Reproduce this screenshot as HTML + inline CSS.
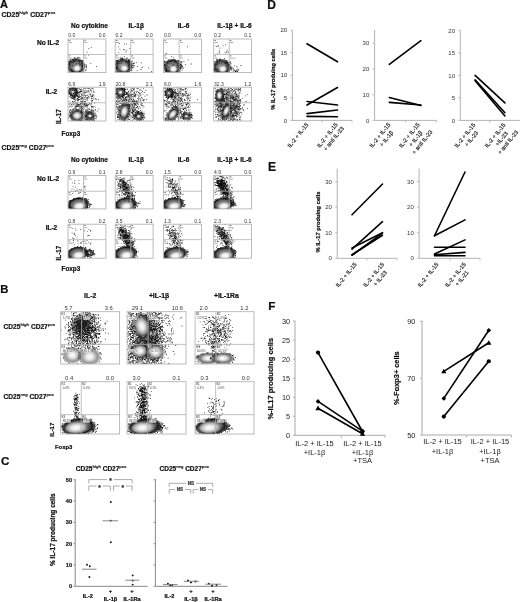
<!DOCTYPE html><html><head><meta charset="utf-8"><style>html,body{margin:0;padding:0;background:#fff;width:520px;height:602px;overflow:hidden}</style></head><body><svg width="520" height="602" viewBox="0 0 520 602" font-family='"Liberation Sans", sans-serif' style="position:absolute;left:0;top:0;filter:blur(0.3px)">
<defs>
<filter id="soft" x="-5%" y="-5%" width="110%" height="110%"><feGaussianBlur stdDeviation="0.4"/></filter>
<radialGradient id="halo" cx="50%" cy="50%" r="50%">
<stop offset="0" stop-color="#111" stop-opacity="0.95"/>
<stop offset="0.65" stop-color="#151515" stop-opacity="0.9"/>
<stop offset="0.85" stop-color="#222" stop-opacity="0.55"/>
<stop offset="1" stop-color="#333" stop-opacity="0"/>
</radialGradient>
<radialGradient id="halo3" cx="50%" cy="50%" r="50%">
<stop offset="0" stop-color="#555" stop-opacity="0.4"/>
<stop offset="0.45" stop-color="#333" stop-opacity="0.65"/>
<stop offset="0.7" stop-color="#1a1a1a" stop-opacity="0.82"/>
<stop offset="0.88" stop-color="#222" stop-opacity="0.6"/>
<stop offset="1" stop-color="#333" stop-opacity="0"/>
</radialGradient>
<radialGradient id="halo4" cx="50%" cy="50%" r="50%">
<stop offset="0" stop-color="#555" stop-opacity="0.5"/>
<stop offset="0.6" stop-color="#2a2a2a" stop-opacity="0.75"/>
<stop offset="0.8" stop-color="#111" stop-opacity="0.95"/>
<stop offset="0.92" stop-color="#222" stop-opacity="0.6"/>
<stop offset="1" stop-color="#333" stop-opacity="0"/>
</radialGradient>
<radialGradient id="halo2" cx="50%" cy="50%" r="50%">
<stop offset="0" stop-color="#333" stop-opacity="0.8"/>
<stop offset="0.6" stop-color="#2a2a2a" stop-opacity="0.8"/>
<stop offset="0.85" stop-color="#333" stop-opacity="0.45"/>
<stop offset="1" stop-color="#444" stop-opacity="0"/>
</radialGradient>
<radialGradient id="light2" cx="50%" cy="50%" r="50%">
<stop offset="0" stop-color="#fff" stop-opacity="1"/>
<stop offset="0.35" stop-color="#f0f0f0" stop-opacity="0.95"/>
<stop offset="0.7" stop-color="#c8c8c8" stop-opacity="0.7"/>
<stop offset="1" stop-color="#999" stop-opacity="0"/>
</radialGradient>
<radialGradient id="light" cx="50%" cy="50%" r="50%">
<stop offset="0" stop-color="#fff" stop-opacity="1"/>
<stop offset="0.45" stop-color="#f2f2f2" stop-opacity="0.95"/>
<stop offset="0.75" stop-color="#bbb" stop-opacity="0.6"/>
<stop offset="1" stop-color="#888" stop-opacity="0"/>
</radialGradient>
</defs>
<rect width="520" height="602" fill="#fff"/>
<text x="0.0" y="8.1" font-size="11" font-weight="bold" stroke="#111" stroke-width="0.22" text-anchor="start" fill="#111">A</text>
<text x="1.6" y="16.6" font-size="6.9" font-weight="bold" stroke="#111" stroke-width="0.2" text-anchor="start" fill="#111">CD25<tspan font-size="4.28" dy="-2.90" stroke-width="0.1">high</tspan><tspan dy="2.90"> CD27</tspan><tspan font-size="4.28" dy="-2.90" stroke-width="0.1">pos</tspan></text>
<text x="89.4" y="28.3" font-size="6.5" font-weight="bold" stroke="#111" stroke-width="0.22" text-anchor="middle" fill="#111">No cytokine</text>
<text x="136.2" y="28.3" font-size="6.5" font-weight="bold" stroke="#111" stroke-width="0.22" text-anchor="middle" fill="#111">IL-1&#946;</text>
<text x="183.6" y="28.3" font-size="6.5" font-weight="bold" stroke="#111" stroke-width="0.22" text-anchor="middle" fill="#111">IL-6</text>
<text x="234.5" y="28.3" font-size="6.5" font-weight="bold" stroke="#111" stroke-width="0.22" text-anchor="middle" fill="#111">IL-1&#946; + IL-6</text>
<text x="59.3" y="44.7" font-size="6.6" font-weight="bold" stroke="#111" stroke-width="0.22" text-anchor="end" fill="#111">No IL-2</text>
<text x="57.2" y="93.5" font-size="6.5" font-weight="bold" stroke="#111" stroke-width="0.22" text-anchor="end" fill="#111">IL-2</text>
<text x="61.0" y="124.0" font-size="6.3" font-weight="bold" stroke="#111" stroke-width="0.22" text-anchor="start" fill="#111" transform="rotate(-90 61.0 124.0)">IL-17</text>
<text x="61.6" y="135.9" font-size="6.3" font-weight="bold" stroke="#111" stroke-width="0.22" text-anchor="start" fill="#111">Foxp3</text>
<text x="1.6" y="150.2" font-size="6.9" font-weight="bold" stroke="#111" stroke-width="0.2" text-anchor="start" fill="#111">CD25<tspan font-size="4.28" dy="-2.90" stroke-width="0.1">neg</tspan><tspan dy="2.90"> CD27</tspan><tspan font-size="4.28" dy="-2.90" stroke-width="0.1">pos</tspan></text>
<text x="89.4" y="161.9" font-size="6.5" font-weight="bold" stroke="#111" stroke-width="0.22" text-anchor="middle" fill="#111">No cytokine</text>
<text x="136.2" y="161.9" font-size="6.5" font-weight="bold" stroke="#111" stroke-width="0.22" text-anchor="middle" fill="#111">IL-1&#946;</text>
<text x="183.6" y="161.9" font-size="6.5" font-weight="bold" stroke="#111" stroke-width="0.22" text-anchor="middle" fill="#111">IL-6</text>
<text x="234.5" y="161.9" font-size="6.5" font-weight="bold" stroke="#111" stroke-width="0.22" text-anchor="middle" fill="#111">IL-1&#946; + IL-6</text>
<text x="59.3" y="181.10000000000002" font-size="6.6" font-weight="bold" stroke="#111" stroke-width="0.22" text-anchor="end" fill="#111">No IL-2</text>
<text x="57.2" y="229.9" font-size="6.5" font-weight="bold" stroke="#111" stroke-width="0.22" text-anchor="end" fill="#111">IL-2</text>
<text x="61.0" y="260.4" font-size="6.3" font-weight="bold" stroke="#111" stroke-width="0.22" text-anchor="start" fill="#111" transform="rotate(-90 61.0 260.4)">IL-17</text>
<text x="61.6" y="270.5" font-size="6.3" font-weight="bold" stroke="#111" stroke-width="0.22" text-anchor="start" fill="#111">Foxp3</text>
<text x="68.3" y="37.4" font-size="5" text-anchor="start" fill="#333">0.0</text>
<text x="105.60000000000001" y="37.4" font-size="5" text-anchor="end" fill="#333">0.0</text>
<svg x="68.0" y="39.0" width="37.9" height="33.6" viewBox="0 0 37.9 33.6" overflow="hidden"><g filter="url(#soft)">
<path d="M20.3 15.6h0.8v0.8h-0.8zM20.5 9.2h0.8v0.8h-0.8zM28.1 26.9h0.8v0.8h-0.8zM22.9 7.9h0.8v0.8h-0.8zM18.7 12.7h0.8v0.8h-0.8zM9.9 30.6h0.8v0.8h-0.8z" fill="#111"/>
<path d="M11.0 25.2h0.8v0.8h-0.8zM13.8 21.7h0.8v0.8h-0.8zM6.5 27.1h0.8v0.8h-0.8zM7.0 21.9h0.8v0.8h-0.8zM6.6 20.6h0.8v0.8h-0.8zM15.1 29.5h0.8v0.8h-0.8zM22.4 24.2h0.8v0.8h-0.8zM8.4 24.5h0.8v0.8h-0.8zM12.1 25.2h0.8v0.8h-0.8zM13.4 24.2h0.8v0.8h-0.8zM2.5 30.6h0.8v0.8h-0.8zM7.0 29.1h0.8v0.8h-0.8zM7.8 25.7h0.8v0.8h-0.8zM1.3 21.9h0.8v0.8h-0.8zM11.4 27.2h0.8v0.8h-0.8zM8.3 25.7h0.8v0.8h-0.8zM0.4 25.3h0.8v0.8h-0.8zM6.1 21.7h0.8v0.8h-0.8zM11.2 23.7h0.8v0.8h-0.8zM5.1 23.9h0.8v0.8h-0.8zM7.5 24.2h0.8v0.8h-0.8zM9.8 23.7h0.8v0.8h-0.8zM14.0 30.5h0.8v0.8h-0.8zM14.4 24.0h0.8v0.8h-0.8zM6.3 26.5h0.8v0.8h-0.8zM8.4 29.8h0.8v0.8h-0.8zM10.6 26.7h0.8v0.8h-0.8zM6.6 25.8h0.8v0.8h-0.8zM4.0 20.2h0.8v0.8h-0.8zM10.4 21.4h0.8v0.8h-0.8zM6.4 28.1h0.8v0.8h-0.8zM17.3 25.4h0.8v0.8h-0.8zM7.4 27.8h0.8v0.8h-0.8zM14.2 27.0h0.8v0.8h-0.8zM5.2 23.5h0.8v0.8h-0.8zM14.5 21.5h0.8v0.8h-0.8zM9.8 29.3h0.8v0.8h-0.8zM14.5 23.0h0.8v0.8h-0.8zM8.1 24.5h0.8v0.8h-0.8zM4.0 25.4h0.8v0.8h-0.8zM5.3 27.2h0.8v0.8h-0.8zM4.2 23.1h0.8v0.8h-0.8zM6.5 25.3h0.8v0.8h-0.8zM8.3 25.7h0.8v0.8h-0.8zM15.6 25.3h0.8v0.8h-0.8zM11.5 25.7h0.8v0.8h-0.8zM13.7 27.5h0.8v0.8h-0.8zM15.1 25.0h0.8v0.8h-0.8zM4.4 26.1h0.8v0.8h-0.8z" fill="#111"/>
<ellipse cx="7.96" cy="27.22" rx="9.85" ry="8.40" fill="url(#halo3)" opacity="1.0" transform="rotate(0 7.96 27.22)"/>
<path d="M-0.2 27.2h0.8v0.8h-0.8zM6.4 18.5h0.8v0.8h-0.8zM5.4 20.8h0.8v0.8h-0.8zM1.8 20.1h0.8v0.8h-0.8zM12.0 32.2h0.8v0.8h-0.8zM1.1 21.8h0.8v0.8h-0.8zM2.5 21.4h0.8v0.8h-0.8zM11.9 21.0h0.8v0.8h-0.8zM11.7 18.7h0.8v0.8h-0.8zM-1.4 30.6h0.8v0.8h-0.8zM5.9 18.6h0.8v0.8h-0.8zM17.9 29.8h0.8v0.8h-0.8zM9.1 18.2h0.8v0.8h-0.8zM15.2 26.5h0.8v0.8h-0.8zM4.8 22.3h0.8v0.8h-0.8zM-0.7 22.2h0.8v0.8h-0.8zM10.7 33.3h0.8v0.8h-0.8zM14.0 30.0h0.8v0.8h-0.8zM9.6 32.5h0.8v0.8h-0.8zM18.2 27.2h0.8v0.8h-0.8zM-1.4 29.1h0.8v0.8h-0.8zM5.1 20.4h0.8v0.8h-0.8zM-0.2 30.8h0.8v0.8h-0.8zM1.2 25.1h0.8v0.8h-0.8zM2.0 33.0h0.8v0.8h-0.8zM3.1 23.0h0.8v0.8h-0.8zM0.1 21.7h0.8v0.8h-0.8zM14.3 21.6h0.8v0.8h-0.8zM15.2 30.1h0.8v0.8h-0.8zM13.2 30.0h0.8v0.8h-0.8zM7.7 34.2h0.8v0.8h-0.8zM8.5 19.5h0.8v0.8h-0.8zM6.1 35.0h0.8v0.8h-0.8zM-0.4 26.9h0.8v0.8h-0.8zM7.3 34.1h0.8v0.8h-0.8zM2.8 34.0h0.8v0.8h-0.8zM-0.1 28.0h0.8v0.8h-0.8zM-0.2 28.2h0.8v0.8h-0.8zM4.5 19.7h0.8v0.8h-0.8zM10.5 20.8h0.8v0.8h-0.8zM10.8 18.5h0.8v0.8h-0.8zM17.4 26.8h0.8v0.8h-0.8zM17.2 30.7h0.8v0.8h-0.8zM11.1 22.8h0.8v0.8h-0.8zM4.4 32.9h0.8v0.8h-0.8zM7.4 19.6h0.8v0.8h-0.8zM6.6 32.9h0.8v0.8h-0.8zM11.1 32.0h0.8v0.8h-0.8zM10.6 18.5h0.8v0.8h-0.8zM9.8 35.2h0.8v0.8h-0.8zM14.5 25.4h0.8v0.8h-0.8zM0.7 24.2h0.8v0.8h-0.8zM18.0 25.8h0.8v0.8h-0.8zM14.8 27.8h0.8v0.8h-0.8zM13.0 21.1h0.8v0.8h-0.8zM-1.8 26.0h0.8v0.8h-0.8zM8.9 18.2h0.8v0.8h-0.8zM5.1 31.9h0.8v0.8h-0.8zM5.8 22.3h0.8v0.8h-0.8zM-1.4 23.8h0.8v0.8h-0.8zM0.9 31.8h0.8v0.8h-0.8zM11.1 32.2h0.8v0.8h-0.8zM-0.0 21.9h0.8v0.8h-0.8zM14.0 27.2h0.8v0.8h-0.8zM15.4 23.8h0.8v0.8h-0.8zM3.4 32.7h0.8v0.8h-0.8zM1.2 24.2h0.8v0.8h-0.8zM14.2 34.1h0.8v0.8h-0.8zM5.6 19.9h0.8v0.8h-0.8zM6.1 18.2h0.8v0.8h-0.8zM12.5 34.8h0.8v0.8h-0.8zM11.3 21.4h0.8v0.8h-0.8zM0.3 24.7h0.8v0.8h-0.8zM10.7 33.7h0.8v0.8h-0.8zM14.0 34.5h0.8v0.8h-0.8zM11.4 34.3h0.8v0.8h-0.8zM-1.7 23.3h0.8v0.8h-0.8zM10.0 20.9h0.8v0.8h-0.8zM3.6 30.9h0.8v0.8h-0.8zM15.0 29.2h0.8v0.8h-0.8zM13.8 25.6h0.8v0.8h-0.8zM12.0 34.1h0.8v0.8h-0.8zM3.6 31.7h0.8v0.8h-0.8zM13.8 25.5h0.8v0.8h-0.8zM1.4 23.3h0.8v0.8h-0.8zM4.1 32.1h0.8v0.8h-0.8zM12.1 33.0h0.8v0.8h-0.8zM8.1 20.2h0.8v0.8h-0.8zM9.7 18.6h0.8v0.8h-0.8zM12.7 35.0h0.8v0.8h-0.8zM1.0 23.9h0.8v0.8h-0.8zM-2.3 26.5h0.8v0.8h-0.8zM3.0 30.6h0.8v0.8h-0.8zM14.2 25.8h0.8v0.8h-0.8zM15.4 32.2h0.8v0.8h-0.8zM5.2 33.0h0.8v0.8h-0.8zM1.9 20.1h0.8v0.8h-0.8zM2.1 34.5h0.8v0.8h-0.8zM1.5 22.0h0.8v0.8h-0.8zM2.1 26.2h0.8v0.8h-0.8zM13.0 33.8h0.8v0.8h-0.8zM5.7 22.1h0.8v0.8h-0.8zM2.6 21.9h0.8v0.8h-0.8zM1.0 24.1h0.8v0.8h-0.8zM9.5 33.6h0.8v0.8h-0.8zM14.7 26.1h0.8v0.8h-0.8zM13.5 21.7h0.8v0.8h-0.8zM16.8 31.0h0.8v0.8h-0.8zM17.9 28.1h0.8v0.8h-0.8zM2.4 34.8h0.8v0.8h-0.8z" fill="#111"/>
<ellipse cx="9.10" cy="29.23" rx="4.73" ry="4.03" fill="url(#light)" transform="rotate(0 9.10 29.23)"/>
</g></svg>
<rect x="68.0" y="39.0" width="37.9" height="33.6" fill="none" stroke="#b0b0b0" stroke-width="0.85"/>
<line x1="83.539" y1="39.0" x2="83.539" y2="72.6" stroke="#b0b0b0" stroke-width="0.8"/>
<line x1="68.0" y1="54.456" x2="105.9" y2="54.456" stroke="#b0b0b0" stroke-width="0.8"/>
<rect x="68.8" y="40.0" width="1.4" height="0.8" fill="#555"/>
<rect x="68.8" y="42.2" width="3" height="0.7" fill="#888"/>
<rect x="84.3" y="40.0" width="1.4" height="0.8" fill="#555"/>
<rect x="84.3" y="42.2" width="3" height="0.7" fill="#888"/>
<rect x="68.8" y="55.5" width="1.4" height="0.8" fill="#555"/>
<rect x="68.8" y="57.7" width="3" height="0.7" fill="#888"/>
<rect x="84.3" y="55.5" width="1.4" height="0.8" fill="#555"/>
<rect x="84.3" y="57.7" width="3" height="0.7" fill="#888"/>
<text x="115.5" y="37.4" font-size="5" text-anchor="start" fill="#333">0.2</text>
<text x="152.79999999999998" y="37.4" font-size="5" text-anchor="end" fill="#333">0.0</text>
<svg x="115.2" y="39.0" width="37.9" height="33.6" viewBox="0 0 37.9 33.6" overflow="hidden"><g filter="url(#soft)">
<path d="M7.9 10.2h0.8v0.8h-0.8zM14.2 9.2h0.8v0.8h-0.8zM8.6 10.5h0.8v0.8h-0.8zM4.3 9.7h0.8v0.8h-0.8zM10.3 12.8h0.8v0.8h-0.8zM3.1 7.4h0.8v0.8h-0.8zM3.1 13.0h0.8v0.8h-0.8zM11.1 4.5h0.8v0.8h-0.8zM14.9 14.7h0.8v0.8h-0.8zM10.6 10.9h0.8v0.8h-0.8zM4.0 4.2h0.8v0.8h-0.8zM8.9 4.7h0.8v0.8h-0.8z" fill="#111"/>
<path d="M20.7 23.0h0.8v0.8h-0.8zM17.6 25.6h0.8v0.8h-0.8zM25.4 30.1h0.8v0.8h-0.8zM26.9 27.7h0.8v0.8h-0.8zM26.5 28.0h0.8v0.8h-0.8zM25.7 23.4h0.8v0.8h-0.8zM36.0 31.9h0.8v0.8h-0.8zM33.0 28.5h0.8v0.8h-0.8z" fill="#111"/>
<path d="M8.1 27.4h0.8v0.8h-0.8zM9.0 26.4h0.8v0.8h-0.8zM10.0 21.8h0.8v0.8h-0.8zM12.3 22.5h0.8v0.8h-0.8zM18.7 23.5h0.8v0.8h-0.8zM12.9 25.2h0.8v0.8h-0.8zM14.2 23.2h0.8v0.8h-0.8zM14.4 24.8h0.8v0.8h-0.8zM15.7 27.3h0.8v0.8h-0.8zM10.2 22.6h0.8v0.8h-0.8zM13.3 26.8h0.8v0.8h-0.8zM17.6 23.9h0.8v0.8h-0.8zM12.2 26.9h0.8v0.8h-0.8zM10.9 25.9h0.8v0.8h-0.8zM10.4 23.2h0.8v0.8h-0.8zM4.5 23.9h0.8v0.8h-0.8zM12.4 30.3h0.8v0.8h-0.8zM14.3 28.7h0.8v0.8h-0.8zM13.3 27.5h0.8v0.8h-0.8zM10.4 27.8h0.8v0.8h-0.8zM18.2 24.1h0.8v0.8h-0.8zM6.1 31.8h0.8v0.8h-0.8zM10.7 28.5h0.8v0.8h-0.8zM13.8 21.4h0.8v0.8h-0.8zM21.5 31.2h0.8v0.8h-0.8zM10.3 27.7h0.8v0.8h-0.8zM10.1 22.2h0.8v0.8h-0.8zM8.9 26.5h0.8v0.8h-0.8zM15.0 27.6h0.8v0.8h-0.8zM9.8 29.8h0.8v0.8h-0.8zM5.7 27.9h0.8v0.8h-0.8zM15.0 24.2h0.8v0.8h-0.8zM0.7 22.2h0.8v0.8h-0.8zM10.6 27.0h0.8v0.8h-0.8zM17.1 21.8h0.8v0.8h-0.8zM9.5 27.4h0.8v0.8h-0.8zM8.7 17.2h0.8v0.8h-0.8zM13.4 33.0h0.8v0.8h-0.8zM14.4 22.1h0.8v0.8h-0.8zM7.4 25.9h0.8v0.8h-0.8zM21.7 27.3h0.8v0.8h-0.8zM10.0 30.4h0.8v0.8h-0.8zM9.1 31.5h0.8v0.8h-0.8zM6.1 23.6h0.8v0.8h-0.8zM13.0 30.0h0.8v0.8h-0.8zM12.7 26.2h0.8v0.8h-0.8zM0.5 22.8h0.8v0.8h-0.8zM6.5 23.4h0.8v0.8h-0.8zM12.4 24.1h0.8v0.8h-0.8zM13.4 25.5h0.8v0.8h-0.8z" fill="#111"/>
<ellipse cx="7.96" cy="27.22" rx="9.85" ry="8.40" fill="url(#halo3)" opacity="1.0" transform="rotate(0 7.96 27.22)"/>
<path d="M2.1 29.0h0.8v0.8h-0.8zM11.4 33.1h0.8v0.8h-0.8zM2.1 24.8h0.8v0.8h-0.8zM1.3 33.9h0.8v0.8h-0.8zM17.0 26.3h0.8v0.8h-0.8zM4.8 20.2h0.8v0.8h-0.8zM11.8 31.2h0.8v0.8h-0.8zM18.3 28.2h0.8v0.8h-0.8zM4.7 18.6h0.8v0.8h-0.8zM16.9 28.2h0.8v0.8h-0.8zM-1.5 28.1h0.8v0.8h-0.8zM3.4 35.6h0.8v0.8h-0.8zM15.6 30.6h0.8v0.8h-0.8zM7.1 18.4h0.8v0.8h-0.8zM7.2 19.2h0.8v0.8h-0.8zM10.8 18.7h0.8v0.8h-0.8zM2.4 33.6h0.8v0.8h-0.8zM16.2 22.1h0.8v0.8h-0.8zM-0.5 31.4h0.8v0.8h-0.8zM13.7 21.6h0.8v0.8h-0.8zM2.4 22.5h0.8v0.8h-0.8zM0.2 23.4h0.8v0.8h-0.8zM15.9 30.9h0.8v0.8h-0.8zM18.2 26.8h0.8v0.8h-0.8zM6.9 20.6h0.8v0.8h-0.8zM7.1 19.8h0.8v0.8h-0.8zM-1.4 30.3h0.8v0.8h-0.8zM16.3 31.3h0.8v0.8h-0.8zM16.7 28.6h0.8v0.8h-0.8zM1.0 27.9h0.8v0.8h-0.8zM5.3 20.5h0.8v0.8h-0.8zM0.1 21.3h0.8v0.8h-0.8zM7.7 32.3h0.8v0.8h-0.8zM5.0 34.7h0.8v0.8h-0.8zM9.9 32.7h0.8v0.8h-0.8zM15.6 22.9h0.8v0.8h-0.8zM-1.7 30.4h0.8v0.8h-0.8zM3.7 34.2h0.8v0.8h-0.8zM10.5 33.7h0.8v0.8h-0.8zM11.5 18.9h0.8v0.8h-0.8zM13.7 22.7h0.8v0.8h-0.8zM1.5 24.0h0.8v0.8h-0.8zM13.4 32.6h0.8v0.8h-0.8zM13.2 19.9h0.8v0.8h-0.8zM5.4 18.5h0.8v0.8h-0.8zM6.8 32.9h0.8v0.8h-0.8zM1.0 29.1h0.8v0.8h-0.8zM9.7 33.8h0.8v0.8h-0.8zM2.1 22.2h0.8v0.8h-0.8zM3.9 35.1h0.8v0.8h-0.8zM16.0 26.4h0.8v0.8h-0.8zM13.4 29.6h0.8v0.8h-0.8zM12.2 23.5h0.8v0.8h-0.8zM5.7 20.0h0.8v0.8h-0.8zM4.4 35.0h0.8v0.8h-0.8zM14.5 27.9h0.8v0.8h-0.8zM2.2 28.7h0.8v0.8h-0.8zM11.4 21.9h0.8v0.8h-0.8zM11.8 31.3h0.8v0.8h-0.8zM2.4 22.2h0.8v0.8h-0.8zM1.7 21.5h0.8v0.8h-0.8zM11.7 18.7h0.8v0.8h-0.8zM5.2 21.8h0.8v0.8h-0.8zM1.2 28.1h0.8v0.8h-0.8zM16.2 27.7h0.8v0.8h-0.8zM6.4 21.6h0.8v0.8h-0.8zM6.9 33.6h0.8v0.8h-0.8zM5.2 20.4h0.8v0.8h-0.8zM0.7 21.8h0.8v0.8h-0.8zM0.3 32.4h0.8v0.8h-0.8zM13.2 24.2h0.8v0.8h-0.8zM16.6 23.9h0.8v0.8h-0.8zM13.5 32.3h0.8v0.8h-0.8zM0.6 20.9h0.8v0.8h-0.8zM1.7 32.4h0.8v0.8h-0.8zM15.1 21.4h0.8v0.8h-0.8zM15.7 24.8h0.8v0.8h-0.8zM3.9 22.4h0.8v0.8h-0.8zM6.2 18.9h0.8v0.8h-0.8zM2.0 21.0h0.8v0.8h-0.8zM10.3 35.8h0.8v0.8h-0.8zM18.6 26.1h0.8v0.8h-0.8zM-1.6 25.3h0.8v0.8h-0.8zM3.5 35.2h0.8v0.8h-0.8zM12.7 22.1h0.8v0.8h-0.8zM15.0 30.6h0.8v0.8h-0.8zM-1.3 24.6h0.8v0.8h-0.8zM1.9 27.6h0.8v0.8h-0.8zM10.2 22.3h0.8v0.8h-0.8zM10.0 21.7h0.8v0.8h-0.8zM3.0 34.4h0.8v0.8h-0.8zM12.2 31.6h0.8v0.8h-0.8zM-1.5 26.4h0.8v0.8h-0.8zM12.9 20.5h0.8v0.8h-0.8zM15.8 24.8h0.8v0.8h-0.8zM14.0 25.5h0.8v0.8h-0.8zM9.5 34.4h0.8v0.8h-0.8zM5.6 35.1h0.8v0.8h-0.8zM2.5 21.7h0.8v0.8h-0.8zM12.8 21.1h0.8v0.8h-0.8zM5.0 33.4h0.8v0.8h-0.8zM13.8 19.9h0.8v0.8h-0.8zM10.6 35.5h0.8v0.8h-0.8zM16.3 25.8h0.8v0.8h-0.8zM1.8 24.6h0.8v0.8h-0.8zM-0.2 25.6h0.8v0.8h-0.8zM3.2 24.0h0.8v0.8h-0.8zM16.3 25.8h0.8v0.8h-0.8zM-0.0 32.1h0.8v0.8h-0.8zM0.3 24.5h0.8v0.8h-0.8z" fill="#111"/>
<ellipse cx="9.10" cy="29.23" rx="4.73" ry="4.03" fill="url(#light)" transform="rotate(0 9.10 29.23)"/>
</g></svg>
<rect x="115.2" y="39.0" width="37.9" height="33.6" fill="none" stroke="#b0b0b0" stroke-width="0.85"/>
<line x1="130.739" y1="39.0" x2="130.739" y2="72.6" stroke="#b0b0b0" stroke-width="0.8"/>
<line x1="115.2" y1="54.456" x2="153.1" y2="54.456" stroke="#b0b0b0" stroke-width="0.8"/>
<rect x="116.0" y="40.0" width="1.4" height="0.8" fill="#555"/>
<rect x="116.0" y="42.2" width="3" height="0.7" fill="#888"/>
<rect x="131.5" y="40.0" width="1.4" height="0.8" fill="#555"/>
<rect x="131.5" y="42.2" width="3" height="0.7" fill="#888"/>
<rect x="116.0" y="55.5" width="1.4" height="0.8" fill="#555"/>
<rect x="116.0" y="57.7" width="3" height="0.7" fill="#888"/>
<rect x="131.5" y="55.5" width="1.4" height="0.8" fill="#555"/>
<rect x="131.5" y="57.7" width="3" height="0.7" fill="#888"/>
<text x="163.9" y="37.4" font-size="5" text-anchor="start" fill="#333">0.0</text>
<text x="201.2" y="37.4" font-size="5" text-anchor="end" fill="#333">0.0</text>
<svg x="163.6" y="39.0" width="37.9" height="33.6" viewBox="0 0 37.9 33.6" overflow="hidden"><g filter="url(#soft)">
<path d="M17.2 22.1h0.8v0.8h-0.8zM23.4 7.4h0.8v0.8h-0.8zM2.2 14.1h0.8v0.8h-0.8zM10.7 26.5h0.8v0.8h-0.8zM24.1 20.5h0.8v0.8h-0.8zM19.9 22.2h0.8v0.8h-0.8z" fill="#111"/>
<path d="M12.7 28.7h0.8v0.8h-0.8zM15.1 32.1h0.8v0.8h-0.8zM18.0 28.1h0.8v0.8h-0.8zM16.2 28.2h0.8v0.8h-0.8zM6.9 28.8h0.8v0.8h-0.8zM10.0 25.3h0.8v0.8h-0.8zM19.6 28.7h0.8v0.8h-0.8zM7.3 25.8h0.8v0.8h-0.8zM21.4 25.2h0.8v0.8h-0.8zM13.4 28.2h0.8v0.8h-0.8zM12.3 28.1h0.8v0.8h-0.8zM7.3 24.5h0.8v0.8h-0.8zM9.0 24.8h0.8v0.8h-0.8zM13.8 31.3h0.8v0.8h-0.8zM5.3 27.9h0.8v0.8h-0.8zM4.9 23.7h0.8v0.8h-0.8zM8.6 26.4h0.8v0.8h-0.8zM7.6 17.2h0.8v0.8h-0.8zM16.7 25.1h0.8v0.8h-0.8zM6.6 28.4h0.8v0.8h-0.8zM6.8 21.2h0.8v0.8h-0.8zM12.2 27.5h0.8v0.8h-0.8zM5.6 28.9h0.8v0.8h-0.8zM11.6 22.2h0.8v0.8h-0.8zM18.5 27.0h0.8v0.8h-0.8zM4.1 27.6h0.8v0.8h-0.8zM10.4 29.4h0.8v0.8h-0.8zM3.0 29.6h0.8v0.8h-0.8zM14.5 28.4h0.8v0.8h-0.8zM12.8 30.5h0.8v0.8h-0.8zM13.3 26.5h0.8v0.8h-0.8zM5.6 29.8h0.8v0.8h-0.8zM14.6 27.1h0.8v0.8h-0.8zM10.5 28.5h0.8v0.8h-0.8zM15.0 32.5h0.8v0.8h-0.8zM7.4 27.5h0.8v0.8h-0.8zM9.4 18.5h0.8v0.8h-0.8zM13.4 26.0h0.8v0.8h-0.8zM10.1 22.8h0.8v0.8h-0.8zM9.5 26.3h0.8v0.8h-0.8zM16.1 27.0h0.8v0.8h-0.8zM27.1 24.6h0.8v0.8h-0.8zM8.4 25.9h0.8v0.8h-0.8zM5.7 31.2h0.8v0.8h-0.8zM12.9 21.7h0.8v0.8h-0.8zM10.2 30.0h0.8v0.8h-0.8zM2.6 26.5h0.8v0.8h-0.8z" fill="#111"/>
<ellipse cx="8.72" cy="27.89" rx="9.85" ry="8.40" fill="url(#halo3)" opacity="1.0" transform="rotate(0 8.72 27.89)"/>
<path d="M14.0 24.4h0.8v0.8h-0.8zM6.1 36.3h0.8v0.8h-0.8zM6.8 36.8h0.8v0.8h-0.8zM-0.6 27.1h0.8v0.8h-0.8zM6.8 22.2h0.8v0.8h-0.8zM7.2 33.9h0.8v0.8h-0.8zM4.9 20.6h0.8v0.8h-0.8zM15.7 34.3h0.8v0.8h-0.8zM2.5 30.8h0.8v0.8h-0.8zM-1.1 31.5h0.8v0.8h-0.8zM0.4 25.1h0.8v0.8h-0.8zM18.0 23.5h0.8v0.8h-0.8zM9.2 21.1h0.8v0.8h-0.8zM-0.1 23.2h0.8v0.8h-0.8zM10.9 20.6h0.8v0.8h-0.8zM4.3 33.3h0.8v0.8h-0.8zM7.9 20.5h0.8v0.8h-0.8zM18.1 28.7h0.8v0.8h-0.8zM16.8 23.1h0.8v0.8h-0.8zM17.0 22.6h0.8v0.8h-0.8zM-0.8 26.1h0.8v0.8h-0.8zM4.1 31.6h0.8v0.8h-0.8zM4.2 33.0h0.8v0.8h-0.8zM17.2 24.7h0.8v0.8h-0.8zM0.0 25.9h0.8v0.8h-0.8zM14.8 33.0h0.8v0.8h-0.8zM6.3 21.5h0.8v0.8h-0.8zM8.9 34.6h0.8v0.8h-0.8zM4.6 35.0h0.8v0.8h-0.8zM12.7 32.1h0.8v0.8h-0.8zM5.1 35.2h0.8v0.8h-0.8zM9.3 20.1h0.8v0.8h-0.8zM15.8 25.3h0.8v0.8h-0.8zM16.9 29.2h0.8v0.8h-0.8zM2.3 29.9h0.8v0.8h-0.8zM5.0 22.3h0.8v0.8h-0.8zM9.3 34.3h0.8v0.8h-0.8zM14.3 26.1h0.8v0.8h-0.8zM4.1 32.7h0.8v0.8h-0.8zM11.1 34.4h0.8v0.8h-0.8zM10.6 36.6h0.8v0.8h-0.8zM-0.6 27.8h0.8v0.8h-0.8zM13.0 33.8h0.8v0.8h-0.8zM0.8 22.6h0.8v0.8h-0.8zM8.7 34.9h0.8v0.8h-0.8zM14.8 21.1h0.8v0.8h-0.8zM9.9 35.1h0.8v0.8h-0.8zM9.3 21.2h0.8v0.8h-0.8zM4.5 21.0h0.8v0.8h-0.8zM17.2 26.6h0.8v0.8h-0.8zM5.5 22.0h0.8v0.8h-0.8zM7.9 21.5h0.8v0.8h-0.8zM1.0 27.9h0.8v0.8h-0.8zM6.4 33.1h0.8v0.8h-0.8zM10.0 35.1h0.8v0.8h-0.8zM8.6 33.1h0.8v0.8h-0.8zM11.1 22.0h0.8v0.8h-0.8zM16.9 24.9h0.8v0.8h-0.8zM0.9 33.5h0.8v0.8h-0.8zM14.7 24.0h0.8v0.8h-0.8zM15.1 33.4h0.8v0.8h-0.8zM13.6 21.5h0.8v0.8h-0.8zM10.4 21.3h0.8v0.8h-0.8zM3.4 23.7h0.8v0.8h-0.8zM2.2 31.6h0.8v0.8h-0.8zM2.8 32.3h0.8v0.8h-0.8zM11.1 22.5h0.8v0.8h-0.8zM10.7 33.8h0.8v0.8h-0.8zM17.1 26.6h0.8v0.8h-0.8zM18.2 30.7h0.8v0.8h-0.8zM15.7 21.8h0.8v0.8h-0.8zM2.7 34.2h0.8v0.8h-0.8zM6.5 33.2h0.8v0.8h-0.8zM15.4 21.5h0.8v0.8h-0.8zM11.2 36.4h0.8v0.8h-0.8zM16.1 28.9h0.8v0.8h-0.8zM15.4 28.4h0.8v0.8h-0.8zM13.6 34.8h0.8v0.8h-0.8zM6.7 33.5h0.8v0.8h-0.8zM11.7 33.7h0.8v0.8h-0.8zM14.5 22.1h0.8v0.8h-0.8zM16.1 32.6h0.8v0.8h-0.8zM0.8 26.3h0.8v0.8h-0.8zM-0.3 26.5h0.8v0.8h-0.8zM11.3 21.1h0.8v0.8h-0.8zM3.3 22.6h0.8v0.8h-0.8zM3.5 22.9h0.8v0.8h-0.8zM1.4 31.6h0.8v0.8h-0.8zM7.1 21.8h0.8v0.8h-0.8zM16.1 24.7h0.8v0.8h-0.8zM14.4 21.6h0.8v0.8h-0.8zM17.6 25.7h0.8v0.8h-0.8zM1.6 30.9h0.8v0.8h-0.8zM1.2 22.7h0.8v0.8h-0.8zM12.2 23.2h0.8v0.8h-0.8zM14.7 30.0h0.8v0.8h-0.8zM14.1 30.6h0.8v0.8h-0.8zM15.8 28.2h0.8v0.8h-0.8zM15.8 33.1h0.8v0.8h-0.8zM0.7 21.8h0.8v0.8h-0.8zM18.0 25.9h0.8v0.8h-0.8zM14.5 26.3h0.8v0.8h-0.8zM10.2 36.7h0.8v0.8h-0.8zM1.9 28.8h0.8v0.8h-0.8zM9.1 21.1h0.8v0.8h-0.8zM1.5 26.2h0.8v0.8h-0.8zM9.0 33.3h0.8v0.8h-0.8zM0.4 22.3h0.8v0.8h-0.8zM18.4 27.2h0.8v0.8h-0.8zM15.8 25.2h0.8v0.8h-0.8z" fill="#111"/>
<ellipse cx="9.85" cy="29.90" rx="4.73" ry="4.03" fill="url(#light)" transform="rotate(0 9.85 29.90)"/>
</g></svg>
<rect x="163.6" y="39.0" width="37.9" height="33.6" fill="none" stroke="#b0b0b0" stroke-width="0.85"/>
<line x1="179.13899999999998" y1="39.0" x2="179.13899999999998" y2="72.6" stroke="#b0b0b0" stroke-width="0.8"/>
<line x1="163.6" y1="54.456" x2="201.5" y2="54.456" stroke="#b0b0b0" stroke-width="0.8"/>
<rect x="164.4" y="40.0" width="1.4" height="0.8" fill="#555"/>
<rect x="164.4" y="42.2" width="3" height="0.7" fill="#888"/>
<rect x="179.9" y="40.0" width="1.4" height="0.8" fill="#555"/>
<rect x="179.9" y="42.2" width="3" height="0.7" fill="#888"/>
<rect x="164.4" y="55.5" width="1.4" height="0.8" fill="#555"/>
<rect x="164.4" y="57.7" width="3" height="0.7" fill="#888"/>
<rect x="179.9" y="55.5" width="1.4" height="0.8" fill="#555"/>
<rect x="179.9" y="57.7" width="3" height="0.7" fill="#888"/>
<text x="214.0" y="37.4" font-size="5" text-anchor="start" fill="#333">0.2</text>
<text x="251.29999999999998" y="37.4" font-size="5" text-anchor="end" fill="#333">0.1</text>
<svg x="213.7" y="39.0" width="37.9" height="33.6" viewBox="0 0 37.9 33.6" overflow="hidden"><g filter="url(#soft)">
<path d="M5.3 11.6h0.8v0.8h-0.8zM11.0 13.4h0.8v0.8h-0.8zM4.4 6.6h0.8v0.8h-0.8zM3.8 6.5h0.8v0.8h-0.8zM11.6 5.5h0.8v0.8h-0.8zM8.9 6.4h0.8v0.8h-0.8zM5.8 8.8h0.8v0.8h-0.8zM13.0 10.8h0.8v0.8h-0.8zM2.1 7.1h0.8v0.8h-0.8zM3.8 13.7h0.8v0.8h-0.8zM12.6 13.0h0.8v0.8h-0.8zM12.9 12.3h0.8v0.8h-0.8zM14.5 12.8h0.8v0.8h-0.8zM5.3 13.5h0.8v0.8h-0.8z" fill="#111"/>
<path d="M17.4 30.5h0.8v0.8h-0.8zM19.0 29.5h0.8v0.8h-0.8zM19.6 31.6h0.8v0.8h-0.8zM20.8 31.0h0.8v0.8h-0.8zM22.9 27.5h0.8v0.8h-0.8zM24.7 30.0h0.8v0.8h-0.8zM17.7 29.3h0.8v0.8h-0.8zM23.5 32.1h0.8v0.8h-0.8zM19.9 30.6h0.8v0.8h-0.8zM22.0 32.2h0.8v0.8h-0.8zM21.2 32.1h0.8v0.8h-0.8zM19.4 29.2h0.8v0.8h-0.8zM23.0 31.7h0.8v0.8h-0.8zM21.4 31.5h0.8v0.8h-0.8zM22.0 31.7h0.8v0.8h-0.8zM24.2 31.3h0.8v0.8h-0.8zM23.4 29.8h0.8v0.8h-0.8zM20.2 26.4h0.8v0.8h-0.8zM22.4 30.5h0.8v0.8h-0.8zM22.7 27.2h0.8v0.8h-0.8z" fill="#111"/>
<path d="M7.6 24.4h0.8v0.8h-0.8zM1.0 29.4h0.8v0.8h-0.8zM16.2 21.9h0.8v0.8h-0.8zM12.3 32.2h0.8v0.8h-0.8zM4.0 29.7h0.8v0.8h-0.8zM18.0 32.7h0.8v0.8h-0.8zM3.2 22.6h0.8v0.8h-0.8zM11.1 30.4h0.8v0.8h-0.8zM3.7 23.7h0.8v0.8h-0.8zM4.4 30.1h0.8v0.8h-0.8zM7.2 28.2h0.8v0.8h-0.8zM13.3 30.3h0.8v0.8h-0.8zM12.2 27.4h0.8v0.8h-0.8zM15.9 27.9h0.8v0.8h-0.8zM3.7 24.4h0.8v0.8h-0.8zM14.6 26.7h0.8v0.8h-0.8zM8.3 27.1h0.8v0.8h-0.8zM26.8 26.1h0.8v0.8h-0.8zM12.5 27.8h0.8v0.8h-0.8zM8.7 30.4h0.8v0.8h-0.8zM14.4 27.6h0.8v0.8h-0.8zM3.2 30.6h0.8v0.8h-0.8zM13.9 26.0h0.8v0.8h-0.8zM3.9 25.5h0.8v0.8h-0.8zM7.5 23.4h0.8v0.8h-0.8zM15.2 26.7h0.8v0.8h-0.8zM16.3 22.9h0.8v0.8h-0.8zM9.1 31.0h0.8v0.8h-0.8zM11.7 23.8h0.8v0.8h-0.8zM5.5 24.2h0.8v0.8h-0.8zM9.6 28.6h0.8v0.8h-0.8zM10.8 28.9h0.8v0.8h-0.8zM14.3 26.7h0.8v0.8h-0.8zM16.6 28.8h0.8v0.8h-0.8zM9.1 25.7h0.8v0.8h-0.8zM10.0 23.7h0.8v0.8h-0.8zM3.3 26.4h0.8v0.8h-0.8zM7.4 28.3h0.8v0.8h-0.8zM7.0 26.6h0.8v0.8h-0.8zM11.0 24.6h0.8v0.8h-0.8zM11.0 23.8h0.8v0.8h-0.8zM7.9 29.0h0.8v0.8h-0.8zM12.0 26.2h0.8v0.8h-0.8zM6.1 28.7h0.8v0.8h-0.8zM20.1 18.7h0.8v0.8h-0.8zM15.3 27.0h0.8v0.8h-0.8zM15.6 30.3h0.8v0.8h-0.8zM4.9 32.2h0.8v0.8h-0.8zM7.0 25.4h0.8v0.8h-0.8z" fill="#111"/>
<ellipse cx="7.96" cy="27.89" rx="9.85" ry="8.40" fill="url(#halo3)" opacity="1.0" transform="rotate(0 7.96 27.89)"/>
<path d="M15.1 28.1h0.8v0.8h-0.8zM12.5 23.7h0.8v0.8h-0.8zM0.3 28.8h0.8v0.8h-0.8zM2.4 34.8h0.8v0.8h-0.8zM10.1 35.7h0.8v0.8h-0.8zM2.7 20.1h0.8v0.8h-0.8zM-2.4 26.8h0.8v0.8h-0.8zM-0.2 30.6h0.8v0.8h-0.8zM0.7 22.0h0.8v0.8h-0.8zM13.1 24.6h0.8v0.8h-0.8zM13.5 33.4h0.8v0.8h-0.8zM11.2 21.2h0.8v0.8h-0.8zM4.7 36.5h0.8v0.8h-0.8zM6.1 33.1h0.8v0.8h-0.8zM13.7 29.5h0.8v0.8h-0.8zM7.0 22.5h0.8v0.8h-0.8zM5.8 19.4h0.8v0.8h-0.8zM17.9 27.9h0.8v0.8h-0.8zM-0.0 31.4h0.8v0.8h-0.8zM12.7 20.9h0.8v0.8h-0.8zM5.5 35.9h0.8v0.8h-0.8zM13.7 31.9h0.8v0.8h-0.8zM16.2 27.7h0.8v0.8h-0.8zM6.9 36.2h0.8v0.8h-0.8zM2.3 29.4h0.8v0.8h-0.8zM15.0 29.0h0.8v0.8h-0.8zM2.8 35.7h0.8v0.8h-0.8zM8.1 36.5h0.8v0.8h-0.8zM12.8 22.5h0.8v0.8h-0.8zM17.6 27.5h0.8v0.8h-0.8zM0.8 28.5h0.8v0.8h-0.8zM-2.1 30.0h0.8v0.8h-0.8zM1.3 26.6h0.8v0.8h-0.8zM2.1 32.8h0.8v0.8h-0.8zM11.1 34.8h0.8v0.8h-0.8zM17.7 29.7h0.8v0.8h-0.8zM10.7 32.8h0.8v0.8h-0.8zM1.7 24.5h0.8v0.8h-0.8zM14.2 23.2h0.8v0.8h-0.8zM-2.0 26.7h0.8v0.8h-0.8zM10.1 35.9h0.8v0.8h-0.8zM3.2 22.4h0.8v0.8h-0.8zM13.8 26.6h0.8v0.8h-0.8zM12.3 23.6h0.8v0.8h-0.8zM11.5 23.1h0.8v0.8h-0.8zM15.9 30.2h0.8v0.8h-0.8zM14.4 25.1h0.8v0.8h-0.8zM-0.9 28.5h0.8v0.8h-0.8zM8.3 35.1h0.8v0.8h-0.8zM16.1 28.3h0.8v0.8h-0.8zM8.4 21.4h0.8v0.8h-0.8zM9.1 33.1h0.8v0.8h-0.8zM5.5 21.4h0.8v0.8h-0.8zM16.2 23.7h0.8v0.8h-0.8zM16.4 33.1h0.8v0.8h-0.8zM17.0 24.4h0.8v0.8h-0.8zM12.5 21.0h0.8v0.8h-0.8zM6.3 20.2h0.8v0.8h-0.8zM1.9 24.6h0.8v0.8h-0.8zM14.3 33.9h0.8v0.8h-0.8zM2.9 24.9h0.8v0.8h-0.8zM2.3 22.0h0.8v0.8h-0.8zM-1.7 27.3h0.8v0.8h-0.8zM13.5 23.2h0.8v0.8h-0.8zM11.3 21.3h0.8v0.8h-0.8zM0.8 24.9h0.8v0.8h-0.8zM15.4 25.1h0.8v0.8h-0.8zM15.2 26.0h0.8v0.8h-0.8zM3.1 20.1h0.8v0.8h-0.8zM4.8 21.8h0.8v0.8h-0.8zM15.3 31.2h0.8v0.8h-0.8zM-0.6 32.2h0.8v0.8h-0.8zM10.3 18.9h0.8v0.8h-0.8zM0.4 30.1h0.8v0.8h-0.8zM-0.9 24.7h0.8v0.8h-0.8zM14.1 30.7h0.8v0.8h-0.8zM12.5 33.0h0.8v0.8h-0.8zM4.7 36.6h0.8v0.8h-0.8zM10.7 36.5h0.8v0.8h-0.8zM6.0 33.6h0.8v0.8h-0.8zM14.2 27.0h0.8v0.8h-0.8zM12.9 31.5h0.8v0.8h-0.8zM15.1 30.6h0.8v0.8h-0.8zM9.5 33.4h0.8v0.8h-0.8zM17.3 28.7h0.8v0.8h-0.8zM14.7 29.7h0.8v0.8h-0.8zM-1.5 24.4h0.8v0.8h-0.8zM2.9 21.1h0.8v0.8h-0.8zM5.0 19.9h0.8v0.8h-0.8zM12.0 23.3h0.8v0.8h-0.8zM16.4 30.4h0.8v0.8h-0.8zM-0.5 27.0h0.8v0.8h-0.8zM9.3 22.2h0.8v0.8h-0.8zM5.8 21.3h0.8v0.8h-0.8zM1.7 30.8h0.8v0.8h-0.8zM6.2 35.2h0.8v0.8h-0.8zM-1.8 24.9h0.8v0.8h-0.8zM6.2 35.8h0.8v0.8h-0.8zM15.4 32.3h0.8v0.8h-0.8zM13.4 35.2h0.8v0.8h-0.8zM15.0 26.6h0.8v0.8h-0.8zM10.5 22.3h0.8v0.8h-0.8zM5.8 33.0h0.8v0.8h-0.8zM2.0 29.9h0.8v0.8h-0.8zM5.5 20.7h0.8v0.8h-0.8zM-0.3 31.7h0.8v0.8h-0.8zM8.7 34.3h0.8v0.8h-0.8zM4.1 31.7h0.8v0.8h-0.8zM12.8 24.4h0.8v0.8h-0.8zM15.9 32.9h0.8v0.8h-0.8z" fill="#111"/>
<ellipse cx="9.10" cy="29.90" rx="4.73" ry="4.03" fill="url(#light)" transform="rotate(0 9.10 29.90)"/>
</g></svg>
<rect x="213.7" y="39.0" width="37.9" height="33.6" fill="none" stroke="#b0b0b0" stroke-width="0.85"/>
<line x1="229.23899999999998" y1="39.0" x2="229.23899999999998" y2="72.6" stroke="#b0b0b0" stroke-width="0.8"/>
<line x1="213.7" y1="54.456" x2="251.6" y2="54.456" stroke="#b0b0b0" stroke-width="0.8"/>
<rect x="214.5" y="40.0" width="1.4" height="0.8" fill="#555"/>
<rect x="214.5" y="42.2" width="3" height="0.7" fill="#888"/>
<rect x="230.0" y="40.0" width="1.4" height="0.8" fill="#555"/>
<rect x="230.0" y="42.2" width="3" height="0.7" fill="#888"/>
<rect x="214.5" y="55.5" width="1.4" height="0.8" fill="#555"/>
<rect x="214.5" y="57.7" width="3" height="0.7" fill="#888"/>
<rect x="230.0" y="55.5" width="1.4" height="0.8" fill="#555"/>
<rect x="230.0" y="57.7" width="3" height="0.7" fill="#888"/>
<text x="68.3" y="85.60000000000001" font-size="5" text-anchor="start" fill="#333">6.9</text>
<text x="105.60000000000001" y="85.60000000000001" font-size="5" text-anchor="end" fill="#333">1.9</text>
<svg x="68.0" y="87.2" width="37.9" height="33.8" viewBox="0 0 37.9 33.8" overflow="hidden"><g filter="url(#soft)">
<path d="M24.8 22.9h0.8v0.8h-0.8zM21.1 30.0h0.8v0.8h-0.8zM7.7 21.3h0.8v0.8h-0.8zM24.8 29.0h0.8v0.8h-0.8zM16.0 6.2h0.8v0.8h-0.8zM11.7 32.9h0.8v0.8h-0.8zM3.5 11.0h0.8v0.8h-0.8zM26.0 15.3h0.8v0.8h-0.8zM6.3 11.0h0.8v0.8h-0.8zM24.9 11.6h0.8v0.8h-0.8zM12.1 21.0h0.8v0.8h-0.8zM22.1 16.6h0.8v0.8h-0.8zM2.9 19.3h0.8v0.8h-0.8zM1.7 3.7h0.8v0.8h-0.8zM5.8 23.2h0.8v0.8h-0.8zM8.3 23.1h0.8v0.8h-0.8zM5.1 4.5h0.8v0.8h-0.8zM1.4 23.6h0.8v0.8h-0.8zM23.6 7.8h0.8v0.8h-0.8zM7.1 1.1h0.8v0.8h-0.8zM17.9 10.4h0.8v0.8h-0.8zM4.4 21.7h0.8v0.8h-0.8zM16.7 15.2h0.8v0.8h-0.8zM4.8 21.4h0.8v0.8h-0.8zM15.5 14.7h0.8v0.8h-0.8zM5.1 30.8h0.8v0.8h-0.8zM23.7 23.1h0.8v0.8h-0.8zM27.2 19.5h0.8v0.8h-0.8zM9.9 4.5h0.8v0.8h-0.8zM16.9 17.5h0.8v0.8h-0.8zM12.3 32.9h0.8v0.8h-0.8zM23.0 4.4h0.8v0.8h-0.8zM24.2 0.7h0.8v0.8h-0.8zM18.0 10.9h0.8v0.8h-0.8zM20.1 31.6h0.8v0.8h-0.8zM14.8 25.4h0.8v0.8h-0.8zM2.2 22.3h0.8v0.8h-0.8zM3.9 15.4h0.8v0.8h-0.8zM9.6 3.0h0.8v0.8h-0.8zM20.6 3.7h0.8v0.8h-0.8zM7.6 3.5h0.8v0.8h-0.8zM18.3 10.4h0.8v0.8h-0.8zM1.9 1.6h0.8v0.8h-0.8zM6.6 17.1h0.8v0.8h-0.8zM1.1 1.4h0.8v0.8h-0.8zM18.4 17.8h0.8v0.8h-0.8zM4.3 10.8h0.8v0.8h-0.8zM4.1 9.6h0.8v0.8h-0.8zM11.1 7.7h0.8v0.8h-0.8zM6.0 8.0h0.8v0.8h-0.8zM8.8 18.7h0.8v0.8h-0.8zM24.3 21.7h0.8v0.8h-0.8zM12.7 0.8h0.8v0.8h-0.8zM5.8 21.3h0.8v0.8h-0.8zM11.5 28.2h0.8v0.8h-0.8zM24.9 10.3h0.8v0.8h-0.8zM10.4 10.4h0.8v0.8h-0.8zM18.7 3.9h0.8v0.8h-0.8zM8.1 29.2h0.8v0.8h-0.8zM10.7 32.1h0.8v0.8h-0.8zM11.3 27.8h0.8v0.8h-0.8zM13.0 3.9h0.8v0.8h-0.8zM16.1 7.5h0.8v0.8h-0.8zM25.1 23.4h0.8v0.8h-0.8zM14.8 30.6h0.8v0.8h-0.8zM15.3 32.0h0.8v0.8h-0.8zM19.7 6.5h0.8v0.8h-0.8zM8.6 28.1h0.8v0.8h-0.8zM3.4 32.5h0.8v0.8h-0.8zM1.9 25.0h0.8v0.8h-0.8zM17.2 13.9h0.8v0.8h-0.8zM16.7 19.6h0.8v0.8h-0.8zM10.3 9.9h0.8v0.8h-0.8zM2.1 21.9h0.8v0.8h-0.8zM24.1 12.9h0.8v0.8h-0.8zM23.5 13.6h0.8v0.8h-0.8zM7.5 26.7h0.8v0.8h-0.8zM25.3 3.7h0.8v0.8h-0.8zM23.9 11.0h0.8v0.8h-0.8zM21.3 10.2h0.8v0.8h-0.8zM27.0 11.6h0.8v0.8h-0.8zM6.2 2.4h0.8v0.8h-0.8zM4.3 3.6h0.8v0.8h-0.8zM22.5 1.3h0.8v0.8h-0.8zM3.9 8.4h0.8v0.8h-0.8zM4.5 25.8h0.8v0.8h-0.8zM0.9 22.8h0.8v0.8h-0.8zM10.0 5.4h0.8v0.8h-0.8zM6.9 17.8h0.8v0.8h-0.8zM7.3 13.4h0.8v0.8h-0.8zM11.1 18.1h0.8v0.8h-0.8zM19.4 10.1h0.8v0.8h-0.8zM16.9 23.9h0.8v0.8h-0.8zM8.6 25.5h0.8v0.8h-0.8zM3.0 16.7h0.8v0.8h-0.8zM10.1 4.8h0.8v0.8h-0.8zM18.2 28.3h0.8v0.8h-0.8zM13.6 12.1h0.8v0.8h-0.8zM24.8 32.8h0.8v0.8h-0.8zM17.4 18.9h0.8v0.8h-0.8zM17.7 23.5h0.8v0.8h-0.8zM18.9 18.2h0.8v0.8h-0.8zM20.7 24.9h0.8v0.8h-0.8zM17.9 17.8h0.8v0.8h-0.8zM10.6 7.6h0.8v0.8h-0.8zM14.2 10.6h0.8v0.8h-0.8zM13.3 6.5h0.8v0.8h-0.8zM24.8 4.9h0.8v0.8h-0.8zM24.1 19.1h0.8v0.8h-0.8zM24.9 29.3h0.8v0.8h-0.8zM5.3 9.6h0.8v0.8h-0.8zM27.2 22.1h0.8v0.8h-0.8zM3.0 9.2h0.8v0.8h-0.8zM3.3 10.5h0.8v0.8h-0.8zM2.8 2.0h0.8v0.8h-0.8zM1.9 16.0h0.8v0.8h-0.8zM19.7 17.2h0.8v0.8h-0.8zM18.5 21.9h0.8v0.8h-0.8zM4.3 23.5h0.8v0.8h-0.8zM14.1 14.3h0.8v0.8h-0.8zM26.3 15.5h0.8v0.8h-0.8zM18.9 25.9h0.8v0.8h-0.8zM13.6 5.6h0.8v0.8h-0.8zM5.8 10.1h0.8v0.8h-0.8zM5.8 13.7h0.8v0.8h-0.8zM2.6 25.6h0.8v0.8h-0.8zM21.2 21.3h0.8v0.8h-0.8zM3.8 7.7h0.8v0.8h-0.8zM24.6 29.0h0.8v0.8h-0.8zM20.1 28.9h0.8v0.8h-0.8zM6.3 10.1h0.8v0.8h-0.8zM12.3 16.0h0.8v0.8h-0.8zM10.4 8.6h0.8v0.8h-0.8zM22.3 6.6h0.8v0.8h-0.8zM15.9 27.1h0.8v0.8h-0.8zM4.8 11.6h0.8v0.8h-0.8zM10.8 9.9h0.8v0.8h-0.8zM25.1 29.2h0.8v0.8h-0.8zM4.2 2.8h0.8v0.8h-0.8zM16.5 17.0h0.8v0.8h-0.8zM1.7 28.7h0.8v0.8h-0.8zM24.0 18.9h0.8v0.8h-0.8zM3.1 6.9h0.8v0.8h-0.8zM23.0 22.9h0.8v0.8h-0.8zM12.5 31.0h0.8v0.8h-0.8zM1.9 22.9h0.8v0.8h-0.8zM22.8 27.5h0.8v0.8h-0.8zM3.3 23.5h0.8v0.8h-0.8zM15.7 21.1h0.8v0.8h-0.8zM5.0 31.9h0.8v0.8h-0.8zM26.4 4.5h0.8v0.8h-0.8zM15.4 18.1h0.8v0.8h-0.8zM12.6 11.6h0.8v0.8h-0.8zM7.1 24.4h0.8v0.8h-0.8zM14.3 15.3h0.8v0.8h-0.8zM14.2 9.9h0.8v0.8h-0.8zM24.6 25.6h0.8v0.8h-0.8zM7.7 10.6h0.8v0.8h-0.8zM14.9 21.2h0.8v0.8h-0.8zM24.7 30.8h0.8v0.8h-0.8zM2.4 28.8h0.8v0.8h-0.8zM1.1 19.4h0.8v0.8h-0.8zM21.2 6.5h0.8v0.8h-0.8zM6.8 3.0h0.8v0.8h-0.8zM12.5 27.7h0.8v0.8h-0.8zM0.8 25.2h0.8v0.8h-0.8zM11.1 31.0h0.8v0.8h-0.8zM15.6 15.7h0.8v0.8h-0.8zM8.4 28.2h0.8v0.8h-0.8zM13.1 23.3h0.8v0.8h-0.8zM18.3 27.2h0.8v0.8h-0.8zM8.6 4.1h0.8v0.8h-0.8zM5.8 20.9h0.8v0.8h-0.8zM3.9 1.8h0.8v0.8h-0.8zM10.1 22.2h0.8v0.8h-0.8zM5.5 10.2h0.8v0.8h-0.8zM4.1 32.5h0.8v0.8h-0.8zM24.9 32.7h0.8v0.8h-0.8zM17.6 13.0h0.8v0.8h-0.8zM8.1 11.7h0.8v0.8h-0.8zM21.5 18.3h0.8v0.8h-0.8zM4.2 29.3h0.8v0.8h-0.8zM23.5 1.0h0.8v0.8h-0.8zM3.2 17.1h0.8v0.8h-0.8zM13.4 27.5h0.8v0.8h-0.8zM6.3 32.6h0.8v0.8h-0.8zM10.0 5.5h0.8v0.8h-0.8zM26.7 25.4h0.8v0.8h-0.8zM21.8 6.2h0.8v0.8h-0.8zM26.3 10.5h0.8v0.8h-0.8zM13.1 29.0h0.8v0.8h-0.8zM3.9 1.6h0.8v0.8h-0.8zM17.1 17.2h0.8v0.8h-0.8zM25.9 32.2h0.8v0.8h-0.8zM10.4 25.0h0.8v0.8h-0.8zM1.4 24.0h0.8v0.8h-0.8zM12.6 11.0h0.8v0.8h-0.8zM8.3 15.9h0.8v0.8h-0.8zM12.8 10.8h0.8v0.8h-0.8zM1.4 1.8h0.8v0.8h-0.8zM1.3 28.2h0.8v0.8h-0.8zM11.9 15.6h0.8v0.8h-0.8zM25.1 3.4h0.8v0.8h-0.8zM22.4 29.5h0.8v0.8h-0.8zM12.2 23.6h0.8v0.8h-0.8zM1.4 13.5h0.8v0.8h-0.8zM1.2 24.6h0.8v0.8h-0.8zM26.5 30.8h0.8v0.8h-0.8zM14.7 27.2h0.8v0.8h-0.8zM18.7 0.9h0.8v0.8h-0.8zM9.1 4.0h0.8v0.8h-0.8zM12.2 11.5h0.8v0.8h-0.8zM1.5 1.1h0.8v0.8h-0.8zM3.9 19.0h0.8v0.8h-0.8zM23.0 21.4h0.8v0.8h-0.8zM24.0 8.1h0.8v0.8h-0.8zM7.4 12.7h0.8v0.8h-0.8zM2.6 17.6h0.8v0.8h-0.8zM3.9 2.8h0.8v0.8h-0.8zM23.0 8.8h0.8v0.8h-0.8zM12.7 15.7h0.8v0.8h-0.8zM1.9 2.0h0.8v0.8h-0.8zM23.7 30.3h0.8v0.8h-0.8zM20.8 15.7h0.8v0.8h-0.8zM5.6 5.8h0.8v0.8h-0.8zM14.6 7.7h0.8v0.8h-0.8zM17.2 32.8h0.8v0.8h-0.8zM25.7 8.6h0.8v0.8h-0.8zM7.1 2.0h0.8v0.8h-0.8zM25.3 32.1h0.8v0.8h-0.8zM22.8 24.2h0.8v0.8h-0.8zM16.6 30.5h0.8v0.8h-0.8zM9.1 16.7h0.8v0.8h-0.8zM25.1 20.4h0.8v0.8h-0.8zM10.3 7.1h0.8v0.8h-0.8zM8.3 28.6h0.8v0.8h-0.8zM16.6 23.8h0.8v0.8h-0.8zM23.1 24.4h0.8v0.8h-0.8zM14.8 2.6h0.8v0.8h-0.8zM21.6 8.3h0.8v0.8h-0.8zM5.5 1.8h0.8v0.8h-0.8zM14.1 21.1h0.8v0.8h-0.8zM3.6 4.1h0.8v0.8h-0.8zM12.9 17.4h0.8v0.8h-0.8zM6.8 30.1h0.8v0.8h-0.8zM12.3 8.8h0.8v0.8h-0.8zM22.0 26.0h0.8v0.8h-0.8zM9.0 12.0h0.8v0.8h-0.8zM12.1 2.8h0.8v0.8h-0.8zM24.7 7.3h0.8v0.8h-0.8zM6.5 24.1h0.8v0.8h-0.8zM13.2 21.9h0.8v0.8h-0.8zM4.7 22.1h0.8v0.8h-0.8zM26.2 32.2h0.8v0.8h-0.8zM1.4 5.4h0.8v0.8h-0.8zM6.5 19.6h0.8v0.8h-0.8zM14.3 16.3h0.8v0.8h-0.8zM7.6 4.2h0.8v0.8h-0.8zM13.0 8.0h0.8v0.8h-0.8zM18.4 32.5h0.8v0.8h-0.8z" fill="#555"/>
<path d="M22.7 30.2h0.8v0.8h-0.8zM19.4 11.3h0.8v0.8h-0.8zM19.5 16.8h0.8v0.8h-0.8zM13.2 30.4h0.8v0.8h-0.8zM29.9 11.7h0.8v0.8h-0.8zM14.6 21.9h0.8v0.8h-0.8zM9.4 18.8h0.8v0.8h-0.8zM8.5 4.5h0.8v0.8h-0.8zM18.4 15.7h0.8v0.8h-0.8zM7.4 18.8h0.8v0.8h-0.8zM13.5 11.3h0.8v0.8h-0.8zM19.2 20.2h0.8v0.8h-0.8zM15.1 19.6h0.8v0.8h-0.8zM23.3 12.6h0.8v0.8h-0.8zM23.9 19.5h0.8v0.8h-0.8zM24.9 30.5h0.8v0.8h-0.8zM15.0 23.4h0.8v0.8h-0.8zM18.1 17.1h0.8v0.8h-0.8zM20.3 26.7h0.8v0.8h-0.8zM16.6 13.8h0.8v0.8h-0.8zM13.5 33.1h0.8v0.8h-0.8zM2.3 8.3h0.8v0.8h-0.8zM12.6 18.5h0.8v0.8h-0.8zM7.4 18.6h0.8v0.8h-0.8zM20.1 24.6h0.8v0.8h-0.8zM12.9 3.0h0.8v0.8h-0.8zM9.8 0.8h0.8v0.8h-0.8zM20.6 4.4h0.8v0.8h-0.8zM8.5 33.1h0.8v0.8h-0.8zM22.9 2.8h0.8v0.8h-0.8zM14.2 14.7h0.8v0.8h-0.8zM21.9 1.7h0.8v0.8h-0.8zM11.6 20.1h0.8v0.8h-0.8zM11.8 16.7h0.8v0.8h-0.8zM16.8 21.7h0.8v0.8h-0.8zM7.7 1.2h0.8v0.8h-0.8zM15.7 17.4h0.8v0.8h-0.8zM8.8 7.6h0.8v0.8h-0.8zM23.0 16.4h0.8v0.8h-0.8zM7.6 23.4h0.8v0.8h-0.8zM16.8 32.1h0.8v0.8h-0.8zM7.6 21.4h0.8v0.8h-0.8zM8.8 8.4h0.8v0.8h-0.8zM18.8 23.8h0.8v0.8h-0.8zM18.5 23.4h0.8v0.8h-0.8zM5.7 14.0h0.8v0.8h-0.8zM5.7 11.9h0.8v0.8h-0.8zM13.7 24.5h0.8v0.8h-0.8zM16.1 16.9h0.8v0.8h-0.8zM14.4 10.4h0.8v0.8h-0.8zM30.5 21.6h0.8v0.8h-0.8zM15.7 18.5h0.8v0.8h-0.8zM18.8 22.9h0.8v0.8h-0.8zM9.0 12.7h0.8v0.8h-0.8zM9.6 16.5h0.8v0.8h-0.8zM22.3 30.0h0.8v0.8h-0.8zM8.8 28.6h0.8v0.8h-0.8zM19.1 17.8h0.8v0.8h-0.8zM24.8 1.3h0.8v0.8h-0.8zM23.1 10.9h0.8v0.8h-0.8zM9.9 17.4h0.8v0.8h-0.8zM6.3 2.9h0.8v0.8h-0.8zM9.7 12.8h0.8v0.8h-0.8zM6.8 6.4h0.8v0.8h-0.8zM9.9 17.8h0.8v0.8h-0.8zM13.5 9.6h0.8v0.8h-0.8zM23.0 19.2h0.8v0.8h-0.8zM11.7 23.5h0.8v0.8h-0.8zM18.6 4.6h0.8v0.8h-0.8zM21.8 2.7h0.8v0.8h-0.8zM10.6 9.7h0.8v0.8h-0.8zM23.1 16.1h0.8v0.8h-0.8zM22.0 6.8h0.8v0.8h-0.8zM4.5 17.2h0.8v0.8h-0.8zM7.5 15.1h0.8v0.8h-0.8zM27.5 11.2h0.8v0.8h-0.8zM13.9 19.0h0.8v0.8h-0.8zM15.6 4.9h0.8v0.8h-0.8zM9.7 12.5h0.8v0.8h-0.8zM27.9 11.7h0.8v0.8h-0.8zM21.1 22.0h0.8v0.8h-0.8zM23.6 26.9h0.8v0.8h-0.8zM3.5 9.9h0.8v0.8h-0.8zM10.4 17.5h0.8v0.8h-0.8zM11.1 26.9h0.8v0.8h-0.8zM17.5 8.1h0.8v0.8h-0.8zM10.1 12.5h0.8v0.8h-0.8zM5.5 28.0h0.8v0.8h-0.8zM13.0 21.7h0.8v0.8h-0.8zM13.3 16.0h0.8v0.8h-0.8zM12.9 20.2h0.8v0.8h-0.8zM9.2 16.4h0.8v0.8h-0.8zM17.6 4.7h0.8v0.8h-0.8zM13.6 7.2h0.8v0.8h-0.8zM19.6 9.8h0.8v0.8h-0.8zM7.9 4.9h0.8v0.8h-0.8zM20.9 31.2h0.8v0.8h-0.8zM11.9 25.9h0.8v0.8h-0.8zM22.6 22.6h0.8v0.8h-0.8zM13.1 20.3h0.8v0.8h-0.8zM15.3 16.6h0.8v0.8h-0.8zM15.6 7.7h0.8v0.8h-0.8zM18.0 24.6h0.8v0.8h-0.8zM6.6 33.5h0.8v0.8h-0.8zM25.5 19.0h0.8v0.8h-0.8zM13.5 29.4h0.8v0.8h-0.8zM23.7 19.4h0.8v0.8h-0.8zM14.8 17.2h0.8v0.8h-0.8zM0.6 8.8h0.8v0.8h-0.8zM11.1 1.4h0.8v0.8h-0.8zM14.2 13.6h0.8v0.8h-0.8zM13.1 19.7h0.8v0.8h-0.8zM27.1 22.6h0.8v0.8h-0.8zM28.9 23.5h0.8v0.8h-0.8zM12.0 26.3h0.8v0.8h-0.8zM10.4 27.3h0.8v0.8h-0.8zM9.8 18.9h0.8v0.8h-0.8zM25.5 22.7h0.8v0.8h-0.8zM23.5 18.5h0.8v0.8h-0.8zM14.4 13.3h0.8v0.8h-0.8zM19.3 18.0h0.8v0.8h-0.8zM13.3 9.4h0.8v0.8h-0.8zM20.3 25.7h0.8v0.8h-0.8zM16.8 9.6h0.8v0.8h-0.8zM14.3 15.0h0.8v0.8h-0.8zM6.6 16.1h0.8v0.8h-0.8zM3.5 9.8h0.8v0.8h-0.8zM11.3 11.9h0.8v0.8h-0.8zM15.3 11.2h0.8v0.8h-0.8zM22.6 8.4h0.8v0.8h-0.8zM8.4 17.3h0.8v0.8h-0.8zM12.7 18.8h0.8v0.8h-0.8zM16.2 16.1h0.8v0.8h-0.8zM5.8 10.4h0.8v0.8h-0.8zM25.3 7.6h0.8v0.8h-0.8zM11.3 17.0h0.8v0.8h-0.8zM7.6 1.3h0.8v0.8h-0.8zM14.1 20.2h0.8v0.8h-0.8zM23.3 14.1h0.8v0.8h-0.8zM7.1 27.7h0.8v0.8h-0.8zM18.2 18.3h0.8v0.8h-0.8zM19.6 9.6h0.8v0.8h-0.8zM10.6 7.2h0.8v0.8h-0.8zM9.1 23.5h0.8v0.8h-0.8zM12.9 4.1h0.8v0.8h-0.8zM20.5 16.8h0.8v0.8h-0.8zM5.2 16.5h0.8v0.8h-0.8zM6.6 19.2h0.8v0.8h-0.8zM17.5 0.5h0.8v0.8h-0.8zM12.9 18.3h0.8v0.8h-0.8zM16.6 3.4h0.8v0.8h-0.8zM21.0 16.1h0.8v0.8h-0.8zM11.6 19.3h0.8v0.8h-0.8zM10.3 17.1h0.8v0.8h-0.8zM15.3 10.8h0.8v0.8h-0.8zM15.0 15.2h0.8v0.8h-0.8zM13.5 23.1h0.8v0.8h-0.8zM19.5 24.8h0.8v0.8h-0.8zM9.7 9.3h0.8v0.8h-0.8zM9.3 5.0h0.8v0.8h-0.8zM4.7 2.6h0.8v0.8h-0.8zM5.1 21.8h0.8v0.8h-0.8zM15.8 5.7h0.8v0.8h-0.8zM12.7 24.3h0.8v0.8h-0.8zM6.2 28.5h0.8v0.8h-0.8zM17.2 18.0h0.8v0.8h-0.8zM8.5 18.0h0.8v0.8h-0.8zM9.4 27.4h0.8v0.8h-0.8zM14.6 2.4h0.8v0.8h-0.8zM13.0 14.6h0.8v0.8h-0.8zM19.8 2.9h0.8v0.8h-0.8zM19.9 21.3h0.8v0.8h-0.8zM14.5 17.0h0.8v0.8h-0.8zM5.2 10.2h0.8v0.8h-0.8zM17.8 7.5h0.8v0.8h-0.8zM18.4 19.2h0.8v0.8h-0.8zM11.6 17.6h0.8v0.8h-0.8zM18.9 12.6h0.8v0.8h-0.8zM17.1 8.4h0.8v0.8h-0.8zM15.0 5.0h0.8v0.8h-0.8zM10.3 28.7h0.8v0.8h-0.8zM10.0 23.0h0.8v0.8h-0.8zM20.3 8.8h0.8v0.8h-0.8zM20.0 0.7h0.8v0.8h-0.8zM15.9 14.0h0.8v0.8h-0.8zM4.8 15.3h0.8v0.8h-0.8zM10.3 11.8h0.8v0.8h-0.8zM9.1 18.6h0.8v0.8h-0.8zM8.6 1.0h0.8v0.8h-0.8zM3.9 2.5h0.8v0.8h-0.8zM19.4 10.5h0.8v0.8h-0.8zM13.2 18.5h0.8v0.8h-0.8zM18.6 28.5h0.8v0.8h-0.8zM9.0 14.6h0.8v0.8h-0.8zM16.8 15.7h0.8v0.8h-0.8zM15.2 10.8h0.8v0.8h-0.8zM15.6 10.5h0.8v0.8h-0.8zM16.6 32.6h0.8v0.8h-0.8zM13.2 25.4h0.8v0.8h-0.8zM13.1 13.9h0.8v0.8h-0.8zM19.7 22.4h0.8v0.8h-0.8zM8.0 19.0h0.8v0.8h-0.8zM15.6 11.8h0.8v0.8h-0.8zM8.7 24.0h0.8v0.8h-0.8zM24.3 12.8h0.8v0.8h-0.8zM24.0 7.2h0.8v0.8h-0.8zM14.7 26.2h0.8v0.8h-0.8zM9.0 19.0h0.8v0.8h-0.8zM14.9 16.2h0.8v0.8h-0.8zM15.0 18.7h0.8v0.8h-0.8zM20.9 1.1h0.8v0.8h-0.8zM8.1 5.0h0.8v0.8h-0.8zM11.4 18.7h0.8v0.8h-0.8zM24.0 8.9h0.8v0.8h-0.8zM18.3 26.7h0.8v0.8h-0.8zM13.5 20.5h0.8v0.8h-0.8zM8.2 27.0h0.8v0.8h-0.8zM8.3 3.5h0.8v0.8h-0.8zM7.6 21.9h0.8v0.8h-0.8zM8.1 8.0h0.8v0.8h-0.8zM7.7 20.1h0.8v0.8h-0.8zM15.1 19.5h0.8v0.8h-0.8zM16.5 9.7h0.8v0.8h-0.8zM11.5 6.3h0.8v0.8h-0.8zM6.8 4.8h0.8v0.8h-0.8zM0.0 3.4h0.8v0.8h-0.8zM12.6 1.7h0.8v0.8h-0.8zM17.2 23.2h0.8v0.8h-0.8zM16.3 3.4h0.8v0.8h-0.8zM14.6 7.6h0.8v0.8h-0.8zM11.7 9.1h0.8v0.8h-0.8zM11.0 25.7h0.8v0.8h-0.8zM11.5 20.3h0.8v0.8h-0.8zM11.9 16.3h0.8v0.8h-0.8zM13.3 6.6h0.8v0.8h-0.8zM7.4 9.1h0.8v0.8h-0.8zM19.3 8.1h0.8v0.8h-0.8zM22.6 22.2h0.8v0.8h-0.8zM5.7 27.9h0.8v0.8h-0.8zM15.1 1.4h0.8v0.8h-0.8zM9.5 11.3h0.8v0.8h-0.8zM11.4 12.1h0.8v0.8h-0.8zM17.5 12.0h0.8v0.8h-0.8zM18.0 17.4h0.8v0.8h-0.8zM23.1 9.3h0.8v0.8h-0.8zM10.7 33.4h0.8v0.8h-0.8zM16.9 5.1h0.8v0.8h-0.8z" fill="#111"/>
<path d="M4.1 13.9h0.8v0.8h-0.8zM9.2 9.0h0.8v0.8h-0.8zM7.0 5.5h0.8v0.8h-0.8zM8.3 2.3h0.8v0.8h-0.8zM7.4 5.9h0.8v0.8h-0.8zM12.6 10.4h0.8v0.8h-0.8zM9.8 8.9h0.8v0.8h-0.8zM10.9 8.7h0.8v0.8h-0.8zM3.4 7.5h0.8v0.8h-0.8zM6.3 8.1h0.8v0.8h-0.8zM6.6 5.2h0.8v0.8h-0.8zM5.7 1.6h0.8v0.8h-0.8zM8.9 3.3h0.8v0.8h-0.8zM6.4 4.3h0.8v0.8h-0.8zM5.3 0.5h0.8v0.8h-0.8zM5.1 9.4h0.8v0.8h-0.8zM3.7 0.8h0.8v0.8h-0.8zM6.4 7.8h0.8v0.8h-0.8zM2.9 5.9h0.8v0.8h-0.8zM6.0 0.7h0.8v0.8h-0.8zM10.2 5.1h0.8v0.8h-0.8zM7.9 6.9h0.8v0.8h-0.8zM5.4 4.9h0.8v0.8h-0.8zM11.9 2.1h0.8v0.8h-0.8zM7.5 6.3h0.8v0.8h-0.8zM7.7 18.0h0.8v0.8h-0.8zM7.7 7.8h0.8v0.8h-0.8zM5.6 10.0h0.8v0.8h-0.8zM1.9 9.4h0.8v0.8h-0.8zM9.0 10.9h0.8v0.8h-0.8zM7.0 11.3h0.8v0.8h-0.8zM3.9 11.1h0.8v0.8h-0.8zM12.2 4.6h0.8v0.8h-0.8zM8.8 9.1h0.8v0.8h-0.8zM6.6 7.4h0.8v0.8h-0.8zM11.1 4.9h0.8v0.8h-0.8zM11.3 3.8h0.8v0.8h-0.8zM11.5 3.9h0.8v0.8h-0.8zM8.0 2.5h0.8v0.8h-0.8zM5.2 10.7h0.8v0.8h-0.8zM5.6 4.5h0.8v0.8h-0.8zM3.9 3.5h0.8v0.8h-0.8zM6.6 3.2h0.8v0.8h-0.8zM10.2 10.1h0.8v0.8h-0.8zM12.2 13.5h0.8v0.8h-0.8zM6.3 12.3h0.8v0.8h-0.8zM5.0 5.8h0.8v0.8h-0.8zM3.1 6.1h0.8v0.8h-0.8zM6.9 6.0h0.8v0.8h-0.8zM5.8 9.3h0.8v0.8h-0.8zM12.1 3.9h0.8v0.8h-0.8zM8.9 16.6h0.8v0.8h-0.8zM5.4 4.2h0.8v0.8h-0.8zM7.6 4.6h0.8v0.8h-0.8zM5.1 5.9h0.8v0.8h-0.8zM1.9 6.3h0.8v0.8h-0.8zM8.3 7.3h0.8v0.8h-0.8zM14.4 4.2h0.8v0.8h-0.8zM7.5 8.5h0.8v0.8h-0.8zM2.5 9.5h0.8v0.8h-0.8z" fill="#111"/>
<ellipse cx="4.93" cy="4.73" rx="4.93" ry="5.07" fill="url(#halo3)" opacity="1.0" transform="rotate(0 4.93 4.73)"/>
<path d="M0.2 6.4h0.8v0.8h-0.8zM3.5 -0.6h0.8v0.8h-0.8zM0.6 5.0h0.8v0.8h-0.8zM4.7 8.5h0.8v0.8h-0.8zM5.3 -0.4h0.8v0.8h-0.8zM8.5 1.6h0.8v0.8h-0.8zM7.2 9.7h0.8v0.8h-0.8zM7.5 2.4h0.8v0.8h-0.8zM0.0 3.2h0.8v0.8h-0.8zM6.4 9.6h0.8v0.8h-0.8zM5.3 -0.6h0.8v0.8h-0.8zM8.4 3.4h0.8v0.8h-0.8zM8.9 5.1h0.8v0.8h-0.8zM1.5 2.0h0.8v0.8h-0.8zM5.9 9.5h0.8v0.8h-0.8zM2.8 -0.2h0.8v0.8h-0.8zM6.3 8.0h0.8v0.8h-0.8zM9.5 5.5h0.8v0.8h-0.8zM8.4 5.4h0.8v0.8h-0.8zM8.4 5.3h0.8v0.8h-0.8zM7.7 7.1h0.8v0.8h-0.8zM1.1 2.5h0.8v0.8h-0.8zM5.7 9.1h0.8v0.8h-0.8zM7.8 1.3h0.8v0.8h-0.8zM1.8 1.3h0.8v0.8h-0.8zM5.7 8.6h0.8v0.8h-0.8zM3.6 -0.4h0.8v0.8h-0.8zM7.3 0.1h0.8v0.8h-0.8zM9.3 5.8h0.8v0.8h-0.8zM8.1 7.2h0.8v0.8h-0.8zM6.5 8.9h0.8v0.8h-0.8zM8.3 7.4h0.8v0.8h-0.8zM6.8 9.4h0.8v0.8h-0.8zM10.2 4.9h0.8v0.8h-0.8zM5.8 -0.0h0.8v0.8h-0.8zM7.2 1.3h0.8v0.8h-0.8zM9.5 2.5h0.8v0.8h-0.8zM4.2 8.7h0.8v0.8h-0.8zM2.0 7.7h0.8v0.8h-0.8zM5.6 9.6h0.8v0.8h-0.8zM4.4 -0.0h0.8v0.8h-0.8zM2.8 7.7h0.8v0.8h-0.8zM8.9 7.6h0.8v0.8h-0.8zM1.0 1.3h0.8v0.8h-0.8zM1.8 2.7h0.8v0.8h-0.8zM-0.1 6.2h0.8v0.8h-0.8zM4.6 -0.7h0.8v0.8h-0.8zM7.8 1.4h0.8v0.8h-0.8zM0.4 2.5h0.8v0.8h-0.8zM4.1 0.6h0.8v0.8h-0.8zM4.0 8.7h0.8v0.8h-0.8zM1.2 5.7h0.8v0.8h-0.8zM8.8 1.1h0.8v0.8h-0.8zM8.6 8.3h0.8v0.8h-0.8zM4.8 -0.2h0.8v0.8h-0.8zM0.5 5.3h0.8v0.8h-0.8zM1.3 5.5h0.8v0.8h-0.8zM9.0 5.3h0.8v0.8h-0.8zM9.9 4.8h0.8v0.8h-0.8zM8.6 6.4h0.8v0.8h-0.8z" fill="#111"/>
<ellipse cx="4.93" cy="4.73" rx="1.23" ry="1.27" fill="url(#light)" transform="rotate(0 4.93 4.73)"/>
<ellipse cx="9.10" cy="28.39" rx="8.72" ry="7.44" fill="url(#halo2)" opacity="1.0" transform="rotate(0 9.10 28.39)"/>
<path d="M3.3 31.1h0.8v0.8h-0.8zM11.7 35.4h0.8v0.8h-0.8zM3.6 25.9h0.8v0.8h-0.8zM15.1 27.8h0.8v0.8h-0.8zM8.6 22.4h0.8v0.8h-0.8zM0.0 30.5h0.8v0.8h-0.8zM14.9 31.0h0.8v0.8h-0.8zM12.4 35.4h0.8v0.8h-0.8zM17.7 29.3h0.8v0.8h-0.8zM9.7 23.3h0.8v0.8h-0.8zM14.8 31.1h0.8v0.8h-0.8zM14.8 31.2h0.8v0.8h-0.8zM17.0 28.4h0.8v0.8h-0.8zM13.7 33.8h0.8v0.8h-0.8zM1.7 25.2h0.8v0.8h-0.8zM1.8 29.3h0.8v0.8h-0.8zM3.4 30.0h0.8v0.8h-0.8zM15.6 33.5h0.8v0.8h-0.8zM17.8 28.6h0.8v0.8h-0.8zM2.9 27.6h0.8v0.8h-0.8zM1.8 27.9h0.8v0.8h-0.8zM3.7 23.7h0.8v0.8h-0.8zM13.1 24.7h0.8v0.8h-0.8zM0.8 28.8h0.8v0.8h-0.8zM4.0 30.1h0.8v0.8h-0.8zM2.9 28.6h0.8v0.8h-0.8zM15.4 32.8h0.8v0.8h-0.8zM12.9 22.6h0.8v0.8h-0.8zM4.9 35.6h0.8v0.8h-0.8zM3.7 22.4h0.8v0.8h-0.8zM9.2 22.3h0.8v0.8h-0.8zM17.3 25.7h0.8v0.8h-0.8zM13.0 32.9h0.8v0.8h-0.8zM15.1 28.9h0.8v0.8h-0.8zM13.5 25.1h0.8v0.8h-0.8zM17.1 29.1h0.8v0.8h-0.8zM3.4 25.8h0.8v0.8h-0.8zM10.1 23.1h0.8v0.8h-0.8zM10.7 21.4h0.8v0.8h-0.8zM13.4 23.7h0.8v0.8h-0.8zM9.8 33.1h0.8v0.8h-0.8zM-0.0 26.7h0.8v0.8h-0.8zM15.6 24.9h0.8v0.8h-0.8zM14.5 26.0h0.8v0.8h-0.8zM2.5 27.0h0.8v0.8h-0.8zM4.9 25.1h0.8v0.8h-0.8zM7.1 20.5h0.8v0.8h-0.8zM12.6 24.4h0.8v0.8h-0.8zM3.5 25.7h0.8v0.8h-0.8zM8.6 33.7h0.8v0.8h-0.8z" fill="#111"/>
<ellipse cx="9.10" cy="28.39" rx="5.23" ry="4.46" fill="url(#light2)" transform="rotate(0 9.10 28.39)"/>
<ellipse cx="21.98" cy="28.73" rx="6.06" ry="5.41" fill="url(#halo2)" opacity="1.0" transform="rotate(0 21.98 28.73)"/>
<path d="M20.7 23.9h0.8v0.8h-0.8zM17.3 24.7h0.8v0.8h-0.8zM24.9 32.3h0.8v0.8h-0.8zM20.4 24.9h0.8v0.8h-0.8zM27.8 28.4h0.8v0.8h-0.8zM17.3 27.5h0.8v0.8h-0.8zM25.5 24.4h0.8v0.8h-0.8zM17.9 24.8h0.8v0.8h-0.8zM24.0 23.5h0.8v0.8h-0.8zM23.7 33.1h0.8v0.8h-0.8zM26.2 33.2h0.8v0.8h-0.8zM27.4 26.4h0.8v0.8h-0.8zM24.4 33.5h0.8v0.8h-0.8zM20.9 33.0h0.8v0.8h-0.8zM19.1 26.0h0.8v0.8h-0.8zM19.0 32.2h0.8v0.8h-0.8zM20.5 25.4h0.8v0.8h-0.8zM20.7 34.0h0.8v0.8h-0.8zM18.2 23.8h0.8v0.8h-0.8zM21.7 24.2h0.8v0.8h-0.8zM19.3 33.4h0.8v0.8h-0.8zM26.8 28.0h0.8v0.8h-0.8zM18.4 31.9h0.8v0.8h-0.8zM27.7 31.2h0.8v0.8h-0.8zM23.6 33.4h0.8v0.8h-0.8zM25.2 26.5h0.8v0.8h-0.8zM18.3 30.6h0.8v0.8h-0.8zM16.1 31.0h0.8v0.8h-0.8zM17.6 31.7h0.8v0.8h-0.8zM18.2 28.4h0.8v0.8h-0.8zM21.4 34.7h0.8v0.8h-0.8zM27.4 31.1h0.8v0.8h-0.8zM20.9 24.3h0.8v0.8h-0.8zM17.9 24.8h0.8v0.8h-0.8zM22.6 25.2h0.8v0.8h-0.8zM23.0 24.5h0.8v0.8h-0.8zM25.1 33.5h0.8v0.8h-0.8zM18.7 30.4h0.8v0.8h-0.8zM20.5 24.7h0.8v0.8h-0.8zM25.8 29.0h0.8v0.8h-0.8zM28.1 29.3h0.8v0.8h-0.8zM23.6 25.5h0.8v0.8h-0.8zM19.7 33.6h0.8v0.8h-0.8zM22.6 31.9h0.8v0.8h-0.8zM18.2 32.3h0.8v0.8h-0.8zM17.1 29.6h0.8v0.8h-0.8zM21.3 34.1h0.8v0.8h-0.8zM18.8 25.4h0.8v0.8h-0.8zM21.2 33.4h0.8v0.8h-0.8zM22.1 24.3h0.8v0.8h-0.8z" fill="#111"/>
<ellipse cx="21.98" cy="28.73" rx="2.12" ry="1.89" fill="url(#light2)" transform="rotate(0 21.98 28.73)"/>
</g></svg>
<rect x="68.0" y="87.2" width="37.9" height="33.8" fill="none" stroke="#b0b0b0" stroke-width="0.85"/>
<line x1="83.539" y1="87.2" x2="83.539" y2="121.0" stroke="#b0b0b0" stroke-width="0.8"/>
<line x1="68.0" y1="102.748" x2="105.9" y2="102.748" stroke="#b0b0b0" stroke-width="0.8"/>
<rect x="68.8" y="88.2" width="1.4" height="0.8" fill="#555"/>
<rect x="68.8" y="90.4" width="3" height="0.7" fill="#888"/>
<rect x="84.3" y="88.2" width="1.4" height="0.8" fill="#555"/>
<rect x="84.3" y="90.4" width="3" height="0.7" fill="#888"/>
<rect x="68.8" y="103.7" width="1.4" height="0.8" fill="#555"/>
<rect x="68.8" y="105.9" width="3" height="0.7" fill="#888"/>
<rect x="84.3" y="103.7" width="1.4" height="0.8" fill="#555"/>
<rect x="84.3" y="105.9" width="3" height="0.7" fill="#888"/>
<text x="115.5" y="85.60000000000001" font-size="5" text-anchor="start" fill="#333">20.8</text>
<text x="152.79999999999998" y="85.60000000000001" font-size="5" text-anchor="end" fill="#333">2.1</text>
<svg x="115.2" y="87.2" width="37.9" height="33.8" viewBox="0 0 37.9 33.8" overflow="hidden"><g filter="url(#soft)">
<path d="M5.3 23.1h0.8v0.8h-0.8zM18.3 16.2h0.8v0.8h-0.8zM6.7 26.4h0.8v0.8h-0.8zM23.1 17.3h0.8v0.8h-0.8zM14.7 8.3h0.8v0.8h-0.8zM0.8 12.7h0.8v0.8h-0.8zM17.0 2.9h0.8v0.8h-0.8zM22.7 8.2h0.8v0.8h-0.8zM7.2 2.0h0.8v0.8h-0.8zM28.4 24.6h0.8v0.8h-0.8zM25.0 20.7h0.8v0.8h-0.8zM1.7 11.3h0.8v0.8h-0.8zM14.5 4.4h0.8v0.8h-0.8zM27.1 12.6h0.8v0.8h-0.8zM5.0 27.2h0.8v0.8h-0.8zM4.2 30.8h0.8v0.8h-0.8zM13.3 18.6h0.8v0.8h-0.8zM10.2 16.4h0.8v0.8h-0.8zM5.9 1.9h0.8v0.8h-0.8zM24.7 8.3h0.8v0.8h-0.8zM22.3 7.4h0.8v0.8h-0.8zM27.6 29.7h0.8v0.8h-0.8zM21.6 25.4h0.8v0.8h-0.8zM16.8 24.4h0.8v0.8h-0.8zM4.1 16.1h0.8v0.8h-0.8zM23.6 7.2h0.8v0.8h-0.8zM26.3 29.5h0.8v0.8h-0.8zM12.1 12.5h0.8v0.8h-0.8zM13.2 13.2h0.8v0.8h-0.8zM28.3 13.2h0.8v0.8h-0.8zM1.5 3.7h0.8v0.8h-0.8zM20.6 32.9h0.8v0.8h-0.8zM14.5 16.6h0.8v0.8h-0.8zM16.0 25.0h0.8v0.8h-0.8zM6.9 20.4h0.8v0.8h-0.8zM16.2 20.9h0.8v0.8h-0.8zM5.8 6.2h0.8v0.8h-0.8zM10.4 30.8h0.8v0.8h-0.8zM10.3 20.1h0.8v0.8h-0.8zM9.2 4.0h0.8v0.8h-0.8zM2.6 27.1h0.8v0.8h-0.8zM22.3 12.8h0.8v0.8h-0.8zM19.7 22.6h0.8v0.8h-0.8zM25.6 31.8h0.8v0.8h-0.8zM12.0 32.8h0.8v0.8h-0.8zM27.4 19.8h0.8v0.8h-0.8zM25.2 16.6h0.8v0.8h-0.8zM11.1 8.7h0.8v0.8h-0.8zM25.0 5.9h0.8v0.8h-0.8zM2.7 26.8h0.8v0.8h-0.8zM22.2 16.4h0.8v0.8h-0.8zM23.9 2.4h0.8v0.8h-0.8zM7.9 10.1h0.8v0.8h-0.8zM12.4 6.2h0.8v0.8h-0.8zM2.7 11.6h0.8v0.8h-0.8zM25.6 32.6h0.8v0.8h-0.8zM21.4 16.2h0.8v0.8h-0.8zM7.7 31.8h0.8v0.8h-0.8zM15.3 24.3h0.8v0.8h-0.8zM1.5 7.6h0.8v0.8h-0.8zM24.0 26.5h0.8v0.8h-0.8zM25.1 20.2h0.8v0.8h-0.8zM12.5 19.5h0.8v0.8h-0.8zM24.3 10.7h0.8v0.8h-0.8zM15.5 9.6h0.8v0.8h-0.8zM22.0 1.0h0.8v0.8h-0.8zM19.7 31.6h0.8v0.8h-0.8zM1.4 19.9h0.8v0.8h-0.8zM18.6 28.3h0.8v0.8h-0.8zM16.9 9.0h0.8v0.8h-0.8zM12.0 31.8h0.8v0.8h-0.8zM25.8 5.0h0.8v0.8h-0.8zM3.4 3.7h0.8v0.8h-0.8zM1.5 15.2h0.8v0.8h-0.8zM4.7 28.8h0.8v0.8h-0.8zM18.9 4.8h0.8v0.8h-0.8zM15.7 11.2h0.8v0.8h-0.8zM14.4 7.8h0.8v0.8h-0.8zM5.4 6.6h0.8v0.8h-0.8zM11.2 23.7h0.8v0.8h-0.8zM16.0 2.2h0.8v0.8h-0.8zM20.4 29.0h0.8v0.8h-0.8zM22.2 26.3h0.8v0.8h-0.8zM1.0 15.7h0.8v0.8h-0.8zM2.5 25.5h0.8v0.8h-0.8zM5.6 23.8h0.8v0.8h-0.8zM7.8 23.3h0.8v0.8h-0.8zM9.4 2.0h0.8v0.8h-0.8zM11.5 10.7h0.8v0.8h-0.8zM25.7 10.2h0.8v0.8h-0.8zM14.7 18.5h0.8v0.8h-0.8zM27.0 3.9h0.8v0.8h-0.8zM17.4 17.2h0.8v0.8h-0.8zM21.1 32.1h0.8v0.8h-0.8zM9.3 23.4h0.8v0.8h-0.8zM15.3 18.9h0.8v0.8h-0.8zM2.5 27.1h0.8v0.8h-0.8zM27.8 12.2h0.8v0.8h-0.8zM9.6 32.9h0.8v0.8h-0.8zM3.7 3.1h0.8v0.8h-0.8zM2.8 27.1h0.8v0.8h-0.8zM21.8 15.2h0.8v0.8h-0.8zM18.0 1.3h0.8v0.8h-0.8zM18.6 15.0h0.8v0.8h-0.8zM15.1 13.3h0.8v0.8h-0.8zM11.9 8.0h0.8v0.8h-0.8zM2.1 14.8h0.8v0.8h-0.8zM7.6 23.5h0.8v0.8h-0.8zM23.4 24.2h0.8v0.8h-0.8zM13.4 8.3h0.8v0.8h-0.8zM11.4 16.5h0.8v0.8h-0.8zM18.2 31.9h0.8v0.8h-0.8zM3.1 16.2h0.8v0.8h-0.8zM14.4 23.9h0.8v0.8h-0.8zM25.4 26.0h0.8v0.8h-0.8zM18.1 25.3h0.8v0.8h-0.8zM19.2 28.5h0.8v0.8h-0.8zM20.1 22.8h0.8v0.8h-0.8zM7.5 30.4h0.8v0.8h-0.8zM11.4 20.6h0.8v0.8h-0.8zM23.6 31.9h0.8v0.8h-0.8zM28.1 0.9h0.8v0.8h-0.8zM9.4 10.8h0.8v0.8h-0.8zM11.6 5.4h0.8v0.8h-0.8zM16.1 3.3h0.8v0.8h-0.8zM9.1 31.3h0.8v0.8h-0.8zM21.3 15.7h0.8v0.8h-0.8zM3.8 31.7h0.8v0.8h-0.8zM20.2 7.4h0.8v0.8h-0.8zM10.0 21.5h0.8v0.8h-0.8zM19.6 9.1h0.8v0.8h-0.8zM27.1 11.1h0.8v0.8h-0.8zM7.8 28.1h0.8v0.8h-0.8zM5.0 22.8h0.8v0.8h-0.8zM6.3 20.1h0.8v0.8h-0.8zM8.4 13.0h0.8v0.8h-0.8zM26.8 15.8h0.8v0.8h-0.8zM12.8 20.7h0.8v0.8h-0.8zM8.5 6.3h0.8v0.8h-0.8zM11.4 9.5h0.8v0.8h-0.8zM6.0 31.9h0.8v0.8h-0.8zM1.7 27.0h0.8v0.8h-0.8zM26.6 23.5h0.8v0.8h-0.8zM1.3 16.9h0.8v0.8h-0.8zM1.8 20.4h0.8v0.8h-0.8zM20.1 8.5h0.8v0.8h-0.8zM1.0 18.3h0.8v0.8h-0.8zM3.4 10.7h0.8v0.8h-0.8zM13.3 29.7h0.8v0.8h-0.8zM11.0 5.1h0.8v0.8h-0.8zM22.7 27.4h0.8v0.8h-0.8zM15.4 2.3h0.8v0.8h-0.8zM5.9 13.8h0.8v0.8h-0.8zM16.0 8.0h0.8v0.8h-0.8zM23.0 28.0h0.8v0.8h-0.8zM26.4 29.3h0.8v0.8h-0.8zM1.2 19.6h0.8v0.8h-0.8zM3.0 29.9h0.8v0.8h-0.8zM21.4 25.3h0.8v0.8h-0.8zM6.0 2.6h0.8v0.8h-0.8zM23.3 20.4h0.8v0.8h-0.8zM17.9 16.0h0.8v0.8h-0.8zM22.9 11.6h0.8v0.8h-0.8zM8.2 12.1h0.8v0.8h-0.8zM9.0 21.0h0.8v0.8h-0.8zM25.4 3.0h0.8v0.8h-0.8zM2.6 17.3h0.8v0.8h-0.8zM19.5 6.8h0.8v0.8h-0.8zM8.2 2.6h0.8v0.8h-0.8zM1.8 16.7h0.8v0.8h-0.8zM19.6 21.9h0.8v0.8h-0.8zM5.1 4.1h0.8v0.8h-0.8zM26.5 18.2h0.8v0.8h-0.8zM12.1 23.1h0.8v0.8h-0.8zM20.9 17.7h0.8v0.8h-0.8zM2.9 27.5h0.8v0.8h-0.8zM6.7 2.0h0.8v0.8h-0.8zM10.5 18.0h0.8v0.8h-0.8zM18.1 6.3h0.8v0.8h-0.8zM20.4 16.7h0.8v0.8h-0.8zM5.2 28.3h0.8v0.8h-0.8zM23.1 30.1h0.8v0.8h-0.8zM19.6 7.7h0.8v0.8h-0.8zM22.3 30.0h0.8v0.8h-0.8zM15.5 30.2h0.8v0.8h-0.8zM27.6 13.3h0.8v0.8h-0.8zM26.8 31.1h0.8v0.8h-0.8zM22.7 1.0h0.8v0.8h-0.8zM10.5 20.6h0.8v0.8h-0.8zM17.6 25.2h0.8v0.8h-0.8zM18.7 5.9h0.8v0.8h-0.8zM26.5 18.1h0.8v0.8h-0.8zM25.2 7.4h0.8v0.8h-0.8zM28.4 18.7h0.8v0.8h-0.8zM22.2 24.7h0.8v0.8h-0.8zM25.2 12.4h0.8v0.8h-0.8zM3.0 13.8h0.8v0.8h-0.8zM5.7 18.2h0.8v0.8h-0.8zM23.3 12.4h0.8v0.8h-0.8zM4.4 1.6h0.8v0.8h-0.8zM12.5 19.5h0.8v0.8h-0.8zM1.5 22.3h0.8v0.8h-0.8zM6.6 4.1h0.8v0.8h-0.8zM26.4 17.6h0.8v0.8h-0.8zM25.5 17.4h0.8v0.8h-0.8zM4.2 8.5h0.8v0.8h-0.8zM12.5 21.5h0.8v0.8h-0.8zM22.1 25.1h0.8v0.8h-0.8zM18.8 8.9h0.8v0.8h-0.8zM12.7 12.9h0.8v0.8h-0.8zM14.3 9.3h0.8v0.8h-0.8zM15.6 15.6h0.8v0.8h-0.8zM1.7 27.4h0.8v0.8h-0.8zM17.0 26.7h0.8v0.8h-0.8zM21.1 24.4h0.8v0.8h-0.8zM28.2 12.9h0.8v0.8h-0.8zM11.6 0.8h0.8v0.8h-0.8zM19.1 19.5h0.8v0.8h-0.8zM16.7 33.0h0.8v0.8h-0.8zM6.2 8.1h0.8v0.8h-0.8zM21.1 27.0h0.8v0.8h-0.8zM14.1 2.5h0.8v0.8h-0.8zM11.0 27.5h0.8v0.8h-0.8zM14.6 15.7h0.8v0.8h-0.8zM11.5 21.1h0.8v0.8h-0.8zM17.3 23.2h0.8v0.8h-0.8zM24.7 25.1h0.8v0.8h-0.8zM11.1 8.8h0.8v0.8h-0.8zM22.4 26.4h0.8v0.8h-0.8zM26.4 7.1h0.8v0.8h-0.8zM24.2 29.6h0.8v0.8h-0.8zM2.9 10.7h0.8v0.8h-0.8zM18.3 5.4h0.8v0.8h-0.8zM23.8 9.3h0.8v0.8h-0.8zM19.6 10.3h0.8v0.8h-0.8zM6.8 7.4h0.8v0.8h-0.8zM14.5 23.8h0.8v0.8h-0.8zM6.8 22.9h0.8v0.8h-0.8zM10.0 21.7h0.8v0.8h-0.8zM10.9 6.9h0.8v0.8h-0.8zM4.7 2.5h0.8v0.8h-0.8zM20.0 14.1h0.8v0.8h-0.8zM4.2 29.2h0.8v0.8h-0.8zM18.9 1.4h0.8v0.8h-0.8zM20.8 20.0h0.8v0.8h-0.8zM13.0 16.9h0.8v0.8h-0.8zM27.4 12.8h0.8v0.8h-0.8zM18.4 21.3h0.8v0.8h-0.8zM10.9 11.9h0.8v0.8h-0.8zM21.6 21.3h0.8v0.8h-0.8zM13.4 17.3h0.8v0.8h-0.8zM6.9 26.3h0.8v0.8h-0.8zM1.3 21.5h0.8v0.8h-0.8zM13.3 7.9h0.8v0.8h-0.8zM17.0 19.6h0.8v0.8h-0.8zM3.2 16.6h0.8v0.8h-0.8zM5.3 26.6h0.8v0.8h-0.8zM9.8 11.3h0.8v0.8h-0.8zM6.7 2.2h0.8v0.8h-0.8zM5.9 5.6h0.8v0.8h-0.8zM18.0 28.2h0.8v0.8h-0.8zM6.9 4.3h0.8v0.8h-0.8zM15.5 4.4h0.8v0.8h-0.8zM12.0 25.4h0.8v0.8h-0.8zM6.4 23.4h0.8v0.8h-0.8zM15.7 3.4h0.8v0.8h-0.8zM7.5 20.1h0.8v0.8h-0.8zM3.4 7.3h0.8v0.8h-0.8zM16.7 27.2h0.8v0.8h-0.8zM15.2 22.2h0.8v0.8h-0.8zM1.0 10.5h0.8v0.8h-0.8zM9.6 30.3h0.8v0.8h-0.8zM10.6 26.1h0.8v0.8h-0.8zM1.7 16.8h0.8v0.8h-0.8zM25.4 25.7h0.8v0.8h-0.8zM16.8 6.6h0.8v0.8h-0.8zM26.4 3.3h0.8v0.8h-0.8zM27.4 25.9h0.8v0.8h-0.8zM20.7 17.9h0.8v0.8h-0.8zM5.3 11.7h0.8v0.8h-0.8zM19.1 22.0h0.8v0.8h-0.8zM11.5 26.7h0.8v0.8h-0.8zM2.2 10.0h0.8v0.8h-0.8zM3.3 11.2h0.8v0.8h-0.8zM22.7 25.1h0.8v0.8h-0.8zM4.9 10.7h0.8v0.8h-0.8zM3.9 22.2h0.8v0.8h-0.8zM13.0 8.2h0.8v0.8h-0.8zM11.1 28.8h0.8v0.8h-0.8zM12.5 23.1h0.8v0.8h-0.8zM18.1 16.0h0.8v0.8h-0.8zM16.2 12.5h0.8v0.8h-0.8zM6.2 16.7h0.8v0.8h-0.8zM9.2 11.4h0.8v0.8h-0.8zM5.9 30.3h0.8v0.8h-0.8zM12.5 7.2h0.8v0.8h-0.8zM1.6 7.6h0.8v0.8h-0.8zM24.8 11.6h0.8v0.8h-0.8zM19.2 8.2h0.8v0.8h-0.8zM18.8 15.3h0.8v0.8h-0.8z" fill="#555"/>
<path d="M12.9 4.5h0.8v0.8h-0.8zM9.7 22.7h0.8v0.8h-0.8zM3.0 6.2h0.8v0.8h-0.8zM10.8 6.1h0.8v0.8h-0.8zM15.8 12.2h0.8v0.8h-0.8zM8.6 1.2h0.8v0.8h-0.8zM17.4 11.6h0.8v0.8h-0.8zM19.7 16.7h0.8v0.8h-0.8zM17.0 25.7h0.8v0.8h-0.8zM9.8 11.1h0.8v0.8h-0.8zM5.1 6.0h0.8v0.8h-0.8zM23.6 5.2h0.8v0.8h-0.8zM21.6 15.3h0.8v0.8h-0.8zM11.2 5.3h0.8v0.8h-0.8zM23.4 14.1h0.8v0.8h-0.8zM4.5 23.2h0.8v0.8h-0.8zM12.6 22.0h0.8v0.8h-0.8zM10.8 20.5h0.8v0.8h-0.8zM16.6 17.0h0.8v0.8h-0.8zM2.5 21.8h0.8v0.8h-0.8zM22.9 21.2h0.8v0.8h-0.8zM19.9 24.7h0.8v0.8h-0.8zM11.5 27.5h0.8v0.8h-0.8zM12.0 6.7h0.8v0.8h-0.8zM5.1 27.2h0.8v0.8h-0.8zM18.4 23.2h0.8v0.8h-0.8zM18.9 15.9h0.8v0.8h-0.8zM9.5 10.7h0.8v0.8h-0.8zM17.8 23.9h0.8v0.8h-0.8zM19.5 13.2h0.8v0.8h-0.8zM5.1 3.1h0.8v0.8h-0.8zM19.9 17.1h0.8v0.8h-0.8zM16.8 25.0h0.8v0.8h-0.8zM14.0 19.1h0.8v0.8h-0.8zM15.0 11.0h0.8v0.8h-0.8zM5.9 11.2h0.8v0.8h-0.8zM21.4 1.0h0.8v0.8h-0.8zM10.6 12.6h0.8v0.8h-0.8zM13.9 12.3h0.8v0.8h-0.8zM18.9 13.1h0.8v0.8h-0.8zM13.6 24.0h0.8v0.8h-0.8zM4.0 27.8h0.8v0.8h-0.8zM20.6 3.6h0.8v0.8h-0.8zM13.0 9.4h0.8v0.8h-0.8zM11.1 24.7h0.8v0.8h-0.8zM0.9 25.3h0.8v0.8h-0.8zM16.5 16.8h0.8v0.8h-0.8zM28.5 11.9h0.8v0.8h-0.8zM3.5 20.7h0.8v0.8h-0.8zM14.6 10.5h0.8v0.8h-0.8zM24.6 1.6h0.8v0.8h-0.8zM23.0 25.1h0.8v0.8h-0.8zM17.9 28.0h0.8v0.8h-0.8zM22.6 29.5h0.8v0.8h-0.8zM13.3 14.4h0.8v0.8h-0.8zM12.3 22.1h0.8v0.8h-0.8zM7.3 6.1h0.8v0.8h-0.8zM29.1 26.4h0.8v0.8h-0.8zM20.8 14.5h0.8v0.8h-0.8zM7.9 12.6h0.8v0.8h-0.8zM8.2 10.6h0.8v0.8h-0.8zM3.1 23.0h0.8v0.8h-0.8zM15.9 24.8h0.8v0.8h-0.8zM14.1 9.7h0.8v0.8h-0.8zM27.3 26.3h0.8v0.8h-0.8zM17.4 25.7h0.8v0.8h-0.8zM11.6 24.2h0.8v0.8h-0.8zM8.6 27.0h0.8v0.8h-0.8zM19.9 25.2h0.8v0.8h-0.8zM16.3 18.2h0.8v0.8h-0.8zM15.1 24.1h0.8v0.8h-0.8zM10.6 24.0h0.8v0.8h-0.8zM18.8 4.2h0.8v0.8h-0.8zM2.1 19.8h0.8v0.8h-0.8zM11.3 8.8h0.8v0.8h-0.8zM5.2 5.7h0.8v0.8h-0.8zM2.5 13.3h0.8v0.8h-0.8zM12.7 32.0h0.8v0.8h-0.8zM21.9 15.1h0.8v0.8h-0.8zM16.2 14.4h0.8v0.8h-0.8zM12.8 9.0h0.8v0.8h-0.8zM13.7 6.3h0.8v0.8h-0.8zM8.6 15.2h0.8v0.8h-0.8zM7.7 5.7h0.8v0.8h-0.8zM17.9 22.5h0.8v0.8h-0.8zM18.2 15.5h0.8v0.8h-0.8zM3.4 13.2h0.8v0.8h-0.8zM5.0 16.1h0.8v0.8h-0.8zM25.3 13.6h0.8v0.8h-0.8zM14.2 27.6h0.8v0.8h-0.8zM4.6 24.3h0.8v0.8h-0.8zM11.2 9.9h0.8v0.8h-0.8zM11.1 6.8h0.8v0.8h-0.8zM19.3 17.7h0.8v0.8h-0.8zM10.4 21.6h0.8v0.8h-0.8zM22.4 10.9h0.8v0.8h-0.8zM18.6 7.7h0.8v0.8h-0.8zM1.3 5.8h0.8v0.8h-0.8zM19.7 20.4h0.8v0.8h-0.8zM9.3 23.5h0.8v0.8h-0.8zM11.5 18.4h0.8v0.8h-0.8zM14.1 23.4h0.8v0.8h-0.8zM7.5 32.5h0.8v0.8h-0.8zM17.9 29.0h0.8v0.8h-0.8zM11.8 2.0h0.8v0.8h-0.8zM28.4 29.8h0.8v0.8h-0.8zM18.2 7.4h0.8v0.8h-0.8zM19.5 6.3h0.8v0.8h-0.8zM17.0 25.8h0.8v0.8h-0.8zM16.9 6.7h0.8v0.8h-0.8zM17.6 18.5h0.8v0.8h-0.8zM17.2 29.3h0.8v0.8h-0.8zM9.0 8.2h0.8v0.8h-0.8zM8.0 29.5h0.8v0.8h-0.8zM16.0 28.6h0.8v0.8h-0.8zM15.1 21.4h0.8v0.8h-0.8zM11.9 21.2h0.8v0.8h-0.8zM6.4 26.9h0.8v0.8h-0.8zM2.1 11.4h0.8v0.8h-0.8zM10.8 17.5h0.8v0.8h-0.8zM12.7 6.7h0.8v0.8h-0.8zM8.5 15.7h0.8v0.8h-0.8zM8.6 26.2h0.8v0.8h-0.8zM12.3 21.2h0.8v0.8h-0.8zM5.6 25.7h0.8v0.8h-0.8zM18.3 1.2h0.8v0.8h-0.8zM22.8 4.8h0.8v0.8h-0.8zM5.3 24.6h0.8v0.8h-0.8zM25.1 22.9h0.8v0.8h-0.8zM12.2 9.2h0.8v0.8h-0.8zM8.3 18.3h0.8v0.8h-0.8zM15.7 6.6h0.8v0.8h-0.8zM14.8 7.1h0.8v0.8h-0.8zM17.3 13.2h0.8v0.8h-0.8zM5.9 30.5h0.8v0.8h-0.8zM13.9 8.6h0.8v0.8h-0.8zM18.3 21.3h0.8v0.8h-0.8zM20.9 13.2h0.8v0.8h-0.8zM11.3 23.3h0.8v0.8h-0.8zM19.1 26.7h0.8v0.8h-0.8zM17.8 14.0h0.8v0.8h-0.8zM7.9 7.9h0.8v0.8h-0.8zM21.7 14.3h0.8v0.8h-0.8zM13.7 11.2h0.8v0.8h-0.8zM15.9 7.2h0.8v0.8h-0.8zM30.8 11.8h0.8v0.8h-0.8zM6.6 17.3h0.8v0.8h-0.8zM14.4 25.0h0.8v0.8h-0.8zM14.8 22.8h0.8v0.8h-0.8zM13.4 13.6h0.8v0.8h-0.8zM6.2 8.9h0.8v0.8h-0.8zM12.8 3.8h0.8v0.8h-0.8zM18.6 13.3h0.8v0.8h-0.8zM21.2 24.3h0.8v0.8h-0.8zM22.8 9.6h0.8v0.8h-0.8zM16.2 10.3h0.8v0.8h-0.8zM7.0 17.8h0.8v0.8h-0.8zM9.9 25.0h0.8v0.8h-0.8zM3.8 19.0h0.8v0.8h-0.8zM22.0 18.9h0.8v0.8h-0.8zM5.0 12.6h0.8v0.8h-0.8zM9.4 31.5h0.8v0.8h-0.8zM8.9 13.0h0.8v0.8h-0.8zM12.1 14.5h0.8v0.8h-0.8zM13.4 8.2h0.8v0.8h-0.8zM13.0 11.6h0.8v0.8h-0.8zM10.2 13.4h0.8v0.8h-0.8zM18.8 18.7h0.8v0.8h-0.8zM17.6 8.7h0.8v0.8h-0.8zM1.7 14.3h0.8v0.8h-0.8zM18.9 15.8h0.8v0.8h-0.8zM9.5 0.3h0.8v0.8h-0.8zM15.4 7.9h0.8v0.8h-0.8zM1.9 19.7h0.8v0.8h-0.8zM13.6 28.6h0.8v0.8h-0.8zM4.7 2.2h0.8v0.8h-0.8zM14.0 31.9h0.8v0.8h-0.8zM14.5 22.7h0.8v0.8h-0.8zM3.9 19.0h0.8v0.8h-0.8zM17.9 27.6h0.8v0.8h-0.8zM8.4 17.9h0.8v0.8h-0.8zM16.9 14.1h0.8v0.8h-0.8zM13.5 19.8h0.8v0.8h-0.8zM7.5 5.2h0.8v0.8h-0.8zM10.6 11.8h0.8v0.8h-0.8zM26.1 9.8h0.8v0.8h-0.8zM18.0 23.7h0.8v0.8h-0.8zM11.6 26.4h0.8v0.8h-0.8zM9.0 27.7h0.8v0.8h-0.8zM17.5 11.3h0.8v0.8h-0.8zM4.1 14.3h0.8v0.8h-0.8zM7.5 12.0h0.8v0.8h-0.8zM10.0 9.9h0.8v0.8h-0.8zM14.2 18.0h0.8v0.8h-0.8zM6.6 8.7h0.8v0.8h-0.8zM14.9 11.3h0.8v0.8h-0.8zM10.2 7.0h0.8v0.8h-0.8zM0.9 13.9h0.8v0.8h-0.8zM6.4 15.6h0.8v0.8h-0.8zM11.3 12.4h0.8v0.8h-0.8zM19.4 8.1h0.8v0.8h-0.8zM21.2 20.0h0.8v0.8h-0.8zM31.5 7.4h0.8v0.8h-0.8zM8.8 20.5h0.8v0.8h-0.8zM18.8 13.7h0.8v0.8h-0.8zM18.8 17.8h0.8v0.8h-0.8zM3.6 19.7h0.8v0.8h-0.8zM19.3 20.6h0.8v0.8h-0.8zM12.8 7.7h0.8v0.8h-0.8zM18.5 31.2h0.8v0.8h-0.8zM4.0 23.0h0.8v0.8h-0.8zM1.2 18.7h0.8v0.8h-0.8zM17.9 1.9h0.8v0.8h-0.8zM4.3 17.7h0.8v0.8h-0.8zM11.7 19.7h0.8v0.8h-0.8zM22.9 4.7h0.8v0.8h-0.8zM19.5 21.7h0.8v0.8h-0.8zM2.3 8.8h0.8v0.8h-0.8zM1.7 14.6h0.8v0.8h-0.8zM6.4 27.8h0.8v0.8h-0.8zM16.3 3.8h0.8v0.8h-0.8zM23.5 18.8h0.8v0.8h-0.8zM19.4 16.9h0.8v0.8h-0.8zM22.3 28.3h0.8v0.8h-0.8zM19.0 31.0h0.8v0.8h-0.8zM17.8 19.9h0.8v0.8h-0.8zM22.1 23.0h0.8v0.8h-0.8zM6.0 25.4h0.8v0.8h-0.8zM14.8 17.8h0.8v0.8h-0.8zM26.3 27.0h0.8v0.8h-0.8zM4.3 17.7h0.8v0.8h-0.8zM20.6 28.4h0.8v0.8h-0.8zM17.3 13.0h0.8v0.8h-0.8zM22.4 16.3h0.8v0.8h-0.8zM9.8 9.5h0.8v0.8h-0.8zM14.8 8.3h0.8v0.8h-0.8zM6.8 6.9h0.8v0.8h-0.8zM25.6 15.7h0.8v0.8h-0.8zM17.2 20.5h0.8v0.8h-0.8zM9.4 24.9h0.8v0.8h-0.8zM12.5 9.2h0.8v0.8h-0.8zM6.7 12.9h0.8v0.8h-0.8zM10.3 30.6h0.8v0.8h-0.8zM23.7 32.7h0.8v0.8h-0.8zM8.7 8.4h0.8v0.8h-0.8zM22.3 23.8h0.8v0.8h-0.8zM15.7 8.0h0.8v0.8h-0.8zM11.7 4.8h0.8v0.8h-0.8zM25.0 27.7h0.8v0.8h-0.8zM10.7 27.6h0.8v0.8h-0.8zM17.6 9.2h0.8v0.8h-0.8zM15.9 12.1h0.8v0.8h-0.8zM6.8 13.5h0.8v0.8h-0.8zM20.9 4.8h0.8v0.8h-0.8zM6.9 1.3h0.8v0.8h-0.8zM9.4 25.9h0.8v0.8h-0.8zM18.7 22.6h0.8v0.8h-0.8zM17.1 32.5h0.8v0.8h-0.8zM24.1 33.3h0.8v0.8h-0.8zM7.6 10.4h0.8v0.8h-0.8zM19.1 24.4h0.8v0.8h-0.8zM10.1 14.7h0.8v0.8h-0.8zM20.0 15.5h0.8v0.8h-0.8zM8.5 20.2h0.8v0.8h-0.8zM9.8 22.7h0.8v0.8h-0.8zM15.2 13.8h0.8v0.8h-0.8zM7.6 27.2h0.8v0.8h-0.8zM7.7 18.1h0.8v0.8h-0.8zM11.2 17.3h0.8v0.8h-0.8zM11.1 27.0h0.8v0.8h-0.8zM14.4 6.2h0.8v0.8h-0.8zM5.1 24.4h0.8v0.8h-0.8zM12.2 29.5h0.8v0.8h-0.8zM16.9 30.1h0.8v0.8h-0.8zM4.0 13.3h0.8v0.8h-0.8zM22.2 4.1h0.8v0.8h-0.8zM18.6 16.4h0.8v0.8h-0.8zM20.7 13.8h0.8v0.8h-0.8zM8.6 25.2h0.8v0.8h-0.8zM28.6 4.9h0.8v0.8h-0.8zM15.6 8.8h0.8v0.8h-0.8zM17.0 21.5h0.8v0.8h-0.8zM8.7 3.0h0.8v0.8h-0.8zM14.2 17.2h0.8v0.8h-0.8zM19.8 16.6h0.8v0.8h-0.8zM21.0 19.8h0.8v0.8h-0.8zM23.9 27.6h0.8v0.8h-0.8zM4.4 14.3h0.8v0.8h-0.8zM16.8 14.6h0.8v0.8h-0.8zM7.9 10.1h0.8v0.8h-0.8zM7.8 28.0h0.8v0.8h-0.8zM29.3 8.5h0.8v0.8h-0.8zM30.1 3.0h0.8v0.8h-0.8zM14.7 18.7h0.8v0.8h-0.8zM16.1 10.2h0.8v0.8h-0.8zM6.0 15.3h0.8v0.8h-0.8zM20.9 15.1h0.8v0.8h-0.8zM16.7 22.0h0.8v0.8h-0.8zM24.0 6.3h0.8v0.8h-0.8zM6.0 28.7h0.8v0.8h-0.8zM1.3 9.0h0.8v0.8h-0.8zM12.0 17.1h0.8v0.8h-0.8zM1.2 9.9h0.8v0.8h-0.8zM2.8 27.0h0.8v0.8h-0.8zM7.6 20.0h0.8v0.8h-0.8zM10.5 22.6h0.8v0.8h-0.8zM3.8 7.5h0.8v0.8h-0.8zM16.5 25.7h0.8v0.8h-0.8zM7.8 12.1h0.8v0.8h-0.8zM27.4 18.0h0.8v0.8h-0.8zM20.5 27.7h0.8v0.8h-0.8zM19.2 15.9h0.8v0.8h-0.8zM12.9 25.9h0.8v0.8h-0.8zM16.8 22.9h0.8v0.8h-0.8zM18.0 11.9h0.8v0.8h-0.8zM8.2 2.8h0.8v0.8h-0.8zM15.3 16.9h0.8v0.8h-0.8zM11.0 6.2h0.8v0.8h-0.8zM20.4 24.3h0.8v0.8h-0.8zM18.3 22.6h0.8v0.8h-0.8zM21.7 19.6h0.8v0.8h-0.8zM8.2 18.6h0.8v0.8h-0.8zM14.1 20.6h0.8v0.8h-0.8zM17.1 17.8h0.8v0.8h-0.8zM15.4 16.6h0.8v0.8h-0.8zM12.1 6.0h0.8v0.8h-0.8zM8.7 12.4h0.8v0.8h-0.8zM25.9 14.7h0.8v0.8h-0.8zM7.7 23.0h0.8v0.8h-0.8zM17.1 14.0h0.8v0.8h-0.8zM20.3 6.9h0.8v0.8h-0.8zM6.0 11.8h0.8v0.8h-0.8zM11.1 14.5h0.8v0.8h-0.8zM13.7 26.4h0.8v0.8h-0.8zM14.2 21.1h0.8v0.8h-0.8zM12.0 6.6h0.8v0.8h-0.8zM13.3 6.8h0.8v0.8h-0.8zM18.4 14.2h0.8v0.8h-0.8zM6.5 16.1h0.8v0.8h-0.8zM14.6 11.7h0.8v0.8h-0.8zM6.5 13.7h0.8v0.8h-0.8zM10.1 11.7h0.8v0.8h-0.8zM28.2 33.2h0.8v0.8h-0.8zM20.9 14.6h0.8v0.8h-0.8zM20.6 22.7h0.8v0.8h-0.8zM13.9 16.8h0.8v0.8h-0.8zM20.6 26.1h0.8v0.8h-0.8zM15.5 20.6h0.8v0.8h-0.8zM8.0 15.8h0.8v0.8h-0.8zM9.1 6.5h0.8v0.8h-0.8zM25.9 17.6h0.8v0.8h-0.8z" fill="#111"/>
<ellipse cx="5.31" cy="5.07" rx="5.31" ry="5.41" fill="url(#halo3)" opacity="1.0" transform="rotate(0 5.31 5.07)"/>
<path d="M4.2 10.7h0.8v0.8h-0.8zM1.6 2.1h0.8v0.8h-0.8zM6.5 10.6h0.8v0.8h-0.8zM8.9 0.5h0.8v0.8h-0.8zM0.5 2.0h0.8v0.8h-0.8zM9.4 1.9h0.8v0.8h-0.8zM2.7 9.4h0.8v0.8h-0.8zM2.3 9.7h0.8v0.8h-0.8zM0.1 3.2h0.8v0.8h-0.8zM9.4 1.7h0.8v0.8h-0.8zM6.6 9.4h0.8v0.8h-0.8zM9.1 7.4h0.8v0.8h-0.8zM7.7 8.8h0.8v0.8h-0.8zM6.4 1.2h0.8v0.8h-0.8zM10.2 2.2h0.8v0.8h-0.8zM5.9 0.8h0.8v0.8h-0.8zM4.1 9.7h0.8v0.8h-0.8zM1.1 1.1h0.8v0.8h-0.8zM9.2 5.6h0.8v0.8h-0.8zM7.0 1.6h0.8v0.8h-0.8zM8.5 2.5h0.8v0.8h-0.8zM10.0 4.4h0.8v0.8h-0.8zM1.0 1.6h0.8v0.8h-0.8zM7.3 0.9h0.8v0.8h-0.8zM0.1 6.4h0.8v0.8h-0.8zM5.1 9.5h0.8v0.8h-0.8zM9.2 0.9h0.8v0.8h-0.8zM7.4 1.1h0.8v0.8h-0.8zM3.1 8.4h0.8v0.8h-0.8zM7.2 1.7h0.8v0.8h-0.8zM6.8 8.6h0.8v0.8h-0.8zM-0.3 6.6h0.8v0.8h-0.8zM9.1 6.9h0.8v0.8h-0.8zM4.7 10.3h0.8v0.8h-0.8zM2.8 8.3h0.8v0.8h-0.8zM3.3 -0.3h0.8v0.8h-0.8zM7.3 8.4h0.8v0.8h-0.8zM0.5 8.3h0.8v0.8h-0.8zM9.0 6.6h0.8v0.8h-0.8zM2.1 0.8h0.8v0.8h-0.8zM1.7 6.2h0.8v0.8h-0.8zM1.6 3.8h0.8v0.8h-0.8zM8.7 6.8h0.8v0.8h-0.8zM8.9 3.5h0.8v0.8h-0.8zM-0.1 5.9h0.8v0.8h-0.8zM6.7 9.5h0.8v0.8h-0.8zM6.6 0.3h0.8v0.8h-0.8zM7.0 9.7h0.8v0.8h-0.8zM10.8 4.9h0.8v0.8h-0.8zM9.0 4.2h0.8v0.8h-0.8zM9.8 6.8h0.8v0.8h-0.8zM11.0 5.5h0.8v0.8h-0.8zM4.0 9.9h0.8v0.8h-0.8zM8.6 1.8h0.8v0.8h-0.8zM5.7 1.0h0.8v0.8h-0.8zM0.4 6.9h0.8v0.8h-0.8zM1.3 5.9h0.8v0.8h-0.8zM8.1 1.5h0.8v0.8h-0.8zM9.0 2.7h0.8v0.8h-0.8zM7.2 1.5h0.8v0.8h-0.8z" fill="#111"/>
<ellipse cx="5.31" cy="5.07" rx="2.12" ry="2.16" fill="url(#light)" transform="rotate(0 5.31 5.07)"/>
<ellipse cx="9.10" cy="24.34" rx="6.82" ry="10.82" fill="url(#halo2)" opacity="1.0" transform="rotate(15 9.10 24.34)"/>
<path d="M8.6 13.5h0.8v0.8h-0.8zM7.0 17.3h0.8v0.8h-0.8zM16.5 24.9h0.8v0.8h-0.8zM12.9 18.2h0.8v0.8h-0.8zM12.8 30.7h0.8v0.8h-0.8zM10.5 30.0h0.8v0.8h-0.8zM3.5 18.7h0.8v0.8h-0.8zM5.4 34.6h0.8v0.8h-0.8zM16.7 23.4h0.8v0.8h-0.8zM12.0 28.8h0.8v0.8h-0.8zM16.8 23.0h0.8v0.8h-0.8zM9.5 31.3h0.8v0.8h-0.8zM9.9 17.5h0.8v0.8h-0.8zM11.5 29.6h0.8v0.8h-0.8zM5.6 19.2h0.8v0.8h-0.8zM13.1 19.1h0.8v0.8h-0.8zM16.0 19.5h0.8v0.8h-0.8zM3.1 29.9h0.8v0.8h-0.8zM8.8 17.6h0.8v0.8h-0.8zM15.0 22.1h0.8v0.8h-0.8zM2.6 21.5h0.8v0.8h-0.8zM13.6 26.6h0.8v0.8h-0.8zM14.8 28.0h0.8v0.8h-0.8zM7.7 34.5h0.8v0.8h-0.8zM10.6 12.7h0.8v0.8h-0.8zM9.3 32.6h0.8v0.8h-0.8zM12.6 16.3h0.8v0.8h-0.8zM9.5 33.8h0.8v0.8h-0.8zM12.8 16.5h0.8v0.8h-0.8zM4.6 28.2h0.8v0.8h-0.8zM1.9 28.8h0.8v0.8h-0.8zM2.4 32.1h0.8v0.8h-0.8zM3.8 30.2h0.8v0.8h-0.8zM13.3 13.8h0.8v0.8h-0.8zM14.0 18.1h0.8v0.8h-0.8zM4.4 25.3h0.8v0.8h-0.8zM3.3 20.1h0.8v0.8h-0.8zM8.9 32.2h0.8v0.8h-0.8zM13.2 29.1h0.8v0.8h-0.8zM1.6 23.8h0.8v0.8h-0.8zM8.3 13.7h0.8v0.8h-0.8zM8.6 32.9h0.8v0.8h-0.8zM9.6 17.6h0.8v0.8h-0.8zM4.8 18.8h0.8v0.8h-0.8zM13.3 26.8h0.8v0.8h-0.8zM11.9 17.6h0.8v0.8h-0.8zM7.4 17.0h0.8v0.8h-0.8zM2.0 29.9h0.8v0.8h-0.8zM1.9 29.4h0.8v0.8h-0.8zM13.8 16.7h0.8v0.8h-0.8z" fill="#111"/>
<ellipse cx="9.10" cy="24.34" rx="4.09" ry="6.49" fill="url(#light2)" transform="rotate(15 9.10 24.34)"/>
<ellipse cx="23.50" cy="29.07" rx="5.68" ry="4.73" fill="url(#halo2)" opacity="1.0" transform="rotate(0 23.50 29.07)"/>
<path d="M27.0 31.2h0.8v0.8h-0.8zM27.5 28.1h0.8v0.8h-0.8zM20.1 27.3h0.8v0.8h-0.8zM22.9 24.6h0.8v0.8h-0.8zM27.4 26.4h0.8v0.8h-0.8zM27.9 32.1h0.8v0.8h-0.8zM18.1 26.7h0.8v0.8h-0.8zM19.2 28.6h0.8v0.8h-0.8zM18.8 30.5h0.8v0.8h-0.8zM21.8 25.0h0.8v0.8h-0.8zM26.7 25.9h0.8v0.8h-0.8zM25.1 33.7h0.8v0.8h-0.8zM22.6 25.9h0.8v0.8h-0.8zM17.8 30.3h0.8v0.8h-0.8zM20.2 27.6h0.8v0.8h-0.8zM27.1 25.7h0.8v0.8h-0.8zM25.3 33.3h0.8v0.8h-0.8zM26.8 25.9h0.8v0.8h-0.8zM28.2 27.8h0.8v0.8h-0.8zM28.8 29.4h0.8v0.8h-0.8zM26.4 24.7h0.8v0.8h-0.8zM23.7 24.0h0.8v0.8h-0.8zM25.1 25.3h0.8v0.8h-0.8zM27.1 30.3h0.8v0.8h-0.8zM29.3 30.6h0.8v0.8h-0.8zM25.6 24.4h0.8v0.8h-0.8zM24.3 25.2h0.8v0.8h-0.8zM20.3 27.9h0.8v0.8h-0.8zM25.9 32.3h0.8v0.8h-0.8zM27.6 30.3h0.8v0.8h-0.8zM19.7 28.7h0.8v0.8h-0.8zM25.1 31.8h0.8v0.8h-0.8zM17.9 30.3h0.8v0.8h-0.8zM18.4 30.5h0.8v0.8h-0.8zM22.3 24.4h0.8v0.8h-0.8zM24.9 25.2h0.8v0.8h-0.8zM27.2 30.0h0.8v0.8h-0.8zM22.7 32.6h0.8v0.8h-0.8zM19.6 26.7h0.8v0.8h-0.8zM22.6 32.2h0.8v0.8h-0.8zM23.0 23.9h0.8v0.8h-0.8zM22.4 26.0h0.8v0.8h-0.8zM21.6 24.6h0.8v0.8h-0.8zM18.4 28.0h0.8v0.8h-0.8zM26.6 26.0h0.8v0.8h-0.8zM22.5 25.9h0.8v0.8h-0.8zM26.1 25.5h0.8v0.8h-0.8zM25.4 33.1h0.8v0.8h-0.8zM25.6 25.6h0.8v0.8h-0.8zM21.4 33.2h0.8v0.8h-0.8z" fill="#111"/>
<ellipse cx="23.50" cy="29.07" rx="2.27" ry="1.89" fill="url(#light2)" transform="rotate(0 23.50 29.07)"/>
</g></svg>
<rect x="115.2" y="87.2" width="37.9" height="33.8" fill="none" stroke="#b0b0b0" stroke-width="0.85"/>
<line x1="130.739" y1="87.2" x2="130.739" y2="121.0" stroke="#b0b0b0" stroke-width="0.8"/>
<line x1="115.2" y1="102.748" x2="153.1" y2="102.748" stroke="#b0b0b0" stroke-width="0.8"/>
<rect x="116.0" y="88.2" width="1.4" height="0.8" fill="#555"/>
<rect x="116.0" y="90.4" width="3" height="0.7" fill="#888"/>
<rect x="131.5" y="88.2" width="1.4" height="0.8" fill="#555"/>
<rect x="131.5" y="90.4" width="3" height="0.7" fill="#888"/>
<rect x="116.0" y="103.7" width="1.4" height="0.8" fill="#555"/>
<rect x="116.0" y="105.9" width="3" height="0.7" fill="#888"/>
<rect x="131.5" y="103.7" width="1.4" height="0.8" fill="#555"/>
<rect x="131.5" y="105.9" width="3" height="0.7" fill="#888"/>
<text x="163.9" y="85.60000000000001" font-size="5" text-anchor="start" fill="#333">6.0</text>
<text x="201.2" y="85.60000000000001" font-size="5" text-anchor="end" fill="#333">1.6</text>
<svg x="163.6" y="87.2" width="37.9" height="33.8" viewBox="0 0 37.9 33.8" overflow="hidden"><g filter="url(#soft)">
<path d="M26.2 5.2h0.8v0.8h-0.8zM1.4 33.1h0.8v0.8h-0.8zM5.6 4.6h0.8v0.8h-0.8zM18.0 11.9h0.8v0.8h-0.8zM24.4 8.2h0.8v0.8h-0.8zM26.2 11.0h0.8v0.8h-0.8zM16.7 30.9h0.8v0.8h-0.8zM18.9 30.7h0.8v0.8h-0.8zM19.5 2.2h0.8v0.8h-0.8zM24.1 19.8h0.8v0.8h-0.8zM9.0 6.8h0.8v0.8h-0.8zM23.3 19.6h0.8v0.8h-0.8zM25.6 25.8h0.8v0.8h-0.8zM26.3 19.1h0.8v0.8h-0.8zM19.3 20.5h0.8v0.8h-0.8zM7.6 31.7h0.8v0.8h-0.8zM9.0 26.0h0.8v0.8h-0.8zM26.1 21.8h0.8v0.8h-0.8zM4.5 27.5h0.8v0.8h-0.8zM18.5 6.7h0.8v0.8h-0.8zM2.1 17.9h0.8v0.8h-0.8zM1.6 30.7h0.8v0.8h-0.8zM14.2 17.5h0.8v0.8h-0.8zM11.6 22.1h0.8v0.8h-0.8zM25.1 10.6h0.8v0.8h-0.8zM10.7 19.6h0.8v0.8h-0.8zM8.6 20.0h0.8v0.8h-0.8zM15.2 14.7h0.8v0.8h-0.8zM18.6 17.8h0.8v0.8h-0.8zM3.1 33.0h0.8v0.8h-0.8zM10.2 14.7h0.8v0.8h-0.8zM11.4 30.8h0.8v0.8h-0.8zM26.0 17.3h0.8v0.8h-0.8zM11.4 3.8h0.8v0.8h-0.8zM24.5 6.2h0.8v0.8h-0.8zM15.3 12.0h0.8v0.8h-0.8zM9.5 12.3h0.8v0.8h-0.8zM5.8 1.9h0.8v0.8h-0.8zM15.0 26.5h0.8v0.8h-0.8zM17.9 7.2h0.8v0.8h-0.8zM19.2 2.4h0.8v0.8h-0.8zM11.7 27.5h0.8v0.8h-0.8zM25.2 15.6h0.8v0.8h-0.8zM23.2 16.9h0.8v0.8h-0.8zM14.7 19.6h0.8v0.8h-0.8zM27.1 24.8h0.8v0.8h-0.8zM13.3 24.3h0.8v0.8h-0.8zM17.8 12.2h0.8v0.8h-0.8zM21.6 27.3h0.8v0.8h-0.8zM16.9 31.3h0.8v0.8h-0.8zM1.2 16.9h0.8v0.8h-0.8zM17.6 11.7h0.8v0.8h-0.8zM5.3 23.1h0.8v0.8h-0.8zM12.3 9.4h0.8v0.8h-0.8zM1.9 32.1h0.8v0.8h-0.8zM10.1 4.5h0.8v0.8h-0.8zM6.5 8.9h0.8v0.8h-0.8zM23.7 6.5h0.8v0.8h-0.8zM8.1 3.8h0.8v0.8h-0.8zM13.2 7.4h0.8v0.8h-0.8zM9.9 24.5h0.8v0.8h-0.8zM25.3 27.7h0.8v0.8h-0.8zM1.8 12.9h0.8v0.8h-0.8zM23.3 1.7h0.8v0.8h-0.8zM6.1 16.6h0.8v0.8h-0.8zM10.9 25.0h0.8v0.8h-0.8zM19.8 15.7h0.8v0.8h-0.8zM7.4 8.2h0.8v0.8h-0.8zM7.8 2.8h0.8v0.8h-0.8zM18.4 5.8h0.8v0.8h-0.8zM24.4 21.6h0.8v0.8h-0.8zM2.3 16.9h0.8v0.8h-0.8zM16.8 2.0h0.8v0.8h-0.8zM13.7 1.6h0.8v0.8h-0.8zM21.1 0.8h0.8v0.8h-0.8zM17.5 32.7h0.8v0.8h-0.8zM23.2 8.2h0.8v0.8h-0.8zM14.9 5.2h0.8v0.8h-0.8zM9.8 28.7h0.8v0.8h-0.8zM22.5 1.0h0.8v0.8h-0.8zM10.8 21.5h0.8v0.8h-0.8zM5.4 26.7h0.8v0.8h-0.8zM24.5 18.6h0.8v0.8h-0.8zM10.4 28.2h0.8v0.8h-0.8zM14.4 6.8h0.8v0.8h-0.8zM8.1 5.8h0.8v0.8h-0.8zM23.0 17.2h0.8v0.8h-0.8zM19.2 27.2h0.8v0.8h-0.8zM26.6 6.9h0.8v0.8h-0.8zM11.5 29.0h0.8v0.8h-0.8zM21.0 13.2h0.8v0.8h-0.8zM18.2 7.0h0.8v0.8h-0.8zM5.0 2.3h0.8v0.8h-0.8zM10.8 8.3h0.8v0.8h-0.8zM14.5 32.1h0.8v0.8h-0.8zM4.8 18.8h0.8v0.8h-0.8zM23.7 20.1h0.8v0.8h-0.8zM14.7 25.6h0.8v0.8h-0.8zM1.3 31.5h0.8v0.8h-0.8zM19.0 26.9h0.8v0.8h-0.8zM22.7 3.9h0.8v0.8h-0.8zM2.5 6.5h0.8v0.8h-0.8zM14.1 31.1h0.8v0.8h-0.8zM24.9 14.0h0.8v0.8h-0.8zM17.3 24.7h0.8v0.8h-0.8zM9.6 32.2h0.8v0.8h-0.8zM25.7 24.3h0.8v0.8h-0.8zM24.7 26.7h0.8v0.8h-0.8zM18.1 11.1h0.8v0.8h-0.8zM8.2 8.4h0.8v0.8h-0.8zM2.3 30.7h0.8v0.8h-0.8zM8.7 1.5h0.8v0.8h-0.8zM9.1 4.0h0.8v0.8h-0.8zM12.6 11.5h0.8v0.8h-0.8zM5.4 16.1h0.8v0.8h-0.8zM11.8 12.2h0.8v0.8h-0.8zM22.3 10.6h0.8v0.8h-0.8zM15.1 29.2h0.8v0.8h-0.8zM26.2 12.8h0.8v0.8h-0.8zM1.8 31.5h0.8v0.8h-0.8zM14.4 7.7h0.8v0.8h-0.8zM4.2 8.4h0.8v0.8h-0.8zM9.0 5.2h0.8v0.8h-0.8zM2.1 32.9h0.8v0.8h-0.8zM22.5 4.4h0.8v0.8h-0.8zM13.5 26.7h0.8v0.8h-0.8zM14.1 2.9h0.8v0.8h-0.8zM9.8 13.0h0.8v0.8h-0.8zM25.0 19.6h0.8v0.8h-0.8zM12.9 21.1h0.8v0.8h-0.8zM2.0 22.9h0.8v0.8h-0.8zM22.2 22.4h0.8v0.8h-0.8zM10.3 10.0h0.8v0.8h-0.8zM1.0 3.3h0.8v0.8h-0.8zM4.9 15.4h0.8v0.8h-0.8zM21.4 7.7h0.8v0.8h-0.8zM13.3 21.3h0.8v0.8h-0.8zM17.5 1.3h0.8v0.8h-0.8zM25.2 19.7h0.8v0.8h-0.8zM8.8 8.4h0.8v0.8h-0.8zM19.0 30.9h0.8v0.8h-0.8zM9.7 13.6h0.8v0.8h-0.8zM15.5 6.4h0.8v0.8h-0.8zM11.5 30.4h0.8v0.8h-0.8zM15.5 27.4h0.8v0.8h-0.8zM7.7 28.9h0.8v0.8h-0.8zM21.5 8.0h0.8v0.8h-0.8zM14.8 22.8h0.8v0.8h-0.8zM16.0 20.2h0.8v0.8h-0.8zM7.1 18.6h0.8v0.8h-0.8zM10.2 26.6h0.8v0.8h-0.8zM10.6 32.5h0.8v0.8h-0.8zM16.2 8.1h0.8v0.8h-0.8zM11.8 4.8h0.8v0.8h-0.8zM20.3 2.2h0.8v0.8h-0.8zM16.8 10.7h0.8v0.8h-0.8zM21.4 4.8h0.8v0.8h-0.8zM18.8 23.8h0.8v0.8h-0.8zM6.9 4.9h0.8v0.8h-0.8zM10.6 21.7h0.8v0.8h-0.8zM7.7 1.0h0.8v0.8h-0.8zM12.5 26.9h0.8v0.8h-0.8zM4.9 31.2h0.8v0.8h-0.8zM14.2 5.9h0.8v0.8h-0.8zM3.4 12.7h0.8v0.8h-0.8zM13.4 6.4h0.8v0.8h-0.8zM3.0 16.9h0.8v0.8h-0.8zM7.5 15.1h0.8v0.8h-0.8zM12.7 23.3h0.8v0.8h-0.8zM16.1 8.1h0.8v0.8h-0.8zM5.5 28.5h0.8v0.8h-0.8zM2.1 4.7h0.8v0.8h-0.8zM2.6 27.5h0.8v0.8h-0.8zM15.1 30.6h0.8v0.8h-0.8zM17.4 11.6h0.8v0.8h-0.8zM12.2 24.4h0.8v0.8h-0.8zM6.9 26.7h0.8v0.8h-0.8zM11.6 2.0h0.8v0.8h-0.8zM9.9 18.9h0.8v0.8h-0.8zM4.6 30.1h0.8v0.8h-0.8zM25.3 17.3h0.8v0.8h-0.8zM24.8 23.1h0.8v0.8h-0.8zM15.0 5.8h0.8v0.8h-0.8zM26.0 30.5h0.8v0.8h-0.8zM12.7 13.2h0.8v0.8h-0.8zM2.7 20.8h0.8v0.8h-0.8zM23.4 13.3h0.8v0.8h-0.8zM8.4 20.6h0.8v0.8h-0.8zM21.8 6.2h0.8v0.8h-0.8zM8.2 21.5h0.8v0.8h-0.8zM1.9 27.2h0.8v0.8h-0.8zM9.1 27.7h0.8v0.8h-0.8zM12.8 6.0h0.8v0.8h-0.8zM1.3 4.4h0.8v0.8h-0.8zM7.7 25.3h0.8v0.8h-0.8zM21.8 21.2h0.8v0.8h-0.8zM8.9 22.2h0.8v0.8h-0.8zM20.2 12.6h0.8v0.8h-0.8zM2.9 15.9h0.8v0.8h-0.8zM6.6 6.8h0.8v0.8h-0.8zM11.1 3.1h0.8v0.8h-0.8zM24.6 9.8h0.8v0.8h-0.8zM24.6 24.6h0.8v0.8h-0.8zM1.0 29.9h0.8v0.8h-0.8zM22.2 17.7h0.8v0.8h-0.8zM24.2 16.2h0.8v0.8h-0.8zM1.4 5.5h0.8v0.8h-0.8zM9.0 28.5h0.8v0.8h-0.8zM22.8 4.5h0.8v0.8h-0.8zM10.0 4.3h0.8v0.8h-0.8zM6.8 12.1h0.8v0.8h-0.8zM11.8 5.5h0.8v0.8h-0.8zM18.2 8.5h0.8v0.8h-0.8zM24.4 16.3h0.8v0.8h-0.8zM12.2 25.5h0.8v0.8h-0.8zM9.9 9.0h0.8v0.8h-0.8zM4.0 10.2h0.8v0.8h-0.8zM7.0 24.5h0.8v0.8h-0.8zM10.2 23.6h0.8v0.8h-0.8zM8.1 2.9h0.8v0.8h-0.8zM8.8 13.4h0.8v0.8h-0.8zM24.9 7.1h0.8v0.8h-0.8zM6.4 5.7h0.8v0.8h-0.8zM7.5 31.8h0.8v0.8h-0.8zM25.5 8.1h0.8v0.8h-0.8zM2.1 16.5h0.8v0.8h-0.8zM16.3 4.3h0.8v0.8h-0.8zM11.9 25.6h0.8v0.8h-0.8zM0.8 24.0h0.8v0.8h-0.8zM18.9 26.2h0.8v0.8h-0.8zM13.7 15.7h0.8v0.8h-0.8zM14.5 5.1h0.8v0.8h-0.8zM14.4 8.4h0.8v0.8h-0.8zM9.3 2.1h0.8v0.8h-0.8zM5.0 2.5h0.8v0.8h-0.8zM15.1 8.3h0.8v0.8h-0.8zM15.5 17.0h0.8v0.8h-0.8zM6.9 4.8h0.8v0.8h-0.8zM16.6 22.6h0.8v0.8h-0.8zM19.1 17.1h0.8v0.8h-0.8zM16.1 1.5h0.8v0.8h-0.8zM8.9 26.7h0.8v0.8h-0.8zM10.8 4.1h0.8v0.8h-0.8zM11.9 27.7h0.8v0.8h-0.8zM3.4 4.3h0.8v0.8h-0.8zM14.0 29.0h0.8v0.8h-0.8zM11.1 8.7h0.8v0.8h-0.8zM21.1 3.7h0.8v0.8h-0.8zM8.6 20.1h0.8v0.8h-0.8zM23.3 28.6h0.8v0.8h-0.8zM9.4 9.3h0.8v0.8h-0.8zM10.4 4.6h0.8v0.8h-0.8zM8.0 25.5h0.8v0.8h-0.8zM26.7 9.4h0.8v0.8h-0.8zM2.7 24.7h0.8v0.8h-0.8zM26.4 26.4h0.8v0.8h-0.8zM11.7 24.8h0.8v0.8h-0.8zM20.9 24.8h0.8v0.8h-0.8zM13.8 33.1h0.8v0.8h-0.8zM21.5 8.3h0.8v0.8h-0.8z" fill="#555"/>
<path d="M11.1 15.8h0.8v0.8h-0.8zM5.3 25.7h0.8v0.8h-0.8zM5.8 15.1h0.8v0.8h-0.8zM14.1 10.5h0.8v0.8h-0.8zM9.2 22.2h0.8v0.8h-0.8zM3.9 14.7h0.8v0.8h-0.8zM24.3 8.1h0.8v0.8h-0.8zM4.3 10.4h0.8v0.8h-0.8zM6.5 7.5h0.8v0.8h-0.8zM8.3 19.8h0.8v0.8h-0.8zM14.2 5.7h0.8v0.8h-0.8zM22.2 6.1h0.8v0.8h-0.8zM23.3 10.4h0.8v0.8h-0.8zM8.1 10.6h0.8v0.8h-0.8zM23.1 15.7h0.8v0.8h-0.8zM13.7 0.1h0.8v0.8h-0.8zM13.7 11.8h0.8v0.8h-0.8zM11.5 7.7h0.8v0.8h-0.8zM3.7 25.6h0.8v0.8h-0.8zM7.7 19.7h0.8v0.8h-0.8zM17.5 15.9h0.8v0.8h-0.8zM14.8 20.1h0.8v0.8h-0.8zM11.7 13.8h0.8v0.8h-0.8zM16.0 16.2h0.8v0.8h-0.8zM13.6 3.6h0.8v0.8h-0.8zM21.3 25.4h0.8v0.8h-0.8zM15.4 16.7h0.8v0.8h-0.8zM0.8 12.9h0.8v0.8h-0.8zM8.9 30.5h0.8v0.8h-0.8zM25.5 12.6h0.8v0.8h-0.8zM16.2 24.2h0.8v0.8h-0.8zM3.7 10.3h0.8v0.8h-0.8zM14.7 25.6h0.8v0.8h-0.8zM12.8 19.7h0.8v0.8h-0.8zM2.6 19.1h0.8v0.8h-0.8zM8.0 11.5h0.8v0.8h-0.8zM14.6 22.4h0.8v0.8h-0.8zM9.5 18.3h0.8v0.8h-0.8zM11.9 20.0h0.8v0.8h-0.8zM11.0 26.8h0.8v0.8h-0.8zM7.3 5.5h0.8v0.8h-0.8zM22.1 8.2h0.8v0.8h-0.8zM18.1 20.7h0.8v0.8h-0.8zM3.1 12.0h0.8v0.8h-0.8zM10.9 13.5h0.8v0.8h-0.8zM4.3 16.1h0.8v0.8h-0.8zM15.2 4.9h0.8v0.8h-0.8zM14.0 16.4h0.8v0.8h-0.8zM2.9 13.9h0.8v0.8h-0.8zM19.7 21.0h0.8v0.8h-0.8zM6.9 7.8h0.8v0.8h-0.8zM14.0 18.0h0.8v0.8h-0.8zM19.1 15.2h0.8v0.8h-0.8zM19.0 8.7h0.8v0.8h-0.8zM25.6 12.8h0.8v0.8h-0.8zM7.6 9.4h0.8v0.8h-0.8zM2.2 7.8h0.8v0.8h-0.8zM11.7 18.6h0.8v0.8h-0.8zM21.0 6.8h0.8v0.8h-0.8zM9.0 20.4h0.8v0.8h-0.8zM20.4 20.9h0.8v0.8h-0.8zM15.3 4.1h0.8v0.8h-0.8zM10.2 0.6h0.8v0.8h-0.8zM9.2 25.1h0.8v0.8h-0.8zM23.7 11.8h0.8v0.8h-0.8zM17.5 26.0h0.8v0.8h-0.8zM6.8 2.2h0.8v0.8h-0.8zM18.0 13.3h0.8v0.8h-0.8zM11.7 14.5h0.8v0.8h-0.8zM16.7 13.8h0.8v0.8h-0.8zM5.7 19.6h0.8v0.8h-0.8zM10.1 16.5h0.8v0.8h-0.8zM9.1 14.1h0.8v0.8h-0.8zM3.5 15.1h0.8v0.8h-0.8zM11.5 23.3h0.8v0.8h-0.8zM8.3 6.2h0.8v0.8h-0.8zM17.4 13.1h0.8v0.8h-0.8zM10.4 14.7h0.8v0.8h-0.8zM11.6 5.8h0.8v0.8h-0.8zM18.0 6.0h0.8v0.8h-0.8zM14.1 12.1h0.8v0.8h-0.8zM8.6 8.3h0.8v0.8h-0.8zM15.1 10.6h0.8v0.8h-0.8zM22.0 21.3h0.8v0.8h-0.8zM10.5 22.5h0.8v0.8h-0.8zM5.0 2.5h0.8v0.8h-0.8zM8.6 16.6h0.8v0.8h-0.8zM0.0 12.4h0.8v0.8h-0.8zM19.1 7.5h0.8v0.8h-0.8zM22.7 6.0h0.8v0.8h-0.8zM22.5 17.3h0.8v0.8h-0.8zM14.2 11.7h0.8v0.8h-0.8zM7.0 23.0h0.8v0.8h-0.8zM5.7 13.7h0.8v0.8h-0.8zM17.9 17.9h0.8v0.8h-0.8zM17.7 8.2h0.8v0.8h-0.8zM5.1 15.7h0.8v0.8h-0.8zM12.3 23.1h0.8v0.8h-0.8zM0.7 13.6h0.8v0.8h-0.8zM15.8 9.6h0.8v0.8h-0.8zM2.9 13.9h0.8v0.8h-0.8zM20.0 7.7h0.8v0.8h-0.8zM7.4 4.9h0.8v0.8h-0.8zM33.4 11.7h0.8v0.8h-0.8zM20.9 24.0h0.8v0.8h-0.8zM9.7 18.8h0.8v0.8h-0.8zM25.1 25.5h0.8v0.8h-0.8zM19.8 7.5h0.8v0.8h-0.8zM9.3 14.3h0.8v0.8h-0.8zM23.4 7.7h0.8v0.8h-0.8zM17.8 24.2h0.8v0.8h-0.8zM18.7 14.0h0.8v0.8h-0.8zM9.4 20.2h0.8v0.8h-0.8zM11.4 17.4h0.8v0.8h-0.8zM10.3 9.4h0.8v0.8h-0.8zM10.6 5.3h0.8v0.8h-0.8zM19.5 2.0h0.8v0.8h-0.8zM16.0 10.2h0.8v0.8h-0.8zM13.6 14.6h0.8v0.8h-0.8zM22.6 23.0h0.8v0.8h-0.8zM16.0 13.5h0.8v0.8h-0.8zM13.9 23.1h0.8v0.8h-0.8zM22.0 19.4h0.8v0.8h-0.8zM21.4 1.0h0.8v0.8h-0.8zM19.8 31.6h0.8v0.8h-0.8zM14.5 9.2h0.8v0.8h-0.8zM21.4 4.1h0.8v0.8h-0.8zM16.9 4.3h0.8v0.8h-0.8zM23.3 14.9h0.8v0.8h-0.8zM10.0 14.2h0.8v0.8h-0.8zM22.6 27.8h0.8v0.8h-0.8zM15.4 12.6h0.8v0.8h-0.8zM23.5 15.8h0.8v0.8h-0.8zM10.3 31.3h0.8v0.8h-0.8zM3.8 17.5h0.8v0.8h-0.8zM24.3 18.6h0.8v0.8h-0.8zM15.8 23.0h0.8v0.8h-0.8zM8.0 14.9h0.8v0.8h-0.8zM13.9 23.8h0.8v0.8h-0.8zM17.2 15.8h0.8v0.8h-0.8zM22.3 26.8h0.8v0.8h-0.8zM16.8 11.1h0.8v0.8h-0.8zM6.7 17.8h0.8v0.8h-0.8zM10.2 5.1h0.8v0.8h-0.8zM12.8 28.4h0.8v0.8h-0.8zM14.8 22.7h0.8v0.8h-0.8zM19.3 15.3h0.8v0.8h-0.8zM14.9 9.7h0.8v0.8h-0.8zM16.0 22.4h0.8v0.8h-0.8zM13.4 15.2h0.8v0.8h-0.8zM17.7 16.2h0.8v0.8h-0.8zM17.1 1.5h0.8v0.8h-0.8zM18.6 14.1h0.8v0.8h-0.8zM11.8 4.9h0.8v0.8h-0.8zM20.4 11.9h0.8v0.8h-0.8zM24.3 10.8h0.8v0.8h-0.8zM9.3 25.4h0.8v0.8h-0.8zM13.8 28.4h0.8v0.8h-0.8zM13.0 9.1h0.8v0.8h-0.8zM19.7 21.9h0.8v0.8h-0.8zM9.0 9.6h0.8v0.8h-0.8zM11.0 10.8h0.8v0.8h-0.8zM6.5 9.4h0.8v0.8h-0.8zM18.7 2.0h0.8v0.8h-0.8zM20.9 19.6h0.8v0.8h-0.8zM19.1 21.9h0.8v0.8h-0.8zM9.3 1.8h0.8v0.8h-0.8zM21.6 14.8h0.8v0.8h-0.8zM17.1 23.5h0.8v0.8h-0.8zM6.2 14.6h0.8v0.8h-0.8zM14.1 6.8h0.8v0.8h-0.8zM8.9 15.2h0.8v0.8h-0.8zM16.6 26.0h0.8v0.8h-0.8zM19.9 27.4h0.8v0.8h-0.8zM11.4 17.3h0.8v0.8h-0.8zM14.0 12.4h0.8v0.8h-0.8zM11.0 26.5h0.8v0.8h-0.8zM23.6 15.6h0.8v0.8h-0.8zM9.0 29.5h0.8v0.8h-0.8zM21.2 12.9h0.8v0.8h-0.8zM18.9 17.9h0.8v0.8h-0.8zM13.7 14.1h0.8v0.8h-0.8zM8.4 6.3h0.8v0.8h-0.8zM13.3 5.8h0.8v0.8h-0.8zM16.6 12.5h0.8v0.8h-0.8zM8.9 18.0h0.8v0.8h-0.8zM9.4 12.0h0.8v0.8h-0.8zM8.3 20.5h0.8v0.8h-0.8zM15.0 13.2h0.8v0.8h-0.8zM12.9 19.1h0.8v0.8h-0.8zM24.8 15.8h0.8v0.8h-0.8zM18.9 7.5h0.8v0.8h-0.8zM4.2 5.4h0.8v0.8h-0.8zM17.8 11.4h0.8v0.8h-0.8zM13.0 10.8h0.8v0.8h-0.8zM4.3 28.7h0.8v0.8h-0.8zM8.1 6.4h0.8v0.8h-0.8zM6.9 17.4h0.8v0.8h-0.8zM21.8 16.4h0.8v0.8h-0.8zM16.7 12.6h0.8v0.8h-0.8zM22.5 16.9h0.8v0.8h-0.8zM16.7 5.8h0.8v0.8h-0.8zM21.7 20.6h0.8v0.8h-0.8zM11.1 8.9h0.8v0.8h-0.8zM16.8 4.1h0.8v0.8h-0.8zM14.7 7.9h0.8v0.8h-0.8zM7.5 24.1h0.8v0.8h-0.8zM23.3 9.3h0.8v0.8h-0.8zM20.8 14.8h0.8v0.8h-0.8zM8.0 1.0h0.8v0.8h-0.8zM12.8 17.0h0.8v0.8h-0.8zM10.0 11.4h0.8v0.8h-0.8zM9.0 13.5h0.8v0.8h-0.8zM14.8 12.7h0.8v0.8h-0.8zM1.3 7.7h0.8v0.8h-0.8zM11.4 10.3h0.8v0.8h-0.8zM2.1 9.3h0.8v0.8h-0.8zM4.1 0.1h0.8v0.8h-0.8zM16.2 6.3h0.8v0.8h-0.8zM20.7 23.6h0.8v0.8h-0.8zM1.8 16.2h0.8v0.8h-0.8zM4.0 19.0h0.8v0.8h-0.8zM20.3 25.8h0.8v0.8h-0.8zM21.4 2.2h0.8v0.8h-0.8zM15.2 1.3h0.8v0.8h-0.8zM16.4 21.1h0.8v0.8h-0.8zM12.6 21.4h0.8v0.8h-0.8zM8.4 10.0h0.8v0.8h-0.8zM14.2 14.2h0.8v0.8h-0.8zM7.1 6.8h0.8v0.8h-0.8zM4.1 20.1h0.8v0.8h-0.8zM17.2 9.7h0.8v0.8h-0.8zM11.2 10.3h0.8v0.8h-0.8zM8.0 17.2h0.8v0.8h-0.8zM19.0 6.4h0.8v0.8h-0.8zM11.3 1.8h0.8v0.8h-0.8zM10.3 13.0h0.8v0.8h-0.8zM11.0 11.7h0.8v0.8h-0.8zM11.5 17.9h0.8v0.8h-0.8zM18.1 20.3h0.8v0.8h-0.8zM13.3 15.8h0.8v0.8h-0.8zM7.3 16.3h0.8v0.8h-0.8zM9.9 18.9h0.8v0.8h-0.8zM11.7 19.3h0.8v0.8h-0.8zM0.7 22.6h0.8v0.8h-0.8zM4.8 27.7h0.8v0.8h-0.8zM4.5 14.3h0.8v0.8h-0.8zM7.3 15.2h0.8v0.8h-0.8zM20.1 6.4h0.8v0.8h-0.8zM15.7 21.2h0.8v0.8h-0.8zM7.1 21.3h0.8v0.8h-0.8zM10.0 19.0h0.8v0.8h-0.8zM16.5 11.2h0.8v0.8h-0.8zM3.6 11.0h0.8v0.8h-0.8zM5.8 15.1h0.8v0.8h-0.8z" fill="#111"/>
<path d="M4.7 3.2h0.8v0.8h-0.8zM8.0 7.8h0.8v0.8h-0.8zM7.5 7.7h0.8v0.8h-0.8zM7.3 7.6h0.8v0.8h-0.8zM11.1 9.8h0.8v0.8h-0.8zM9.2 11.8h0.8v0.8h-0.8zM2.5 9.9h0.8v0.8h-0.8zM1.8 4.3h0.8v0.8h-0.8zM4.8 8.4h0.8v0.8h-0.8zM11.7 4.5h0.8v0.8h-0.8zM2.1 9.7h0.8v0.8h-0.8zM7.0 1.9h0.8v0.8h-0.8zM13.8 8.0h0.8v0.8h-0.8zM8.0 7.1h0.8v0.8h-0.8zM6.5 8.6h0.8v0.8h-0.8zM7.8 10.7h0.8v0.8h-0.8zM3.0 6.6h0.8v0.8h-0.8zM10.7 2.9h0.8v0.8h-0.8zM9.7 4.1h0.8v0.8h-0.8zM10.4 11.0h0.8v0.8h-0.8zM9.4 6.7h0.8v0.8h-0.8zM5.3 4.6h0.8v0.8h-0.8zM8.4 6.7h0.8v0.8h-0.8zM4.7 7.2h0.8v0.8h-0.8zM4.2 10.8h0.8v0.8h-0.8zM10.0 6.8h0.8v0.8h-0.8zM10.9 6.0h0.8v0.8h-0.8zM11.8 7.2h0.8v0.8h-0.8zM3.7 0.3h0.8v0.8h-0.8zM13.1 1.3h0.8v0.8h-0.8zM7.3 9.7h0.8v0.8h-0.8zM6.7 3.8h0.8v0.8h-0.8zM7.0 7.4h0.8v0.8h-0.8zM8.1 8.5h0.8v0.8h-0.8zM4.3 10.5h0.8v0.8h-0.8zM8.4 9.4h0.8v0.8h-0.8zM10.3 8.5h0.8v0.8h-0.8zM4.1 4.4h0.8v0.8h-0.8zM5.3 3.4h0.8v0.8h-0.8zM5.8 1.0h0.8v0.8h-0.8zM7.6 6.7h0.8v0.8h-0.8zM10.7 5.1h0.8v0.8h-0.8zM12.7 6.5h0.8v0.8h-0.8zM6.7 7.0h0.8v0.8h-0.8zM11.9 10.1h0.8v0.8h-0.8zM8.6 6.8h0.8v0.8h-0.8zM6.3 2.4h0.8v0.8h-0.8zM7.1 5.6h0.8v0.8h-0.8zM12.5 5.3h0.8v0.8h-0.8zM11.5 7.1h0.8v0.8h-0.8zM6.6 8.9h0.8v0.8h-0.8zM1.1 0.4h0.8v0.8h-0.8zM13.0 8.0h0.8v0.8h-0.8zM8.8 6.2h0.8v0.8h-0.8zM8.0 6.4h0.8v0.8h-0.8zM7.3 7.4h0.8v0.8h-0.8zM8.4 8.6h0.8v0.8h-0.8zM4.6 5.4h0.8v0.8h-0.8zM12.6 5.6h0.8v0.8h-0.8zM8.6 7.3h0.8v0.8h-0.8z" fill="#111"/>
<ellipse cx="5.31" cy="5.75" rx="4.55" ry="4.73" fill="url(#halo3)" opacity="1.0" transform="rotate(0 5.31 5.75)"/>
<path d="M4.5 10.5h0.8v0.8h-0.8zM6.8 1.1h0.8v0.8h-0.8zM8.3 2.2h0.8v0.8h-0.8zM0.9 4.0h0.8v0.8h-0.8zM7.4 1.4h0.8v0.8h-0.8zM8.3 2.8h0.8v0.8h-0.8zM9.0 8.1h0.8v0.8h-0.8zM3.8 0.9h0.8v0.8h-0.8zM5.2 0.7h0.8v0.8h-0.8zM8.5 3.7h0.8v0.8h-0.8zM9.1 3.8h0.8v0.8h-0.8zM1.7 7.4h0.8v0.8h-0.8zM1.4 5.8h0.8v0.8h-0.8zM4.7 2.0h0.8v0.8h-0.8zM1.3 7.5h0.8v0.8h-0.8zM9.7 4.9h0.8v0.8h-0.8zM1.7 4.4h0.8v0.8h-0.8zM2.7 1.5h0.8v0.8h-0.8zM9.2 6.2h0.8v0.8h-0.8zM4.3 10.4h0.8v0.8h-0.8zM3.7 2.9h0.8v0.8h-0.8zM8.4 3.3h0.8v0.8h-0.8zM7.5 8.4h0.8v0.8h-0.8zM8.6 7.4h0.8v0.8h-0.8zM9.2 8.0h0.8v0.8h-0.8zM7.9 8.9h0.8v0.8h-0.8zM3.1 2.3h0.8v0.8h-0.8zM4.3 9.8h0.8v0.8h-0.8zM1.2 6.8h0.8v0.8h-0.8zM2.1 3.7h0.8v0.8h-0.8zM3.3 1.3h0.8v0.8h-0.8zM9.5 4.8h0.8v0.8h-0.8zM4.4 8.9h0.8v0.8h-0.8zM0.8 8.0h0.8v0.8h-0.8zM9.8 5.4h0.8v0.8h-0.8zM6.5 9.2h0.8v0.8h-0.8zM7.5 9.2h0.8v0.8h-0.8zM8.7 4.6h0.8v0.8h-0.8zM7.0 1.8h0.8v0.8h-0.8zM4.9 9.9h0.8v0.8h-0.8zM9.4 7.2h0.8v0.8h-0.8zM8.4 3.5h0.8v0.8h-0.8zM8.9 5.0h0.8v0.8h-0.8zM2.6 9.4h0.8v0.8h-0.8zM6.0 9.0h0.8v0.8h-0.8zM1.2 5.8h0.8v0.8h-0.8zM7.1 8.8h0.8v0.8h-0.8zM8.0 8.1h0.8v0.8h-0.8zM7.9 9.4h0.8v0.8h-0.8zM8.6 2.9h0.8v0.8h-0.8zM5.9 10.1h0.8v0.8h-0.8zM9.0 4.6h0.8v0.8h-0.8zM4.9 2.5h0.8v0.8h-0.8zM5.8 0.8h0.8v0.8h-0.8zM0.7 4.4h0.8v0.8h-0.8zM1.5 3.0h0.8v0.8h-0.8zM1.4 6.0h0.8v0.8h-0.8zM4.7 10.1h0.8v0.8h-0.8zM5.7 2.4h0.8v0.8h-0.8zM3.8 2.8h0.8v0.8h-0.8z" fill="#111"/>
<ellipse cx="5.31" cy="5.75" rx="1.14" ry="1.18" fill="url(#light)" transform="rotate(0 5.31 5.75)"/>
<ellipse cx="9.10" cy="27.04" rx="5.68" ry="9.46" fill="url(#halo2)" opacity="1.0" transform="rotate(40 9.10 27.04)"/>
<path d="M11.1 19.4h0.8v0.8h-0.8zM15.4 26.6h0.8v0.8h-0.8zM11.4 19.5h0.8v0.8h-0.8zM12.3 19.4h0.8v0.8h-0.8zM12.9 18.7h0.8v0.8h-0.8zM1.1 30.7h0.8v0.8h-0.8zM6.5 32.1h0.8v0.8h-0.8zM11.0 32.1h0.8v0.8h-0.8zM14.0 24.8h0.8v0.8h-0.8zM15.3 25.3h0.8v0.8h-0.8zM11.1 21.5h0.8v0.8h-0.8zM12.9 29.8h0.8v0.8h-0.8zM3.8 33.8h0.8v0.8h-0.8zM11.4 32.2h0.8v0.8h-0.8zM14.0 24.3h0.8v0.8h-0.8zM4.6 32.3h0.8v0.8h-0.8zM5.2 34.4h0.8v0.8h-0.8zM15.2 22.7h0.8v0.8h-0.8zM13.6 18.6h0.8v0.8h-0.8zM14.9 23.0h0.8v0.8h-0.8zM14.1 25.9h0.8v0.8h-0.8zM13.8 23.9h0.8v0.8h-0.8zM4.3 30.3h0.8v0.8h-0.8zM8.0 23.0h0.8v0.8h-0.8zM9.4 22.0h0.8v0.8h-0.8zM11.9 20.2h0.8v0.8h-0.8zM4.2 30.6h0.8v0.8h-0.8zM13.5 22.1h0.8v0.8h-0.8zM1.2 31.8h0.8v0.8h-0.8zM16.1 24.9h0.8v0.8h-0.8zM10.9 19.0h0.8v0.8h-0.8zM16.7 22.6h0.8v0.8h-0.8zM14.1 21.2h0.8v0.8h-0.8zM14.1 21.4h0.8v0.8h-0.8zM8.1 23.3h0.8v0.8h-0.8zM6.6 34.6h0.8v0.8h-0.8zM9.5 31.5h0.8v0.8h-0.8zM16.8 24.3h0.8v0.8h-0.8zM14.4 29.4h0.8v0.8h-0.8zM2.7 32.2h0.8v0.8h-0.8zM6.7 24.2h0.8v0.8h-0.8zM6.6 34.4h0.8v0.8h-0.8zM3.2 27.1h0.8v0.8h-0.8zM13.4 26.9h0.8v0.8h-0.8zM6.1 35.8h0.8v0.8h-0.8zM8.5 33.0h0.8v0.8h-0.8zM7.6 22.8h0.8v0.8h-0.8zM4.1 28.5h0.8v0.8h-0.8zM14.3 23.2h0.8v0.8h-0.8zM13.4 20.6h0.8v0.8h-0.8z" fill="#111"/>
<ellipse cx="9.10" cy="27.04" rx="3.41" ry="5.68" fill="url(#light2)" transform="rotate(40 9.10 27.04)"/>
<ellipse cx="22.74" cy="29.07" rx="5.68" ry="4.39" fill="url(#halo2)" opacity="1.0" transform="rotate(0 22.74 29.07)"/>
<path d="M19.1 29.0h0.8v0.8h-0.8zM25.3 27.3h0.8v0.8h-0.8zM25.1 27.1h0.8v0.8h-0.8zM19.3 31.5h0.8v0.8h-0.8zM19.6 27.0h0.8v0.8h-0.8zM27.1 29.0h0.8v0.8h-0.8zM23.8 33.2h0.8v0.8h-0.8zM19.9 25.7h0.8v0.8h-0.8zM28.4 27.8h0.8v0.8h-0.8zM20.7 33.4h0.8v0.8h-0.8zM25.5 27.3h0.8v0.8h-0.8zM16.9 28.7h0.8v0.8h-0.8zM19.2 31.0h0.8v0.8h-0.8zM17.0 29.5h0.8v0.8h-0.8zM28.0 29.4h0.8v0.8h-0.8zM21.1 24.5h0.8v0.8h-0.8zM20.2 26.5h0.8v0.8h-0.8zM19.5 25.6h0.8v0.8h-0.8zM26.6 32.2h0.8v0.8h-0.8zM18.6 26.8h0.8v0.8h-0.8zM19.7 25.9h0.8v0.8h-0.8zM25.0 31.5h0.8v0.8h-0.8zM27.1 29.1h0.8v0.8h-0.8zM23.8 32.9h0.8v0.8h-0.8zM25.8 30.7h0.8v0.8h-0.8zM17.1 28.6h0.8v0.8h-0.8zM19.2 29.3h0.8v0.8h-0.8zM27.2 27.4h0.8v0.8h-0.8zM27.5 26.9h0.8v0.8h-0.8zM27.5 26.6h0.8v0.8h-0.8zM22.7 24.5h0.8v0.8h-0.8zM19.9 24.8h0.8v0.8h-0.8zM26.1 27.6h0.8v0.8h-0.8zM16.7 29.7h0.8v0.8h-0.8zM20.5 25.5h0.8v0.8h-0.8zM19.6 30.5h0.8v0.8h-0.8zM19.7 30.3h0.8v0.8h-0.8zM25.1 32.2h0.8v0.8h-0.8zM17.8 30.5h0.8v0.8h-0.8zM18.1 26.7h0.8v0.8h-0.8zM17.6 27.2h0.8v0.8h-0.8zM27.3 29.9h0.8v0.8h-0.8zM27.9 27.5h0.8v0.8h-0.8zM25.8 24.9h0.8v0.8h-0.8zM25.3 32.2h0.8v0.8h-0.8zM26.0 26.9h0.8v0.8h-0.8zM18.8 28.7h0.8v0.8h-0.8zM28.1 31.1h0.8v0.8h-0.8zM22.3 24.7h0.8v0.8h-0.8zM26.7 26.7h0.8v0.8h-0.8z" fill="#111"/>
<ellipse cx="22.74" cy="29.07" rx="1.99" ry="1.54" fill="url(#light2)" transform="rotate(0 22.74 29.07)"/>
</g></svg>
<rect x="163.6" y="87.2" width="37.9" height="33.8" fill="none" stroke="#b0b0b0" stroke-width="0.85"/>
<line x1="179.13899999999998" y1="87.2" x2="179.13899999999998" y2="121.0" stroke="#b0b0b0" stroke-width="0.8"/>
<line x1="163.6" y1="102.748" x2="201.5" y2="102.748" stroke="#b0b0b0" stroke-width="0.8"/>
<rect x="164.4" y="88.2" width="1.4" height="0.8" fill="#555"/>
<rect x="164.4" y="90.4" width="3" height="0.7" fill="#888"/>
<rect x="179.9" y="88.2" width="1.4" height="0.8" fill="#555"/>
<rect x="179.9" y="90.4" width="3" height="0.7" fill="#888"/>
<rect x="164.4" y="103.7" width="1.4" height="0.8" fill="#555"/>
<rect x="164.4" y="105.9" width="3" height="0.7" fill="#888"/>
<rect x="179.9" y="103.7" width="1.4" height="0.8" fill="#555"/>
<rect x="179.9" y="105.9" width="3" height="0.7" fill="#888"/>
<text x="214.0" y="85.60000000000001" font-size="5" text-anchor="start" fill="#333">32.3</text>
<text x="251.29999999999998" y="85.60000000000001" font-size="5" text-anchor="end" fill="#333">1.2</text>
<svg x="213.7" y="87.2" width="37.9" height="33.8" viewBox="0 0 37.9 33.8" overflow="hidden"><g filter="url(#soft)">
<path d="M25.3 31.5h0.8v0.8h-0.8zM24.4 3.4h0.8v0.8h-0.8zM16.5 14.4h0.8v0.8h-0.8zM14.8 4.9h0.8v0.8h-0.8zM5.9 15.1h0.8v0.8h-0.8zM6.6 15.4h0.8v0.8h-0.8zM1.4 3.5h0.8v0.8h-0.8zM19.6 14.3h0.8v0.8h-0.8zM14.4 24.5h0.8v0.8h-0.8zM10.3 2.5h0.8v0.8h-0.8zM21.5 19.8h0.8v0.8h-0.8zM18.2 20.8h0.8v0.8h-0.8zM26.5 12.4h0.8v0.8h-0.8zM20.9 12.6h0.8v0.8h-0.8zM15.9 22.1h0.8v0.8h-0.8zM9.1 3.5h0.8v0.8h-0.8zM13.3 24.0h0.8v0.8h-0.8zM16.4 15.2h0.8v0.8h-0.8zM17.8 6.6h0.8v0.8h-0.8zM5.5 11.2h0.8v0.8h-0.8zM22.4 7.0h0.8v0.8h-0.8zM3.8 3.9h0.8v0.8h-0.8zM1.8 9.6h0.8v0.8h-0.8zM16.0 27.3h0.8v0.8h-0.8zM9.5 12.7h0.8v0.8h-0.8zM8.4 10.6h0.8v0.8h-0.8zM21.4 18.5h0.8v0.8h-0.8zM7.6 4.2h0.8v0.8h-0.8zM21.6 23.6h0.8v0.8h-0.8zM22.7 8.4h0.8v0.8h-0.8zM15.2 30.5h0.8v0.8h-0.8zM16.5 31.4h0.8v0.8h-0.8zM5.2 32.3h0.8v0.8h-0.8zM2.2 14.2h0.8v0.8h-0.8zM1.4 26.9h0.8v0.8h-0.8zM19.0 32.3h0.8v0.8h-0.8zM22.1 31.5h0.8v0.8h-0.8zM15.0 32.7h0.8v0.8h-0.8zM20.6 11.9h0.8v0.8h-0.8zM26.6 12.9h0.8v0.8h-0.8zM5.9 3.1h0.8v0.8h-0.8zM13.1 7.1h0.8v0.8h-0.8zM25.5 31.5h0.8v0.8h-0.8zM6.5 4.0h0.8v0.8h-0.8zM14.8 6.2h0.8v0.8h-0.8zM15.2 27.1h0.8v0.8h-0.8zM7.5 14.4h0.8v0.8h-0.8zM24.7 15.1h0.8v0.8h-0.8zM9.9 29.6h0.8v0.8h-0.8zM22.3 29.7h0.8v0.8h-0.8zM19.0 14.1h0.8v0.8h-0.8zM19.1 27.6h0.8v0.8h-0.8zM17.7 8.4h0.8v0.8h-0.8zM8.6 14.0h0.8v0.8h-0.8zM21.2 18.8h0.8v0.8h-0.8zM15.3 27.5h0.8v0.8h-0.8zM3.6 21.2h0.8v0.8h-0.8zM9.6 18.8h0.8v0.8h-0.8zM22.9 8.7h0.8v0.8h-0.8zM26.0 3.2h0.8v0.8h-0.8zM15.7 18.3h0.8v0.8h-0.8zM7.0 18.9h0.8v0.8h-0.8zM13.2 15.3h0.8v0.8h-0.8zM19.8 0.8h0.8v0.8h-0.8zM10.8 26.2h0.8v0.8h-0.8zM4.5 28.8h0.8v0.8h-0.8zM6.2 22.8h0.8v0.8h-0.8zM5.4 15.3h0.8v0.8h-0.8zM12.0 3.3h0.8v0.8h-0.8zM19.3 16.3h0.8v0.8h-0.8zM19.0 18.2h0.8v0.8h-0.8zM15.5 17.7h0.8v0.8h-0.8zM8.7 29.8h0.8v0.8h-0.8zM3.0 29.1h0.8v0.8h-0.8zM23.7 16.8h0.8v0.8h-0.8zM21.4 22.5h0.8v0.8h-0.8zM16.8 10.1h0.8v0.8h-0.8zM9.2 12.0h0.8v0.8h-0.8zM8.8 31.8h0.8v0.8h-0.8zM9.8 13.3h0.8v0.8h-0.8zM11.9 27.2h0.8v0.8h-0.8zM13.4 18.6h0.8v0.8h-0.8zM7.5 9.7h0.8v0.8h-0.8zM3.1 7.7h0.8v0.8h-0.8zM7.8 28.3h0.8v0.8h-0.8zM14.1 4.3h0.8v0.8h-0.8zM13.0 4.6h0.8v0.8h-0.8zM15.8 15.0h0.8v0.8h-0.8zM23.5 9.1h0.8v0.8h-0.8zM23.3 8.7h0.8v0.8h-0.8zM26.8 21.3h0.8v0.8h-0.8zM1.9 26.9h0.8v0.8h-0.8zM8.1 12.4h0.8v0.8h-0.8zM4.6 27.8h0.8v0.8h-0.8zM3.2 24.6h0.8v0.8h-0.8zM11.3 22.7h0.8v0.8h-0.8zM8.5 3.2h0.8v0.8h-0.8zM25.0 21.9h0.8v0.8h-0.8zM5.3 32.4h0.8v0.8h-0.8zM24.9 6.6h0.8v0.8h-0.8zM1.3 20.5h0.8v0.8h-0.8zM4.4 24.4h0.8v0.8h-0.8zM13.2 23.7h0.8v0.8h-0.8zM15.9 25.7h0.8v0.8h-0.8zM22.6 20.2h0.8v0.8h-0.8zM16.4 11.3h0.8v0.8h-0.8zM4.3 3.7h0.8v0.8h-0.8zM23.5 7.4h0.8v0.8h-0.8zM12.1 11.0h0.8v0.8h-0.8zM17.2 18.0h0.8v0.8h-0.8zM23.5 14.8h0.8v0.8h-0.8zM10.4 21.8h0.8v0.8h-0.8zM20.5 30.7h0.8v0.8h-0.8zM9.0 29.4h0.8v0.8h-0.8zM26.8 32.6h0.8v0.8h-0.8zM4.2 13.0h0.8v0.8h-0.8zM21.3 27.6h0.8v0.8h-0.8zM1.8 13.5h0.8v0.8h-0.8zM20.0 25.3h0.8v0.8h-0.8zM15.0 7.5h0.8v0.8h-0.8zM11.6 2.6h0.8v0.8h-0.8zM9.1 14.5h0.8v0.8h-0.8zM22.6 19.8h0.8v0.8h-0.8zM11.8 8.7h0.8v0.8h-0.8zM9.1 22.4h0.8v0.8h-0.8zM12.6 6.3h0.8v0.8h-0.8zM22.6 19.4h0.8v0.8h-0.8zM26.4 18.1h0.8v0.8h-0.8zM17.3 14.6h0.8v0.8h-0.8zM16.9 30.5h0.8v0.8h-0.8zM26.8 22.1h0.8v0.8h-0.8zM12.2 2.7h0.8v0.8h-0.8zM23.0 13.4h0.8v0.8h-0.8zM10.9 2.5h0.8v0.8h-0.8zM1.7 13.3h0.8v0.8h-0.8zM26.6 24.7h0.8v0.8h-0.8zM19.6 22.4h0.8v0.8h-0.8zM8.0 6.1h0.8v0.8h-0.8zM16.7 2.7h0.8v0.8h-0.8zM16.4 17.4h0.8v0.8h-0.8zM15.2 4.6h0.8v0.8h-0.8zM2.6 16.0h0.8v0.8h-0.8zM4.6 21.5h0.8v0.8h-0.8zM9.0 20.8h0.8v0.8h-0.8zM20.7 20.4h0.8v0.8h-0.8zM14.9 7.1h0.8v0.8h-0.8zM10.0 32.4h0.8v0.8h-0.8zM7.9 9.9h0.8v0.8h-0.8zM13.8 18.4h0.8v0.8h-0.8zM21.7 10.3h0.8v0.8h-0.8zM26.3 1.4h0.8v0.8h-0.8zM21.7 19.2h0.8v0.8h-0.8zM24.7 5.6h0.8v0.8h-0.8zM19.0 31.4h0.8v0.8h-0.8zM18.5 4.3h0.8v0.8h-0.8zM25.2 32.1h0.8v0.8h-0.8zM3.7 27.5h0.8v0.8h-0.8zM2.9 3.3h0.8v0.8h-0.8zM21.9 24.0h0.8v0.8h-0.8zM26.2 21.2h0.8v0.8h-0.8zM14.3 9.5h0.8v0.8h-0.8zM16.0 32.9h0.8v0.8h-0.8zM17.9 29.1h0.8v0.8h-0.8zM6.0 24.5h0.8v0.8h-0.8zM20.2 3.0h0.8v0.8h-0.8zM22.5 6.4h0.8v0.8h-0.8zM6.5 2.7h0.8v0.8h-0.8zM18.3 5.3h0.8v0.8h-0.8zM26.6 0.7h0.8v0.8h-0.8zM22.2 25.3h0.8v0.8h-0.8zM15.9 19.2h0.8v0.8h-0.8zM21.9 21.3h0.8v0.8h-0.8zM4.5 26.5h0.8v0.8h-0.8zM10.1 19.6h0.8v0.8h-0.8zM14.4 30.0h0.8v0.8h-0.8zM11.8 28.4h0.8v0.8h-0.8zM2.9 11.3h0.8v0.8h-0.8zM18.5 20.5h0.8v0.8h-0.8zM22.8 7.4h0.8v0.8h-0.8zM22.1 26.5h0.8v0.8h-0.8zM4.5 5.2h0.8v0.8h-0.8zM16.2 32.3h0.8v0.8h-0.8zM17.0 14.6h0.8v0.8h-0.8zM14.2 26.9h0.8v0.8h-0.8zM14.6 18.1h0.8v0.8h-0.8zM16.5 30.9h0.8v0.8h-0.8zM22.0 27.9h0.8v0.8h-0.8zM7.8 20.1h0.8v0.8h-0.8zM22.6 24.0h0.8v0.8h-0.8zM26.0 30.4h0.8v0.8h-0.8zM4.1 17.2h0.8v0.8h-0.8zM10.2 7.3h0.8v0.8h-0.8zM14.0 32.6h0.8v0.8h-0.8zM21.1 3.9h0.8v0.8h-0.8zM7.3 12.7h0.8v0.8h-0.8zM24.2 15.6h0.8v0.8h-0.8zM5.0 18.5h0.8v0.8h-0.8zM7.3 1.9h0.8v0.8h-0.8zM16.5 32.8h0.8v0.8h-0.8zM21.3 24.6h0.8v0.8h-0.8zM4.8 18.9h0.8v0.8h-0.8zM17.7 25.3h0.8v0.8h-0.8zM12.6 2.4h0.8v0.8h-0.8zM25.4 9.3h0.8v0.8h-0.8zM20.3 15.7h0.8v0.8h-0.8zM21.4 11.6h0.8v0.8h-0.8zM3.2 14.6h0.8v0.8h-0.8zM13.5 26.4h0.8v0.8h-0.8zM11.5 22.3h0.8v0.8h-0.8zM10.7 24.4h0.8v0.8h-0.8zM5.4 29.2h0.8v0.8h-0.8zM25.8 1.4h0.8v0.8h-0.8zM23.5 25.9h0.8v0.8h-0.8zM19.1 4.1h0.8v0.8h-0.8zM20.2 25.7h0.8v0.8h-0.8zM17.4 31.9h0.8v0.8h-0.8zM25.9 21.2h0.8v0.8h-0.8zM25.3 5.3h0.8v0.8h-0.8zM8.7 17.9h0.8v0.8h-0.8zM14.6 31.6h0.8v0.8h-0.8zM17.6 20.8h0.8v0.8h-0.8zM17.2 31.4h0.8v0.8h-0.8zM11.4 24.7h0.8v0.8h-0.8zM16.7 13.7h0.8v0.8h-0.8zM9.8 5.7h0.8v0.8h-0.8zM1.0 11.6h0.8v0.8h-0.8zM8.7 3.3h0.8v0.8h-0.8zM13.6 12.1h0.8v0.8h-0.8zM25.3 26.0h0.8v0.8h-0.8zM18.4 28.2h0.8v0.8h-0.8zM8.0 4.4h0.8v0.8h-0.8zM16.9 8.1h0.8v0.8h-0.8zM26.9 14.5h0.8v0.8h-0.8zM24.3 8.7h0.8v0.8h-0.8zM3.2 21.0h0.8v0.8h-0.8zM19.1 9.0h0.8v0.8h-0.8zM25.3 32.3h0.8v0.8h-0.8zM19.0 32.5h0.8v0.8h-0.8zM26.8 5.5h0.8v0.8h-0.8zM20.1 24.9h0.8v0.8h-0.8zM20.2 11.7h0.8v0.8h-0.8zM15.2 19.8h0.8v0.8h-0.8zM23.3 2.3h0.8v0.8h-0.8zM10.7 10.9h0.8v0.8h-0.8zM21.8 4.5h0.8v0.8h-0.8zM2.4 4.4h0.8v0.8h-0.8zM3.8 14.8h0.8v0.8h-0.8zM23.7 12.2h0.8v0.8h-0.8zM3.4 22.4h0.8v0.8h-0.8zM9.6 19.2h0.8v0.8h-0.8zM20.6 15.5h0.8v0.8h-0.8zM20.2 20.8h0.8v0.8h-0.8zM23.4 25.4h0.8v0.8h-0.8zM24.7 24.9h0.8v0.8h-0.8zM8.2 17.0h0.8v0.8h-0.8zM21.2 26.1h0.8v0.8h-0.8zM20.1 28.0h0.8v0.8h-0.8zM22.6 18.2h0.8v0.8h-0.8zM17.8 2.1h0.8v0.8h-0.8zM13.4 24.3h0.8v0.8h-0.8zM25.0 28.2h0.8v0.8h-0.8zM12.4 8.1h0.8v0.8h-0.8zM24.3 22.0h0.8v0.8h-0.8zM5.8 1.9h0.8v0.8h-0.8zM24.1 19.4h0.8v0.8h-0.8zM3.7 32.8h0.8v0.8h-0.8zM16.3 25.3h0.8v0.8h-0.8zM22.2 9.0h0.8v0.8h-0.8zM14.6 6.3h0.8v0.8h-0.8zM17.0 14.8h0.8v0.8h-0.8zM21.7 4.4h0.8v0.8h-0.8zM6.2 13.2h0.8v0.8h-0.8zM0.8 13.9h0.8v0.8h-0.8zM26.3 28.8h0.8v0.8h-0.8zM5.5 27.7h0.8v0.8h-0.8zM6.7 8.5h0.8v0.8h-0.8zM17.7 10.2h0.8v0.8h-0.8zM6.1 3.5h0.8v0.8h-0.8zM5.4 6.9h0.8v0.8h-0.8zM24.9 2.0h0.8v0.8h-0.8zM15.1 7.6h0.8v0.8h-0.8zM19.9 0.8h0.8v0.8h-0.8zM10.6 24.6h0.8v0.8h-0.8zM1.4 14.0h0.8v0.8h-0.8zM9.4 16.4h0.8v0.8h-0.8zM17.4 3.3h0.8v0.8h-0.8zM23.7 9.4h0.8v0.8h-0.8zM21.2 5.0h0.8v0.8h-0.8zM3.2 7.0h0.8v0.8h-0.8zM3.0 8.7h0.8v0.8h-0.8zM4.5 3.5h0.8v0.8h-0.8zM23.4 17.8h0.8v0.8h-0.8zM13.9 17.2h0.8v0.8h-0.8zM22.3 2.2h0.8v0.8h-0.8zM2.0 22.3h0.8v0.8h-0.8zM0.9 17.1h0.8v0.8h-0.8zM17.3 28.2h0.8v0.8h-0.8zM0.8 13.7h0.8v0.8h-0.8zM9.1 19.5h0.8v0.8h-0.8zM1.6 25.1h0.8v0.8h-0.8zM26.1 18.5h0.8v0.8h-0.8zM18.4 27.8h0.8v0.8h-0.8zM23.1 27.3h0.8v0.8h-0.8zM13.7 3.5h0.8v0.8h-0.8zM21.8 28.1h0.8v0.8h-0.8zM19.4 10.9h0.8v0.8h-0.8zM26.6 20.9h0.8v0.8h-0.8zM9.0 26.2h0.8v0.8h-0.8zM6.7 8.5h0.8v0.8h-0.8zM24.8 2.5h0.8v0.8h-0.8zM23.8 13.6h0.8v0.8h-0.8zM15.9 23.1h0.8v0.8h-0.8zM24.7 7.8h0.8v0.8h-0.8zM3.2 17.3h0.8v0.8h-0.8zM6.7 14.4h0.8v0.8h-0.8zM3.7 3.6h0.8v0.8h-0.8zM15.8 2.4h0.8v0.8h-0.8zM7.8 13.3h0.8v0.8h-0.8zM3.3 26.8h0.8v0.8h-0.8zM24.7 1.7h0.8v0.8h-0.8zM22.2 6.4h0.8v0.8h-0.8zM20.1 2.6h0.8v0.8h-0.8zM20.5 30.9h0.8v0.8h-0.8zM7.6 6.0h0.8v0.8h-0.8zM9.8 28.6h0.8v0.8h-0.8zM21.5 5.8h0.8v0.8h-0.8zM24.7 24.7h0.8v0.8h-0.8zM26.2 32.2h0.8v0.8h-0.8zM5.0 24.3h0.8v0.8h-0.8zM1.4 6.9h0.8v0.8h-0.8zM15.0 8.2h0.8v0.8h-0.8zM6.5 12.3h0.8v0.8h-0.8zM12.9 30.5h0.8v0.8h-0.8zM16.2 18.7h0.8v0.8h-0.8zM19.8 6.8h0.8v0.8h-0.8zM22.1 25.4h0.8v0.8h-0.8zM22.4 15.3h0.8v0.8h-0.8zM15.1 3.1h0.8v0.8h-0.8zM12.9 21.6h0.8v0.8h-0.8zM26.0 29.8h0.8v0.8h-0.8zM9.8 25.2h0.8v0.8h-0.8zM23.5 31.9h0.8v0.8h-0.8zM18.8 11.4h0.8v0.8h-0.8zM23.9 1.2h0.8v0.8h-0.8zM15.8 15.5h0.8v0.8h-0.8zM24.2 20.8h0.8v0.8h-0.8zM6.1 6.0h0.8v0.8h-0.8zM1.7 25.1h0.8v0.8h-0.8zM21.5 12.8h0.8v0.8h-0.8zM6.7 18.8h0.8v0.8h-0.8z" fill="#444"/>
<path d="M16.3 28.6h0.8v0.8h-0.8zM10.5 24.3h0.8v0.8h-0.8zM11.9 9.8h0.8v0.8h-0.8zM9.6 28.3h0.8v0.8h-0.8zM17.1 14.8h0.8v0.8h-0.8zM11.9 24.5h0.8v0.8h-0.8zM10.7 27.7h0.8v0.8h-0.8zM15.4 11.1h0.8v0.8h-0.8zM12.3 6.3h0.8v0.8h-0.8zM6.8 11.7h0.8v0.8h-0.8zM10.4 13.1h0.8v0.8h-0.8zM8.8 10.0h0.8v0.8h-0.8zM15.5 3.6h0.8v0.8h-0.8zM14.1 18.4h0.8v0.8h-0.8zM20.7 27.7h0.8v0.8h-0.8zM22.4 25.9h0.8v0.8h-0.8zM18.2 21.4h0.8v0.8h-0.8zM12.7 15.5h0.8v0.8h-0.8zM12.8 6.9h0.8v0.8h-0.8zM20.7 9.7h0.8v0.8h-0.8zM15.9 8.3h0.8v0.8h-0.8zM6.3 27.6h0.8v0.8h-0.8zM14.3 1.4h0.8v0.8h-0.8zM17.6 25.5h0.8v0.8h-0.8zM11.7 23.6h0.8v0.8h-0.8zM21.6 28.1h0.8v0.8h-0.8zM17.4 24.3h0.8v0.8h-0.8zM23.6 18.8h0.8v0.8h-0.8zM11.8 14.0h0.8v0.8h-0.8zM33.6 6.7h0.8v0.8h-0.8zM13.3 14.9h0.8v0.8h-0.8zM13.0 24.3h0.8v0.8h-0.8zM22.7 18.9h0.8v0.8h-0.8zM8.5 11.7h0.8v0.8h-0.8zM13.6 9.5h0.8v0.8h-0.8zM13.0 21.8h0.8v0.8h-0.8zM3.1 17.9h0.8v0.8h-0.8zM20.1 5.8h0.8v0.8h-0.8zM19.5 21.9h0.8v0.8h-0.8zM21.0 6.7h0.8v0.8h-0.8zM6.3 32.0h0.8v0.8h-0.8zM14.2 0.7h0.8v0.8h-0.8zM12.6 32.1h0.8v0.8h-0.8zM6.8 0.8h0.8v0.8h-0.8zM12.8 10.1h0.8v0.8h-0.8zM9.9 13.7h0.8v0.8h-0.8zM9.4 10.8h0.8v0.8h-0.8zM19.5 16.8h0.8v0.8h-0.8zM7.6 26.6h0.8v0.8h-0.8zM14.3 26.7h0.8v0.8h-0.8zM4.2 22.9h0.8v0.8h-0.8zM9.8 16.6h0.8v0.8h-0.8zM9.0 7.1h0.8v0.8h-0.8zM6.7 15.2h0.8v0.8h-0.8zM19.9 5.9h0.8v0.8h-0.8zM9.6 6.7h0.8v0.8h-0.8zM8.1 23.1h0.8v0.8h-0.8zM10.7 7.1h0.8v0.8h-0.8zM17.8 19.9h0.8v0.8h-0.8zM15.6 18.0h0.8v0.8h-0.8zM9.7 24.5h0.8v0.8h-0.8zM9.5 18.7h0.8v0.8h-0.8zM14.4 27.9h0.8v0.8h-0.8zM12.4 24.5h0.8v0.8h-0.8zM2.7 17.8h0.8v0.8h-0.8zM14.6 17.5h0.8v0.8h-0.8zM0.7 23.8h0.8v0.8h-0.8zM9.5 9.8h0.8v0.8h-0.8zM23.2 14.3h0.8v0.8h-0.8zM17.8 18.5h0.8v0.8h-0.8zM15.3 7.1h0.8v0.8h-0.8zM15.7 14.6h0.8v0.8h-0.8zM21.9 11.5h0.8v0.8h-0.8zM3.4 27.0h0.8v0.8h-0.8zM6.7 14.4h0.8v0.8h-0.8zM18.2 33.2h0.8v0.8h-0.8zM16.9 23.7h0.8v0.8h-0.8zM14.6 17.9h0.8v0.8h-0.8zM13.1 19.8h0.8v0.8h-0.8zM7.8 18.7h0.8v0.8h-0.8zM20.8 18.2h0.8v0.8h-0.8zM12.6 24.1h0.8v0.8h-0.8zM8.0 14.6h0.8v0.8h-0.8zM27.7 24.8h0.8v0.8h-0.8zM18.3 15.6h0.8v0.8h-0.8zM9.0 5.6h0.8v0.8h-0.8zM13.7 29.5h0.8v0.8h-0.8zM13.1 25.0h0.8v0.8h-0.8zM11.8 17.8h0.8v0.8h-0.8zM14.4 7.9h0.8v0.8h-0.8zM19.4 16.7h0.8v0.8h-0.8zM17.0 9.7h0.8v0.8h-0.8zM19.2 10.0h0.8v0.8h-0.8zM16.1 12.9h0.8v0.8h-0.8zM9.0 22.6h0.8v0.8h-0.8zM18.0 24.7h0.8v0.8h-0.8zM14.8 20.2h0.8v0.8h-0.8zM15.4 19.8h0.8v0.8h-0.8zM11.5 27.1h0.8v0.8h-0.8zM21.4 8.6h0.8v0.8h-0.8zM14.0 7.8h0.8v0.8h-0.8zM10.8 26.3h0.8v0.8h-0.8zM13.8 18.9h0.8v0.8h-0.8zM20.9 20.7h0.8v0.8h-0.8zM21.1 19.8h0.8v0.8h-0.8zM12.5 5.7h0.8v0.8h-0.8zM22.0 33.6h0.8v0.8h-0.8zM28.3 19.7h0.8v0.8h-0.8zM17.8 9.6h0.8v0.8h-0.8zM8.5 8.8h0.8v0.8h-0.8zM8.2 11.9h0.8v0.8h-0.8zM17.0 10.0h0.8v0.8h-0.8zM11.4 15.5h0.8v0.8h-0.8zM26.1 24.5h0.8v0.8h-0.8zM9.8 24.6h0.8v0.8h-0.8zM23.9 15.4h0.8v0.8h-0.8zM18.2 27.4h0.8v0.8h-0.8zM4.9 18.4h0.8v0.8h-0.8zM12.9 25.0h0.8v0.8h-0.8zM21.8 12.3h0.8v0.8h-0.8zM4.3 12.0h0.8v0.8h-0.8zM13.7 10.5h0.8v0.8h-0.8zM15.2 5.5h0.8v0.8h-0.8zM16.9 24.1h0.8v0.8h-0.8zM26.1 15.8h0.8v0.8h-0.8zM19.9 10.1h0.8v0.8h-0.8zM9.4 9.2h0.8v0.8h-0.8zM12.9 4.4h0.8v0.8h-0.8zM11.8 16.9h0.8v0.8h-0.8zM14.8 12.7h0.8v0.8h-0.8zM12.3 27.8h0.8v0.8h-0.8zM15.3 27.7h0.8v0.8h-0.8zM6.3 21.5h0.8v0.8h-0.8zM8.0 4.3h0.8v0.8h-0.8zM18.1 19.2h0.8v0.8h-0.8zM18.0 23.0h0.8v0.8h-0.8zM1.5 22.2h0.8v0.8h-0.8zM25.3 18.5h0.8v0.8h-0.8zM19.6 30.7h0.8v0.8h-0.8zM11.7 15.3h0.8v0.8h-0.8zM12.0 27.4h0.8v0.8h-0.8zM15.3 14.3h0.8v0.8h-0.8zM20.1 27.5h0.8v0.8h-0.8zM15.9 29.8h0.8v0.8h-0.8zM5.6 16.2h0.8v0.8h-0.8zM12.0 26.1h0.8v0.8h-0.8zM16.5 24.0h0.8v0.8h-0.8zM19.8 27.6h0.8v0.8h-0.8zM18.4 17.9h0.8v0.8h-0.8zM8.0 30.9h0.8v0.8h-0.8zM17.1 3.2h0.8v0.8h-0.8zM5.8 5.2h0.8v0.8h-0.8zM11.2 25.1h0.8v0.8h-0.8zM13.5 24.2h0.8v0.8h-0.8zM5.7 15.8h0.8v0.8h-0.8zM14.6 20.9h0.8v0.8h-0.8zM18.1 18.0h0.8v0.8h-0.8zM18.6 28.6h0.8v0.8h-0.8zM16.7 5.3h0.8v0.8h-0.8zM9.5 8.6h0.8v0.8h-0.8zM23.2 24.5h0.8v0.8h-0.8zM14.0 11.2h0.8v0.8h-0.8zM10.0 31.2h0.8v0.8h-0.8zM12.6 11.1h0.8v0.8h-0.8zM8.8 23.4h0.8v0.8h-0.8zM2.2 11.6h0.8v0.8h-0.8zM17.4 24.7h0.8v0.8h-0.8zM17.2 13.9h0.8v0.8h-0.8zM18.7 32.8h0.8v0.8h-0.8zM8.4 8.8h0.8v0.8h-0.8zM11.4 17.8h0.8v0.8h-0.8zM10.4 10.7h0.8v0.8h-0.8zM7.2 17.2h0.8v0.8h-0.8zM10.5 23.5h0.8v0.8h-0.8zM6.1 6.0h0.8v0.8h-0.8zM14.1 17.5h0.8v0.8h-0.8zM10.6 20.6h0.8v0.8h-0.8zM10.5 13.4h0.8v0.8h-0.8zM6.3 16.6h0.8v0.8h-0.8zM19.2 15.4h0.8v0.8h-0.8zM13.2 26.1h0.8v0.8h-0.8zM11.1 10.6h0.8v0.8h-0.8zM14.2 32.9h0.8v0.8h-0.8zM11.2 16.2h0.8v0.8h-0.8zM15.6 12.6h0.8v0.8h-0.8zM11.3 29.1h0.8v0.8h-0.8zM3.1 21.6h0.8v0.8h-0.8zM19.3 28.8h0.8v0.8h-0.8zM15.0 21.4h0.8v0.8h-0.8zM10.1 0.3h0.8v0.8h-0.8zM14.9 18.6h0.8v0.8h-0.8zM16.2 29.5h0.8v0.8h-0.8zM29.1 21.8h0.8v0.8h-0.8zM24.2 18.8h0.8v0.8h-0.8zM15.8 7.5h0.8v0.8h-0.8zM15.2 11.1h0.8v0.8h-0.8zM15.0 3.8h0.8v0.8h-0.8zM20.5 2.4h0.8v0.8h-0.8zM13.6 19.5h0.8v0.8h-0.8zM18.7 31.7h0.8v0.8h-0.8zM6.2 15.6h0.8v0.8h-0.8zM12.2 17.3h0.8v0.8h-0.8zM21.1 11.0h0.8v0.8h-0.8zM7.2 10.9h0.8v0.8h-0.8zM19.1 9.3h0.8v0.8h-0.8zM2.5 12.5h0.8v0.8h-0.8zM20.8 32.1h0.8v0.8h-0.8zM9.5 10.5h0.8v0.8h-0.8zM18.3 26.7h0.8v0.8h-0.8zM13.5 17.5h0.8v0.8h-0.8zM18.5 1.9h0.8v0.8h-0.8zM22.5 6.8h0.8v0.8h-0.8zM1.8 29.4h0.8v0.8h-0.8zM13.9 24.7h0.8v0.8h-0.8zM4.1 19.9h0.8v0.8h-0.8zM15.4 18.9h0.8v0.8h-0.8zM14.6 16.2h0.8v0.8h-0.8zM13.3 5.5h0.8v0.8h-0.8zM26.0 11.9h0.8v0.8h-0.8zM5.7 19.7h0.8v0.8h-0.8zM12.0 9.4h0.8v0.8h-0.8zM33.3 20.7h0.8v0.8h-0.8zM2.5 12.0h0.8v0.8h-0.8zM11.2 15.9h0.8v0.8h-0.8zM17.4 21.4h0.8v0.8h-0.8zM25.2 12.9h0.8v0.8h-0.8zM11.8 27.5h0.8v0.8h-0.8zM21.1 14.5h0.8v0.8h-0.8zM10.4 28.3h0.8v0.8h-0.8zM17.7 28.4h0.8v0.8h-0.8zM20.7 22.3h0.8v0.8h-0.8zM15.0 18.7h0.8v0.8h-0.8zM13.9 4.9h0.8v0.8h-0.8zM17.1 25.5h0.8v0.8h-0.8zM18.3 10.7h0.8v0.8h-0.8zM12.6 28.4h0.8v0.8h-0.8zM20.7 8.3h0.8v0.8h-0.8zM4.7 19.3h0.8v0.8h-0.8zM13.0 24.0h0.8v0.8h-0.8zM2.1 18.3h0.8v0.8h-0.8zM15.0 2.1h0.8v0.8h-0.8zM25.2 17.1h0.8v0.8h-0.8zM16.5 14.1h0.8v0.8h-0.8zM15.1 23.6h0.8v0.8h-0.8zM16.1 21.1h0.8v0.8h-0.8zM3.7 16.7h0.8v0.8h-0.8zM5.8 19.7h0.8v0.8h-0.8zM23.6 14.2h0.8v0.8h-0.8zM11.5 17.0h0.8v0.8h-0.8zM12.5 23.3h0.8v0.8h-0.8zM23.7 12.8h0.8v0.8h-0.8zM17.7 23.5h0.8v0.8h-0.8zM5.7 23.6h0.8v0.8h-0.8zM19.4 15.4h0.8v0.8h-0.8zM11.5 7.0h0.8v0.8h-0.8zM19.9 10.1h0.8v0.8h-0.8zM14.5 3.6h0.8v0.8h-0.8zM11.6 0.2h0.8v0.8h-0.8zM8.2 23.9h0.8v0.8h-0.8zM6.2 5.9h0.8v0.8h-0.8zM8.6 11.6h0.8v0.8h-0.8zM6.0 17.7h0.8v0.8h-0.8zM9.5 23.0h0.8v0.8h-0.8zM15.8 18.4h0.8v0.8h-0.8zM15.2 20.5h0.8v0.8h-0.8zM2.1 30.0h0.8v0.8h-0.8zM14.5 13.0h0.8v0.8h-0.8zM30.1 17.3h0.8v0.8h-0.8zM8.6 29.3h0.8v0.8h-0.8zM31.8 8.3h0.8v0.8h-0.8zM8.0 15.5h0.8v0.8h-0.8zM5.3 8.5h0.8v0.8h-0.8zM23.3 27.1h0.8v0.8h-0.8zM20.0 17.1h0.8v0.8h-0.8zM22.0 1.4h0.8v0.8h-0.8zM7.1 19.9h0.8v0.8h-0.8zM5.9 18.5h0.8v0.8h-0.8zM14.9 26.5h0.8v0.8h-0.8zM12.4 17.2h0.8v0.8h-0.8zM11.5 15.3h0.8v0.8h-0.8zM11.5 15.6h0.8v0.8h-0.8zM16.5 27.2h0.8v0.8h-0.8zM6.5 21.7h0.8v0.8h-0.8zM14.2 15.6h0.8v0.8h-0.8zM9.9 1.9h0.8v0.8h-0.8zM25.2 2.1h0.8v0.8h-0.8zM8.3 23.3h0.8v0.8h-0.8zM14.0 23.5h0.8v0.8h-0.8zM21.3 5.3h0.8v0.8h-0.8zM16.4 9.1h0.8v0.8h-0.8zM13.7 15.1h0.8v0.8h-0.8zM8.1 17.0h0.8v0.8h-0.8zM29.7 17.4h0.8v0.8h-0.8zM2.2 29.1h0.8v0.8h-0.8zM5.6 12.7h0.8v0.8h-0.8zM10.2 11.2h0.8v0.8h-0.8zM10.5 13.0h0.8v0.8h-0.8zM23.7 20.2h0.8v0.8h-0.8zM28.0 20.7h0.8v0.8h-0.8zM10.0 31.9h0.8v0.8h-0.8zM8.4 30.2h0.8v0.8h-0.8zM15.6 23.5h0.8v0.8h-0.8zM18.8 11.1h0.8v0.8h-0.8zM28.2 10.7h0.8v0.8h-0.8zM19.2 27.9h0.8v0.8h-0.8zM15.0 26.0h0.8v0.8h-0.8zM12.1 23.7h0.8v0.8h-0.8zM9.8 13.2h0.8v0.8h-0.8zM11.9 21.8h0.8v0.8h-0.8zM14.8 18.4h0.8v0.8h-0.8zM13.7 29.1h0.8v0.8h-0.8zM11.2 26.4h0.8v0.8h-0.8zM13.5 2.0h0.8v0.8h-0.8zM8.3 27.0h0.8v0.8h-0.8zM6.7 30.0h0.8v0.8h-0.8zM7.0 11.3h0.8v0.8h-0.8zM14.8 20.5h0.8v0.8h-0.8zM19.5 12.2h0.8v0.8h-0.8zM17.5 19.9h0.8v0.8h-0.8zM16.7 14.8h0.8v0.8h-0.8zM11.5 18.9h0.8v0.8h-0.8zM7.7 17.1h0.8v0.8h-0.8zM32.0 13.9h0.8v0.8h-0.8zM1.4 16.5h0.8v0.8h-0.8zM10.3 6.9h0.8v0.8h-0.8zM13.9 14.2h0.8v0.8h-0.8zM19.6 33.4h0.8v0.8h-0.8zM3.9 15.2h0.8v0.8h-0.8zM3.9 5.0h0.8v0.8h-0.8zM13.6 23.2h0.8v0.8h-0.8zM2.7 16.5h0.8v0.8h-0.8zM14.5 7.7h0.8v0.8h-0.8zM5.8 16.1h0.8v0.8h-0.8zM6.7 18.9h0.8v0.8h-0.8zM15.7 29.7h0.8v0.8h-0.8zM16.7 10.8h0.8v0.8h-0.8zM8.2 21.8h0.8v0.8h-0.8zM13.3 12.6h0.8v0.8h-0.8zM7.7 15.9h0.8v0.8h-0.8zM11.6 20.6h0.8v0.8h-0.8zM8.8 11.2h0.8v0.8h-0.8zM12.2 12.3h0.8v0.8h-0.8zM6.7 15.7h0.8v0.8h-0.8zM12.2 14.1h0.8v0.8h-0.8zM15.5 4.9h0.8v0.8h-0.8zM13.6 23.0h0.8v0.8h-0.8zM14.0 15.4h0.8v0.8h-0.8zM8.9 12.4h0.8v0.8h-0.8zM16.3 21.8h0.8v0.8h-0.8zM19.8 17.6h0.8v0.8h-0.8zM15.4 18.3h0.8v0.8h-0.8zM17.9 28.9h0.8v0.8h-0.8zM17.6 15.5h0.8v0.8h-0.8zM17.9 26.8h0.8v0.8h-0.8zM21.7 21.2h0.8v0.8h-0.8zM19.8 25.4h0.8v0.8h-0.8zM6.6 16.6h0.8v0.8h-0.8zM17.2 29.6h0.8v0.8h-0.8zM19.3 29.5h0.8v0.8h-0.8zM13.9 17.1h0.8v0.8h-0.8zM17.2 9.6h0.8v0.8h-0.8zM7.2 23.5h0.8v0.8h-0.8zM12.4 17.2h0.8v0.8h-0.8zM11.9 24.8h0.8v0.8h-0.8zM12.0 31.6h0.8v0.8h-0.8zM5.5 14.7h0.8v0.8h-0.8zM9.8 11.8h0.8v0.8h-0.8zM5.8 15.3h0.8v0.8h-0.8zM7.2 6.6h0.8v0.8h-0.8zM17.0 16.3h0.8v0.8h-0.8zM5.0 16.0h0.8v0.8h-0.8zM16.9 25.2h0.8v0.8h-0.8zM13.9 29.6h0.8v0.8h-0.8zM12.2 9.3h0.8v0.8h-0.8zM9.4 18.5h0.8v0.8h-0.8zM18.3 10.7h0.8v0.8h-0.8zM11.4 22.3h0.8v0.8h-0.8zM24.5 1.3h0.8v0.8h-0.8zM20.4 20.1h0.8v0.8h-0.8zM9.8 21.3h0.8v0.8h-0.8zM7.5 0.6h0.8v0.8h-0.8zM9.9 12.1h0.8v0.8h-0.8zM12.3 11.9h0.8v0.8h-0.8zM6.4 23.8h0.8v0.8h-0.8zM14.9 21.3h0.8v0.8h-0.8zM4.4 30.7h0.8v0.8h-0.8zM15.7 27.9h0.8v0.8h-0.8zM10.5 12.8h0.8v0.8h-0.8zM4.5 31.4h0.8v0.8h-0.8zM15.7 4.4h0.8v0.8h-0.8zM13.1 16.1h0.8v0.8h-0.8zM14.2 26.4h0.8v0.8h-0.8zM20.2 20.8h0.8v0.8h-0.8zM6.4 7.1h0.8v0.8h-0.8zM7.7 9.3h0.8v0.8h-0.8zM16.2 10.5h0.8v0.8h-0.8zM12.2 24.0h0.8v0.8h-0.8zM7.3 17.8h0.8v0.8h-0.8zM12.4 15.1h0.8v0.8h-0.8zM7.7 18.1h0.8v0.8h-0.8zM7.1 18.0h0.8v0.8h-0.8zM8.8 4.3h0.8v0.8h-0.8z" fill="#111"/>
<path d="M24.5 18.7h0.8v0.8h-0.8zM18.3 22.7h0.8v0.8h-0.8zM23.0 32.7h0.8v0.8h-0.8zM21.9 24.5h0.8v0.8h-0.8zM19.1 19.2h0.8v0.8h-0.8zM21.4 25.6h0.8v0.8h-0.8zM21.0 17.9h0.8v0.8h-0.8zM21.1 32.1h0.8v0.8h-0.8zM24.3 24.3h0.8v0.8h-0.8zM22.6 10.6h0.8v0.8h-0.8zM19.6 8.4h0.8v0.8h-0.8zM26.7 3.5h0.8v0.8h-0.8zM16.8 11.2h0.8v0.8h-0.8zM19.2 3.4h0.8v0.8h-0.8zM17.2 25.3h0.8v0.8h-0.8zM15.7 27.1h0.8v0.8h-0.8zM22.0 11.7h0.8v0.8h-0.8zM12.3 12.0h0.8v0.8h-0.8zM20.6 12.6h0.8v0.8h-0.8zM19.6 19.0h0.8v0.8h-0.8zM20.2 33.7h0.8v0.8h-0.8zM22.7 29.1h0.8v0.8h-0.8zM19.9 19.9h0.8v0.8h-0.8zM17.0 24.4h0.8v0.8h-0.8zM21.3 2.0h0.8v0.8h-0.8zM23.8 22.2h0.8v0.8h-0.8zM20.5 11.9h0.8v0.8h-0.8zM18.9 28.8h0.8v0.8h-0.8zM25.2 22.2h0.8v0.8h-0.8zM25.9 14.3h0.8v0.8h-0.8zM24.7 18.8h0.8v0.8h-0.8zM23.7 21.8h0.8v0.8h-0.8zM20.6 22.9h0.8v0.8h-0.8zM24.8 7.8h0.8v0.8h-0.8zM19.1 17.5h0.8v0.8h-0.8zM18.7 18.2h0.8v0.8h-0.8zM16.5 14.8h0.8v0.8h-0.8zM23.0 16.4h0.8v0.8h-0.8zM20.6 24.0h0.8v0.8h-0.8zM26.0 13.3h0.8v0.8h-0.8zM18.9 25.8h0.8v0.8h-0.8zM22.6 8.5h0.8v0.8h-0.8zM18.2 14.1h0.8v0.8h-0.8zM20.8 18.4h0.8v0.8h-0.8zM23.5 33.0h0.8v0.8h-0.8zM24.3 13.5h0.8v0.8h-0.8zM19.1 11.0h0.8v0.8h-0.8zM18.3 27.2h0.8v0.8h-0.8zM22.2 0.5h0.8v0.8h-0.8zM20.8 27.9h0.8v0.8h-0.8zM16.2 23.7h0.8v0.8h-0.8zM26.5 2.3h0.8v0.8h-0.8zM18.8 8.5h0.8v0.8h-0.8zM21.7 20.5h0.8v0.8h-0.8zM25.0 20.2h0.8v0.8h-0.8zM20.1 17.5h0.8v0.8h-0.8zM24.3 9.9h0.8v0.8h-0.8zM20.0 12.7h0.8v0.8h-0.8zM19.6 28.7h0.8v0.8h-0.8zM18.9 27.7h0.8v0.8h-0.8zM18.5 9.2h0.8v0.8h-0.8zM20.7 29.4h0.8v0.8h-0.8zM20.2 20.1h0.8v0.8h-0.8zM18.2 28.4h0.8v0.8h-0.8zM22.9 12.4h0.8v0.8h-0.8zM23.2 28.7h0.8v0.8h-0.8zM24.3 21.7h0.8v0.8h-0.8zM24.3 27.3h0.8v0.8h-0.8zM21.2 4.0h0.8v0.8h-0.8zM17.9 31.0h0.8v0.8h-0.8zM18.6 18.0h0.8v0.8h-0.8zM20.3 12.9h0.8v0.8h-0.8zM26.2 13.8h0.8v0.8h-0.8zM25.5 19.5h0.8v0.8h-0.8zM19.9 19.4h0.8v0.8h-0.8zM16.8 20.5h0.8v0.8h-0.8zM22.6 19.4h0.8v0.8h-0.8zM21.1 12.1h0.8v0.8h-0.8zM22.9 12.2h0.8v0.8h-0.8zM19.3 11.7h0.8v0.8h-0.8zM25.3 20.0h0.8v0.8h-0.8zM19.9 29.0h0.8v0.8h-0.8zM19.7 8.4h0.8v0.8h-0.8zM21.5 23.3h0.8v0.8h-0.8zM23.9 2.6h0.8v0.8h-0.8zM18.7 28.6h0.8v0.8h-0.8zM22.5 17.5h0.8v0.8h-0.8zM15.5 18.1h0.8v0.8h-0.8zM18.6 9.5h0.8v0.8h-0.8zM21.6 10.7h0.8v0.8h-0.8zM21.3 25.8h0.8v0.8h-0.8zM19.5 27.0h0.8v0.8h-0.8zM25.1 29.7h0.8v0.8h-0.8zM18.0 8.2h0.8v0.8h-0.8zM18.0 6.5h0.8v0.8h-0.8zM18.6 20.7h0.8v0.8h-0.8zM21.1 22.7h0.8v0.8h-0.8zM25.3 15.9h0.8v0.8h-0.8zM18.1 9.9h0.8v0.8h-0.8zM17.5 22.9h0.8v0.8h-0.8zM25.3 21.9h0.8v0.8h-0.8zM19.7 20.2h0.8v0.8h-0.8zM24.3 15.0h0.8v0.8h-0.8zM23.1 19.2h0.8v0.8h-0.8zM19.3 27.5h0.8v0.8h-0.8zM23.9 18.6h0.8v0.8h-0.8zM18.5 8.0h0.8v0.8h-0.8zM18.2 30.0h0.8v0.8h-0.8zM21.4 20.6h0.8v0.8h-0.8zM22.7 19.3h0.8v0.8h-0.8zM22.0 12.0h0.8v0.8h-0.8zM24.9 11.0h0.8v0.8h-0.8zM18.2 8.3h0.8v0.8h-0.8zM22.5 7.0h0.8v0.8h-0.8zM16.7 24.2h0.8v0.8h-0.8zM25.5 26.0h0.8v0.8h-0.8zM27.6 26.5h0.8v0.8h-0.8zM17.5 0.8h0.8v0.8h-0.8zM18.9 12.0h0.8v0.8h-0.8zM17.5 18.5h0.8v0.8h-0.8zM25.6 27.5h0.8v0.8h-0.8zM21.9 23.8h0.8v0.8h-0.8zM18.6 30.0h0.8v0.8h-0.8zM18.6 22.5h0.8v0.8h-0.8zM18.6 14.9h0.8v0.8h-0.8zM23.1 32.3h0.8v0.8h-0.8zM16.4 22.3h0.8v0.8h-0.8zM29.4 22.9h0.8v0.8h-0.8zM22.4 28.3h0.8v0.8h-0.8zM22.1 25.3h0.8v0.8h-0.8zM21.5 8.5h0.8v0.8h-0.8zM22.3 18.1h0.8v0.8h-0.8zM25.5 5.5h0.8v0.8h-0.8zM20.1 31.7h0.8v0.8h-0.8zM19.1 27.6h0.8v0.8h-0.8zM16.8 6.6h0.8v0.8h-0.8zM20.3 21.7h0.8v0.8h-0.8zM19.9 32.2h0.8v0.8h-0.8zM19.1 26.5h0.8v0.8h-0.8zM19.1 11.5h0.8v0.8h-0.8zM23.1 12.8h0.8v0.8h-0.8zM14.7 20.4h0.8v0.8h-0.8zM23.7 21.4h0.8v0.8h-0.8z" fill="#333"/>
<ellipse cx="11.37" cy="16.90" rx="9.47" ry="16.90" fill="url(#halo)" opacity="0.35" transform="rotate(0 11.37 16.90)"/>
<ellipse cx="22.74" cy="18.59" rx="4.55" ry="11.83" fill="url(#halo)" opacity="0.3" transform="rotate(0 22.74 18.59)"/>
<ellipse cx="5.68" cy="8.11" rx="4.93" ry="7.44" fill="url(#halo2)" opacity="1.0" transform="rotate(0 5.68 8.11)"/>
<path d="M3.5 2.0h0.8v0.8h-0.8zM1.9 10.3h0.8v0.8h-0.8zM10.0 3.9h0.8v0.8h-0.8zM5.4 14.2h0.8v0.8h-0.8zM8.9 8.4h0.8v0.8h-0.8zM3.4 12.9h0.8v0.8h-0.8zM4.7 3.4h0.8v0.8h-0.8zM0.9 10.4h0.8v0.8h-0.8zM8.2 11.7h0.8v0.8h-0.8zM3.0 13.4h0.8v0.8h-0.8zM8.9 6.2h0.8v0.8h-0.8zM1.4 10.0h0.8v0.8h-0.8zM8.0 1.0h0.8v0.8h-0.8zM8.4 5.1h0.8v0.8h-0.8zM4.1 12.1h0.8v0.8h-0.8zM9.5 9.4h0.8v0.8h-0.8zM1.6 10.7h0.8v0.8h-0.8zM8.7 6.4h0.8v0.8h-0.8zM10.3 6.6h0.8v0.8h-0.8zM8.8 13.4h0.8v0.8h-0.8zM8.0 11.4h0.8v0.8h-0.8zM3.9 3.9h0.8v0.8h-0.8zM3.6 2.9h0.8v0.8h-0.8zM3.8 3.3h0.8v0.8h-0.8zM3.3 5.0h0.8v0.8h-0.8zM8.9 2.4h0.8v0.8h-0.8zM2.7 13.3h0.8v0.8h-0.8zM9.4 11.9h0.8v0.8h-0.8zM6.1 16.1h0.8v0.8h-0.8zM7.9 11.2h0.8v0.8h-0.8zM9.3 3.7h0.8v0.8h-0.8zM3.4 4.8h0.8v0.8h-0.8zM1.3 10.7h0.8v0.8h-0.8zM10.1 11.3h0.8v0.8h-0.8zM2.9 5.4h0.8v0.8h-0.8zM1.7 7.3h0.8v0.8h-0.8zM7.0 1.8h0.8v0.8h-0.8zM8.2 1.9h0.8v0.8h-0.8zM2.2 8.2h0.8v0.8h-0.8zM9.4 7.8h0.8v0.8h-0.8zM2.2 2.6h0.8v0.8h-0.8zM6.9 12.4h0.8v0.8h-0.8zM6.8 1.1h0.8v0.8h-0.8zM7.6 12.9h0.8v0.8h-0.8zM2.5 3.6h0.8v0.8h-0.8zM8.1 3.1h0.8v0.8h-0.8zM7.5 14.9h0.8v0.8h-0.8zM2.6 10.9h0.8v0.8h-0.8zM7.9 12.3h0.8v0.8h-0.8zM8.1 11.7h0.8v0.8h-0.8z" fill="#111"/>
<ellipse cx="5.68" cy="8.11" rx="2.96" ry="4.46" fill="url(#light2)" transform="rotate(0 5.68 8.11)"/>
<ellipse cx="12.51" cy="23.66" rx="4.93" ry="10.14" fill="url(#halo2)" opacity="1.0" transform="rotate(22 12.51 23.66)"/>
<path d="M9.8 21.8h0.8v0.8h-0.8zM11.1 32.5h0.8v0.8h-0.8zM11.0 32.7h0.8v0.8h-0.8zM15.6 25.9h0.8v0.8h-0.8zM12.2 31.2h0.8v0.8h-0.8zM7.7 22.7h0.8v0.8h-0.8zM6.7 25.7h0.8v0.8h-0.8zM15.1 28.2h0.8v0.8h-0.8zM14.7 27.6h0.8v0.8h-0.8zM16.7 21.1h0.8v0.8h-0.8zM15.6 29.3h0.8v0.8h-0.8zM16.3 26.0h0.8v0.8h-0.8zM12.2 31.5h0.8v0.8h-0.8zM16.1 18.7h0.8v0.8h-0.8zM18.0 20.9h0.8v0.8h-0.8zM13.0 29.1h0.8v0.8h-0.8zM6.6 28.2h0.8v0.8h-0.8zM16.6 19.6h0.8v0.8h-0.8zM17.9 18.6h0.8v0.8h-0.8zM15.7 27.0h0.8v0.8h-0.8zM8.4 31.5h0.8v0.8h-0.8zM15.4 17.7h0.8v0.8h-0.8zM13.9 27.5h0.8v0.8h-0.8zM9.1 19.8h0.8v0.8h-0.8zM8.3 32.4h0.8v0.8h-0.8zM17.5 19.0h0.8v0.8h-0.8zM13.5 27.8h0.8v0.8h-0.8zM13.7 30.8h0.8v0.8h-0.8zM15.7 18.9h0.8v0.8h-0.8zM12.4 14.9h0.8v0.8h-0.8zM7.1 32.8h0.8v0.8h-0.8zM15.8 17.6h0.8v0.8h-0.8zM10.7 33.2h0.8v0.8h-0.8zM9.5 29.0h0.8v0.8h-0.8zM16.4 26.3h0.8v0.8h-0.8zM13.6 17.3h0.8v0.8h-0.8zM17.1 20.9h0.8v0.8h-0.8zM9.8 30.4h0.8v0.8h-0.8zM13.0 15.1h0.8v0.8h-0.8zM16.2 19.7h0.8v0.8h-0.8zM12.3 17.4h0.8v0.8h-0.8zM14.3 29.6h0.8v0.8h-0.8zM11.8 29.5h0.8v0.8h-0.8zM15.7 23.8h0.8v0.8h-0.8zM8.6 22.9h0.8v0.8h-0.8zM11.1 33.7h0.8v0.8h-0.8zM14.2 27.1h0.8v0.8h-0.8zM7.7 30.5h0.8v0.8h-0.8zM9.8 18.7h0.8v0.8h-0.8zM10.6 18.7h0.8v0.8h-0.8z" fill="#111"/>
<ellipse cx="12.51" cy="23.66" rx="2.96" ry="6.08" fill="url(#light2)" transform="rotate(22 12.51 23.66)"/>
</g></svg>
<rect x="213.7" y="87.2" width="37.9" height="33.8" fill="none" stroke="#b0b0b0" stroke-width="0.85"/>
<line x1="229.23899999999998" y1="87.2" x2="229.23899999999998" y2="121.0" stroke="#b0b0b0" stroke-width="0.8"/>
<line x1="213.7" y1="102.748" x2="251.6" y2="102.748" stroke="#b0b0b0" stroke-width="0.8"/>
<rect x="214.5" y="88.2" width="1.4" height="0.8" fill="#555"/>
<rect x="214.5" y="90.4" width="3" height="0.7" fill="#888"/>
<rect x="230.0" y="88.2" width="1.4" height="0.8" fill="#555"/>
<rect x="230.0" y="90.4" width="3" height="0.7" fill="#888"/>
<rect x="214.5" y="103.7" width="1.4" height="0.8" fill="#555"/>
<rect x="214.5" y="105.9" width="3" height="0.7" fill="#888"/>
<rect x="230.0" y="103.7" width="1.4" height="0.8" fill="#555"/>
<rect x="230.0" y="105.9" width="3" height="0.7" fill="#888"/>
<text x="68.3" y="173.9" font-size="5" text-anchor="start" fill="#333">0.9</text>
<text x="105.60000000000001" y="173.9" font-size="5" text-anchor="end" fill="#333">0.1</text>
<svg x="68.0" y="175.5" width="37.9" height="33.4" viewBox="0 0 37.9 33.4" overflow="hidden"><g filter="url(#soft)">
<path d="M10.6 7.7h0.8v0.8h-0.8zM3.5 13.2h0.8v0.8h-0.8zM6.0 7.2h0.8v0.8h-0.8zM8.6 13.0h0.8v0.8h-0.8zM16.9 10.3h0.8v0.8h-0.8zM17.0 18.3h0.8v0.8h-0.8zM6.4 4.4h0.8v0.8h-0.8zM5.3 16.0h0.8v0.8h-0.8zM11.4 17.1h0.8v0.8h-0.8zM16.7 13.2h0.8v0.8h-0.8zM10.5 4.4h0.8v0.8h-0.8zM3.4 15.4h0.8v0.8h-0.8zM12.5 14.8h0.8v0.8h-0.8zM11.0 13.5h0.8v0.8h-0.8zM12.0 16.8h0.8v0.8h-0.8zM4.6 10.8h0.8v0.8h-0.8zM7.4 15.8h0.8v0.8h-0.8zM15.3 7.1h0.8v0.8h-0.8zM4.2 7.0h0.8v0.8h-0.8zM7.4 14.9h0.8v0.8h-0.8zM8.8 14.6h0.8v0.8h-0.8zM7.3 11.2h0.8v0.8h-0.8zM5.6 13.0h0.8v0.8h-0.8zM10.2 16.3h0.8v0.8h-0.8zM16.3 11.2h0.8v0.8h-0.8zM4.0 17.4h0.8v0.8h-0.8zM16.3 10.5h0.8v0.8h-0.8zM9.8 17.4h0.8v0.8h-0.8zM6.6 7.2h0.8v0.8h-0.8zM12.8 13.5h0.8v0.8h-0.8z" fill="#333"/>
<path d="M17.3 25.5h0.8v0.8h-0.8zM16.6 28.3h0.8v0.8h-0.8zM19.2 29.5h0.8v0.8h-0.8zM17.3 29.7h0.8v0.8h-0.8zM18.7 26.1h0.8v0.8h-0.8zM16.7 28.3h0.8v0.8h-0.8zM17.4 27.2h0.8v0.8h-0.8zM19.9 26.1h0.8v0.8h-0.8zM18.2 26.9h0.8v0.8h-0.8zM15.3 28.1h0.8v0.8h-0.8zM21.6 27.8h0.8v0.8h-0.8zM17.5 30.7h0.8v0.8h-0.8zM20.5 29.4h0.8v0.8h-0.8zM21.8 28.8h0.8v0.8h-0.8zM18.9 30.1h0.8v0.8h-0.8zM19.7 26.1h0.8v0.8h-0.8zM21.3 28.8h0.8v0.8h-0.8zM23.2 28.5h0.8v0.8h-0.8zM14.5 28.5h0.8v0.8h-0.8zM18.6 31.5h0.8v0.8h-0.8z" fill="#111"/>
<ellipse cx="10.23" cy="28.72" rx="11.37" ry="7.01" fill="url(#halo4)" opacity="1.0" transform="rotate(-8 10.23 28.72)"/>
<path d="M18.6 33.2h0.8v0.8h-0.8zM3.3 33.6h0.8v0.8h-0.8zM19.8 23.6h0.8v0.8h-0.8zM15.0 34.6h0.8v0.8h-0.8zM0.5 31.0h0.8v0.8h-0.8zM-0.1 33.6h0.8v0.8h-0.8zM2.5 34.8h0.8v0.8h-0.8zM10.0 21.5h0.8v0.8h-0.8zM0.5 25.2h0.8v0.8h-0.8zM5.1 35.1h0.8v0.8h-0.8zM1.2 32.0h0.8v0.8h-0.8zM-1.2 30.8h0.8v0.8h-0.8zM0.9 27.2h0.8v0.8h-0.8zM11.7 35.3h0.8v0.8h-0.8zM18.7 31.4h0.8v0.8h-0.8zM8.7 22.8h0.8v0.8h-0.8zM18.3 31.7h0.8v0.8h-0.8zM0.6 29.4h0.8v0.8h-0.8zM5.1 23.1h0.8v0.8h-0.8zM9.9 21.5h0.8v0.8h-0.8zM7.5 22.3h0.8v0.8h-0.8zM7.4 35.7h0.8v0.8h-0.8zM16.9 32.9h0.8v0.8h-0.8zM5.9 22.7h0.8v0.8h-0.8zM17.9 32.8h0.8v0.8h-0.8zM1.5 26.3h0.8v0.8h-0.8zM3.6 24.6h0.8v0.8h-0.8zM16.5 33.6h0.8v0.8h-0.8zM8.5 36.0h0.8v0.8h-0.8zM1.8 33.2h0.8v0.8h-0.8zM14.2 21.5h0.8v0.8h-0.8zM10.8 22.5h0.8v0.8h-0.8zM9.7 34.9h0.8v0.8h-0.8zM8.9 22.1h0.8v0.8h-0.8zM20.8 31.4h0.8v0.8h-0.8zM19.2 30.3h0.8v0.8h-0.8zM18.4 23.6h0.8v0.8h-0.8zM16.3 22.4h0.8v0.8h-0.8zM18.0 32.8h0.8v0.8h-0.8zM10.1 22.7h0.8v0.8h-0.8zM11.1 22.1h0.8v0.8h-0.8zM-0.2 29.6h0.8v0.8h-0.8zM11.9 21.9h0.8v0.8h-0.8zM1.2 31.8h0.8v0.8h-0.8zM8.0 22.8h0.8v0.8h-0.8zM2.1 26.2h0.8v0.8h-0.8zM19.6 31.8h0.8v0.8h-0.8zM8.9 35.8h0.8v0.8h-0.8zM5.6 23.2h0.8v0.8h-0.8zM-0.3 28.8h0.8v0.8h-0.8zM21.8 29.1h0.8v0.8h-0.8zM-1.6 29.0h0.8v0.8h-0.8zM2.3 24.4h0.8v0.8h-0.8zM19.4 32.0h0.8v0.8h-0.8zM1.3 32.7h0.8v0.8h-0.8zM18.4 31.7h0.8v0.8h-0.8zM20.9 30.3h0.8v0.8h-0.8zM1.8 32.7h0.8v0.8h-0.8zM-1.0 27.3h0.8v0.8h-0.8zM18.6 24.8h0.8v0.8h-0.8zM1.5 25.1h0.8v0.8h-0.8zM-0.1 31.0h0.8v0.8h-0.8zM0.2 31.5h0.8v0.8h-0.8zM3.0 33.7h0.8v0.8h-0.8zM5.2 22.5h0.8v0.8h-0.8zM20.4 26.0h0.8v0.8h-0.8zM12.2 34.9h0.8v0.8h-0.8zM21.6 28.1h0.8v0.8h-0.8zM17.7 33.1h0.8v0.8h-0.8zM17.0 22.4h0.8v0.8h-0.8zM1.6 24.6h0.8v0.8h-0.8zM0.6 25.4h0.8v0.8h-0.8zM1.9 25.8h0.8v0.8h-0.8zM21.5 30.4h0.8v0.8h-0.8zM19.2 32.0h0.8v0.8h-0.8zM17.9 22.5h0.8v0.8h-0.8zM9.8 22.7h0.8v0.8h-0.8zM21.1 28.5h0.8v0.8h-0.8zM19.0 31.2h0.8v0.8h-0.8zM10.9 36.0h0.8v0.8h-0.8z" fill="#111"/>
<ellipse cx="11.37" cy="30.73" rx="7.73" ry="4.77" fill="url(#light)" transform="rotate(-8 11.37 30.73)"/>
</g></svg>
<rect x="68.0" y="175.5" width="37.9" height="33.4" fill="none" stroke="#b0b0b0" stroke-width="0.85"/>
<line x1="83.539" y1="175.5" x2="83.539" y2="208.9" stroke="#b0b0b0" stroke-width="0.8"/>
<line x1="68.0" y1="191.198" x2="105.9" y2="191.198" stroke="#b0b0b0" stroke-width="0.8"/>
<rect x="68.8" y="176.5" width="1.4" height="0.8" fill="#555"/>
<rect x="68.8" y="178.7" width="3" height="0.7" fill="#888"/>
<rect x="84.3" y="176.5" width="1.4" height="0.8" fill="#555"/>
<rect x="84.3" y="178.7" width="3" height="0.7" fill="#888"/>
<rect x="68.8" y="192.2" width="1.4" height="0.8" fill="#555"/>
<rect x="68.8" y="194.4" width="3" height="0.7" fill="#888"/>
<rect x="84.3" y="192.2" width="1.4" height="0.8" fill="#555"/>
<rect x="84.3" y="194.4" width="3" height="0.7" fill="#888"/>
<text x="115.5" y="173.9" font-size="5" text-anchor="start" fill="#333">2.8</text>
<text x="152.79999999999998" y="173.9" font-size="5" text-anchor="end" fill="#333">0.0</text>
<svg x="115.2" y="175.5" width="37.9" height="33.4" viewBox="0 0 37.9 33.4" overflow="hidden"><g filter="url(#soft)">
<path d="M7.8 6.7h0.8v0.8h-0.8zM12.5 16.6h0.8v0.8h-0.8zM7.8 7.3h0.8v0.8h-0.8zM11.4 15.6h0.8v0.8h-0.8zM7.8 14.2h0.8v0.8h-0.8zM14.8 20.9h0.8v0.8h-0.8zM12.4 20.7h0.8v0.8h-0.8zM4.2 14.6h0.8v0.8h-0.8zM8.2 11.3h0.8v0.8h-0.8zM15.3 12.3h0.8v0.8h-0.8zM10.2 14.9h0.8v0.8h-0.8zM18.6 21.3h0.8v0.8h-0.8zM12.2 17.3h0.8v0.8h-0.8zM12.4 16.0h0.8v0.8h-0.8zM11.4 15.7h0.8v0.8h-0.8zM7.3 12.3h0.8v0.8h-0.8zM14.8 10.1h0.8v0.8h-0.8zM18.9 20.2h0.8v0.8h-0.8zM10.0 12.7h0.8v0.8h-0.8zM9.9 12.7h0.8v0.8h-0.8zM10.5 6.5h0.8v0.8h-0.8zM14.0 17.3h0.8v0.8h-0.8zM8.8 13.5h0.8v0.8h-0.8zM2.8 9.3h0.8v0.8h-0.8zM10.4 9.1h0.8v0.8h-0.8zM12.9 10.7h0.8v0.8h-0.8zM7.5 8.9h0.8v0.8h-0.8zM13.7 14.1h0.8v0.8h-0.8zM10.5 11.0h0.8v0.8h-0.8zM6.1 8.7h0.8v0.8h-0.8zM7.1 6.4h0.8v0.8h-0.8zM9.5 10.5h0.8v0.8h-0.8zM12.2 21.0h0.8v0.8h-0.8zM14.0 20.8h0.8v0.8h-0.8zM8.6 12.3h0.8v0.8h-0.8zM9.8 9.0h0.8v0.8h-0.8zM4.8 4.8h0.8v0.8h-0.8zM8.3 6.3h0.8v0.8h-0.8zM3.4 8.9h0.8v0.8h-0.8zM12.0 11.4h0.8v0.8h-0.8zM9.6 10.7h0.8v0.8h-0.8zM10.5 16.5h0.8v0.8h-0.8zM7.7 3.2h0.8v0.8h-0.8zM12.6 16.9h0.8v0.8h-0.8zM7.9 6.7h0.8v0.8h-0.8zM11.0 13.4h0.8v0.8h-0.8zM4.6 11.5h0.8v0.8h-0.8zM10.6 17.6h0.8v0.8h-0.8zM12.4 16.0h0.8v0.8h-0.8zM12.7 13.6h0.8v0.8h-0.8zM8.4 6.1h0.8v0.8h-0.8zM10.3 9.2h0.8v0.8h-0.8zM8.0 10.2h0.8v0.8h-0.8zM8.7 18.9h0.8v0.8h-0.8zM6.3 9.3h0.8v0.8h-0.8zM3.7 12.5h0.8v0.8h-0.8zM8.4 9.9h0.8v0.8h-0.8zM9.0 15.1h0.8v0.8h-0.8zM8.3 5.1h0.8v0.8h-0.8zM10.5 21.8h0.8v0.8h-0.8zM7.0 16.4h0.8v0.8h-0.8zM3.7 5.9h0.8v0.8h-0.8zM9.9 14.5h0.8v0.8h-0.8zM11.7 16.1h0.8v0.8h-0.8zM14.1 12.3h0.8v0.8h-0.8zM11.6 11.6h0.8v0.8h-0.8zM7.6 8.4h0.8v0.8h-0.8zM3.4 10.8h0.8v0.8h-0.8zM7.6 8.1h0.8v0.8h-0.8zM13.1 18.1h0.8v0.8h-0.8zM14.5 19.6h0.8v0.8h-0.8zM9.1 7.8h0.8v0.8h-0.8zM3.3 7.3h0.8v0.8h-0.8zM9.9 12.3h0.8v0.8h-0.8zM9.9 18.6h0.8v0.8h-0.8zM7.6 7.9h0.8v0.8h-0.8zM12.5 15.9h0.8v0.8h-0.8zM11.6 10.1h0.8v0.8h-0.8zM0.9 3.7h0.8v0.8h-0.8zM6.4 11.6h0.8v0.8h-0.8zM11.9 15.7h0.8v0.8h-0.8zM5.7 3.1h0.8v0.8h-0.8zM10.9 7.8h0.8v0.8h-0.8zM13.2 14.2h0.8v0.8h-0.8zM5.1 10.3h0.8v0.8h-0.8zM11.9 14.5h0.8v0.8h-0.8zM14.2 17.8h0.8v0.8h-0.8zM9.3 13.1h0.8v0.8h-0.8zM12.0 21.0h0.8v0.8h-0.8zM4.4 10.6h0.8v0.8h-0.8zM9.4 11.9h0.8v0.8h-0.8zM9.3 8.3h0.8v0.8h-0.8zM15.9 19.4h0.8v0.8h-0.8zM8.5 6.7h0.8v0.8h-0.8zM10.3 8.6h0.8v0.8h-0.8zM7.9 13.7h0.8v0.8h-0.8zM10.8 16.0h0.8v0.8h-0.8zM8.9 18.6h0.8v0.8h-0.8zM10.7 12.5h0.8v0.8h-0.8zM7.9 13.2h0.8v0.8h-0.8zM10.0 17.9h0.8v0.8h-0.8zM12.1 20.0h0.8v0.8h-0.8zM9.8 15.7h0.8v0.8h-0.8zM15.2 18.2h0.8v0.8h-0.8zM5.2 5.3h0.8v0.8h-0.8zM10.9 20.7h0.8v0.8h-0.8zM13.8 16.9h0.8v0.8h-0.8zM10.9 14.5h0.8v0.8h-0.8zM8.6 5.6h0.8v0.8h-0.8zM13.0 8.5h0.8v0.8h-0.8zM4.7 10.3h0.8v0.8h-0.8zM10.8 11.4h0.8v0.8h-0.8zM6.0 3.9h0.8v0.8h-0.8zM7.9 18.1h0.8v0.8h-0.8zM17.6 19.5h0.8v0.8h-0.8zM10.8 16.4h0.8v0.8h-0.8zM8.5 2.3h0.8v0.8h-0.8zM9.2 11.3h0.8v0.8h-0.8zM9.0 12.2h0.8v0.8h-0.8zM8.7 8.9h0.8v0.8h-0.8zM7.6 11.2h0.8v0.8h-0.8zM7.3 6.2h0.8v0.8h-0.8zM16.9 17.5h0.8v0.8h-0.8zM12.6 20.7h0.8v0.8h-0.8zM8.5 15.4h0.8v0.8h-0.8zM5.2 12.6h0.8v0.8h-0.8zM14.4 20.4h0.8v0.8h-0.8zM0.2 3.3h0.8v0.8h-0.8zM13.1 16.8h0.8v0.8h-0.8zM16.0 18.4h0.8v0.8h-0.8zM9.0 15.5h0.8v0.8h-0.8zM4.6 8.0h0.8v0.8h-0.8zM5.3 5.9h0.8v0.8h-0.8zM16.9 19.5h0.8v0.8h-0.8zM9.9 18.0h0.8v0.8h-0.8zM11.4 13.8h0.8v0.8h-0.8zM7.2 15.9h0.8v0.8h-0.8zM12.9 20.1h0.8v0.8h-0.8zM7.4 12.5h0.8v0.8h-0.8zM9.2 17.9h0.8v0.8h-0.8zM14.3 17.4h0.8v0.8h-0.8zM18.0 15.0h0.8v0.8h-0.8zM10.3 9.1h0.8v0.8h-0.8zM11.6 14.8h0.8v0.8h-0.8zM6.5 5.8h0.8v0.8h-0.8zM4.8 4.4h0.8v0.8h-0.8zM14.2 10.5h0.8v0.8h-0.8zM10.9 15.2h0.8v0.8h-0.8zM11.1 20.7h0.8v0.8h-0.8zM4.3 15.7h0.8v0.8h-0.8zM7.8 8.7h0.8v0.8h-0.8zM15.0 21.5h0.8v0.8h-0.8zM12.0 18.5h0.8v0.8h-0.8zM14.9 20.1h0.8v0.8h-0.8zM4.8 3.7h0.8v0.8h-0.8zM6.5 10.5h0.8v0.8h-0.8zM12.0 13.9h0.8v0.8h-0.8zM16.5 19.5h0.8v0.8h-0.8zM9.5 9.4h0.8v0.8h-0.8zM7.7 6.9h0.8v0.8h-0.8zM10.0 9.2h0.8v0.8h-0.8zM7.3 2.6h0.8v0.8h-0.8zM15.9 21.1h0.8v0.8h-0.8zM12.8 11.7h0.8v0.8h-0.8zM13.9 21.5h0.8v0.8h-0.8zM12.1 18.6h0.8v0.8h-0.8zM14.5 14.7h0.8v0.8h-0.8zM16.5 17.9h0.8v0.8h-0.8zM8.0 9.7h0.8v0.8h-0.8zM10.4 18.1h0.8v0.8h-0.8zM12.3 16.5h0.8v0.8h-0.8zM12.6 15.1h0.8v0.8h-0.8zM9.8 7.1h0.8v0.8h-0.8zM9.0 15.8h0.8v0.8h-0.8zM11.4 11.7h0.8v0.8h-0.8zM14.4 17.7h0.8v0.8h-0.8zM10.0 11.3h0.8v0.8h-0.8zM7.3 9.8h0.8v0.8h-0.8zM19.0 19.9h0.8v0.8h-0.8zM9.8 16.7h0.8v0.8h-0.8zM12.8 17.1h0.8v0.8h-0.8zM11.6 11.8h0.8v0.8h-0.8zM7.7 15.0h0.8v0.8h-0.8zM10.9 12.2h0.8v0.8h-0.8zM14.6 16.1h0.8v0.8h-0.8zM12.4 15.8h0.8v0.8h-0.8zM5.6 12.7h0.8v0.8h-0.8zM8.8 8.5h0.8v0.8h-0.8zM10.7 21.1h0.8v0.8h-0.8zM12.6 12.2h0.8v0.8h-0.8zM4.4 9.4h0.8v0.8h-0.8zM7.4 4.4h0.8v0.8h-0.8zM9.2 23.6h0.8v0.8h-0.8zM8.7 18.6h0.8v0.8h-0.8zM8.7 6.6h0.8v0.8h-0.8zM4.9 11.9h0.8v0.8h-0.8zM6.5 9.9h0.8v0.8h-0.8zM16.9 20.8h0.8v0.8h-0.8zM12.3 17.6h0.8v0.8h-0.8zM10.3 9.7h0.8v0.8h-0.8zM12.2 20.8h0.8v0.8h-0.8zM10.5 7.2h0.8v0.8h-0.8zM10.1 7.5h0.8v0.8h-0.8zM12.2 20.3h0.8v0.8h-0.8zM12.2 8.4h0.8v0.8h-0.8zM7.9 5.7h0.8v0.8h-0.8zM5.0 11.1h0.8v0.8h-0.8zM10.1 16.3h0.8v0.8h-0.8zM11.9 9.9h0.8v0.8h-0.8zM11.7 12.6h0.8v0.8h-0.8zM7.2 14.8h0.8v0.8h-0.8zM8.8 10.8h0.8v0.8h-0.8zM11.8 10.2h0.8v0.8h-0.8zM5.9 15.5h0.8v0.8h-0.8zM6.9 5.1h0.8v0.8h-0.8zM7.0 7.1h0.8v0.8h-0.8zM7.8 5.4h0.8v0.8h-0.8zM11.6 19.9h0.8v0.8h-0.8zM9.3 14.2h0.8v0.8h-0.8zM9.5 13.2h0.8v0.8h-0.8zM13.2 25.6h0.8v0.8h-0.8zM12.0 19.1h0.8v0.8h-0.8zM1.5 13.5h0.8v0.8h-0.8zM6.9 5.0h0.8v0.8h-0.8zM9.7 19.4h0.8v0.8h-0.8zM11.4 5.2h0.8v0.8h-0.8zM12.3 14.0h0.8v0.8h-0.8zM7.2 8.1h0.8v0.8h-0.8zM11.0 13.3h0.8v0.8h-0.8zM15.4 19.0h0.8v0.8h-0.8zM2.0 9.4h0.8v0.8h-0.8zM15.8 19.5h0.8v0.8h-0.8zM15.0 21.7h0.8v0.8h-0.8zM7.1 11.7h0.8v0.8h-0.8zM11.0 12.4h0.8v0.8h-0.8zM11.2 16.3h0.8v0.8h-0.8zM4.2 4.9h0.8v0.8h-0.8zM8.3 4.7h0.8v0.8h-0.8zM4.2 5.3h0.8v0.8h-0.8zM7.9 10.5h0.8v0.8h-0.8zM14.8 9.0h0.8v0.8h-0.8zM14.3 4.7h0.8v0.8h-0.8zM9.7 8.3h0.8v0.8h-0.8zM19.8 16.5h0.8v0.8h-0.8zM7.6 8.1h0.8v0.8h-0.8zM14.5 15.3h0.8v0.8h-0.8zM9.1 13.7h0.8v0.8h-0.8zM12.5 18.4h0.8v0.8h-0.8zM10.9 14.5h0.8v0.8h-0.8zM11.4 21.3h0.8v0.8h-0.8zM13.7 18.3h0.8v0.8h-0.8zM7.4 11.1h0.8v0.8h-0.8zM8.6 13.9h0.8v0.8h-0.8zM7.7 9.0h0.8v0.8h-0.8zM10.1 15.9h0.8v0.8h-0.8zM13.3 12.1h0.8v0.8h-0.8zM13.0 11.9h0.8v0.8h-0.8zM10.8 16.8h0.8v0.8h-0.8zM9.2 24.7h0.8v0.8h-0.8zM11.9 13.9h0.8v0.8h-0.8zM8.4 17.4h0.8v0.8h-0.8zM15.3 17.5h0.8v0.8h-0.8zM8.1 5.9h0.8v0.8h-0.8zM9.3 15.9h0.8v0.8h-0.8zM12.1 18.4h0.8v0.8h-0.8zM7.9 7.7h0.8v0.8h-0.8zM11.9 20.1h0.8v0.8h-0.8zM3.4 8.0h0.8v0.8h-0.8zM13.4 16.1h0.8v0.8h-0.8zM12.6 9.6h0.8v0.8h-0.8zM6.5 4.6h0.8v0.8h-0.8zM9.7 12.1h0.8v0.8h-0.8zM11.5 14.4h0.8v0.8h-0.8zM15.9 13.6h0.8v0.8h-0.8zM9.1 3.9h0.8v0.8h-0.8zM7.1 10.8h0.8v0.8h-0.8zM16.0 24.0h0.8v0.8h-0.8zM19.4 19.8h0.8v0.8h-0.8zM14.3 10.1h0.8v0.8h-0.8zM7.7 13.1h0.8v0.8h-0.8zM6.0 9.1h0.8v0.8h-0.8zM17.7 20.1h0.8v0.8h-0.8zM18.2 11.7h0.8v0.8h-0.8zM11.6 14.0h0.8v0.8h-0.8zM12.0 20.3h0.8v0.8h-0.8zM10.9 15.6h0.8v0.8h-0.8zM6.9 14.0h0.8v0.8h-0.8zM12.0 12.7h0.8v0.8h-0.8zM15.7 11.8h0.8v0.8h-0.8zM12.5 14.4h0.8v0.8h-0.8zM8.7 9.7h0.8v0.8h-0.8zM2.8 8.2h0.8v0.8h-0.8zM7.4 12.9h0.8v0.8h-0.8zM6.4 19.6h0.8v0.8h-0.8zM4.8 8.8h0.8v0.8h-0.8zM12.7 15.3h0.8v0.8h-0.8zM11.1 10.7h0.8v0.8h-0.8zM9.3 12.8h0.8v0.8h-0.8zM13.1 17.5h0.8v0.8h-0.8zM13.0 20.6h0.8v0.8h-0.8zM4.5 1.5h0.8v0.8h-0.8zM9.4 11.3h0.8v0.8h-0.8zM14.2 19.9h0.8v0.8h-0.8zM5.9 14.7h0.8v0.8h-0.8zM5.7 14.8h0.8v0.8h-0.8zM8.5 13.8h0.8v0.8h-0.8zM15.9 11.3h0.8v0.8h-0.8zM3.1 8.1h0.8v0.8h-0.8zM9.4 7.3h0.8v0.8h-0.8zM5.4 4.1h0.8v0.8h-0.8zM11.9 16.5h0.8v0.8h-0.8zM11.0 15.6h0.8v0.8h-0.8zM9.4 12.6h0.8v0.8h-0.8zM15.1 16.1h0.8v0.8h-0.8zM9.3 6.4h0.8v0.8h-0.8zM4.8 5.3h0.8v0.8h-0.8zM14.1 19.6h0.8v0.8h-0.8zM9.5 13.6h0.8v0.8h-0.8zM6.4 10.4h0.8v0.8h-0.8zM6.2 7.1h0.8v0.8h-0.8zM11.1 15.6h0.8v0.8h-0.8zM7.2 7.0h0.8v0.8h-0.8zM11.3 8.1h0.8v0.8h-0.8zM10.3 10.7h0.8v0.8h-0.8zM16.6 19.8h0.8v0.8h-0.8zM7.2 6.4h0.8v0.8h-0.8zM9.0 12.5h0.8v0.8h-0.8z" fill="#111"/>
<path d="M2.2 12.0h0.8v0.8h-0.8zM15.7 16.3h0.8v0.8h-0.8zM2.1 16.1h0.8v0.8h-0.8zM6.6 6.5h0.8v0.8h-0.8zM3.9 4.1h0.8v0.8h-0.8zM10.4 18.1h0.8v0.8h-0.8zM15.5 15.5h0.8v0.8h-0.8zM8.5 21.5h0.8v0.8h-0.8zM4.5 21.7h0.8v0.8h-0.8zM16.8 13.4h0.8v0.8h-0.8zM13.2 15.1h0.8v0.8h-0.8zM12.5 16.4h0.8v0.8h-0.8zM12.4 16.4h0.8v0.8h-0.8zM9.2 5.8h0.8v0.8h-0.8zM7.0 8.8h0.8v0.8h-0.8zM12.3 4.6h0.8v0.8h-0.8zM12.4 11.9h0.8v0.8h-0.8zM15.9 10.8h0.8v0.8h-0.8zM13.2 4.8h0.8v0.8h-0.8zM4.1 20.2h0.8v0.8h-0.8zM14.3 7.0h0.8v0.8h-0.8zM8.3 18.2h0.8v0.8h-0.8zM3.2 16.5h0.8v0.8h-0.8zM12.4 22.3h0.8v0.8h-0.8zM17.0 18.5h0.8v0.8h-0.8zM3.7 19.4h0.8v0.8h-0.8zM4.3 7.7h0.8v0.8h-0.8zM14.3 12.4h0.8v0.8h-0.8zM8.3 20.9h0.8v0.8h-0.8zM14.7 8.1h0.8v0.8h-0.8zM14.6 23.2h0.8v0.8h-0.8zM12.3 6.5h0.8v0.8h-0.8zM10.0 13.8h0.8v0.8h-0.8zM6.2 17.8h0.8v0.8h-0.8zM3.7 5.4h0.8v0.8h-0.8zM16.3 9.0h0.8v0.8h-0.8zM4.1 18.6h0.8v0.8h-0.8zM14.0 11.2h0.8v0.8h-0.8zM9.3 1.9h0.8v0.8h-0.8zM2.1 21.3h0.8v0.8h-0.8zM16.3 17.3h0.8v0.8h-0.8zM12.3 10.4h0.8v0.8h-0.8zM6.5 17.5h0.8v0.8h-0.8zM13.9 3.5h0.8v0.8h-0.8zM3.7 3.2h0.8v0.8h-0.8zM12.6 12.1h0.8v0.8h-0.8zM3.0 12.6h0.8v0.8h-0.8zM16.1 18.3h0.8v0.8h-0.8zM13.0 15.6h0.8v0.8h-0.8zM4.9 13.5h0.8v0.8h-0.8zM8.6 22.0h0.8v0.8h-0.8zM2.3 2.2h0.8v0.8h-0.8zM2.4 3.3h0.8v0.8h-0.8zM6.7 15.6h0.8v0.8h-0.8zM13.3 19.2h0.8v0.8h-0.8zM3.1 10.7h0.8v0.8h-0.8zM10.8 9.0h0.8v0.8h-0.8zM6.0 5.4h0.8v0.8h-0.8zM7.1 3.8h0.8v0.8h-0.8zM17.0 17.4h0.8v0.8h-0.8zM16.3 3.0h0.8v0.8h-0.8zM3.6 15.8h0.8v0.8h-0.8zM16.7 10.4h0.8v0.8h-0.8zM6.6 10.3h0.8v0.8h-0.8zM1.9 6.1h0.8v0.8h-0.8zM4.1 4.8h0.8v0.8h-0.8zM16.6 15.8h0.8v0.8h-0.8zM14.5 10.9h0.8v0.8h-0.8zM10.0 9.6h0.8v0.8h-0.8zM8.9 18.8h0.8v0.8h-0.8zM12.2 5.0h0.8v0.8h-0.8zM5.9 15.9h0.8v0.8h-0.8zM9.6 13.3h0.8v0.8h-0.8zM2.6 7.9h0.8v0.8h-0.8zM8.6 21.2h0.8v0.8h-0.8zM16.7 3.6h0.8v0.8h-0.8zM8.4 5.7h0.8v0.8h-0.8zM8.2 14.7h0.8v0.8h-0.8zM13.1 14.4h0.8v0.8h-0.8zM11.3 14.5h0.8v0.8h-0.8z" fill="#555"/>
<path d="M21.3 29.2h0.8v0.8h-0.8zM20.1 28.4h0.8v0.8h-0.8zM18.9 29.7h0.8v0.8h-0.8zM24.5 25.8h0.8v0.8h-0.8zM19.9 28.0h0.8v0.8h-0.8zM18.3 27.5h0.8v0.8h-0.8zM21.6 30.8h0.8v0.8h-0.8zM21.8 30.2h0.8v0.8h-0.8zM24.3 27.6h0.8v0.8h-0.8zM20.9 27.3h0.8v0.8h-0.8zM17.4 29.8h0.8v0.8h-0.8zM19.6 28.4h0.8v0.8h-0.8zM20.5 28.8h0.8v0.8h-0.8zM22.6 28.0h0.8v0.8h-0.8zM20.2 28.4h0.8v0.8h-0.8zM20.1 27.8h0.8v0.8h-0.8zM21.8 30.6h0.8v0.8h-0.8zM18.4 28.6h0.8v0.8h-0.8zM20.7 28.9h0.8v0.8h-0.8zM19.9 29.5h0.8v0.8h-0.8zM23.2 27.1h0.8v0.8h-0.8zM18.5 28.8h0.8v0.8h-0.8zM20.0 26.3h0.8v0.8h-0.8zM20.9 27.3h0.8v0.8h-0.8zM19.6 29.1h0.8v0.8h-0.8z" fill="#111"/>
<ellipse cx="10.23" cy="28.72" rx="11.37" ry="7.01" fill="url(#halo4)" opacity="1.0" transform="rotate(-8 10.23 28.72)"/>
<path d="M2.5 34.9h0.8v0.8h-0.8zM1.3 31.9h0.8v0.8h-0.8zM8.5 22.4h0.8v0.8h-0.8zM6.4 22.0h0.8v0.8h-0.8zM18.7 23.6h0.8v0.8h-0.8zM22.2 27.8h0.8v0.8h-0.8zM20.9 29.3h0.8v0.8h-0.8zM19.9 28.7h0.8v0.8h-0.8zM16.6 22.3h0.8v0.8h-0.8zM2.2 25.7h0.8v0.8h-0.8zM11.3 35.1h0.8v0.8h-0.8zM12.9 22.3h0.8v0.8h-0.8zM-0.5 26.5h0.8v0.8h-0.8zM19.5 31.2h0.8v0.8h-0.8zM11.3 35.6h0.8v0.8h-0.8zM5.4 36.1h0.8v0.8h-0.8zM5.4 35.9h0.8v0.8h-0.8zM1.9 33.8h0.8v0.8h-0.8zM9.1 21.7h0.8v0.8h-0.8zM4.0 24.2h0.8v0.8h-0.8zM1.1 31.8h0.8v0.8h-0.8zM13.1 35.0h0.8v0.8h-0.8zM18.7 22.8h0.8v0.8h-0.8zM10.1 35.9h0.8v0.8h-0.8zM21.4 26.5h0.8v0.8h-0.8zM16.7 22.8h0.8v0.8h-0.8zM13.0 21.7h0.8v0.8h-0.8zM-0.4 28.4h0.8v0.8h-0.8zM0.4 26.5h0.8v0.8h-0.8zM0.9 27.9h0.8v0.8h-0.8zM7.3 22.9h0.8v0.8h-0.8zM20.0 32.1h0.8v0.8h-0.8zM14.9 21.6h0.8v0.8h-0.8zM1.7 32.7h0.8v0.8h-0.8zM3.8 34.0h0.8v0.8h-0.8zM0.9 32.2h0.8v0.8h-0.8zM-0.1 33.3h0.8v0.8h-0.8zM19.3 25.3h0.8v0.8h-0.8zM-0.0 25.9h0.8v0.8h-0.8zM21.0 26.4h0.8v0.8h-0.8zM9.5 22.6h0.8v0.8h-0.8zM7.6 35.9h0.8v0.8h-0.8zM16.8 23.5h0.8v0.8h-0.8zM16.9 22.1h0.8v0.8h-0.8zM20.2 31.1h0.8v0.8h-0.8zM7.8 36.1h0.8v0.8h-0.8zM2.1 34.9h0.8v0.8h-0.8zM7.0 22.9h0.8v0.8h-0.8zM-0.7 30.6h0.8v0.8h-0.8zM0.7 33.9h0.8v0.8h-0.8zM19.0 33.0h0.8v0.8h-0.8zM19.2 24.7h0.8v0.8h-0.8zM4.5 23.2h0.8v0.8h-0.8zM18.2 24.2h0.8v0.8h-0.8zM16.5 22.1h0.8v0.8h-0.8zM9.2 22.1h0.8v0.8h-0.8zM0.7 28.5h0.8v0.8h-0.8zM18.8 32.6h0.8v0.8h-0.8zM18.9 23.2h0.8v0.8h-0.8zM17.7 32.6h0.8v0.8h-0.8zM0.0 27.3h0.8v0.8h-0.8zM15.0 21.9h0.8v0.8h-0.8zM18.9 22.9h0.8v0.8h-0.8zM10.6 21.4h0.8v0.8h-0.8zM19.6 25.4h0.8v0.8h-0.8zM0.1 33.5h0.8v0.8h-0.8zM5.8 35.1h0.8v0.8h-0.8zM20.3 31.2h0.8v0.8h-0.8zM16.4 23.2h0.8v0.8h-0.8zM11.7 34.8h0.8v0.8h-0.8zM14.7 22.6h0.8v0.8h-0.8zM18.6 22.5h0.8v0.8h-0.8zM2.4 23.7h0.8v0.8h-0.8zM17.3 22.9h0.8v0.8h-0.8zM1.3 26.8h0.8v0.8h-0.8zM19.1 22.9h0.8v0.8h-0.8zM18.8 31.4h0.8v0.8h-0.8zM20.2 31.3h0.8v0.8h-0.8zM11.5 34.6h0.8v0.8h-0.8zM20.3 26.8h0.8v0.8h-0.8z" fill="#111"/>
<ellipse cx="11.37" cy="30.73" rx="7.73" ry="4.77" fill="url(#light)" transform="rotate(-8 11.37 30.73)"/>
</g></svg>
<rect x="115.2" y="175.5" width="37.9" height="33.4" fill="none" stroke="#b0b0b0" stroke-width="0.85"/>
<line x1="130.739" y1="175.5" x2="130.739" y2="208.9" stroke="#b0b0b0" stroke-width="0.8"/>
<line x1="115.2" y1="191.198" x2="153.1" y2="191.198" stroke="#b0b0b0" stroke-width="0.8"/>
<rect x="116.0" y="176.5" width="1.4" height="0.8" fill="#555"/>
<rect x="116.0" y="178.7" width="3" height="0.7" fill="#888"/>
<rect x="131.5" y="176.5" width="1.4" height="0.8" fill="#555"/>
<rect x="131.5" y="178.7" width="3" height="0.7" fill="#888"/>
<rect x="116.0" y="192.2" width="1.4" height="0.8" fill="#555"/>
<rect x="116.0" y="194.4" width="3" height="0.7" fill="#888"/>
<rect x="131.5" y="192.2" width="1.4" height="0.8" fill="#555"/>
<rect x="131.5" y="194.4" width="3" height="0.7" fill="#888"/>
<text x="163.9" y="173.9" font-size="5" text-anchor="start" fill="#333">1.5</text>
<text x="201.2" y="173.9" font-size="5" text-anchor="end" fill="#333">0.0</text>
<svg x="163.6" y="175.5" width="37.9" height="33.4" viewBox="0 0 37.9 33.4" overflow="hidden"><g filter="url(#soft)">
<path d="M6.8 7.9h0.8v0.8h-0.8zM9.9 19.2h0.8v0.8h-0.8zM2.2 6.4h0.8v0.8h-0.8zM14.7 11.8h0.8v0.8h-0.8zM12.7 10.8h0.8v0.8h-0.8zM10.5 7.2h0.8v0.8h-0.8zM15.9 14.0h0.8v0.8h-0.8zM8.4 8.7h0.8v0.8h-0.8zM15.2 21.1h0.8v0.8h-0.8zM6.5 5.5h0.8v0.8h-0.8zM9.8 12.0h0.8v0.8h-0.8zM15.8 22.8h0.8v0.8h-0.8zM9.4 15.5h0.8v0.8h-0.8zM11.0 16.3h0.8v0.8h-0.8zM8.6 12.2h0.8v0.8h-0.8zM13.5 20.8h0.8v0.8h-0.8zM10.8 10.5h0.8v0.8h-0.8zM12.5 16.4h0.8v0.8h-0.8zM13.3 15.9h0.8v0.8h-0.8zM9.3 11.6h0.8v0.8h-0.8zM9.1 4.2h0.8v0.8h-0.8zM8.3 20.2h0.8v0.8h-0.8zM11.2 16.9h0.8v0.8h-0.8zM10.5 14.9h0.8v0.8h-0.8zM13.5 20.0h0.8v0.8h-0.8zM6.8 10.7h0.8v0.8h-0.8zM12.4 16.3h0.8v0.8h-0.8zM11.2 5.9h0.8v0.8h-0.8zM14.7 13.6h0.8v0.8h-0.8zM13.5 9.0h0.8v0.8h-0.8zM11.4 13.1h0.8v0.8h-0.8zM6.5 8.2h0.8v0.8h-0.8zM13.5 16.0h0.8v0.8h-0.8zM10.2 16.1h0.8v0.8h-0.8zM10.6 21.8h0.8v0.8h-0.8zM7.4 5.3h0.8v0.8h-0.8zM8.4 2.9h0.8v0.8h-0.8zM11.8 13.7h0.8v0.8h-0.8zM4.3 11.3h0.8v0.8h-0.8zM14.5 22.6h0.8v0.8h-0.8zM9.8 12.0h0.8v0.8h-0.8zM12.9 20.6h0.8v0.8h-0.8zM10.9 9.1h0.8v0.8h-0.8zM14.5 12.2h0.8v0.8h-0.8zM15.0 18.0h0.8v0.8h-0.8zM13.5 20.6h0.8v0.8h-0.8zM13.5 7.5h0.8v0.8h-0.8zM6.3 11.8h0.8v0.8h-0.8zM12.7 18.3h0.8v0.8h-0.8zM10.8 15.1h0.8v0.8h-0.8zM10.2 11.8h0.8v0.8h-0.8zM5.6 1.9h0.8v0.8h-0.8zM5.8 11.4h0.8v0.8h-0.8zM11.5 14.3h0.8v0.8h-0.8zM7.8 9.1h0.8v0.8h-0.8zM9.9 15.0h0.8v0.8h-0.8zM12.5 9.2h0.8v0.8h-0.8zM9.7 11.4h0.8v0.8h-0.8zM8.7 12.2h0.8v0.8h-0.8zM10.5 11.2h0.8v0.8h-0.8zM9.6 8.2h0.8v0.8h-0.8zM14.3 20.5h0.8v0.8h-0.8zM12.0 14.9h0.8v0.8h-0.8zM14.2 14.1h0.8v0.8h-0.8zM10.4 15.9h0.8v0.8h-0.8zM8.2 6.0h0.8v0.8h-0.8zM7.7 13.4h0.8v0.8h-0.8zM7.9 3.8h0.8v0.8h-0.8zM12.0 8.1h0.8v0.8h-0.8zM13.7 15.3h0.8v0.8h-0.8zM4.8 8.9h0.8v0.8h-0.8zM12.2 14.6h0.8v0.8h-0.8zM9.4 12.2h0.8v0.8h-0.8zM4.1 4.8h0.8v0.8h-0.8zM3.0 3.7h0.8v0.8h-0.8zM6.6 7.0h0.8v0.8h-0.8zM14.1 13.5h0.8v0.8h-0.8zM4.8 5.0h0.8v0.8h-0.8zM8.7 10.4h0.8v0.8h-0.8zM12.0 14.6h0.8v0.8h-0.8zM12.5 16.4h0.8v0.8h-0.8zM13.5 17.6h0.8v0.8h-0.8zM13.4 19.8h0.8v0.8h-0.8zM4.1 7.9h0.8v0.8h-0.8zM15.6 23.2h0.8v0.8h-0.8zM4.4 10.2h0.8v0.8h-0.8zM8.6 4.1h0.8v0.8h-0.8zM10.8 11.5h0.8v0.8h-0.8zM12.4 19.3h0.8v0.8h-0.8zM9.5 12.1h0.8v0.8h-0.8zM10.3 12.1h0.8v0.8h-0.8zM7.7 7.5h0.8v0.8h-0.8zM5.9 8.4h0.8v0.8h-0.8zM7.6 7.3h0.8v0.8h-0.8zM12.9 15.1h0.8v0.8h-0.8zM10.4 16.4h0.8v0.8h-0.8zM5.6 7.5h0.8v0.8h-0.8zM4.1 7.7h0.8v0.8h-0.8zM3.3 1.7h0.8v0.8h-0.8zM7.7 17.2h0.8v0.8h-0.8zM19.2 18.3h0.8v0.8h-0.8zM16.0 15.8h0.8v0.8h-0.8zM10.3 11.8h0.8v0.8h-0.8zM11.6 17.9h0.8v0.8h-0.8zM8.1 6.7h0.8v0.8h-0.8zM14.3 18.8h0.8v0.8h-0.8zM10.7 11.0h0.8v0.8h-0.8zM8.1 6.3h0.8v0.8h-0.8zM5.3 4.5h0.8v0.8h-0.8zM8.9 8.7h0.8v0.8h-0.8zM7.2 7.5h0.8v0.8h-0.8zM6.3 7.2h0.8v0.8h-0.8zM12.0 8.6h0.8v0.8h-0.8zM16.5 17.4h0.8v0.8h-0.8zM8.8 13.0h0.8v0.8h-0.8zM4.9 14.2h0.8v0.8h-0.8zM6.3 5.1h0.8v0.8h-0.8zM10.9 15.0h0.8v0.8h-0.8zM3.9 7.0h0.8v0.8h-0.8zM14.4 18.8h0.8v0.8h-0.8zM7.0 7.0h0.8v0.8h-0.8zM16.3 20.7h0.8v0.8h-0.8zM14.0 18.8h0.8v0.8h-0.8zM11.1 14.6h0.8v0.8h-0.8zM10.8 9.0h0.8v0.8h-0.8zM12.3 11.3h0.8v0.8h-0.8zM7.7 14.7h0.8v0.8h-0.8zM7.9 14.5h0.8v0.8h-0.8zM11.1 10.3h0.8v0.8h-0.8zM6.2 3.9h0.8v0.8h-0.8zM9.8 13.3h0.8v0.8h-0.8zM8.1 11.5h0.8v0.8h-0.8zM6.1 10.2h0.8v0.8h-0.8zM12.9 14.4h0.8v0.8h-0.8zM13.4 16.7h0.8v0.8h-0.8zM11.7 18.5h0.8v0.8h-0.8zM11.1 16.2h0.8v0.8h-0.8zM11.0 17.0h0.8v0.8h-0.8zM7.2 5.5h0.8v0.8h-0.8zM13.4 17.5h0.8v0.8h-0.8zM15.3 13.2h0.8v0.8h-0.8zM14.7 20.5h0.8v0.8h-0.8zM8.6 4.9h0.8v0.8h-0.8zM11.3 15.7h0.8v0.8h-0.8zM16.4 16.7h0.8v0.8h-0.8zM16.2 13.1h0.8v0.8h-0.8zM9.5 15.0h0.8v0.8h-0.8zM8.5 11.7h0.8v0.8h-0.8zM4.5 9.3h0.8v0.8h-0.8zM8.5 3.5h0.8v0.8h-0.8z" fill="#111"/>
<path d="M9.5 13.7h0.8v0.8h-0.8zM14.4 11.0h0.8v0.8h-0.8zM6.8 3.6h0.8v0.8h-0.8zM7.0 3.0h0.8v0.8h-0.8zM5.8 15.6h0.8v0.8h-0.8zM7.3 21.4h0.8v0.8h-0.8zM9.0 19.8h0.8v0.8h-0.8zM5.0 22.9h0.8v0.8h-0.8zM14.8 21.3h0.8v0.8h-0.8zM14.1 12.9h0.8v0.8h-0.8zM4.2 20.0h0.8v0.8h-0.8zM16.4 11.6h0.8v0.8h-0.8zM13.5 15.2h0.8v0.8h-0.8zM13.6 21.4h0.8v0.8h-0.8zM11.8 4.8h0.8v0.8h-0.8zM8.5 13.4h0.8v0.8h-0.8zM5.3 17.0h0.8v0.8h-0.8zM6.9 3.6h0.8v0.8h-0.8zM7.3 17.6h0.8v0.8h-0.8zM11.5 8.7h0.8v0.8h-0.8zM8.2 16.6h0.8v0.8h-0.8zM14.8 4.0h0.8v0.8h-0.8zM4.9 10.6h0.8v0.8h-0.8zM5.2 5.6h0.8v0.8h-0.8zM6.5 4.7h0.8v0.8h-0.8zM2.5 10.9h0.8v0.8h-0.8zM8.5 15.1h0.8v0.8h-0.8zM16.0 22.1h0.8v0.8h-0.8zM9.1 7.8h0.8v0.8h-0.8zM11.3 11.3h0.8v0.8h-0.8zM10.9 21.8h0.8v0.8h-0.8zM13.4 23.1h0.8v0.8h-0.8zM14.2 18.3h0.8v0.8h-0.8zM17.0 17.7h0.8v0.8h-0.8zM13.2 16.3h0.8v0.8h-0.8zM16.6 13.2h0.8v0.8h-0.8zM7.8 15.0h0.8v0.8h-0.8zM4.8 18.8h0.8v0.8h-0.8zM9.8 9.4h0.8v0.8h-0.8zM12.2 17.1h0.8v0.8h-0.8z" fill="#555"/>
<ellipse cx="9.47" cy="28.72" rx="11.37" ry="7.01" fill="url(#halo4)" opacity="1.0" transform="rotate(-8 9.47 28.72)"/>
<path d="M1.0 25.7h0.8v0.8h-0.8zM-0.2 29.4h0.8v0.8h-0.8zM1.9 33.1h0.8v0.8h-0.8zM0.9 26.5h0.8v0.8h-0.8zM11.8 35.6h0.8v0.8h-0.8zM5.9 23.1h0.8v0.8h-0.8zM21.5 28.4h0.8v0.8h-0.8zM1.0 32.5h0.8v0.8h-0.8zM-2.2 29.2h0.8v0.8h-0.8zM0.4 26.4h0.8v0.8h-0.8zM-1.1 29.6h0.8v0.8h-0.8zM20.1 24.8h0.8v0.8h-0.8zM13.3 35.0h0.8v0.8h-0.8zM12.2 22.4h0.8v0.8h-0.8zM17.2 33.1h0.8v0.8h-0.8zM1.9 24.7h0.8v0.8h-0.8zM-1.5 28.5h0.8v0.8h-0.8zM5.5 23.4h0.8v0.8h-0.8zM4.9 34.7h0.8v0.8h-0.8zM12.6 35.7h0.8v0.8h-0.8zM0.3 24.9h0.8v0.8h-0.8zM1.6 33.4h0.8v0.8h-0.8zM20.0 30.9h0.8v0.8h-0.8zM16.1 22.3h0.8v0.8h-0.8zM12.5 35.4h0.8v0.8h-0.8zM16.9 23.6h0.8v0.8h-0.8zM-2.6 30.6h0.8v0.8h-0.8zM13.8 34.9h0.8v0.8h-0.8zM10.4 21.8h0.8v0.8h-0.8zM18.4 24.0h0.8v0.8h-0.8zM15.8 33.5h0.8v0.8h-0.8zM6.0 35.5h0.8v0.8h-0.8zM1.9 35.0h0.8v0.8h-0.8zM0.6 24.8h0.8v0.8h-0.8zM1.1 26.3h0.8v0.8h-0.8zM14.5 33.6h0.8v0.8h-0.8zM6.3 22.7h0.8v0.8h-0.8zM13.9 21.4h0.8v0.8h-0.8zM15.5 22.2h0.8v0.8h-0.8zM11.1 34.6h0.8v0.8h-0.8zM-2.1 30.7h0.8v0.8h-0.8zM16.1 23.6h0.8v0.8h-0.8zM19.9 29.4h0.8v0.8h-0.8zM0.7 25.9h0.8v0.8h-0.8zM4.4 22.7h0.8v0.8h-0.8zM14.4 21.5h0.8v0.8h-0.8zM16.0 34.5h0.8v0.8h-0.8zM20.0 30.2h0.8v0.8h-0.8zM10.2 22.5h0.8v0.8h-0.8zM9.3 35.8h0.8v0.8h-0.8zM1.0 32.7h0.8v0.8h-0.8zM20.4 29.4h0.8v0.8h-0.8zM16.6 32.5h0.8v0.8h-0.8zM9.5 35.6h0.8v0.8h-0.8zM19.0 30.6h0.8v0.8h-0.8zM8.2 35.2h0.8v0.8h-0.8zM8.5 22.1h0.8v0.8h-0.8zM11.1 21.1h0.8v0.8h-0.8zM18.8 25.3h0.8v0.8h-0.8zM4.5 23.8h0.8v0.8h-0.8zM20.6 28.7h0.8v0.8h-0.8zM-0.5 29.0h0.8v0.8h-0.8zM7.3 35.9h0.8v0.8h-0.8zM1.4 25.9h0.8v0.8h-0.8zM14.9 23.3h0.8v0.8h-0.8zM0.8 33.9h0.8v0.8h-0.8zM11.0 34.8h0.8v0.8h-0.8zM-2.5 29.4h0.8v0.8h-0.8zM15.5 33.1h0.8v0.8h-0.8zM6.2 36.3h0.8v0.8h-0.8zM20.4 29.1h0.8v0.8h-0.8zM1.4 23.8h0.8v0.8h-0.8zM17.9 32.9h0.8v0.8h-0.8zM-0.8 33.4h0.8v0.8h-0.8zM19.2 24.5h0.8v0.8h-0.8zM2.0 25.3h0.8v0.8h-0.8zM6.0 36.2h0.8v0.8h-0.8zM2.3 24.7h0.8v0.8h-0.8zM14.5 34.9h0.8v0.8h-0.8zM11.4 21.6h0.8v0.8h-0.8z" fill="#111"/>
<ellipse cx="10.61" cy="30.73" rx="7.73" ry="4.77" fill="url(#light)" transform="rotate(-8 10.61 30.73)"/>
</g></svg>
<rect x="163.6" y="175.5" width="37.9" height="33.4" fill="none" stroke="#b0b0b0" stroke-width="0.85"/>
<line x1="179.13899999999998" y1="175.5" x2="179.13899999999998" y2="208.9" stroke="#b0b0b0" stroke-width="0.8"/>
<line x1="163.6" y1="191.198" x2="201.5" y2="191.198" stroke="#b0b0b0" stroke-width="0.8"/>
<rect x="164.4" y="176.5" width="1.4" height="0.8" fill="#555"/>
<rect x="164.4" y="178.7" width="3" height="0.7" fill="#888"/>
<rect x="179.9" y="176.5" width="1.4" height="0.8" fill="#555"/>
<rect x="179.9" y="178.7" width="3" height="0.7" fill="#888"/>
<rect x="164.4" y="192.2" width="1.4" height="0.8" fill="#555"/>
<rect x="164.4" y="194.4" width="3" height="0.7" fill="#888"/>
<rect x="179.9" y="192.2" width="1.4" height="0.8" fill="#555"/>
<rect x="179.9" y="194.4" width="3" height="0.7" fill="#888"/>
<text x="214.0" y="173.9" font-size="5" text-anchor="start" fill="#333">4.9</text>
<text x="251.29999999999998" y="173.9" font-size="5" text-anchor="end" fill="#333">0.0</text>
<svg x="213.7" y="175.5" width="37.9" height="33.4" viewBox="0 0 37.9 33.4" overflow="hidden"><g filter="url(#soft)">
<path d="M7.4 10.8h0.8v0.8h-0.8zM4.9 5.3h0.8v0.8h-0.8zM15.1 22.4h0.8v0.8h-0.8zM4.2 14.6h0.8v0.8h-0.8zM4.3 15.2h0.8v0.8h-0.8zM10.5 16.9h0.8v0.8h-0.8zM13.4 13.8h0.8v0.8h-0.8zM7.5 18.6h0.8v0.8h-0.8zM10.0 18.4h0.8v0.8h-0.8zM13.7 9.1h0.8v0.8h-0.8zM9.5 14.3h0.8v0.8h-0.8zM13.9 18.2h0.8v0.8h-0.8zM7.8 9.1h0.8v0.8h-0.8zM9.4 15.5h0.8v0.8h-0.8zM7.8 8.3h0.8v0.8h-0.8zM13.2 15.7h0.8v0.8h-0.8zM7.6 7.9h0.8v0.8h-0.8zM10.4 10.6h0.8v0.8h-0.8zM8.8 11.4h0.8v0.8h-0.8zM7.2 12.6h0.8v0.8h-0.8zM10.9 11.5h0.8v0.8h-0.8zM3.7 6.4h0.8v0.8h-0.8zM16.6 20.3h0.8v0.8h-0.8zM3.0 4.6h0.8v0.8h-0.8zM11.6 7.6h0.8v0.8h-0.8zM3.5 7.7h0.8v0.8h-0.8zM9.0 7.2h0.8v0.8h-0.8zM9.3 17.0h0.8v0.8h-0.8zM9.7 17.7h0.8v0.8h-0.8zM13.5 20.2h0.8v0.8h-0.8zM9.9 9.3h0.8v0.8h-0.8zM8.3 10.1h0.8v0.8h-0.8zM10.3 18.0h0.8v0.8h-0.8zM17.2 16.0h0.8v0.8h-0.8zM11.7 6.9h0.8v0.8h-0.8zM13.3 15.5h0.8v0.8h-0.8zM12.3 10.4h0.8v0.8h-0.8zM12.1 17.4h0.8v0.8h-0.8zM5.0 7.7h0.8v0.8h-0.8zM9.9 13.4h0.8v0.8h-0.8zM10.4 4.3h0.8v0.8h-0.8zM14.7 13.9h0.8v0.8h-0.8zM8.3 4.2h0.8v0.8h-0.8zM14.2 18.2h0.8v0.8h-0.8zM10.6 6.2h0.8v0.8h-0.8zM12.8 18.6h0.8v0.8h-0.8zM10.2 7.1h0.8v0.8h-0.8zM17.6 17.8h0.8v0.8h-0.8zM13.3 18.2h0.8v0.8h-0.8zM11.5 17.1h0.8v0.8h-0.8zM5.6 8.9h0.8v0.8h-0.8zM8.3 13.3h0.8v0.8h-0.8zM6.8 7.5h0.8v0.8h-0.8zM5.4 7.2h0.8v0.8h-0.8zM9.8 16.8h0.8v0.8h-0.8zM11.3 15.6h0.8v0.8h-0.8zM5.1 8.1h0.8v0.8h-0.8zM6.1 13.1h0.8v0.8h-0.8zM3.3 5.9h0.8v0.8h-0.8zM7.8 7.8h0.8v0.8h-0.8zM10.0 11.1h0.8v0.8h-0.8zM13.9 14.6h0.8v0.8h-0.8zM13.6 14.6h0.8v0.8h-0.8zM14.6 18.2h0.8v0.8h-0.8zM8.0 17.1h0.8v0.8h-0.8zM9.8 10.4h0.8v0.8h-0.8zM11.8 16.2h0.8v0.8h-0.8zM9.0 20.7h0.8v0.8h-0.8zM7.4 4.4h0.8v0.8h-0.8zM11.5 18.3h0.8v0.8h-0.8zM14.9 17.5h0.8v0.8h-0.8zM12.9 13.6h0.8v0.8h-0.8zM7.2 8.1h0.8v0.8h-0.8zM4.9 9.4h0.8v0.8h-0.8zM3.2 9.6h0.8v0.8h-0.8zM8.7 8.7h0.8v0.8h-0.8zM16.6 17.7h0.8v0.8h-0.8zM12.3 1.2h0.8v0.8h-0.8zM11.0 18.7h0.8v0.8h-0.8zM12.9 7.0h0.8v0.8h-0.8zM7.7 12.7h0.8v0.8h-0.8zM8.3 13.0h0.8v0.8h-0.8zM11.4 11.3h0.8v0.8h-0.8zM6.1 13.3h0.8v0.8h-0.8zM11.2 5.0h0.8v0.8h-0.8zM13.9 17.3h0.8v0.8h-0.8zM10.5 10.5h0.8v0.8h-0.8zM15.2 10.5h0.8v0.8h-0.8zM9.2 10.9h0.8v0.8h-0.8zM6.4 9.4h0.8v0.8h-0.8zM10.7 15.3h0.8v0.8h-0.8zM11.1 21.0h0.8v0.8h-0.8zM8.4 11.6h0.8v0.8h-0.8zM13.1 17.0h0.8v0.8h-0.8zM14.5 17.2h0.8v0.8h-0.8zM10.8 8.6h0.8v0.8h-0.8zM8.9 14.4h0.8v0.8h-0.8zM8.2 9.0h0.8v0.8h-0.8zM10.2 10.2h0.8v0.8h-0.8zM9.0 9.0h0.8v0.8h-0.8zM8.6 13.1h0.8v0.8h-0.8zM13.8 18.9h0.8v0.8h-0.8zM8.2 5.7h0.8v0.8h-0.8zM7.6 11.7h0.8v0.8h-0.8zM9.5 17.2h0.8v0.8h-0.8zM2.8 5.3h0.8v0.8h-0.8zM12.6 6.1h0.8v0.8h-0.8zM10.1 16.1h0.8v0.8h-0.8zM10.8 16.2h0.8v0.8h-0.8zM11.5 16.5h0.8v0.8h-0.8zM16.1 17.2h0.8v0.8h-0.8zM5.1 11.2h0.8v0.8h-0.8zM12.4 23.8h0.8v0.8h-0.8zM10.2 9.9h0.8v0.8h-0.8zM14.4 16.9h0.8v0.8h-0.8zM16.0 14.6h0.8v0.8h-0.8zM7.4 15.6h0.8v0.8h-0.8zM8.1 12.8h0.8v0.8h-0.8zM15.6 15.5h0.8v0.8h-0.8zM13.2 16.5h0.8v0.8h-0.8zM9.4 20.9h0.8v0.8h-0.8zM18.0 15.7h0.8v0.8h-0.8zM9.5 15.9h0.8v0.8h-0.8zM13.2 13.7h0.8v0.8h-0.8zM7.8 3.2h0.8v0.8h-0.8zM8.3 9.1h0.8v0.8h-0.8zM11.5 12.1h0.8v0.8h-0.8zM14.3 17.9h0.8v0.8h-0.8zM10.6 10.9h0.8v0.8h-0.8zM10.0 17.6h0.8v0.8h-0.8zM12.0 13.2h0.8v0.8h-0.8zM7.8 9.2h0.8v0.8h-0.8zM11.6 8.6h0.8v0.8h-0.8zM10.1 7.8h0.8v0.8h-0.8zM9.4 16.7h0.8v0.8h-0.8zM4.1 7.5h0.8v0.8h-0.8zM4.3 12.7h0.8v0.8h-0.8zM9.4 9.9h0.8v0.8h-0.8zM13.0 8.4h0.8v0.8h-0.8zM13.7 14.1h0.8v0.8h-0.8zM0.8 8.3h0.8v0.8h-0.8zM10.5 22.8h0.8v0.8h-0.8zM12.3 13.9h0.8v0.8h-0.8zM13.5 14.0h0.8v0.8h-0.8zM11.3 23.0h0.8v0.8h-0.8zM17.6 15.7h0.8v0.8h-0.8zM11.9 20.6h0.8v0.8h-0.8zM12.7 16.1h0.8v0.8h-0.8zM9.4 12.3h0.8v0.8h-0.8zM11.0 16.0h0.8v0.8h-0.8zM14.4 17.0h0.8v0.8h-0.8zM13.3 16.6h0.8v0.8h-0.8zM5.0 5.3h0.8v0.8h-0.8zM10.5 14.6h0.8v0.8h-0.8zM11.7 17.9h0.8v0.8h-0.8zM10.2 4.2h0.8v0.8h-0.8zM15.9 13.9h0.8v0.8h-0.8zM10.3 13.6h0.8v0.8h-0.8zM13.9 19.2h0.8v0.8h-0.8zM0.3 6.8h0.8v0.8h-0.8zM13.9 18.0h0.8v0.8h-0.8zM7.9 5.8h0.8v0.8h-0.8zM9.0 9.9h0.8v0.8h-0.8zM13.0 10.2h0.8v0.8h-0.8zM13.0 21.9h0.8v0.8h-0.8zM16.1 22.2h0.8v0.8h-0.8zM16.8 24.0h0.8v0.8h-0.8zM11.8 23.8h0.8v0.8h-0.8zM17.9 22.5h0.8v0.8h-0.8zM12.7 18.9h0.8v0.8h-0.8zM8.7 15.4h0.8v0.8h-0.8zM1.6 6.8h0.8v0.8h-0.8zM13.1 18.3h0.8v0.8h-0.8zM1.9 13.9h0.8v0.8h-0.8zM17.5 19.7h0.8v0.8h-0.8zM9.0 5.0h0.8v0.8h-0.8zM18.7 16.2h0.8v0.8h-0.8zM11.4 9.2h0.8v0.8h-0.8zM10.2 9.8h0.8v0.8h-0.8zM9.0 9.3h0.8v0.8h-0.8zM6.8 14.9h0.8v0.8h-0.8zM2.9 6.8h0.8v0.8h-0.8zM13.7 14.5h0.8v0.8h-0.8zM13.3 17.9h0.8v0.8h-0.8zM8.1 16.4h0.8v0.8h-0.8zM7.9 4.1h0.8v0.8h-0.8zM7.9 6.3h0.8v0.8h-0.8zM9.3 7.2h0.8v0.8h-0.8zM13.2 21.5h0.8v0.8h-0.8zM17.9 15.7h0.8v0.8h-0.8zM10.4 8.3h0.8v0.8h-0.8zM9.5 10.9h0.8v0.8h-0.8zM7.0 13.3h0.8v0.8h-0.8zM16.6 24.2h0.8v0.8h-0.8zM16.4 8.9h0.8v0.8h-0.8zM16.6 22.2h0.8v0.8h-0.8zM11.9 17.6h0.8v0.8h-0.8zM9.2 14.1h0.8v0.8h-0.8zM12.2 16.2h0.8v0.8h-0.8zM16.3 19.2h0.8v0.8h-0.8zM15.1 16.4h0.8v0.8h-0.8zM4.9 7.8h0.8v0.8h-0.8zM7.2 6.0h0.8v0.8h-0.8zM10.2 10.2h0.8v0.8h-0.8zM12.2 12.3h0.8v0.8h-0.8zM7.7 11.6h0.8v0.8h-0.8zM7.4 12.0h0.8v0.8h-0.8zM11.2 16.1h0.8v0.8h-0.8zM11.5 11.3h0.8v0.8h-0.8zM7.8 4.8h0.8v0.8h-0.8zM8.5 6.6h0.8v0.8h-0.8zM11.6 19.3h0.8v0.8h-0.8zM5.7 7.8h0.8v0.8h-0.8zM11.0 17.9h0.8v0.8h-0.8zM6.6 13.6h0.8v0.8h-0.8zM6.5 6.2h0.8v0.8h-0.8zM14.7 21.1h0.8v0.8h-0.8zM13.3 11.2h0.8v0.8h-0.8zM17.6 21.2h0.8v0.8h-0.8zM14.1 12.2h0.8v0.8h-0.8zM7.4 8.3h0.8v0.8h-0.8zM6.7 12.5h0.8v0.8h-0.8zM11.5 23.0h0.8v0.8h-0.8zM9.2 7.1h0.8v0.8h-0.8zM15.2 14.2h0.8v0.8h-0.8zM19.0 21.6h0.8v0.8h-0.8zM3.8 1.8h0.8v0.8h-0.8zM11.9 13.9h0.8v0.8h-0.8zM15.2 25.6h0.8v0.8h-0.8zM13.8 20.1h0.8v0.8h-0.8zM12.6 15.5h0.8v0.8h-0.8zM13.1 17.8h0.8v0.8h-0.8zM15.8 14.8h0.8v0.8h-0.8zM17.8 18.7h0.8v0.8h-0.8zM10.7 20.5h0.8v0.8h-0.8zM8.2 12.0h0.8v0.8h-0.8zM9.8 10.2h0.8v0.8h-0.8zM8.2 9.8h0.8v0.8h-0.8zM13.2 14.7h0.8v0.8h-0.8zM12.3 15.8h0.8v0.8h-0.8zM9.3 13.2h0.8v0.8h-0.8zM14.7 16.4h0.8v0.8h-0.8zM10.8 12.7h0.8v0.8h-0.8zM11.1 18.5h0.8v0.8h-0.8zM6.8 8.8h0.8v0.8h-0.8zM8.1 20.7h0.8v0.8h-0.8zM14.3 18.9h0.8v0.8h-0.8zM3.5 4.8h0.8v0.8h-0.8zM8.0 18.1h0.8v0.8h-0.8zM7.3 10.9h0.8v0.8h-0.8zM13.0 19.2h0.8v0.8h-0.8zM10.0 15.9h0.8v0.8h-0.8zM9.4 18.5h0.8v0.8h-0.8zM7.3 8.4h0.8v0.8h-0.8zM6.5 7.5h0.8v0.8h-0.8zM8.2 14.0h0.8v0.8h-0.8zM11.3 7.5h0.8v0.8h-0.8zM6.7 4.2h0.8v0.8h-0.8zM5.9 7.5h0.8v0.8h-0.8zM6.3 10.4h0.8v0.8h-0.8zM7.6 16.5h0.8v0.8h-0.8zM16.8 21.5h0.8v0.8h-0.8zM15.1 12.1h0.8v0.8h-0.8zM8.6 13.8h0.8v0.8h-0.8zM13.9 15.2h0.8v0.8h-0.8zM6.2 5.3h0.8v0.8h-0.8zM8.3 5.4h0.8v0.8h-0.8zM6.2 10.2h0.8v0.8h-0.8zM9.0 11.9h0.8v0.8h-0.8zM10.3 13.8h0.8v0.8h-0.8zM5.7 12.8h0.8v0.8h-0.8zM10.9 20.0h0.8v0.8h-0.8zM6.6 12.3h0.8v0.8h-0.8zM12.9 16.2h0.8v0.8h-0.8zM13.3 14.6h0.8v0.8h-0.8zM7.9 14.1h0.8v0.8h-0.8zM12.2 10.9h0.8v0.8h-0.8zM5.2 14.8h0.8v0.8h-0.8zM13.1 14.0h0.8v0.8h-0.8zM6.9 12.1h0.8v0.8h-0.8zM11.8 16.9h0.8v0.8h-0.8zM13.9 19.5h0.8v0.8h-0.8zM9.2 11.9h0.8v0.8h-0.8zM15.1 17.7h0.8v0.8h-0.8zM8.5 11.4h0.8v0.8h-0.8zM8.3 14.0h0.8v0.8h-0.8zM13.2 13.6h0.8v0.8h-0.8zM7.6 10.1h0.8v0.8h-0.8zM8.9 17.7h0.8v0.8h-0.8zM8.0 11.9h0.8v0.8h-0.8zM8.4 5.4h0.8v0.8h-0.8zM8.6 9.1h0.8v0.8h-0.8zM11.9 19.0h0.8v0.8h-0.8zM5.7 11.8h0.8v0.8h-0.8zM2.3 14.0h0.8v0.8h-0.8zM12.9 19.6h0.8v0.8h-0.8zM9.1 7.2h0.8v0.8h-0.8zM14.1 21.2h0.8v0.8h-0.8zM7.6 12.3h0.8v0.8h-0.8zM8.0 11.8h0.8v0.8h-0.8zM10.5 13.3h0.8v0.8h-0.8zM8.5 7.5h0.8v0.8h-0.8zM5.7 9.2h0.8v0.8h-0.8zM13.9 19.4h0.8v0.8h-0.8zM8.0 8.3h0.8v0.8h-0.8zM17.4 11.7h0.8v0.8h-0.8zM5.9 7.6h0.8v0.8h-0.8zM15.5 20.0h0.8v0.8h-0.8zM13.6 17.3h0.8v0.8h-0.8zM9.6 12.0h0.8v0.8h-0.8zM12.1 16.5h0.8v0.8h-0.8zM13.5 12.9h0.8v0.8h-0.8zM3.9 6.1h0.8v0.8h-0.8zM11.6 12.7h0.8v0.8h-0.8zM12.5 19.1h0.8v0.8h-0.8zM8.1 17.7h0.8v0.8h-0.8zM13.4 15.8h0.8v0.8h-0.8zM5.7 4.2h0.8v0.8h-0.8zM9.3 7.9h0.8v0.8h-0.8zM10.7 10.2h0.8v0.8h-0.8zM15.3 19.0h0.8v0.8h-0.8zM12.3 17.2h0.8v0.8h-0.8zM9.3 12.6h0.8v0.8h-0.8zM19.8 20.5h0.8v0.8h-0.8zM10.3 14.0h0.8v0.8h-0.8zM1.3 9.1h0.8v0.8h-0.8zM2.9 7.0h0.8v0.8h-0.8zM12.3 14.8h0.8v0.8h-0.8zM6.1 18.2h0.8v0.8h-0.8zM6.0 5.2h0.8v0.8h-0.8zM9.2 7.2h0.8v0.8h-0.8zM13.7 14.4h0.8v0.8h-0.8zM8.1 13.3h0.8v0.8h-0.8zM4.8 9.9h0.8v0.8h-0.8zM7.8 5.9h0.8v0.8h-0.8zM13.5 18.7h0.8v0.8h-0.8zM12.8 22.1h0.8v0.8h-0.8zM15.6 18.7h0.8v0.8h-0.8zM12.7 18.7h0.8v0.8h-0.8zM8.3 6.3h0.8v0.8h-0.8zM8.9 13.0h0.8v0.8h-0.8zM6.7 14.2h0.8v0.8h-0.8zM12.1 17.2h0.8v0.8h-0.8zM7.3 12.7h0.8v0.8h-0.8zM11.8 9.3h0.8v0.8h-0.8zM10.2 12.9h0.8v0.8h-0.8zM7.0 7.1h0.8v0.8h-0.8zM10.6 21.8h0.8v0.8h-0.8zM11.8 16.6h0.8v0.8h-0.8zM5.7 10.2h0.8v0.8h-0.8zM11.5 10.9h0.8v0.8h-0.8zM13.9 18.3h0.8v0.8h-0.8zM6.8 12.9h0.8v0.8h-0.8zM11.9 17.8h0.8v0.8h-0.8zM10.0 15.2h0.8v0.8h-0.8zM10.8 7.2h0.8v0.8h-0.8zM3.0 2.5h0.8v0.8h-0.8zM13.4 14.4h0.8v0.8h-0.8zM6.7 7.9h0.8v0.8h-0.8zM9.5 19.6h0.8v0.8h-0.8zM7.5 12.5h0.8v0.8h-0.8zM18.2 12.1h0.8v0.8h-0.8zM7.3 14.5h0.8v0.8h-0.8zM13.8 20.4h0.8v0.8h-0.8zM11.0 11.9h0.8v0.8h-0.8zM6.1 8.1h0.8v0.8h-0.8zM8.8 5.9h0.8v0.8h-0.8zM12.8 15.1h0.8v0.8h-0.8zM7.4 12.5h0.8v0.8h-0.8zM13.4 10.1h0.8v0.8h-0.8zM6.0 4.8h0.8v0.8h-0.8zM7.1 10.0h0.8v0.8h-0.8zM9.4 9.9h0.8v0.8h-0.8zM8.6 16.2h0.8v0.8h-0.8zM6.1 9.5h0.8v0.8h-0.8zM11.0 8.1h0.8v0.8h-0.8zM12.7 13.3h0.8v0.8h-0.8zM10.3 17.2h0.8v0.8h-0.8zM10.2 14.4h0.8v0.8h-0.8zM6.0 3.9h0.8v0.8h-0.8zM3.1 7.7h0.8v0.8h-0.8zM11.0 14.9h0.8v0.8h-0.8zM12.5 17.1h0.8v0.8h-0.8zM10.6 17.4h0.8v0.8h-0.8zM4.1 9.6h0.8v0.8h-0.8zM3.1 5.2h0.8v0.8h-0.8zM11.9 19.3h0.8v0.8h-0.8zM11.8 14.9h0.8v0.8h-0.8zM11.2 18.3h0.8v0.8h-0.8zM9.2 10.2h0.8v0.8h-0.8zM12.2 10.7h0.8v0.8h-0.8zM6.8 11.1h0.8v0.8h-0.8zM8.7 13.9h0.8v0.8h-0.8zM9.1 9.9h0.8v0.8h-0.8zM14.1 13.1h0.8v0.8h-0.8zM12.5 9.4h0.8v0.8h-0.8zM14.5 10.3h0.8v0.8h-0.8zM9.5 12.3h0.8v0.8h-0.8zM7.2 5.3h0.8v0.8h-0.8zM7.3 3.4h0.8v0.8h-0.8zM4.7 5.0h0.8v0.8h-0.8zM8.2 13.8h0.8v0.8h-0.8zM7.9 6.1h0.8v0.8h-0.8zM17.0 20.9h0.8v0.8h-0.8zM10.5 9.2h0.8v0.8h-0.8zM13.5 21.5h0.8v0.8h-0.8zM11.8 12.0h0.8v0.8h-0.8zM7.4 8.8h0.8v0.8h-0.8zM11.8 10.0h0.8v0.8h-0.8zM12.5 12.8h0.8v0.8h-0.8zM14.7 15.6h0.8v0.8h-0.8zM12.1 19.0h0.8v0.8h-0.8zM14.2 17.4h0.8v0.8h-0.8zM4.5 8.6h0.8v0.8h-0.8zM10.0 6.7h0.8v0.8h-0.8zM6.6 16.9h0.8v0.8h-0.8zM8.2 15.0h0.8v0.8h-0.8zM10.7 16.4h0.8v0.8h-0.8zM10.0 5.3h0.8v0.8h-0.8zM12.8 21.3h0.8v0.8h-0.8z" fill="#111"/>
<path d="M8.7 8.3h0.8v0.8h-0.8zM4.4 7.3h0.8v0.8h-0.8zM6.2 5.2h0.8v0.8h-0.8zM7.8 6.4h0.8v0.8h-0.8zM7.0 8.9h0.8v0.8h-0.8zM7.8 0.7h0.8v0.8h-0.8zM5.7 5.0h0.8v0.8h-0.8zM8.6 2.9h0.8v0.8h-0.8zM6.3 14.5h0.8v0.8h-0.8zM6.6 4.7h0.8v0.8h-0.8zM6.1 7.3h0.8v0.8h-0.8zM7.3 8.2h0.8v0.8h-0.8zM7.6 4.0h0.8v0.8h-0.8zM1.7 2.9h0.8v0.8h-0.8zM6.1 9.1h0.8v0.8h-0.8zM5.9 15.1h0.8v0.8h-0.8zM6.1 8.2h0.8v0.8h-0.8zM8.8 8.7h0.8v0.8h-0.8zM7.9 5.8h0.8v0.8h-0.8zM6.9 4.2h0.8v0.8h-0.8zM10.0 6.7h0.8v0.8h-0.8zM6.6 10.3h0.8v0.8h-0.8zM3.8 6.7h0.8v0.8h-0.8zM0.1 9.8h0.8v0.8h-0.8zM8.9 8.1h0.8v0.8h-0.8zM6.3 0.2h0.8v0.8h-0.8zM8.3 5.0h0.8v0.8h-0.8zM2.9 12.8h0.8v0.8h-0.8zM0.5 3.6h0.8v0.8h-0.8zM9.7 11.3h0.8v0.8h-0.8zM6.4 11.9h0.8v0.8h-0.8zM8.2 4.4h0.8v0.8h-0.8zM9.3 10.9h0.8v0.8h-0.8zM7.3 9.1h0.8v0.8h-0.8zM9.4 7.2h0.8v0.8h-0.8zM12.6 5.4h0.8v0.8h-0.8zM7.6 9.3h0.8v0.8h-0.8zM6.6 5.3h0.8v0.8h-0.8zM7.4 8.2h0.8v0.8h-0.8zM10.3 2.2h0.8v0.8h-0.8zM8.2 5.0h0.8v0.8h-0.8zM6.7 11.5h0.8v0.8h-0.8zM8.2 7.8h0.8v0.8h-0.8zM13.3 2.1h0.8v0.8h-0.8zM5.1 9.1h0.8v0.8h-0.8zM2.0 2.6h0.8v0.8h-0.8zM3.5 5.7h0.8v0.8h-0.8zM4.3 2.8h0.8v0.8h-0.8zM5.8 10.2h0.8v0.8h-0.8zM3.5 7.9h0.8v0.8h-0.8zM8.2 7.2h0.8v0.8h-0.8zM9.8 8.0h0.8v0.8h-0.8zM12.7 6.1h0.8v0.8h-0.8zM12.2 16.7h0.8v0.8h-0.8zM8.2 5.9h0.8v0.8h-0.8zM6.5 9.6h0.8v0.8h-0.8zM3.1 7.8h0.8v0.8h-0.8zM7.2 11.2h0.8v0.8h-0.8zM4.9 7.0h0.8v0.8h-0.8zM5.7 6.0h0.8v0.8h-0.8zM4.8 7.9h0.8v0.8h-0.8zM8.6 10.8h0.8v0.8h-0.8zM7.6 3.5h0.8v0.8h-0.8zM7.6 8.9h0.8v0.8h-0.8zM8.7 4.2h0.8v0.8h-0.8zM6.0 10.6h0.8v0.8h-0.8zM8.6 10.8h0.8v0.8h-0.8zM11.1 7.6h0.8v0.8h-0.8zM7.2 10.3h0.8v0.8h-0.8zM7.4 7.1h0.8v0.8h-0.8zM4.4 11.3h0.8v0.8h-0.8zM3.1 2.7h0.8v0.8h-0.8zM7.6 4.0h0.8v0.8h-0.8zM6.8 4.9h0.8v0.8h-0.8zM7.6 1.2h0.8v0.8h-0.8zM11.0 7.9h0.8v0.8h-0.8zM5.6 8.7h0.8v0.8h-0.8zM7.7 9.4h0.8v0.8h-0.8zM8.4 1.2h0.8v0.8h-0.8zM4.7 5.1h0.8v0.8h-0.8zM6.2 9.6h0.8v0.8h-0.8zM9.1 9.0h0.8v0.8h-0.8zM3.6 2.5h0.8v0.8h-0.8zM6.6 0.5h0.8v0.8h-0.8zM2.5 5.0h0.8v0.8h-0.8zM3.7 3.9h0.8v0.8h-0.8zM6.6 5.9h0.8v0.8h-0.8zM8.2 7.8h0.8v0.8h-0.8zM4.1 9.5h0.8v0.8h-0.8zM10.0 9.4h0.8v0.8h-0.8zM4.7 5.1h0.8v0.8h-0.8zM8.1 5.7h0.8v0.8h-0.8zM2.6 15.5h0.8v0.8h-0.8zM6.4 9.6h0.8v0.8h-0.8zM8.8 8.5h0.8v0.8h-0.8zM4.3 5.7h0.8v0.8h-0.8zM2.9 5.5h0.8v0.8h-0.8zM6.4 6.0h0.8v0.8h-0.8zM10.0 4.5h0.8v0.8h-0.8zM7.1 0.8h0.8v0.8h-0.8zM7.6 5.4h0.8v0.8h-0.8zM3.3 10.2h0.8v0.8h-0.8zM1.9 6.6h0.8v0.8h-0.8zM2.7 9.4h0.8v0.8h-0.8zM4.8 9.5h0.8v0.8h-0.8zM4.5 4.6h0.8v0.8h-0.8zM4.6 10.0h0.8v0.8h-0.8zM4.7 9.3h0.8v0.8h-0.8zM4.0 10.3h0.8v0.8h-0.8zM8.1 9.8h0.8v0.8h-0.8zM5.0 4.7h0.8v0.8h-0.8zM7.0 4.7h0.8v0.8h-0.8zM3.6 8.3h0.8v0.8h-0.8zM4.9 10.8h0.8v0.8h-0.8zM11.4 2.9h0.8v0.8h-0.8zM10.0 11.3h0.8v0.8h-0.8zM4.3 4.5h0.8v0.8h-0.8zM7.0 9.9h0.8v0.8h-0.8zM5.1 8.0h0.8v0.8h-0.8zM10.4 2.3h0.8v0.8h-0.8zM7.5 7.1h0.8v0.8h-0.8zM10.1 14.7h0.8v0.8h-0.8zM4.6 6.1h0.8v0.8h-0.8zM5.9 2.9h0.8v0.8h-0.8zM5.6 0.5h0.8v0.8h-0.8zM6.6 10.1h0.8v0.8h-0.8zM2.9 0.0h0.8v0.8h-0.8zM2.9 6.4h0.8v0.8h-0.8zM5.9 7.4h0.8v0.8h-0.8zM9.0 4.8h0.8v0.8h-0.8zM6.8 8.7h0.8v0.8h-0.8zM1.9 9.6h0.8v0.8h-0.8zM8.9 2.1h0.8v0.8h-0.8zM10.2 6.1h0.8v0.8h-0.8zM6.2 9.6h0.8v0.8h-0.8zM3.7 5.7h0.8v0.8h-0.8zM7.8 15.4h0.8v0.8h-0.8zM8.0 8.2h0.8v0.8h-0.8zM7.5 11.1h0.8v0.8h-0.8zM6.1 5.0h0.8v0.8h-0.8zM7.5 12.5h0.8v0.8h-0.8zM9.0 5.2h0.8v0.8h-0.8zM9.4 4.8h0.8v0.8h-0.8zM4.4 7.7h0.8v0.8h-0.8zM6.7 10.6h0.8v0.8h-0.8zM9.8 4.9h0.8v0.8h-0.8zM6.5 0.4h0.8v0.8h-0.8zM7.8 4.9h0.8v0.8h-0.8zM6.7 8.0h0.8v0.8h-0.8zM5.7 5.7h0.8v0.8h-0.8zM7.4 1.1h0.8v0.8h-0.8zM9.1 12.7h0.8v0.8h-0.8zM5.1 11.0h0.8v0.8h-0.8zM6.9 6.6h0.8v0.8h-0.8zM6.7 9.9h0.8v0.8h-0.8zM9.3 1.2h0.8v0.8h-0.8zM5.2 7.8h0.8v0.8h-0.8zM7.5 4.8h0.8v0.8h-0.8z" fill="#111"/>
<path d="M15.2 25.4h0.8v0.8h-0.8zM19.2 25.7h0.8v0.8h-0.8zM17.2 26.8h0.8v0.8h-0.8zM17.0 27.6h0.8v0.8h-0.8zM18.0 24.4h0.8v0.8h-0.8zM20.3 28.3h0.8v0.8h-0.8zM17.0 25.3h0.8v0.8h-0.8zM17.2 27.3h0.8v0.8h-0.8zM19.2 30.4h0.8v0.8h-0.8zM20.3 28.5h0.8v0.8h-0.8zM19.9 26.2h0.8v0.8h-0.8zM18.0 27.4h0.8v0.8h-0.8zM22.2 29.4h0.8v0.8h-0.8zM20.6 29.5h0.8v0.8h-0.8zM17.3 27.1h0.8v0.8h-0.8zM17.7 29.9h0.8v0.8h-0.8zM18.2 27.7h0.8v0.8h-0.8zM17.4 30.2h0.8v0.8h-0.8zM17.7 27.3h0.8v0.8h-0.8zM17.0 27.7h0.8v0.8h-0.8zM19.9 28.5h0.8v0.8h-0.8zM19.6 25.7h0.8v0.8h-0.8zM18.4 29.7h0.8v0.8h-0.8zM19.1 28.6h0.8v0.8h-0.8zM18.7 29.6h0.8v0.8h-0.8zM18.3 28.5h0.8v0.8h-0.8zM19.5 26.3h0.8v0.8h-0.8zM21.7 28.3h0.8v0.8h-0.8zM21.2 29.7h0.8v0.8h-0.8zM16.8 28.7h0.8v0.8h-0.8zM16.6 30.6h0.8v0.8h-0.8zM18.7 28.9h0.8v0.8h-0.8zM16.2 27.3h0.8v0.8h-0.8zM19.2 30.1h0.8v0.8h-0.8zM18.8 27.2h0.8v0.8h-0.8zM19.9 26.8h0.8v0.8h-0.8zM17.4 28.0h0.8v0.8h-0.8zM19.5 25.8h0.8v0.8h-0.8zM17.5 28.9h0.8v0.8h-0.8zM19.2 26.6h0.8v0.8h-0.8z" fill="#111"/>
<ellipse cx="9.10" cy="28.72" rx="11.37" ry="7.01" fill="url(#halo4)" opacity="1.0" transform="rotate(-8 9.10 28.72)"/>
<path d="M11.0 34.5h0.8v0.8h-0.8zM16.5 22.3h0.8v0.8h-0.8zM12.1 21.1h0.8v0.8h-0.8zM-1.2 33.4h0.8v0.8h-0.8zM1.2 25.3h0.8v0.8h-0.8zM3.5 34.7h0.8v0.8h-0.8zM5.3 35.0h0.8v0.8h-0.8zM3.3 35.8h0.8v0.8h-0.8zM19.6 29.5h0.8v0.8h-0.8zM9.0 21.4h0.8v0.8h-0.8zM20.7 28.7h0.8v0.8h-0.8zM5.5 35.7h0.8v0.8h-0.8zM-1.3 26.2h0.8v0.8h-0.8zM18.6 23.8h0.8v0.8h-0.8zM15.7 33.2h0.8v0.8h-0.8zM7.6 34.9h0.8v0.8h-0.8zM10.0 35.0h0.8v0.8h-0.8zM20.0 26.2h0.8v0.8h-0.8zM16.9 22.3h0.8v0.8h-0.8zM15.6 22.2h0.8v0.8h-0.8zM3.4 34.7h0.8v0.8h-0.8zM-0.5 33.8h0.8v0.8h-0.8zM6.6 35.6h0.8v0.8h-0.8zM10.5 22.5h0.8v0.8h-0.8zM2.9 24.6h0.8v0.8h-0.8zM9.7 35.7h0.8v0.8h-0.8zM2.9 22.7h0.8v0.8h-0.8zM1.6 23.6h0.8v0.8h-0.8zM11.0 22.3h0.8v0.8h-0.8zM18.5 26.4h0.8v0.8h-0.8zM7.6 22.3h0.8v0.8h-0.8zM10.9 35.0h0.8v0.8h-0.8zM6.8 21.6h0.8v0.8h-0.8zM-2.4 31.6h0.8v0.8h-0.8zM4.3 35.9h0.8v0.8h-0.8zM19.3 24.6h0.8v0.8h-0.8zM2.9 34.4h0.8v0.8h-0.8zM17.5 33.1h0.8v0.8h-0.8zM12.8 22.5h0.8v0.8h-0.8zM17.2 33.5h0.8v0.8h-0.8zM13.3 22.1h0.8v0.8h-0.8zM20.8 27.9h0.8v0.8h-0.8zM10.0 35.4h0.8v0.8h-0.8zM14.7 34.7h0.8v0.8h-0.8zM1.2 25.9h0.8v0.8h-0.8zM3.5 23.9h0.8v0.8h-0.8zM9.5 22.3h0.8v0.8h-0.8zM-2.1 28.6h0.8v0.8h-0.8zM3.6 34.4h0.8v0.8h-0.8zM2.7 33.9h0.8v0.8h-0.8zM12.9 22.3h0.8v0.8h-0.8zM19.9 27.5h0.8v0.8h-0.8zM-0.9 32.9h0.8v0.8h-0.8zM-0.0 31.7h0.8v0.8h-0.8zM21.2 27.2h0.8v0.8h-0.8zM-0.4 26.6h0.8v0.8h-0.8zM11.9 35.4h0.8v0.8h-0.8zM12.6 21.8h0.8v0.8h-0.8zM12.7 34.5h0.8v0.8h-0.8zM14.9 22.6h0.8v0.8h-0.8zM3.3 24.4h0.8v0.8h-0.8zM-1.6 26.5h0.8v0.8h-0.8zM16.0 22.2h0.8v0.8h-0.8zM2.3 34.3h0.8v0.8h-0.8zM-1.5 30.6h0.8v0.8h-0.8zM1.0 25.1h0.8v0.8h-0.8zM19.3 23.8h0.8v0.8h-0.8zM-1.1 32.7h0.8v0.8h-0.8zM18.1 22.9h0.8v0.8h-0.8zM-0.6 32.0h0.8v0.8h-0.8zM18.8 27.7h0.8v0.8h-0.8zM-0.8 30.3h0.8v0.8h-0.8zM-2.1 32.0h0.8v0.8h-0.8zM5.9 35.5h0.8v0.8h-0.8zM18.9 25.1h0.8v0.8h-0.8zM12.4 21.2h0.8v0.8h-0.8zM6.7 35.1h0.8v0.8h-0.8zM8.9 21.9h0.8v0.8h-0.8zM10.6 35.0h0.8v0.8h-0.8zM2.4 24.2h0.8v0.8h-0.8z" fill="#111"/>
<ellipse cx="10.23" cy="30.73" rx="7.73" ry="4.77" fill="url(#light)" transform="rotate(-8 10.23 30.73)"/>
</g></svg>
<rect x="213.7" y="175.5" width="37.9" height="33.4" fill="none" stroke="#b0b0b0" stroke-width="0.85"/>
<line x1="229.23899999999998" y1="175.5" x2="229.23899999999998" y2="208.9" stroke="#b0b0b0" stroke-width="0.8"/>
<line x1="213.7" y1="191.198" x2="251.6" y2="191.198" stroke="#b0b0b0" stroke-width="0.8"/>
<rect x="214.5" y="176.5" width="1.4" height="0.8" fill="#555"/>
<rect x="214.5" y="178.7" width="3" height="0.7" fill="#888"/>
<rect x="230.0" y="176.5" width="1.4" height="0.8" fill="#555"/>
<rect x="230.0" y="178.7" width="3" height="0.7" fill="#888"/>
<rect x="214.5" y="192.2" width="1.4" height="0.8" fill="#555"/>
<rect x="214.5" y="194.4" width="3" height="0.7" fill="#888"/>
<rect x="230.0" y="192.2" width="1.4" height="0.8" fill="#555"/>
<rect x="230.0" y="194.4" width="3" height="0.7" fill="#888"/>
<text x="68.3" y="222.6" font-size="5" text-anchor="start" fill="#333">0.8</text>
<text x="105.60000000000001" y="222.6" font-size="5" text-anchor="end" fill="#333">0.2</text>
<svg x="68.0" y="224.2" width="37.9" height="34.0" viewBox="0 0 37.9 34.0" overflow="hidden"><g filter="url(#soft)">
<path d="M12.1 18.3h0.8v0.8h-0.8zM3.7 8.2h0.8v0.8h-0.8zM22.0 14.7h0.8v0.8h-0.8zM5.6 9.3h0.8v0.8h-0.8zM20.4 10.9h0.8v0.8h-0.8zM3.6 18.6h0.8v0.8h-0.8zM5.6 14.3h0.8v0.8h-0.8zM15.2 11.2h0.8v0.8h-0.8zM22.0 6.4h0.8v0.8h-0.8zM15.0 5.3h0.8v0.8h-0.8zM22.1 5.9h0.8v0.8h-0.8zM13.1 17.6h0.8v0.8h-0.8zM20.4 5.1h0.8v0.8h-0.8zM20.3 17.7h0.8v0.8h-0.8zM9.3 16.3h0.8v0.8h-0.8zM7.5 6.0h0.8v0.8h-0.8zM6.2 8.6h0.8v0.8h-0.8zM19.3 11.3h0.8v0.8h-0.8zM22.5 18.6h0.8v0.8h-0.8zM7.2 10.8h0.8v0.8h-0.8zM4.3 13.3h0.8v0.8h-0.8zM15.0 13.4h0.8v0.8h-0.8zM4.8 13.8h0.8v0.8h-0.8zM5.2 17.7h0.8v0.8h-0.8zM12.1 5.1h0.8v0.8h-0.8zM22.3 19.4h0.8v0.8h-0.8zM9.6 19.2h0.8v0.8h-0.8zM8.6 12.5h0.8v0.8h-0.8zM14.3 16.8h0.8v0.8h-0.8zM4.4 4.0h0.8v0.8h-0.8zM6.0 9.9h0.8v0.8h-0.8zM18.7 15.7h0.8v0.8h-0.8zM5.2 15.9h0.8v0.8h-0.8zM6.8 3.7h0.8v0.8h-0.8zM12.5 18.9h0.8v0.8h-0.8zM20.9 10.9h0.8v0.8h-0.8zM18.8 6.7h0.8v0.8h-0.8zM6.2 19.7h0.8v0.8h-0.8zM16.3 6.3h0.8v0.8h-0.8zM9.7 16.5h0.8v0.8h-0.8z" fill="#333"/>
<ellipse cx="21.22" cy="28.90" rx="4.93" ry="4.08" fill="url(#halo2)" opacity="1.0" transform="rotate(0 21.22 28.90)"/>
<path d="M24.4 29.9h0.8v0.8h-0.8zM22.4 26.1h0.8v0.8h-0.8zM17.7 30.5h0.8v0.8h-0.8zM17.5 29.4h0.8v0.8h-0.8zM21.3 33.0h0.8v0.8h-0.8zM21.5 24.5h0.8v0.8h-0.8zM24.5 29.6h0.8v0.8h-0.8zM23.5 26.4h0.8v0.8h-0.8zM22.2 25.9h0.8v0.8h-0.8zM17.6 31.3h0.8v0.8h-0.8zM17.4 30.5h0.8v0.8h-0.8zM26.2 29.8h0.8v0.8h-0.8zM18.6 26.9h0.8v0.8h-0.8zM16.8 29.5h0.8v0.8h-0.8zM24.0 27.9h0.8v0.8h-0.8zM25.2 27.3h0.8v0.8h-0.8zM25.0 29.7h0.8v0.8h-0.8zM20.7 26.3h0.8v0.8h-0.8zM17.5 27.0h0.8v0.8h-0.8zM18.5 27.8h0.8v0.8h-0.8zM26.5 29.4h0.8v0.8h-0.8zM23.0 31.3h0.8v0.8h-0.8zM18.5 27.9h0.8v0.8h-0.8zM20.7 24.9h0.8v0.8h-0.8zM18.9 32.0h0.8v0.8h-0.8zM16.6 29.3h0.8v0.8h-0.8zM22.6 31.1h0.8v0.8h-0.8zM25.6 31.3h0.8v0.8h-0.8zM24.8 28.6h0.8v0.8h-0.8zM20.8 26.0h0.8v0.8h-0.8zM18.0 27.0h0.8v0.8h-0.8zM16.4 27.3h0.8v0.8h-0.8zM24.9 25.8h0.8v0.8h-0.8zM23.2 25.9h0.8v0.8h-0.8zM22.8 32.8h0.8v0.8h-0.8zM19.2 26.7h0.8v0.8h-0.8zM18.8 30.5h0.8v0.8h-0.8zM22.1 24.6h0.8v0.8h-0.8zM25.7 29.1h0.8v0.8h-0.8zM25.3 26.3h0.8v0.8h-0.8zM20.8 26.2h0.8v0.8h-0.8zM17.7 27.7h0.8v0.8h-0.8zM17.9 27.4h0.8v0.8h-0.8zM22.3 32.5h0.8v0.8h-0.8zM23.7 30.7h0.8v0.8h-0.8zM17.7 26.2h0.8v0.8h-0.8zM23.5 30.7h0.8v0.8h-0.8zM18.4 30.1h0.8v0.8h-0.8zM24.7 27.8h0.8v0.8h-0.8zM25.4 29.2h0.8v0.8h-0.8z" fill="#111"/>
<ellipse cx="21.22" cy="28.90" rx="1.48" ry="1.22" fill="url(#light2)" transform="rotate(0 21.22 28.90)"/>
<ellipse cx="9.47" cy="29.24" rx="11.37" ry="7.14" fill="url(#halo4)" opacity="1.0" transform="rotate(-8 9.47 29.24)"/>
<path d="M-1.1 29.1h0.8v0.8h-0.8zM0.4 27.7h0.8v0.8h-0.8zM16.4 34.2h0.8v0.8h-0.8zM20.1 29.2h0.8v0.8h-0.8zM11.3 36.3h0.8v0.8h-0.8zM-1.7 29.8h0.8v0.8h-0.8zM7.2 36.2h0.8v0.8h-0.8zM-1.0 32.0h0.8v0.8h-0.8zM0.4 26.2h0.8v0.8h-0.8zM9.0 22.5h0.8v0.8h-0.8zM11.7 35.1h0.8v0.8h-0.8zM18.5 30.6h0.8v0.8h-0.8zM19.8 31.5h0.8v0.8h-0.8zM2.6 24.9h0.8v0.8h-0.8zM14.1 23.0h0.8v0.8h-0.8zM0.7 34.6h0.8v0.8h-0.8zM13.7 35.1h0.8v0.8h-0.8zM6.9 36.5h0.8v0.8h-0.8zM15.4 34.4h0.8v0.8h-0.8zM6.3 22.6h0.8v0.8h-0.8zM19.4 25.9h0.8v0.8h-0.8zM0.1 27.7h0.8v0.8h-0.8zM5.1 36.4h0.8v0.8h-0.8zM19.1 25.7h0.8v0.8h-0.8zM19.0 32.4h0.8v0.8h-0.8zM18.8 31.3h0.8v0.8h-0.8zM20.3 30.2h0.8v0.8h-0.8zM9.8 22.9h0.8v0.8h-0.8zM7.1 23.0h0.8v0.8h-0.8zM-0.1 33.6h0.8v0.8h-0.8zM-1.6 30.6h0.8v0.8h-0.8zM5.4 36.0h0.8v0.8h-0.8zM16.6 24.1h0.8v0.8h-0.8zM-0.5 31.7h0.8v0.8h-0.8zM4.9 35.4h0.8v0.8h-0.8zM12.0 22.3h0.8v0.8h-0.8zM21.0 29.5h0.8v0.8h-0.8zM0.5 32.9h0.8v0.8h-0.8zM0.5 27.2h0.8v0.8h-0.8zM-1.8 28.8h0.8v0.8h-0.8zM2.0 34.4h0.8v0.8h-0.8zM2.1 34.2h0.8v0.8h-0.8zM3.8 24.2h0.8v0.8h-0.8zM14.0 35.8h0.8v0.8h-0.8zM15.1 23.4h0.8v0.8h-0.8zM2.6 25.2h0.8v0.8h-0.8zM8.9 36.0h0.8v0.8h-0.8zM18.5 30.7h0.8v0.8h-0.8zM13.0 22.6h0.8v0.8h-0.8zM4.8 35.3h0.8v0.8h-0.8zM17.0 22.9h0.8v0.8h-0.8zM20.0 32.1h0.8v0.8h-0.8zM10.8 35.3h0.8v0.8h-0.8zM1.2 34.8h0.8v0.8h-0.8zM19.6 29.0h0.8v0.8h-0.8zM10.5 36.0h0.8v0.8h-0.8zM12.3 36.1h0.8v0.8h-0.8zM12.2 21.8h0.8v0.8h-0.8zM20.1 30.0h0.8v0.8h-0.8zM15.3 22.9h0.8v0.8h-0.8zM-2.3 29.5h0.8v0.8h-0.8zM7.6 23.1h0.8v0.8h-0.8zM17.2 34.3h0.8v0.8h-0.8zM7.0 36.3h0.8v0.8h-0.8zM2.9 24.5h0.8v0.8h-0.8zM-2.0 28.4h0.8v0.8h-0.8zM-0.8 28.1h0.8v0.8h-0.8zM10.8 36.3h0.8v0.8h-0.8zM14.2 35.7h0.8v0.8h-0.8zM8.9 21.8h0.8v0.8h-0.8zM-1.6 27.3h0.8v0.8h-0.8zM12.3 36.5h0.8v0.8h-0.8zM17.6 23.5h0.8v0.8h-0.8zM19.5 29.9h0.8v0.8h-0.8zM12.6 35.8h0.8v0.8h-0.8zM-2.1 31.0h0.8v0.8h-0.8zM-1.0 28.5h0.8v0.8h-0.8zM12.9 35.8h0.8v0.8h-0.8zM-1.5 30.7h0.8v0.8h-0.8zM-0.3 30.5h0.8v0.8h-0.8z" fill="#111"/>
<ellipse cx="10.61" cy="31.28" rx="7.73" ry="4.86" fill="url(#light)" transform="rotate(-8 10.61 31.28)"/>
</g></svg>
<rect x="68.0" y="224.2" width="37.9" height="34.0" fill="none" stroke="#b0b0b0" stroke-width="0.85"/>
<line x1="83.539" y1="224.2" x2="83.539" y2="258.2" stroke="#b0b0b0" stroke-width="0.8"/>
<line x1="68.0" y1="239.67" x2="105.9" y2="239.67" stroke="#b0b0b0" stroke-width="0.8"/>
<rect x="68.8" y="225.2" width="1.4" height="0.8" fill="#555"/>
<rect x="68.8" y="227.4" width="3" height="0.7" fill="#888"/>
<rect x="84.3" y="225.2" width="1.4" height="0.8" fill="#555"/>
<rect x="84.3" y="227.4" width="3" height="0.7" fill="#888"/>
<rect x="68.8" y="240.7" width="1.4" height="0.8" fill="#555"/>
<rect x="68.8" y="242.9" width="3" height="0.7" fill="#888"/>
<rect x="84.3" y="240.7" width="1.4" height="0.8" fill="#555"/>
<rect x="84.3" y="242.9" width="3" height="0.7" fill="#888"/>
<text x="115.5" y="222.6" font-size="5" text-anchor="start" fill="#333">3.5</text>
<text x="152.79999999999998" y="222.6" font-size="5" text-anchor="end" fill="#333">0.1</text>
<svg x="115.2" y="224.2" width="37.9" height="34.0" viewBox="0 0 37.9 34.0" overflow="hidden"><g filter="url(#soft)">
<path d="M9.2 12.0h0.8v0.8h-0.8zM10.1 17.9h0.8v0.8h-0.8zM7.3 16.1h0.8v0.8h-0.8zM11.5 10.4h0.8v0.8h-0.8zM11.6 18.9h0.8v0.8h-0.8zM6.7 5.2h0.8v0.8h-0.8zM10.7 14.6h0.8v0.8h-0.8zM17.7 18.4h0.8v0.8h-0.8zM13.9 22.1h0.8v0.8h-0.8zM14.9 19.0h0.8v0.8h-0.8zM10.2 4.3h0.8v0.8h-0.8zM16.4 21.4h0.8v0.8h-0.8zM9.8 13.7h0.8v0.8h-0.8zM14.7 17.5h0.8v0.8h-0.8zM5.6 4.4h0.8v0.8h-0.8zM8.8 15.5h0.8v0.8h-0.8zM7.8 6.4h0.8v0.8h-0.8zM8.1 18.2h0.8v0.8h-0.8zM13.2 10.9h0.8v0.8h-0.8zM9.1 10.2h0.8v0.8h-0.8zM9.5 1.1h0.8v0.8h-0.8zM15.2 19.1h0.8v0.8h-0.8zM9.8 4.0h0.8v0.8h-0.8zM10.1 15.3h0.8v0.8h-0.8zM15.0 18.1h0.8v0.8h-0.8zM9.1 7.9h0.8v0.8h-0.8zM2.7 13.0h0.8v0.8h-0.8zM9.1 12.3h0.8v0.8h-0.8zM10.0 7.5h0.8v0.8h-0.8zM9.7 23.2h0.8v0.8h-0.8zM12.0 15.2h0.8v0.8h-0.8zM8.8 7.2h0.8v0.8h-0.8zM13.3 16.1h0.8v0.8h-0.8zM12.0 15.5h0.8v0.8h-0.8zM7.1 6.9h0.8v0.8h-0.8zM11.0 18.9h0.8v0.8h-0.8zM3.5 13.6h0.8v0.8h-0.8zM13.8 18.7h0.8v0.8h-0.8zM14.4 12.9h0.8v0.8h-0.8zM9.2 11.6h0.8v0.8h-0.8zM12.2 15.6h0.8v0.8h-0.8zM8.1 11.5h0.8v0.8h-0.8zM16.7 13.2h0.8v0.8h-0.8zM11.4 13.1h0.8v0.8h-0.8zM13.6 10.3h0.8v0.8h-0.8zM6.2 7.8h0.8v0.8h-0.8zM11.9 16.0h0.8v0.8h-0.8zM8.4 11.6h0.8v0.8h-0.8zM6.3 7.3h0.8v0.8h-0.8zM14.6 10.9h0.8v0.8h-0.8zM8.1 1.6h0.8v0.8h-0.8zM16.3 16.8h0.8v0.8h-0.8zM8.2 5.4h0.8v0.8h-0.8zM11.4 14.5h0.8v0.8h-0.8zM9.8 5.8h0.8v0.8h-0.8zM5.1 4.2h0.8v0.8h-0.8zM6.9 2.8h0.8v0.8h-0.8zM6.3 0.7h0.8v0.8h-0.8zM10.3 13.3h0.8v0.8h-0.8zM9.7 11.5h0.8v0.8h-0.8zM10.3 12.2h0.8v0.8h-0.8zM2.8 7.5h0.8v0.8h-0.8zM14.4 15.7h0.8v0.8h-0.8zM14.0 17.7h0.8v0.8h-0.8zM11.6 13.2h0.8v0.8h-0.8zM14.8 18.8h0.8v0.8h-0.8zM9.8 8.9h0.8v0.8h-0.8zM11.4 9.2h0.8v0.8h-0.8zM10.3 8.3h0.8v0.8h-0.8zM14.9 23.1h0.8v0.8h-0.8zM17.1 18.1h0.8v0.8h-0.8zM19.4 16.2h0.8v0.8h-0.8zM10.8 5.4h0.8v0.8h-0.8zM11.5 14.4h0.8v0.8h-0.8zM4.4 11.2h0.8v0.8h-0.8zM9.8 15.9h0.8v0.8h-0.8zM9.8 16.7h0.8v0.8h-0.8zM13.7 23.8h0.8v0.8h-0.8zM10.5 16.7h0.8v0.8h-0.8zM11.1 17.2h0.8v0.8h-0.8zM13.0 19.6h0.8v0.8h-0.8zM15.3 18.4h0.8v0.8h-0.8zM5.0 9.9h0.8v0.8h-0.8zM4.6 2.9h0.8v0.8h-0.8zM8.3 22.8h0.8v0.8h-0.8zM9.2 11.2h0.8v0.8h-0.8zM6.7 9.7h0.8v0.8h-0.8zM6.2 7.5h0.8v0.8h-0.8zM15.7 12.6h0.8v0.8h-0.8zM15.4 14.2h0.8v0.8h-0.8zM10.2 15.1h0.8v0.8h-0.8zM17.3 16.7h0.8v0.8h-0.8zM14.3 10.2h0.8v0.8h-0.8zM14.2 20.2h0.8v0.8h-0.8zM11.3 19.1h0.8v0.8h-0.8zM9.4 12.0h0.8v0.8h-0.8zM10.2 13.9h0.8v0.8h-0.8zM18.1 17.1h0.8v0.8h-0.8zM8.1 15.0h0.8v0.8h-0.8zM14.6 8.9h0.8v0.8h-0.8zM10.4 19.0h0.8v0.8h-0.8zM11.3 17.2h0.8v0.8h-0.8zM14.0 22.7h0.8v0.8h-0.8zM12.7 14.0h0.8v0.8h-0.8zM7.6 5.9h0.8v0.8h-0.8zM12.1 21.9h0.8v0.8h-0.8zM14.2 17.3h0.8v0.8h-0.8zM15.7 22.6h0.8v0.8h-0.8zM4.7 4.2h0.8v0.8h-0.8zM14.8 11.8h0.8v0.8h-0.8zM17.9 18.9h0.8v0.8h-0.8zM10.3 9.9h0.8v0.8h-0.8zM12.5 7.9h0.8v0.8h-0.8zM4.1 8.0h0.8v0.8h-0.8zM8.1 9.3h0.8v0.8h-0.8zM8.0 13.9h0.8v0.8h-0.8zM8.4 14.2h0.8v0.8h-0.8zM13.1 17.9h0.8v0.8h-0.8zM8.8 14.3h0.8v0.8h-0.8zM17.8 17.2h0.8v0.8h-0.8zM14.0 21.9h0.8v0.8h-0.8zM6.1 7.8h0.8v0.8h-0.8zM4.6 13.1h0.8v0.8h-0.8zM12.8 11.1h0.8v0.8h-0.8zM10.5 14.0h0.8v0.8h-0.8zM11.1 18.2h0.8v0.8h-0.8zM10.0 9.4h0.8v0.8h-0.8zM13.7 15.3h0.8v0.8h-0.8zM4.0 5.0h0.8v0.8h-0.8zM12.8 5.8h0.8v0.8h-0.8zM7.8 6.0h0.8v0.8h-0.8zM6.0 10.5h0.8v0.8h-0.8zM11.1 23.1h0.8v0.8h-0.8zM5.7 4.2h0.8v0.8h-0.8zM3.6 8.7h0.8v0.8h-0.8zM12.0 11.9h0.8v0.8h-0.8zM7.7 13.7h0.8v0.8h-0.8zM12.5 17.8h0.8v0.8h-0.8zM9.8 9.9h0.8v0.8h-0.8zM10.0 11.2h0.8v0.8h-0.8zM10.7 7.7h0.8v0.8h-0.8zM10.7 14.9h0.8v0.8h-0.8zM4.0 6.6h0.8v0.8h-0.8zM8.6 12.1h0.8v0.8h-0.8zM10.8 9.3h0.8v0.8h-0.8zM3.4 5.5h0.8v0.8h-0.8zM12.0 15.3h0.8v0.8h-0.8zM4.7 0.5h0.8v0.8h-0.8zM14.3 14.8h0.8v0.8h-0.8zM7.9 10.6h0.8v0.8h-0.8zM13.8 17.3h0.8v0.8h-0.8zM10.3 13.1h0.8v0.8h-0.8zM19.1 13.8h0.8v0.8h-0.8zM14.9 20.5h0.8v0.8h-0.8zM7.9 7.0h0.8v0.8h-0.8zM5.0 4.9h0.8v0.8h-0.8zM15.9 19.5h0.8v0.8h-0.8zM10.4 22.4h0.8v0.8h-0.8zM9.5 5.3h0.8v0.8h-0.8zM7.6 8.1h0.8v0.8h-0.8zM2.5 5.2h0.8v0.8h-0.8zM12.0 20.7h0.8v0.8h-0.8zM13.8 9.2h0.8v0.8h-0.8zM11.4 20.0h0.8v0.8h-0.8zM9.8 13.8h0.8v0.8h-0.8zM17.3 17.1h0.8v0.8h-0.8zM3.7 8.3h0.8v0.8h-0.8zM10.9 20.2h0.8v0.8h-0.8zM8.2 6.0h0.8v0.8h-0.8zM12.6 19.5h0.8v0.8h-0.8zM10.5 17.8h0.8v0.8h-0.8zM16.6 18.9h0.8v0.8h-0.8zM14.6 16.4h0.8v0.8h-0.8zM12.0 13.0h0.8v0.8h-0.8zM12.4 11.4h0.8v0.8h-0.8zM11.8 12.9h0.8v0.8h-0.8zM15.4 13.5h0.8v0.8h-0.8zM13.6 9.7h0.8v0.8h-0.8zM11.0 14.8h0.8v0.8h-0.8zM13.3 14.2h0.8v0.8h-0.8zM14.1 24.5h0.8v0.8h-0.8zM10.5 19.5h0.8v0.8h-0.8zM13.0 17.0h0.8v0.8h-0.8zM13.4 19.4h0.8v0.8h-0.8zM13.9 13.1h0.8v0.8h-0.8zM13.7 16.0h0.8v0.8h-0.8zM12.7 12.5h0.8v0.8h-0.8zM11.0 7.5h0.8v0.8h-0.8zM9.0 19.1h0.8v0.8h-0.8zM10.2 17.0h0.8v0.8h-0.8zM11.7 23.4h0.8v0.8h-0.8zM12.8 13.7h0.8v0.8h-0.8zM10.0 14.3h0.8v0.8h-0.8zM1.9 2.8h0.8v0.8h-0.8zM7.8 15.3h0.8v0.8h-0.8zM6.0 5.2h0.8v0.8h-0.8zM12.6 9.1h0.8v0.8h-0.8zM9.2 15.5h0.8v0.8h-0.8zM5.9 5.3h0.8v0.8h-0.8zM5.5 5.4h0.8v0.8h-0.8zM9.4 10.2h0.8v0.8h-0.8zM10.2 19.4h0.8v0.8h-0.8zM7.7 7.5h0.8v0.8h-0.8zM8.0 14.1h0.8v0.8h-0.8zM10.8 16.4h0.8v0.8h-0.8zM12.6 8.7h0.8v0.8h-0.8zM9.2 13.1h0.8v0.8h-0.8zM13.4 17.1h0.8v0.8h-0.8zM7.5 3.7h0.8v0.8h-0.8zM8.1 11.1h0.8v0.8h-0.8zM9.3 7.8h0.8v0.8h-0.8zM9.0 18.9h0.8v0.8h-0.8zM7.3 7.4h0.8v0.8h-0.8zM8.5 13.7h0.8v0.8h-0.8zM14.0 16.9h0.8v0.8h-0.8zM7.7 7.4h0.8v0.8h-0.8zM10.2 5.8h0.8v0.8h-0.8zM8.7 23.2h0.8v0.8h-0.8zM9.9 15.1h0.8v0.8h-0.8zM14.9 21.6h0.8v0.8h-0.8zM15.6 20.7h0.8v0.8h-0.8zM15.5 18.2h0.8v0.8h-0.8zM12.3 22.7h0.8v0.8h-0.8zM9.4 12.5h0.8v0.8h-0.8zM12.8 15.1h0.8v0.8h-0.8zM3.9 4.0h0.8v0.8h-0.8zM13.1 19.3h0.8v0.8h-0.8zM6.0 10.7h0.8v0.8h-0.8zM7.8 17.0h0.8v0.8h-0.8zM6.6 8.7h0.8v0.8h-0.8zM8.1 9.8h0.8v0.8h-0.8zM13.3 11.1h0.8v0.8h-0.8zM8.7 6.5h0.8v0.8h-0.8zM13.6 16.9h0.8v0.8h-0.8zM9.7 13.1h0.8v0.8h-0.8zM14.0 13.6h0.8v0.8h-0.8zM4.5 9.8h0.8v0.8h-0.8zM12.2 15.1h0.8v0.8h-0.8zM3.4 7.0h0.8v0.8h-0.8zM9.2 4.0h0.8v0.8h-0.8zM16.0 18.5h0.8v0.8h-0.8zM9.7 6.4h0.8v0.8h-0.8zM9.6 7.8h0.8v0.8h-0.8zM5.1 14.0h0.8v0.8h-0.8zM4.6 6.0h0.8v0.8h-0.8zM12.2 12.2h0.8v0.8h-0.8zM11.6 11.1h0.8v0.8h-0.8zM12.7 13.3h0.8v0.8h-0.8zM9.8 12.0h0.8v0.8h-0.8zM12.8 11.1h0.8v0.8h-0.8zM12.3 12.3h0.8v0.8h-0.8zM12.9 22.0h0.8v0.8h-0.8zM7.2 15.8h0.8v0.8h-0.8zM7.3 12.5h0.8v0.8h-0.8zM13.5 5.7h0.8v0.8h-0.8zM4.5 10.3h0.8v0.8h-0.8zM5.6 11.2h0.8v0.8h-0.8zM4.8 11.1h0.8v0.8h-0.8zM18.9 22.0h0.8v0.8h-0.8zM6.0 4.9h0.8v0.8h-0.8zM11.1 17.6h0.8v0.8h-0.8zM6.7 14.3h0.8v0.8h-0.8zM11.5 15.3h0.8v0.8h-0.8zM8.1 4.8h0.8v0.8h-0.8zM12.8 22.1h0.8v0.8h-0.8zM14.3 11.7h0.8v0.8h-0.8zM6.5 4.9h0.8v0.8h-0.8zM6.1 2.4h0.8v0.8h-0.8zM13.4 16.8h0.8v0.8h-0.8zM4.2 6.8h0.8v0.8h-0.8zM5.4 3.1h0.8v0.8h-0.8zM12.1 13.6h0.8v0.8h-0.8zM9.8 10.2h0.8v0.8h-0.8zM10.4 11.0h0.8v0.8h-0.8zM12.3 19.8h0.8v0.8h-0.8zM5.5 6.8h0.8v0.8h-0.8zM16.3 25.0h0.8v0.8h-0.8zM11.2 9.8h0.8v0.8h-0.8zM17.6 19.6h0.8v0.8h-0.8zM8.2 11.2h0.8v0.8h-0.8zM5.6 6.4h0.8v0.8h-0.8zM14.5 12.1h0.8v0.8h-0.8zM14.0 18.2h0.8v0.8h-0.8zM5.6 3.5h0.8v0.8h-0.8zM14.4 16.8h0.8v0.8h-0.8zM5.6 14.2h0.8v0.8h-0.8zM12.3 18.7h0.8v0.8h-0.8zM7.9 12.3h0.8v0.8h-0.8zM6.9 7.3h0.8v0.8h-0.8zM6.5 11.4h0.8v0.8h-0.8zM12.8 13.1h0.8v0.8h-0.8zM9.8 11.8h0.8v0.8h-0.8zM7.9 12.1h0.8v0.8h-0.8zM8.7 16.9h0.8v0.8h-0.8zM14.4 11.3h0.8v0.8h-0.8zM14.5 18.9h0.8v0.8h-0.8zM10.7 16.7h0.8v0.8h-0.8zM6.7 12.4h0.8v0.8h-0.8zM15.4 15.8h0.8v0.8h-0.8zM13.4 2.4h0.8v0.8h-0.8zM12.5 19.0h0.8v0.8h-0.8zM5.3 13.3h0.8v0.8h-0.8zM18.3 17.3h0.8v0.8h-0.8zM8.3 13.0h0.8v0.8h-0.8zM2.9 9.6h0.8v0.8h-0.8zM16.3 17.9h0.8v0.8h-0.8zM7.9 11.5h0.8v0.8h-0.8zM12.3 9.6h0.8v0.8h-0.8zM7.8 8.1h0.8v0.8h-0.8zM16.7 19.7h0.8v0.8h-0.8zM5.9 10.6h0.8v0.8h-0.8zM16.4 20.8h0.8v0.8h-0.8zM9.8 16.2h0.8v0.8h-0.8zM10.8 15.8h0.8v0.8h-0.8zM6.2 11.1h0.8v0.8h-0.8zM12.5 21.1h0.8v0.8h-0.8zM14.4 18.1h0.8v0.8h-0.8zM18.2 19.5h0.8v0.8h-0.8zM8.6 10.6h0.8v0.8h-0.8zM5.1 12.5h0.8v0.8h-0.8zM11.5 15.0h0.8v0.8h-0.8zM6.8 7.9h0.8v0.8h-0.8zM5.9 8.1h0.8v0.8h-0.8zM11.3 16.0h0.8v0.8h-0.8zM9.1 14.1h0.8v0.8h-0.8zM5.2 4.9h0.8v0.8h-0.8zM10.9 16.4h0.8v0.8h-0.8zM10.3 18.5h0.8v0.8h-0.8zM5.6 8.3h0.8v0.8h-0.8zM5.5 8.6h0.8v0.8h-0.8zM17.4 20.2h0.8v0.8h-0.8zM11.2 12.4h0.8v0.8h-0.8zM11.5 20.2h0.8v0.8h-0.8zM4.9 11.1h0.8v0.8h-0.8zM14.6 19.4h0.8v0.8h-0.8zM8.5 16.7h0.8v0.8h-0.8zM12.9 18.6h0.8v0.8h-0.8zM13.8 7.2h0.8v0.8h-0.8zM12.6 14.9h0.8v0.8h-0.8zM10.7 7.4h0.8v0.8h-0.8zM10.2 9.8h0.8v0.8h-0.8zM7.4 13.6h0.8v0.8h-0.8zM11.4 16.4h0.8v0.8h-0.8zM14.6 16.3h0.8v0.8h-0.8zM8.8 11.9h0.8v0.8h-0.8zM11.6 21.0h0.8v0.8h-0.8zM6.5 6.1h0.8v0.8h-0.8zM12.1 18.7h0.8v0.8h-0.8zM10.0 15.2h0.8v0.8h-0.8zM4.0 6.1h0.8v0.8h-0.8zM13.6 15.4h0.8v0.8h-0.8zM11.1 18.8h0.8v0.8h-0.8zM14.1 11.5h0.8v0.8h-0.8zM18.8 16.3h0.8v0.8h-0.8zM7.8 3.2h0.8v0.8h-0.8zM10.6 22.4h0.8v0.8h-0.8zM4.3 5.3h0.8v0.8h-0.8zM10.5 9.6h0.8v0.8h-0.8zM10.4 7.5h0.8v0.8h-0.8zM12.1 17.9h0.8v0.8h-0.8zM11.7 20.7h0.8v0.8h-0.8zM15.8 22.2h0.8v0.8h-0.8zM6.6 8.7h0.8v0.8h-0.8zM10.4 6.4h0.8v0.8h-0.8zM3.8 8.0h0.8v0.8h-0.8zM13.3 20.7h0.8v0.8h-0.8zM10.1 11.5h0.8v0.8h-0.8zM10.7 19.8h0.8v0.8h-0.8zM10.8 11.2h0.8v0.8h-0.8zM12.0 18.4h0.8v0.8h-0.8zM7.6 11.8h0.8v0.8h-0.8zM3.8 13.3h0.8v0.8h-0.8zM13.1 15.5h0.8v0.8h-0.8zM6.7 9.7h0.8v0.8h-0.8zM11.2 14.9h0.8v0.8h-0.8zM5.2 0.2h0.8v0.8h-0.8zM10.5 8.6h0.8v0.8h-0.8zM9.8 17.7h0.8v0.8h-0.8zM17.4 21.6h0.8v0.8h-0.8zM8.2 8.8h0.8v0.8h-0.8zM13.2 11.8h0.8v0.8h-0.8zM8.9 14.3h0.8v0.8h-0.8zM12.6 14.7h0.8v0.8h-0.8zM7.1 11.3h0.8v0.8h-0.8zM15.5 17.9h0.8v0.8h-0.8zM9.3 2.0h0.8v0.8h-0.8zM12.6 21.1h0.8v0.8h-0.8zM6.8 12.5h0.8v0.8h-0.8zM14.9 20.2h0.8v0.8h-0.8zM11.3 13.6h0.8v0.8h-0.8zM7.0 7.8h0.8v0.8h-0.8zM11.1 11.1h0.8v0.8h-0.8zM12.1 13.0h0.8v0.8h-0.8zM10.9 16.9h0.8v0.8h-0.8zM12.3 10.8h0.8v0.8h-0.8zM7.9 9.6h0.8v0.8h-0.8zM11.1 23.0h0.8v0.8h-0.8zM12.1 15.1h0.8v0.8h-0.8zM10.9 21.0h0.8v0.8h-0.8zM7.3 3.6h0.8v0.8h-0.8zM7.3 5.9h0.8v0.8h-0.8zM5.2 8.8h0.8v0.8h-0.8zM11.0 7.1h0.8v0.8h-0.8zM8.9 13.3h0.8v0.8h-0.8zM11.1 17.2h0.8v0.8h-0.8zM4.4 6.9h0.8v0.8h-0.8zM11.3 13.4h0.8v0.8h-0.8zM10.2 9.9h0.8v0.8h-0.8zM9.5 11.9h0.8v0.8h-0.8zM4.7 10.9h0.8v0.8h-0.8zM13.1 10.8h0.8v0.8h-0.8zM16.2 18.0h0.8v0.8h-0.8zM13.7 16.4h0.8v0.8h-0.8zM6.0 10.8h0.8v0.8h-0.8zM5.8 5.8h0.8v0.8h-0.8zM15.1 18.1h0.8v0.8h-0.8zM8.9 9.5h0.8v0.8h-0.8zM7.0 9.8h0.8v0.8h-0.8zM9.5 17.4h0.8v0.8h-0.8zM11.3 15.7h0.8v0.8h-0.8zM6.4 6.9h0.8v0.8h-0.8zM9.3 13.4h0.8v0.8h-0.8zM7.0 14.7h0.8v0.8h-0.8zM8.7 16.6h0.8v0.8h-0.8zM14.3 8.5h0.8v0.8h-0.8zM12.1 17.4h0.8v0.8h-0.8zM6.7 5.1h0.8v0.8h-0.8zM14.3 20.6h0.8v0.8h-0.8zM13.0 17.7h0.8v0.8h-0.8zM11.3 12.3h0.8v0.8h-0.8zM5.2 5.7h0.8v0.8h-0.8zM8.7 6.1h0.8v0.8h-0.8zM6.5 7.9h0.8v0.8h-0.8zM10.9 10.9h0.8v0.8h-0.8zM14.6 20.6h0.8v0.8h-0.8zM9.6 10.7h0.8v0.8h-0.8zM10.6 25.2h0.8v0.8h-0.8zM7.7 12.5h0.8v0.8h-0.8zM7.5 7.2h0.8v0.8h-0.8zM11.2 11.6h0.8v0.8h-0.8zM6.5 9.6h0.8v0.8h-0.8zM17.2 20.4h0.8v0.8h-0.8zM10.2 18.3h0.8v0.8h-0.8zM9.6 8.3h0.8v0.8h-0.8zM6.8 9.5h0.8v0.8h-0.8zM12.4 15.3h0.8v0.8h-0.8zM9.9 8.4h0.8v0.8h-0.8zM13.1 21.0h0.8v0.8h-0.8z" fill="#111"/>
<path d="M8.1 9.8h0.8v0.8h-0.8zM5.2 14.6h0.8v0.8h-0.8zM10.2 16.3h0.8v0.8h-0.8zM10.3 5.8h0.8v0.8h-0.8zM15.0 12.0h0.8v0.8h-0.8zM2.1 17.5h0.8v0.8h-0.8zM16.6 20.2h0.8v0.8h-0.8zM13.8 16.9h0.8v0.8h-0.8zM4.3 5.7h0.8v0.8h-0.8zM14.5 18.7h0.8v0.8h-0.8zM10.4 8.1h0.8v0.8h-0.8zM11.2 22.1h0.8v0.8h-0.8zM3.6 8.3h0.8v0.8h-0.8zM10.5 7.6h0.8v0.8h-0.8zM13.0 6.1h0.8v0.8h-0.8zM4.0 6.3h0.8v0.8h-0.8zM2.3 10.9h0.8v0.8h-0.8zM9.9 22.8h0.8v0.8h-0.8zM9.2 21.8h0.8v0.8h-0.8zM3.1 9.8h0.8v0.8h-0.8zM15.9 8.8h0.8v0.8h-0.8zM2.1 3.5h0.8v0.8h-0.8zM12.1 16.5h0.8v0.8h-0.8zM11.6 20.1h0.8v0.8h-0.8zM14.8 20.3h0.8v0.8h-0.8zM13.3 8.2h0.8v0.8h-0.8zM8.8 16.4h0.8v0.8h-0.8zM8.8 3.7h0.8v0.8h-0.8zM7.1 10.6h0.8v0.8h-0.8zM6.4 3.3h0.8v0.8h-0.8zM10.7 7.0h0.8v0.8h-0.8zM11.3 9.2h0.8v0.8h-0.8zM12.1 19.8h0.8v0.8h-0.8zM10.1 9.0h0.8v0.8h-0.8zM12.1 8.0h0.8v0.8h-0.8zM13.2 22.7h0.8v0.8h-0.8zM14.5 14.5h0.8v0.8h-0.8zM15.7 13.7h0.8v0.8h-0.8zM11.6 2.0h0.8v0.8h-0.8zM7.6 8.3h0.8v0.8h-0.8zM2.5 2.9h0.8v0.8h-0.8zM10.9 5.7h0.8v0.8h-0.8zM8.3 21.3h0.8v0.8h-0.8zM2.8 8.4h0.8v0.8h-0.8zM10.8 17.6h0.8v0.8h-0.8zM7.8 2.5h0.8v0.8h-0.8zM9.9 3.5h0.8v0.8h-0.8zM5.4 14.5h0.8v0.8h-0.8zM4.2 2.6h0.8v0.8h-0.8zM15.9 3.9h0.8v0.8h-0.8zM13.7 18.9h0.8v0.8h-0.8zM14.6 1.9h0.8v0.8h-0.8zM3.5 21.9h0.8v0.8h-0.8zM9.0 13.5h0.8v0.8h-0.8zM2.9 7.2h0.8v0.8h-0.8zM2.1 12.6h0.8v0.8h-0.8zM6.2 18.7h0.8v0.8h-0.8zM13.9 8.2h0.8v0.8h-0.8zM16.6 9.2h0.8v0.8h-0.8zM3.6 7.9h0.8v0.8h-0.8z" fill="#555"/>
<ellipse cx="10.23" cy="29.24" rx="12.13" ry="7.48" fill="url(#halo4)" opacity="1.0" transform="rotate(-8 10.23 29.24)"/>
<path d="M14.8 22.1h0.8v0.8h-0.8zM20.0 25.4h0.8v0.8h-0.8zM12.4 22.3h0.8v0.8h-0.8zM4.8 22.6h0.8v0.8h-0.8zM-2.5 30.7h0.8v0.8h-0.8zM0.7 25.9h0.8v0.8h-0.8zM12.2 22.2h0.8v0.8h-0.8zM7.6 36.1h0.8v0.8h-0.8zM18.4 32.6h0.8v0.8h-0.8zM-1.6 28.6h0.8v0.8h-0.8zM21.5 32.2h0.8v0.8h-0.8zM-0.3 31.0h0.8v0.8h-0.8zM21.0 27.1h0.8v0.8h-0.8zM20.8 27.6h0.8v0.8h-0.8zM13.3 22.1h0.8v0.8h-0.8zM21.0 28.4h0.8v0.8h-0.8zM-0.7 30.4h0.8v0.8h-0.8zM-1.2 29.4h0.8v0.8h-0.8zM19.4 32.5h0.8v0.8h-0.8zM18.5 24.2h0.8v0.8h-0.8zM-0.5 25.6h0.8v0.8h-0.8zM2.9 25.0h0.8v0.8h-0.8zM-0.1 29.0h0.8v0.8h-0.8zM-0.1 35.0h0.8v0.8h-0.8zM18.8 32.5h0.8v0.8h-0.8zM9.5 22.8h0.8v0.8h-0.8zM17.7 23.3h0.8v0.8h-0.8zM-0.1 25.3h0.8v0.8h-0.8zM6.2 36.6h0.8v0.8h-0.8zM12.0 36.8h0.8v0.8h-0.8zM1.7 24.8h0.8v0.8h-0.8zM11.7 22.2h0.8v0.8h-0.8zM0.4 27.1h0.8v0.8h-0.8zM-0.8 33.1h0.8v0.8h-0.8zM22.6 26.7h0.8v0.8h-0.8zM6.2 22.2h0.8v0.8h-0.8zM-1.3 33.1h0.8v0.8h-0.8zM14.0 36.0h0.8v0.8h-0.8zM15.1 22.8h0.8v0.8h-0.8zM-1.0 30.5h0.8v0.8h-0.8zM16.7 22.7h0.8v0.8h-0.8zM11.8 36.1h0.8v0.8h-0.8zM17.7 35.2h0.8v0.8h-0.8zM15.3 34.9h0.8v0.8h-0.8zM13.8 22.0h0.8v0.8h-0.8zM19.0 32.8h0.8v0.8h-0.8zM21.1 26.4h0.8v0.8h-0.8zM20.4 23.5h0.8v0.8h-0.8zM-1.1 29.1h0.8v0.8h-0.8zM2.9 25.4h0.8v0.8h-0.8zM17.8 34.6h0.8v0.8h-0.8zM14.6 21.8h0.8v0.8h-0.8zM17.2 23.0h0.8v0.8h-0.8zM10.4 37.3h0.8v0.8h-0.8zM0.0 28.6h0.8v0.8h-0.8zM7.6 22.4h0.8v0.8h-0.8zM11.6 22.6h0.8v0.8h-0.8zM8.7 21.3h0.8v0.8h-0.8zM1.2 35.5h0.8v0.8h-0.8zM2.8 23.7h0.8v0.8h-0.8zM2.8 34.8h0.8v0.8h-0.8zM6.9 22.1h0.8v0.8h-0.8zM17.0 33.5h0.8v0.8h-0.8zM2.0 35.6h0.8v0.8h-0.8zM19.7 33.7h0.8v0.8h-0.8zM15.1 23.1h0.8v0.8h-0.8zM5.9 35.7h0.8v0.8h-0.8zM6.1 36.2h0.8v0.8h-0.8zM21.5 32.1h0.8v0.8h-0.8zM13.4 35.5h0.8v0.8h-0.8zM20.8 30.8h0.8v0.8h-0.8zM15.1 35.1h0.8v0.8h-0.8zM16.9 22.6h0.8v0.8h-0.8zM0.3 32.9h0.8v0.8h-0.8zM-2.0 28.8h0.8v0.8h-0.8zM3.2 24.8h0.8v0.8h-0.8zM7.6 23.1h0.8v0.8h-0.8zM-0.7 31.5h0.8v0.8h-0.8zM19.4 33.4h0.8v0.8h-0.8zM12.9 36.2h0.8v0.8h-0.8z" fill="#111"/>
<ellipse cx="11.37" cy="31.28" rx="8.25" ry="5.09" fill="url(#light)" transform="rotate(-8 11.37 31.28)"/>
</g></svg>
<rect x="115.2" y="224.2" width="37.9" height="34.0" fill="none" stroke="#b0b0b0" stroke-width="0.85"/>
<line x1="130.739" y1="224.2" x2="130.739" y2="258.2" stroke="#b0b0b0" stroke-width="0.8"/>
<line x1="115.2" y1="239.67" x2="153.1" y2="239.67" stroke="#b0b0b0" stroke-width="0.8"/>
<rect x="116.0" y="225.2" width="1.4" height="0.8" fill="#555"/>
<rect x="116.0" y="227.4" width="3" height="0.7" fill="#888"/>
<rect x="131.5" y="225.2" width="1.4" height="0.8" fill="#555"/>
<rect x="131.5" y="227.4" width="3" height="0.7" fill="#888"/>
<rect x="116.0" y="240.7" width="1.4" height="0.8" fill="#555"/>
<rect x="116.0" y="242.9" width="3" height="0.7" fill="#888"/>
<rect x="131.5" y="240.7" width="1.4" height="0.8" fill="#555"/>
<rect x="131.5" y="242.9" width="3" height="0.7" fill="#888"/>
<text x="163.9" y="222.6" font-size="5" text-anchor="start" fill="#333">1.3</text>
<text x="201.2" y="222.6" font-size="5" text-anchor="end" fill="#333">0.1</text>
<svg x="163.6" y="224.2" width="37.9" height="34.0" viewBox="0 0 37.9 34.0" overflow="hidden"><g filter="url(#soft)">
<path d="M13.4 15.0h0.8v0.8h-0.8zM6.6 3.8h0.8v0.8h-0.8zM16.4 20.5h0.8v0.8h-0.8zM5.5 6.7h0.8v0.8h-0.8zM6.0 7.1h0.8v0.8h-0.8zM11.0 16.2h0.8v0.8h-0.8zM17.9 17.9h0.8v0.8h-0.8zM11.1 16.9h0.8v0.8h-0.8zM14.1 21.2h0.8v0.8h-0.8zM7.6 2.5h0.8v0.8h-0.8zM12.7 14.7h0.8v0.8h-0.8zM12.4 22.7h0.8v0.8h-0.8zM9.5 14.9h0.8v0.8h-0.8zM10.4 12.9h0.8v0.8h-0.8zM6.7 8.4h0.8v0.8h-0.8zM8.7 8.7h0.8v0.8h-0.8zM9.6 16.4h0.8v0.8h-0.8zM6.1 12.7h0.8v0.8h-0.8zM10.2 13.9h0.8v0.8h-0.8zM13.6 18.3h0.8v0.8h-0.8zM12.9 18.6h0.8v0.8h-0.8zM14.3 12.1h0.8v0.8h-0.8zM9.2 7.9h0.8v0.8h-0.8zM8.9 13.7h0.8v0.8h-0.8zM12.3 22.1h0.8v0.8h-0.8zM11.3 9.0h0.8v0.8h-0.8zM7.4 11.1h0.8v0.8h-0.8zM2.5 5.5h0.8v0.8h-0.8zM10.5 18.6h0.8v0.8h-0.8zM10.6 12.8h0.8v0.8h-0.8zM2.4 2.3h0.8v0.8h-0.8zM11.4 11.8h0.8v0.8h-0.8zM8.2 19.9h0.8v0.8h-0.8zM17.9 18.9h0.8v0.8h-0.8zM9.7 15.0h0.8v0.8h-0.8zM13.5 16.4h0.8v0.8h-0.8zM14.6 10.0h0.8v0.8h-0.8zM5.7 8.1h0.8v0.8h-0.8zM15.8 18.1h0.8v0.8h-0.8zM10.1 13.8h0.8v0.8h-0.8zM8.2 15.9h0.8v0.8h-0.8zM12.5 12.8h0.8v0.8h-0.8zM9.7 1.6h0.8v0.8h-0.8zM13.0 18.9h0.8v0.8h-0.8zM14.9 18.6h0.8v0.8h-0.8zM13.8 13.7h0.8v0.8h-0.8zM14.8 18.9h0.8v0.8h-0.8zM9.9 17.9h0.8v0.8h-0.8zM9.8 13.8h0.8v0.8h-0.8zM13.0 18.3h0.8v0.8h-0.8zM13.4 18.9h0.8v0.8h-0.8zM11.4 13.7h0.8v0.8h-0.8zM6.5 8.5h0.8v0.8h-0.8zM10.3 8.7h0.8v0.8h-0.8zM11.3 4.8h0.8v0.8h-0.8zM5.6 8.2h0.8v0.8h-0.8zM11.0 11.3h0.8v0.8h-0.8zM6.0 14.2h0.8v0.8h-0.8zM13.6 18.7h0.8v0.8h-0.8zM6.5 12.3h0.8v0.8h-0.8zM8.7 10.2h0.8v0.8h-0.8zM3.6 6.4h0.8v0.8h-0.8zM13.7 20.2h0.8v0.8h-0.8zM7.4 12.2h0.8v0.8h-0.8zM9.7 6.6h0.8v0.8h-0.8zM12.9 18.4h0.8v0.8h-0.8zM18.8 15.7h0.8v0.8h-0.8zM15.3 18.6h0.8v0.8h-0.8zM10.3 14.3h0.8v0.8h-0.8zM8.0 5.5h0.8v0.8h-0.8zM17.4 8.8h0.8v0.8h-0.8zM10.1 11.9h0.8v0.8h-0.8zM11.1 8.0h0.8v0.8h-0.8zM10.3 12.2h0.8v0.8h-0.8zM5.6 13.6h0.8v0.8h-0.8zM7.3 5.9h0.8v0.8h-0.8zM3.2 4.7h0.8v0.8h-0.8zM11.1 11.0h0.8v0.8h-0.8zM4.1 5.9h0.8v0.8h-0.8zM6.2 9.4h0.8v0.8h-0.8zM15.7 23.5h0.8v0.8h-0.8zM3.9 9.8h0.8v0.8h-0.8zM5.9 12.3h0.8v0.8h-0.8zM16.8 21.7h0.8v0.8h-0.8zM12.4 6.1h0.8v0.8h-0.8zM12.8 20.0h0.8v0.8h-0.8zM12.3 15.0h0.8v0.8h-0.8zM14.8 20.6h0.8v0.8h-0.8zM12.0 21.2h0.8v0.8h-0.8zM15.4 20.9h0.8v0.8h-0.8zM3.7 4.7h0.8v0.8h-0.8zM10.6 12.5h0.8v0.8h-0.8zM11.0 17.4h0.8v0.8h-0.8zM14.8 18.5h0.8v0.8h-0.8zM9.0 11.1h0.8v0.8h-0.8zM11.4 15.6h0.8v0.8h-0.8zM9.8 15.7h0.8v0.8h-0.8zM9.5 5.8h0.8v0.8h-0.8zM9.3 18.1h0.8v0.8h-0.8zM11.6 14.7h0.8v0.8h-0.8zM11.6 6.3h0.8v0.8h-0.8zM15.1 17.6h0.8v0.8h-0.8zM10.9 10.3h0.8v0.8h-0.8zM10.9 20.9h0.8v0.8h-0.8zM11.0 4.1h0.8v0.8h-0.8zM16.9 16.1h0.8v0.8h-0.8zM4.6 1.7h0.8v0.8h-0.8zM16.1 15.4h0.8v0.8h-0.8zM12.7 21.9h0.8v0.8h-0.8zM9.3 1.9h0.8v0.8h-0.8zM8.1 4.9h0.8v0.8h-0.8zM8.3 7.2h0.8v0.8h-0.8zM5.6 5.8h0.8v0.8h-0.8zM15.8 18.3h0.8v0.8h-0.8zM5.3 18.7h0.8v0.8h-0.8zM11.5 12.4h0.8v0.8h-0.8zM17.8 26.1h0.8v0.8h-0.8zM9.6 9.7h0.8v0.8h-0.8zM10.9 19.3h0.8v0.8h-0.8zM7.4 14.5h0.8v0.8h-0.8zM7.2 7.8h0.8v0.8h-0.8zM10.3 18.9h0.8v0.8h-0.8zM11.2 14.5h0.8v0.8h-0.8zM4.1 2.8h0.8v0.8h-0.8zM10.3 5.9h0.8v0.8h-0.8zM6.7 11.0h0.8v0.8h-0.8zM8.4 11.7h0.8v0.8h-0.8zM12.7 9.5h0.8v0.8h-0.8zM12.4 18.0h0.8v0.8h-0.8zM12.5 13.1h0.8v0.8h-0.8zM5.7 9.3h0.8v0.8h-0.8zM7.8 12.2h0.8v0.8h-0.8zM13.4 9.3h0.8v0.8h-0.8zM9.1 7.9h0.8v0.8h-0.8zM8.8 18.4h0.8v0.8h-0.8zM11.6 15.2h0.8v0.8h-0.8zM8.6 7.2h0.8v0.8h-0.8zM10.2 11.1h0.8v0.8h-0.8zM7.7 9.6h0.8v0.8h-0.8zM10.0 15.8h0.8v0.8h-0.8zM15.9 15.1h0.8v0.8h-0.8zM14.9 18.6h0.8v0.8h-0.8zM9.5 5.8h0.8v0.8h-0.8zM5.1 8.9h0.8v0.8h-0.8zM10.6 8.1h0.8v0.8h-0.8zM9.7 17.6h0.8v0.8h-0.8zM10.8 16.7h0.8v0.8h-0.8zM11.5 9.7h0.8v0.8h-0.8zM13.9 16.6h0.8v0.8h-0.8zM7.4 11.4h0.8v0.8h-0.8zM9.0 16.5h0.8v0.8h-0.8zM9.4 9.2h0.8v0.8h-0.8zM6.0 10.9h0.8v0.8h-0.8zM6.5 9.5h0.8v0.8h-0.8zM14.5 16.8h0.8v0.8h-0.8zM8.7 13.8h0.8v0.8h-0.8zM11.9 9.1h0.8v0.8h-0.8zM14.7 12.5h0.8v0.8h-0.8zM11.1 10.2h0.8v0.8h-0.8zM16.5 12.0h0.8v0.8h-0.8zM8.9 7.8h0.8v0.8h-0.8zM11.3 15.7h0.8v0.8h-0.8zM11.5 11.5h0.8v0.8h-0.8zM10.4 16.2h0.8v0.8h-0.8zM12.1 14.1h0.8v0.8h-0.8zM2.1 5.8h0.8v0.8h-0.8zM3.9 2.9h0.8v0.8h-0.8zM11.9 12.3h0.8v0.8h-0.8zM4.7 10.7h0.8v0.8h-0.8zM8.6 5.6h0.8v0.8h-0.8zM7.7 8.1h0.8v0.8h-0.8zM12.7 12.9h0.8v0.8h-0.8zM12.2 11.5h0.8v0.8h-0.8zM14.2 16.2h0.8v0.8h-0.8zM5.6 4.8h0.8v0.8h-0.8zM9.9 14.6h0.8v0.8h-0.8zM12.1 14.3h0.8v0.8h-0.8zM11.0 13.0h0.8v0.8h-0.8z" fill="#111"/>
<path d="M15.9 23.0h0.8v0.8h-0.8zM3.7 2.3h0.8v0.8h-0.8zM7.2 16.7h0.8v0.8h-0.8zM18.2 10.5h0.8v0.8h-0.8zM14.1 3.4h0.8v0.8h-0.8zM13.7 15.6h0.8v0.8h-0.8zM3.6 18.8h0.8v0.8h-0.8zM16.4 15.0h0.8v0.8h-0.8zM4.0 23.4h0.8v0.8h-0.8zM15.2 9.4h0.8v0.8h-0.8zM9.2 9.9h0.8v0.8h-0.8zM10.5 9.2h0.8v0.8h-0.8zM16.4 19.9h0.8v0.8h-0.8zM3.7 22.9h0.8v0.8h-0.8zM12.7 20.0h0.8v0.8h-0.8zM14.0 11.3h0.8v0.8h-0.8zM14.4 23.0h0.8v0.8h-0.8zM6.5 19.6h0.8v0.8h-0.8zM11.1 12.4h0.8v0.8h-0.8zM9.3 17.9h0.8v0.8h-0.8zM6.5 20.5h0.8v0.8h-0.8zM16.1 3.6h0.8v0.8h-0.8zM16.9 7.1h0.8v0.8h-0.8zM9.8 15.2h0.8v0.8h-0.8zM8.4 2.3h0.8v0.8h-0.8zM16.4 5.7h0.8v0.8h-0.8zM5.5 19.3h0.8v0.8h-0.8zM7.7 21.2h0.8v0.8h-0.8zM13.9 7.8h0.8v0.8h-0.8zM2.1 22.7h0.8v0.8h-0.8zM3.4 17.6h0.8v0.8h-0.8zM10.2 18.5h0.8v0.8h-0.8zM13.7 16.0h0.8v0.8h-0.8zM10.3 19.2h0.8v0.8h-0.8zM3.5 6.6h0.8v0.8h-0.8zM13.7 8.5h0.8v0.8h-0.8zM11.8 12.2h0.8v0.8h-0.8zM10.9 11.1h0.8v0.8h-0.8zM14.6 9.0h0.8v0.8h-0.8zM13.9 7.7h0.8v0.8h-0.8z" fill="#555"/>
<ellipse cx="11.37" cy="29.58" rx="12.51" ry="7.14" fill="url(#halo4)" opacity="1.0" transform="rotate(-8 11.37 29.58)"/>
<path d="M12.1 35.8h0.8v0.8h-0.8zM16.0 34.8h0.8v0.8h-0.8zM-1.2 29.7h0.8v0.8h-0.8zM16.6 34.8h0.8v0.8h-0.8zM-1.1 32.1h0.8v0.8h-0.8zM23.1 26.9h0.8v0.8h-0.8zM10.0 35.9h0.8v0.8h-0.8zM16.1 35.0h0.8v0.8h-0.8zM16.7 34.4h0.8v0.8h-0.8zM0.1 29.8h0.8v0.8h-0.8zM23.2 26.8h0.8v0.8h-0.8zM7.0 24.2h0.8v0.8h-0.8zM18.7 23.4h0.8v0.8h-0.8zM19.1 23.4h0.8v0.8h-0.8zM-0.0 32.5h0.8v0.8h-0.8zM16.4 34.6h0.8v0.8h-0.8zM22.1 25.6h0.8v0.8h-0.8zM15.6 22.9h0.8v0.8h-0.8zM22.8 31.2h0.8v0.8h-0.8zM22.0 30.2h0.8v0.8h-0.8zM0.5 28.6h0.8v0.8h-0.8zM22.2 27.8h0.8v0.8h-0.8zM11.5 22.5h0.8v0.8h-0.8zM13.3 23.0h0.8v0.8h-0.8zM-0.5 30.3h0.8v0.8h-0.8zM-0.4 33.9h0.8v0.8h-0.8zM22.7 27.6h0.8v0.8h-0.8zM1.8 26.0h0.8v0.8h-0.8zM9.5 22.2h0.8v0.8h-0.8zM15.1 35.3h0.8v0.8h-0.8zM4.8 25.1h0.8v0.8h-0.8zM17.1 34.3h0.8v0.8h-0.8zM23.2 28.0h0.8v0.8h-0.8zM1.4 27.3h0.8v0.8h-0.8zM13.8 36.5h0.8v0.8h-0.8zM7.0 23.6h0.8v0.8h-0.8zM5.4 23.4h0.8v0.8h-0.8zM13.3 22.3h0.8v0.8h-0.8zM3.5 24.2h0.8v0.8h-0.8zM1.0 34.2h0.8v0.8h-0.8zM2.7 24.7h0.8v0.8h-0.8zM15.6 23.5h0.8v0.8h-0.8zM17.9 34.4h0.8v0.8h-0.8zM10.3 22.7h0.8v0.8h-0.8zM9.6 36.0h0.8v0.8h-0.8zM5.7 23.6h0.8v0.8h-0.8zM22.2 25.6h0.8v0.8h-0.8zM0.7 31.3h0.8v0.8h-0.8zM23.0 29.6h0.8v0.8h-0.8zM7.2 36.0h0.8v0.8h-0.8zM23.1 32.1h0.8v0.8h-0.8zM16.8 22.7h0.8v0.8h-0.8zM23.8 25.5h0.8v0.8h-0.8zM5.3 24.6h0.8v0.8h-0.8zM23.9 29.7h0.8v0.8h-0.8zM-0.6 32.6h0.8v0.8h-0.8zM20.5 25.1h0.8v0.8h-0.8zM0.3 27.5h0.8v0.8h-0.8zM0.6 31.4h0.8v0.8h-0.8zM5.5 35.9h0.8v0.8h-0.8zM4.2 24.0h0.8v0.8h-0.8zM6.2 36.7h0.8v0.8h-0.8zM9.3 37.4h0.8v0.8h-0.8zM15.2 22.6h0.8v0.8h-0.8zM0.7 32.9h0.8v0.8h-0.8zM6.4 37.2h0.8v0.8h-0.8zM2.0 34.8h0.8v0.8h-0.8zM23.7 27.3h0.8v0.8h-0.8zM-0.2 29.4h0.8v0.8h-0.8zM16.6 35.1h0.8v0.8h-0.8zM10.9 22.5h0.8v0.8h-0.8zM11.2 23.2h0.8v0.8h-0.8zM-1.5 29.1h0.8v0.8h-0.8zM0.2 33.9h0.8v0.8h-0.8zM21.7 33.5h0.8v0.8h-0.8zM2.1 26.8h0.8v0.8h-0.8zM18.8 34.4h0.8v0.8h-0.8zM0.9 29.0h0.8v0.8h-0.8zM24.4 27.4h0.8v0.8h-0.8zM1.0 32.5h0.8v0.8h-0.8z" fill="#111"/>
<ellipse cx="12.51" cy="31.62" rx="8.50" ry="4.86" fill="url(#light)" transform="rotate(-8 12.51 31.62)"/>
</g></svg>
<rect x="163.6" y="224.2" width="37.9" height="34.0" fill="none" stroke="#b0b0b0" stroke-width="0.85"/>
<line x1="179.13899999999998" y1="224.2" x2="179.13899999999998" y2="258.2" stroke="#b0b0b0" stroke-width="0.8"/>
<line x1="163.6" y1="239.67" x2="201.5" y2="239.67" stroke="#b0b0b0" stroke-width="0.8"/>
<rect x="164.4" y="225.2" width="1.4" height="0.8" fill="#555"/>
<rect x="164.4" y="227.4" width="3" height="0.7" fill="#888"/>
<rect x="179.9" y="225.2" width="1.4" height="0.8" fill="#555"/>
<rect x="179.9" y="227.4" width="3" height="0.7" fill="#888"/>
<rect x="164.4" y="240.7" width="1.4" height="0.8" fill="#555"/>
<rect x="164.4" y="242.9" width="3" height="0.7" fill="#888"/>
<rect x="179.9" y="240.7" width="1.4" height="0.8" fill="#555"/>
<rect x="179.9" y="242.9" width="3" height="0.7" fill="#888"/>
<text x="214.0" y="222.6" font-size="5" text-anchor="start" fill="#333">2.3</text>
<text x="251.29999999999998" y="222.6" font-size="5" text-anchor="end" fill="#333">0.1</text>
<svg x="213.7" y="224.2" width="37.9" height="34.0" viewBox="0 0 37.9 34.0" overflow="hidden"><g filter="url(#soft)">
<path d="M4.5 2.8h0.8v0.8h-0.8zM7.2 7.9h0.8v0.8h-0.8zM8.8 11.4h0.8v0.8h-0.8zM5.5 14.4h0.8v0.8h-0.8zM10.4 10.5h0.8v0.8h-0.8zM9.3 3.0h0.8v0.8h-0.8zM11.2 11.7h0.8v0.8h-0.8zM10.3 9.0h0.8v0.8h-0.8zM7.6 11.3h0.8v0.8h-0.8zM10.9 6.4h0.8v0.8h-0.8zM11.9 23.0h0.8v0.8h-0.8zM14.3 15.5h0.8v0.8h-0.8zM14.4 12.3h0.8v0.8h-0.8zM2.2 2.1h0.8v0.8h-0.8zM12.5 21.8h0.8v0.8h-0.8zM14.6 19.8h0.8v0.8h-0.8zM16.2 18.2h0.8v0.8h-0.8zM9.9 12.9h0.8v0.8h-0.8zM13.6 20.2h0.8v0.8h-0.8zM11.0 6.3h0.8v0.8h-0.8zM18.8 17.6h0.8v0.8h-0.8zM12.1 14.7h0.8v0.8h-0.8zM4.7 3.7h0.8v0.8h-0.8zM15.7 19.5h0.8v0.8h-0.8zM9.4 11.3h0.8v0.8h-0.8zM15.5 19.2h0.8v0.8h-0.8zM18.1 16.0h0.8v0.8h-0.8zM11.7 22.3h0.8v0.8h-0.8zM13.7 10.8h0.8v0.8h-0.8zM15.1 16.5h0.8v0.8h-0.8zM13.6 16.9h0.8v0.8h-0.8zM11.2 22.0h0.8v0.8h-0.8zM10.4 16.7h0.8v0.8h-0.8zM13.1 21.5h0.8v0.8h-0.8zM8.7 10.7h0.8v0.8h-0.8zM15.9 15.1h0.8v0.8h-0.8zM15.0 21.9h0.8v0.8h-0.8zM0.9 12.0h0.8v0.8h-0.8zM6.0 7.6h0.8v0.8h-0.8zM1.3 2.9h0.8v0.8h-0.8zM14.5 10.0h0.8v0.8h-0.8zM12.8 19.3h0.8v0.8h-0.8zM6.1 4.3h0.8v0.8h-0.8zM4.2 2.3h0.8v0.8h-0.8zM12.0 16.8h0.8v0.8h-0.8zM3.0 5.2h0.8v0.8h-0.8zM9.6 10.3h0.8v0.8h-0.8zM12.1 16.3h0.8v0.8h-0.8zM6.7 6.3h0.8v0.8h-0.8zM15.1 16.5h0.8v0.8h-0.8zM6.8 9.7h0.8v0.8h-0.8zM8.2 10.3h0.8v0.8h-0.8zM10.7 17.8h0.8v0.8h-0.8zM13.0 9.2h0.8v0.8h-0.8zM12.4 10.4h0.8v0.8h-0.8zM8.8 15.8h0.8v0.8h-0.8zM10.3 5.7h0.8v0.8h-0.8zM12.8 17.6h0.8v0.8h-0.8zM8.7 2.8h0.8v0.8h-0.8zM15.7 18.3h0.8v0.8h-0.8zM11.7 18.3h0.8v0.8h-0.8zM9.9 15.3h0.8v0.8h-0.8zM8.7 13.7h0.8v0.8h-0.8zM9.1 12.5h0.8v0.8h-0.8zM11.5 19.4h0.8v0.8h-0.8zM11.9 14.8h0.8v0.8h-0.8zM8.4 7.2h0.8v0.8h-0.8zM3.4 17.1h0.8v0.8h-0.8zM4.4 6.0h0.8v0.8h-0.8zM7.4 8.8h0.8v0.8h-0.8zM13.3 18.8h0.8v0.8h-0.8zM10.9 18.0h0.8v0.8h-0.8zM14.0 22.2h0.8v0.8h-0.8zM15.0 21.2h0.8v0.8h-0.8zM15.6 16.6h0.8v0.8h-0.8zM7.1 4.0h0.8v0.8h-0.8zM12.5 18.2h0.8v0.8h-0.8zM9.9 17.1h0.8v0.8h-0.8zM6.3 11.8h0.8v0.8h-0.8zM14.5 17.1h0.8v0.8h-0.8zM10.6 10.2h0.8v0.8h-0.8zM12.8 18.7h0.8v0.8h-0.8zM8.9 14.7h0.8v0.8h-0.8zM13.9 21.0h0.8v0.8h-0.8zM13.4 10.6h0.8v0.8h-0.8zM14.9 21.2h0.8v0.8h-0.8zM8.4 5.1h0.8v0.8h-0.8zM4.4 3.7h0.8v0.8h-0.8zM17.3 17.8h0.8v0.8h-0.8zM7.3 7.1h0.8v0.8h-0.8zM5.4 6.2h0.8v0.8h-0.8zM11.5 15.1h0.8v0.8h-0.8zM11.9 16.9h0.8v0.8h-0.8zM12.0 10.9h0.8v0.8h-0.8zM8.8 6.8h0.8v0.8h-0.8zM13.5 11.7h0.8v0.8h-0.8zM7.9 10.7h0.8v0.8h-0.8zM10.7 8.7h0.8v0.8h-0.8zM5.3 2.4h0.8v0.8h-0.8zM0.9 2.0h0.8v0.8h-0.8zM3.0 6.3h0.8v0.8h-0.8zM4.5 4.3h0.8v0.8h-0.8zM8.7 15.6h0.8v0.8h-0.8zM7.0 7.1h0.8v0.8h-0.8zM8.8 9.5h0.8v0.8h-0.8zM3.6 3.5h0.8v0.8h-0.8zM2.1 6.9h0.8v0.8h-0.8zM4.8 4.4h0.8v0.8h-0.8zM17.4 12.9h0.8v0.8h-0.8zM10.1 8.3h0.8v0.8h-0.8zM7.0 8.6h0.8v0.8h-0.8zM15.3 17.9h0.8v0.8h-0.8zM3.4 5.2h0.8v0.8h-0.8zM13.8 22.2h0.8v0.8h-0.8zM10.5 11.2h0.8v0.8h-0.8zM7.5 10.8h0.8v0.8h-0.8zM8.8 8.0h0.8v0.8h-0.8zM4.2 8.3h0.8v0.8h-0.8zM9.5 9.8h0.8v0.8h-0.8zM17.0 18.8h0.8v0.8h-0.8zM11.0 14.2h0.8v0.8h-0.8zM12.0 19.5h0.8v0.8h-0.8zM4.8 7.0h0.8v0.8h-0.8zM10.7 15.6h0.8v0.8h-0.8zM6.3 10.3h0.8v0.8h-0.8zM9.6 4.2h0.8v0.8h-0.8zM3.7 13.4h0.8v0.8h-0.8zM4.9 2.3h0.8v0.8h-0.8zM4.4 9.5h0.8v0.8h-0.8zM4.8 8.7h0.8v0.8h-0.8zM12.5 18.8h0.8v0.8h-0.8zM9.1 13.9h0.8v0.8h-0.8zM20.0 16.6h0.8v0.8h-0.8zM17.7 20.2h0.8v0.8h-0.8zM8.8 5.6h0.8v0.8h-0.8zM12.3 20.1h0.8v0.8h-0.8zM5.5 2.1h0.8v0.8h-0.8zM3.5 7.5h0.8v0.8h-0.8zM6.3 6.2h0.8v0.8h-0.8zM9.9 11.8h0.8v0.8h-0.8zM8.1 23.6h0.8v0.8h-0.8zM6.1 10.7h0.8v0.8h-0.8zM8.6 3.4h0.8v0.8h-0.8zM14.3 19.0h0.8v0.8h-0.8zM7.2 10.8h0.8v0.8h-0.8zM7.2 15.4h0.8v0.8h-0.8zM11.0 18.6h0.8v0.8h-0.8zM17.1 19.8h0.8v0.8h-0.8zM13.3 17.8h0.8v0.8h-0.8zM17.8 14.8h0.8v0.8h-0.8zM7.4 4.9h0.8v0.8h-0.8zM7.6 9.5h0.8v0.8h-0.8zM12.4 19.4h0.8v0.8h-0.8zM6.9 9.8h0.8v0.8h-0.8zM6.4 7.7h0.8v0.8h-0.8zM11.7 13.1h0.8v0.8h-0.8zM3.4 5.7h0.8v0.8h-0.8zM16.4 11.4h0.8v0.8h-0.8zM10.3 7.3h0.8v0.8h-0.8zM0.2 5.2h0.8v0.8h-0.8zM7.7 8.2h0.8v0.8h-0.8zM12.2 13.2h0.8v0.8h-0.8zM10.2 9.4h0.8v0.8h-0.8zM14.1 15.1h0.8v0.8h-0.8zM10.2 21.8h0.8v0.8h-0.8zM8.8 13.4h0.8v0.8h-0.8zM13.4 13.7h0.8v0.8h-0.8zM11.2 9.2h0.8v0.8h-0.8zM8.7 6.8h0.8v0.8h-0.8zM7.9 10.4h0.8v0.8h-0.8zM12.8 17.8h0.8v0.8h-0.8zM4.8 7.5h0.8v0.8h-0.8zM14.4 13.9h0.8v0.8h-0.8zM11.2 16.2h0.8v0.8h-0.8zM8.2 9.1h0.8v0.8h-0.8zM9.5 7.9h0.8v0.8h-0.8zM6.4 9.3h0.8v0.8h-0.8zM13.8 15.9h0.8v0.8h-0.8zM8.7 20.7h0.8v0.8h-0.8zM8.1 13.9h0.8v0.8h-0.8zM12.9 15.2h0.8v0.8h-0.8zM8.8 5.7h0.8v0.8h-0.8zM8.5 11.6h0.8v0.8h-0.8zM16.6 19.0h0.8v0.8h-0.8zM12.9 5.7h0.8v0.8h-0.8zM10.6 11.9h0.8v0.8h-0.8zM6.1 12.7h0.8v0.8h-0.8zM1.0 2.2h0.8v0.8h-0.8zM13.8 13.2h0.8v0.8h-0.8zM13.0 17.0h0.8v0.8h-0.8zM9.2 12.6h0.8v0.8h-0.8zM16.9 23.0h0.8v0.8h-0.8zM11.8 13.6h0.8v0.8h-0.8zM8.3 8.5h0.8v0.8h-0.8zM11.9 21.3h0.8v0.8h-0.8zM6.8 11.8h0.8v0.8h-0.8zM6.1 4.5h0.8v0.8h-0.8zM11.1 12.0h0.8v0.8h-0.8zM12.4 18.7h0.8v0.8h-0.8zM11.1 17.5h0.8v0.8h-0.8zM13.2 18.0h0.8v0.8h-0.8zM12.1 22.0h0.8v0.8h-0.8zM15.6 22.3h0.8v0.8h-0.8zM7.5 12.1h0.8v0.8h-0.8zM4.8 8.6h0.8v0.8h-0.8zM7.5 18.3h0.8v0.8h-0.8zM14.5 21.3h0.8v0.8h-0.8zM13.5 15.1h0.8v0.8h-0.8zM7.9 4.7h0.8v0.8h-0.8zM9.7 16.0h0.8v0.8h-0.8zM12.6 11.4h0.8v0.8h-0.8zM11.8 18.6h0.8v0.8h-0.8zM7.5 6.4h0.8v0.8h-0.8zM13.1 17.0h0.8v0.8h-0.8zM11.7 12.2h0.8v0.8h-0.8zM6.7 6.4h0.8v0.8h-0.8zM7.7 8.1h0.8v0.8h-0.8zM8.1 7.1h0.8v0.8h-0.8zM9.6 13.4h0.8v0.8h-0.8zM12.0 7.5h0.8v0.8h-0.8zM4.9 5.4h0.8v0.8h-0.8zM2.0 6.1h0.8v0.8h-0.8zM12.3 21.5h0.8v0.8h-0.8zM12.0 12.5h0.8v0.8h-0.8zM5.7 12.1h0.8v0.8h-0.8zM13.7 8.1h0.8v0.8h-0.8zM9.0 9.9h0.8v0.8h-0.8zM5.5 9.9h0.8v0.8h-0.8zM10.9 13.8h0.8v0.8h-0.8zM3.0 6.7h0.8v0.8h-0.8zM12.5 14.2h0.8v0.8h-0.8zM10.5 17.5h0.8v0.8h-0.8zM13.4 17.8h0.8v0.8h-0.8zM7.3 13.9h0.8v0.8h-0.8zM7.4 4.4h0.8v0.8h-0.8zM13.0 23.2h0.8v0.8h-0.8zM2.3 7.0h0.8v0.8h-0.8zM11.0 10.6h0.8v0.8h-0.8zM6.8 5.0h0.8v0.8h-0.8zM11.7 14.8h0.8v0.8h-0.8zM12.1 11.9h0.8v0.8h-0.8zM8.4 9.1h0.8v0.8h-0.8zM3.9 8.1h0.8v0.8h-0.8zM17.1 14.7h0.8v0.8h-0.8zM9.5 8.2h0.8v0.8h-0.8zM11.7 17.4h0.8v0.8h-0.8zM15.6 16.0h0.8v0.8h-0.8zM12.7 13.0h0.8v0.8h-0.8zM11.3 9.3h0.8v0.8h-0.8zM10.6 14.1h0.8v0.8h-0.8zM11.5 11.2h0.8v0.8h-0.8zM6.6 6.0h0.8v0.8h-0.8zM10.2 15.7h0.8v0.8h-0.8zM16.6 18.5h0.8v0.8h-0.8zM5.9 7.7h0.8v0.8h-0.8zM9.5 13.5h0.8v0.8h-0.8zM15.0 15.1h0.8v0.8h-0.8zM12.4 18.8h0.8v0.8h-0.8zM10.6 17.0h0.8v0.8h-0.8zM6.7 3.4h0.8v0.8h-0.8zM15.2 22.5h0.8v0.8h-0.8zM9.3 9.3h0.8v0.8h-0.8zM11.5 11.4h0.8v0.8h-0.8zM10.0 10.9h0.8v0.8h-0.8zM16.0 11.0h0.8v0.8h-0.8zM10.8 17.3h0.8v0.8h-0.8zM2.6 3.4h0.8v0.8h-0.8zM14.3 19.3h0.8v0.8h-0.8zM15.8 16.6h0.8v0.8h-0.8zM5.3 3.4h0.8v0.8h-0.8zM5.3 5.1h0.8v0.8h-0.8zM11.9 11.7h0.8v0.8h-0.8zM14.4 18.0h0.8v0.8h-0.8zM8.7 4.4h0.8v0.8h-0.8zM3.8 11.7h0.8v0.8h-0.8zM5.7 11.2h0.8v0.8h-0.8zM7.3 6.9h0.8v0.8h-0.8zM3.7 8.1h0.8v0.8h-0.8zM8.6 9.0h0.8v0.8h-0.8zM12.7 20.3h0.8v0.8h-0.8zM11.5 14.6h0.8v0.8h-0.8zM2.3 9.0h0.8v0.8h-0.8zM10.7 16.3h0.8v0.8h-0.8zM14.2 15.1h0.8v0.8h-0.8zM9.4 14.0h0.8v0.8h-0.8zM10.7 8.0h0.8v0.8h-0.8zM16.3 17.0h0.8v0.8h-0.8zM5.8 4.4h0.8v0.8h-0.8zM3.6 2.1h0.8v0.8h-0.8zM12.7 21.5h0.8v0.8h-0.8zM13.6 11.8h0.8v0.8h-0.8zM9.7 16.9h0.8v0.8h-0.8zM6.7 4.1h0.8v0.8h-0.8zM7.5 4.9h0.8v0.8h-0.8zM8.1 14.0h0.8v0.8h-0.8zM10.0 14.4h0.8v0.8h-0.8zM9.4 12.2h0.8v0.8h-0.8zM6.9 3.1h0.8v0.8h-0.8zM8.1 6.9h0.8v0.8h-0.8zM15.3 16.4h0.8v0.8h-0.8zM10.6 13.0h0.8v0.8h-0.8zM12.0 21.2h0.8v0.8h-0.8zM12.2 11.9h0.8v0.8h-0.8zM3.4 1.2h0.8v0.8h-0.8zM9.3 13.3h0.8v0.8h-0.8zM8.4 10.0h0.8v0.8h-0.8zM13.5 8.1h0.8v0.8h-0.8zM12.9 11.7h0.8v0.8h-0.8zM11.6 14.5h0.8v0.8h-0.8zM11.9 14.6h0.8v0.8h-0.8zM10.7 5.4h0.8v0.8h-0.8zM5.5 8.1h0.8v0.8h-0.8zM5.7 9.4h0.8v0.8h-0.8zM14.5 16.8h0.8v0.8h-0.8zM14.0 21.5h0.8v0.8h-0.8zM11.3 15.0h0.8v0.8h-0.8zM11.7 10.3h0.8v0.8h-0.8zM11.0 0.1h0.8v0.8h-0.8zM13.4 18.6h0.8v0.8h-0.8zM15.5 14.0h0.8v0.8h-0.8zM8.4 15.0h0.8v0.8h-0.8zM10.0 11.8h0.8v0.8h-0.8zM8.8 10.0h0.8v0.8h-0.8zM3.6 9.6h0.8v0.8h-0.8zM13.7 16.9h0.8v0.8h-0.8zM1.8 4.5h0.8v0.8h-0.8zM7.6 12.4h0.8v0.8h-0.8zM6.7 10.4h0.8v0.8h-0.8zM9.8 21.5h0.8v0.8h-0.8zM14.4 19.1h0.8v0.8h-0.8zM13.7 17.3h0.8v0.8h-0.8zM12.5 14.2h0.8v0.8h-0.8zM13.3 8.7h0.8v0.8h-0.8zM8.5 8.3h0.8v0.8h-0.8zM12.0 20.0h0.8v0.8h-0.8zM4.4 10.1h0.8v0.8h-0.8zM5.4 8.5h0.8v0.8h-0.8z" fill="#111"/>
<path d="M8.5 10.3h0.8v0.8h-0.8zM6.1 4.4h0.8v0.8h-0.8zM14.6 12.7h0.8v0.8h-0.8zM15.7 6.3h0.8v0.8h-0.8zM18.8 3.5h0.8v0.8h-0.8zM2.3 23.1h0.8v0.8h-0.8zM7.7 12.9h0.8v0.8h-0.8zM8.7 6.5h0.8v0.8h-0.8zM17.9 22.4h0.8v0.8h-0.8zM10.3 14.0h0.8v0.8h-0.8zM8.5 18.4h0.8v0.8h-0.8zM12.2 11.9h0.8v0.8h-0.8zM3.3 20.8h0.8v0.8h-0.8zM13.2 8.7h0.8v0.8h-0.8zM14.5 14.5h0.8v0.8h-0.8zM3.3 4.8h0.8v0.8h-0.8zM3.0 16.5h0.8v0.8h-0.8zM6.3 19.5h0.8v0.8h-0.8zM17.9 13.3h0.8v0.8h-0.8zM8.2 8.0h0.8v0.8h-0.8zM8.3 14.7h0.8v0.8h-0.8zM7.5 6.4h0.8v0.8h-0.8zM9.3 6.0h0.8v0.8h-0.8zM12.8 14.5h0.8v0.8h-0.8zM3.2 16.4h0.8v0.8h-0.8zM14.3 5.8h0.8v0.8h-0.8zM12.5 16.8h0.8v0.8h-0.8zM6.8 18.4h0.8v0.8h-0.8zM2.7 6.2h0.8v0.8h-0.8zM7.3 8.2h0.8v0.8h-0.8zM16.5 10.0h0.8v0.8h-0.8zM11.8 5.9h0.8v0.8h-0.8zM14.8 14.1h0.8v0.8h-0.8zM10.5 14.5h0.8v0.8h-0.8zM9.7 14.2h0.8v0.8h-0.8zM4.3 16.9h0.8v0.8h-0.8zM2.9 7.2h0.8v0.8h-0.8zM9.0 3.8h0.8v0.8h-0.8zM6.6 10.5h0.8v0.8h-0.8zM13.6 10.1h0.8v0.8h-0.8zM15.7 14.7h0.8v0.8h-0.8zM14.7 13.0h0.8v0.8h-0.8zM7.9 19.2h0.8v0.8h-0.8zM17.1 5.8h0.8v0.8h-0.8zM2.7 22.3h0.8v0.8h-0.8zM10.3 14.4h0.8v0.8h-0.8zM9.6 11.1h0.8v0.8h-0.8zM10.8 16.3h0.8v0.8h-0.8zM13.0 16.5h0.8v0.8h-0.8zM17.1 13.5h0.8v0.8h-0.8z" fill="#555"/>
<ellipse cx="10.61" cy="29.58" rx="12.13" ry="7.14" fill="url(#halo4)" opacity="1.0" transform="rotate(-8 10.61 29.58)"/>
<path d="M17.4 24.1h0.8v0.8h-0.8zM19.1 32.4h0.8v0.8h-0.8zM-0.2 28.5h0.8v0.8h-0.8zM18.1 35.2h0.8v0.8h-0.8zM7.1 23.0h0.8v0.8h-0.8zM16.3 34.2h0.8v0.8h-0.8zM21.3 32.4h0.8v0.8h-0.8zM15.8 34.8h0.8v0.8h-0.8zM8.6 23.0h0.8v0.8h-0.8zM4.5 36.5h0.8v0.8h-0.8zM2.7 36.3h0.8v0.8h-0.8zM19.9 33.2h0.8v0.8h-0.8zM1.3 34.0h0.8v0.8h-0.8zM21.5 28.7h0.8v0.8h-0.8zM-0.6 33.4h0.8v0.8h-0.8zM11.6 36.2h0.8v0.8h-0.8zM-0.6 30.0h0.8v0.8h-0.8zM1.5 34.1h0.8v0.8h-0.8zM1.3 33.1h0.8v0.8h-0.8zM6.9 23.2h0.8v0.8h-0.8zM5.2 23.8h0.8v0.8h-0.8zM3.5 23.9h0.8v0.8h-0.8zM2.3 25.7h0.8v0.8h-0.8zM5.0 24.5h0.8v0.8h-0.8zM4.5 23.8h0.8v0.8h-0.8zM0.7 35.1h0.8v0.8h-0.8zM6.4 23.0h0.8v0.8h-0.8zM21.7 26.7h0.8v0.8h-0.8zM21.3 30.9h0.8v0.8h-0.8zM-1.5 32.5h0.8v0.8h-0.8zM19.8 32.3h0.8v0.8h-0.8zM0.3 27.5h0.8v0.8h-0.8zM0.3 27.1h0.8v0.8h-0.8zM-0.6 29.1h0.8v0.8h-0.8zM11.4 22.0h0.8v0.8h-0.8zM-0.0 32.4h0.8v0.8h-0.8zM21.0 25.9h0.8v0.8h-0.8zM4.6 36.8h0.8v0.8h-0.8zM15.3 35.1h0.8v0.8h-0.8zM0.2 26.3h0.8v0.8h-0.8zM17.9 34.6h0.8v0.8h-0.8zM21.3 29.3h0.8v0.8h-0.8zM0.4 27.6h0.8v0.8h-0.8zM15.0 23.1h0.8v0.8h-0.8zM20.2 25.6h0.8v0.8h-0.8zM0.3 34.6h0.8v0.8h-0.8zM17.0 23.6h0.8v0.8h-0.8zM6.0 23.8h0.8v0.8h-0.8zM7.9 36.7h0.8v0.8h-0.8zM11.6 23.2h0.8v0.8h-0.8zM9.8 36.5h0.8v0.8h-0.8zM11.5 35.8h0.8v0.8h-0.8zM9.9 37.1h0.8v0.8h-0.8zM14.7 35.8h0.8v0.8h-0.8zM-1.2 28.9h0.8v0.8h-0.8zM22.0 27.4h0.8v0.8h-0.8zM17.5 22.5h0.8v0.8h-0.8zM15.0 23.5h0.8v0.8h-0.8zM0.0 27.5h0.8v0.8h-0.8zM3.6 24.5h0.8v0.8h-0.8zM2.1 34.9h0.8v0.8h-0.8zM11.0 22.6h0.8v0.8h-0.8zM1.6 35.1h0.8v0.8h-0.8zM-1.6 29.0h0.8v0.8h-0.8zM17.6 23.9h0.8v0.8h-0.8zM17.1 23.9h0.8v0.8h-0.8zM18.1 33.8h0.8v0.8h-0.8zM-1.6 32.7h0.8v0.8h-0.8zM4.3 35.7h0.8v0.8h-0.8zM13.7 22.9h0.8v0.8h-0.8zM19.5 32.7h0.8v0.8h-0.8zM15.9 36.0h0.8v0.8h-0.8zM-0.4 28.2h0.8v0.8h-0.8zM14.3 36.5h0.8v0.8h-0.8zM20.3 33.4h0.8v0.8h-0.8zM9.5 37.1h0.8v0.8h-0.8zM-0.6 32.4h0.8v0.8h-0.8zM20.1 33.1h0.8v0.8h-0.8zM21.6 26.5h0.8v0.8h-0.8zM-1.7 29.9h0.8v0.8h-0.8z" fill="#111"/>
<ellipse cx="11.75" cy="31.62" rx="8.25" ry="4.86" fill="url(#light)" transform="rotate(-8 11.75 31.62)"/>
</g></svg>
<rect x="213.7" y="224.2" width="37.9" height="34.0" fill="none" stroke="#b0b0b0" stroke-width="0.85"/>
<line x1="229.23899999999998" y1="224.2" x2="229.23899999999998" y2="258.2" stroke="#b0b0b0" stroke-width="0.8"/>
<line x1="213.7" y1="239.67" x2="251.6" y2="239.67" stroke="#b0b0b0" stroke-width="0.8"/>
<rect x="214.5" y="225.2" width="1.4" height="0.8" fill="#555"/>
<rect x="214.5" y="227.4" width="3" height="0.7" fill="#888"/>
<rect x="230.0" y="225.2" width="1.4" height="0.8" fill="#555"/>
<rect x="230.0" y="227.4" width="3" height="0.7" fill="#888"/>
<rect x="214.5" y="240.7" width="1.4" height="0.8" fill="#555"/>
<rect x="214.5" y="242.9" width="3" height="0.7" fill="#888"/>
<rect x="230.0" y="240.7" width="1.4" height="0.8" fill="#555"/>
<rect x="230.0" y="242.9" width="3" height="0.7" fill="#888"/>
<text x="0.2" y="292.9" font-size="11.3" font-weight="bold" stroke="#111" stroke-width="0.22" text-anchor="start" fill="#111">B</text>
<text x="90.15" y="297.9" font-size="6.8" font-weight="bold" stroke="#111" stroke-width="0.22" text-anchor="middle" fill="#111">IL-2</text>
<text x="159.0" y="297.9" font-size="6.8" font-weight="bold" stroke="#111" stroke-width="0.22" text-anchor="middle" fill="#111">+IL-1&#946;</text>
<text x="226.35" y="297.9" font-size="6.8" font-weight="bold" stroke="#111" stroke-width="0.22" text-anchor="middle" fill="#111">+IL-1Ra</text>
<text x="3.6" y="328.6" font-size="6.6" font-weight="bold" stroke="#111" stroke-width="0.2" text-anchor="start" fill="#111">CD25<tspan font-size="4.09" dy="-2.77" stroke-width="0.1">high</tspan><tspan dy="2.77"> CD27</tspan><tspan font-size="4.09" dy="-2.77" stroke-width="0.1">pos</tspan></text>
<text x="3.6" y="398.6" font-size="6.6" font-weight="bold" stroke="#111" stroke-width="0.2" text-anchor="start" fill="#111">CD25<tspan font-size="4.09" dy="-2.77" stroke-width="0.1">neg</tspan><tspan dy="2.77"> CD27</tspan><tspan font-size="4.09" dy="-2.77" stroke-width="0.1">pos</tspan></text>
<text x="53.6" y="436.7" font-size="6.0" font-weight="bold" stroke="#111" stroke-width="0.22" text-anchor="start" fill="#111" transform="rotate(-90 53.6 436.7)">IL-17</text>
<text x="55.0" y="448.6" font-size="5.9" font-weight="bold" stroke="#111" stroke-width="0.22" text-anchor="start" fill="#111">Foxp3</text>
<text x="64.5" y="309.59999999999997" font-size="5.8" text-anchor="start" fill="#333">5.7</text>
<text x="112.8" y="309.59999999999997" font-size="5.8" text-anchor="end" fill="#333">3.6</text>
<svg x="60.7" y="311.7" width="58.9" height="52.3" viewBox="0 0 58.9 52.3" overflow="hidden"><g filter="url(#soft)">
<path d="M18.0 17.4h0.8v0.8h-0.8zM20.1 12.2h0.8v0.8h-0.8zM5.1 21.2h0.8v0.8h-0.8zM28.9 21.2h0.8v0.8h-0.8zM22.2 13.9h0.8v0.8h-0.8zM31.1 30.9h0.8v0.8h-0.8zM29.7 16.3h0.8v0.8h-0.8zM30.6 39.3h0.8v0.8h-0.8zM19.0 27.9h0.8v0.8h-0.8zM15.7 9.4h0.8v0.8h-0.8zM39.2 5.7h0.8v0.8h-0.8zM18.9 1.7h0.8v0.8h-0.8zM26.3 5.0h0.8v0.8h-0.8zM19.0 20.0h0.8v0.8h-0.8zM21.9 37.7h0.8v0.8h-0.8zM22.5 13.3h0.8v0.8h-0.8zM28.3 13.5h0.8v0.8h-0.8zM20.8 8.0h0.8v0.8h-0.8zM23.0 23.3h0.8v0.8h-0.8zM17.2 12.9h0.8v0.8h-0.8zM15.8 7.6h0.8v0.8h-0.8zM29.4 1.5h0.8v0.8h-0.8zM10.6 0.8h0.8v0.8h-0.8zM8.8 17.7h0.8v0.8h-0.8zM28.7 2.2h0.8v0.8h-0.8zM30.1 25.4h0.8v0.8h-0.8zM20.5 16.8h0.8v0.8h-0.8zM17.8 25.2h0.8v0.8h-0.8zM24.5 17.3h0.8v0.8h-0.8zM17.3 12.5h0.8v0.8h-0.8zM37.2 14.9h0.8v0.8h-0.8zM29.6 3.2h0.8v0.8h-0.8zM25.4 31.4h0.8v0.8h-0.8zM26.7 20.0h0.8v0.8h-0.8zM19.8 21.9h0.8v0.8h-0.8zM31.9 19.5h0.8v0.8h-0.8zM26.4 16.5h0.8v0.8h-0.8zM24.9 37.5h0.8v0.8h-0.8zM15.8 15.5h0.8v0.8h-0.8zM12.1 25.4h0.8v0.8h-0.8zM16.5 18.9h0.8v0.8h-0.8zM15.6 28.9h0.8v0.8h-0.8zM31.2 18.4h0.8v0.8h-0.8zM23.0 16.3h0.8v0.8h-0.8zM20.9 24.8h0.8v0.8h-0.8zM18.3 8.8h0.8v0.8h-0.8zM17.6 17.4h0.8v0.8h-0.8zM9.0 25.9h0.8v0.8h-0.8zM25.9 19.7h0.8v0.8h-0.8zM24.8 19.7h0.8v0.8h-0.8zM27.4 23.3h0.8v0.8h-0.8zM31.8 18.3h0.8v0.8h-0.8zM24.4 36.3h0.8v0.8h-0.8zM34.5 16.9h0.8v0.8h-0.8zM31.7 19.0h0.8v0.8h-0.8zM15.5 21.8h0.8v0.8h-0.8zM23.8 19.3h0.8v0.8h-0.8zM13.1 7.1h0.8v0.8h-0.8zM20.0 24.7h0.8v0.8h-0.8zM31.9 20.3h0.8v0.8h-0.8zM26.8 7.9h0.8v0.8h-0.8zM26.0 20.4h0.8v0.8h-0.8zM30.1 5.9h0.8v0.8h-0.8zM23.3 27.9h0.8v0.8h-0.8zM30.1 25.2h0.8v0.8h-0.8zM29.4 18.6h0.8v0.8h-0.8zM15.7 18.2h0.8v0.8h-0.8zM20.7 29.9h0.8v0.8h-0.8zM23.7 32.8h0.8v0.8h-0.8zM28.1 7.1h0.8v0.8h-0.8zM28.7 15.6h0.8v0.8h-0.8zM25.8 16.8h0.8v0.8h-0.8zM19.4 15.1h0.8v0.8h-0.8zM27.8 22.0h0.8v0.8h-0.8zM23.3 17.6h0.8v0.8h-0.8zM20.4 37.0h0.8v0.8h-0.8zM27.0 4.8h0.8v0.8h-0.8zM31.5 15.0h0.8v0.8h-0.8zM15.4 15.6h0.8v0.8h-0.8zM32.7 34.7h0.8v0.8h-0.8zM21.2 22.3h0.8v0.8h-0.8zM25.0 32.7h0.8v0.8h-0.8zM21.0 30.2h0.8v0.8h-0.8zM12.4 1.4h0.8v0.8h-0.8zM24.0 19.7h0.8v0.8h-0.8zM28.1 18.4h0.8v0.8h-0.8zM26.9 19.9h0.8v0.8h-0.8zM21.4 8.1h0.8v0.8h-0.8zM23.2 27.7h0.8v0.8h-0.8zM25.2 25.4h0.8v0.8h-0.8zM21.7 19.2h0.8v0.8h-0.8zM37.5 10.6h0.8v0.8h-0.8zM17.2 26.8h0.8v0.8h-0.8zM30.4 18.6h0.8v0.8h-0.8zM17.4 12.0h0.8v0.8h-0.8zM29.5 24.1h0.8v0.8h-0.8zM23.8 29.7h0.8v0.8h-0.8zM20.4 6.8h0.8v0.8h-0.8zM31.7 5.3h0.8v0.8h-0.8zM37.8 34.4h0.8v0.8h-0.8zM19.1 7.8h0.8v0.8h-0.8zM10.9 19.9h0.8v0.8h-0.8zM20.4 29.8h0.8v0.8h-0.8zM16.7 24.7h0.8v0.8h-0.8zM16.7 10.6h0.8v0.8h-0.8zM21.9 15.9h0.8v0.8h-0.8zM25.0 25.8h0.8v0.8h-0.8zM20.0 24.6h0.8v0.8h-0.8zM21.3 24.3h0.8v0.8h-0.8zM19.5 18.1h0.8v0.8h-0.8zM35.4 29.1h0.8v0.8h-0.8zM16.7 3.8h0.8v0.8h-0.8zM16.0 33.3h0.8v0.8h-0.8zM16.3 21.5h0.8v0.8h-0.8zM28.4 18.1h0.8v0.8h-0.8zM15.4 6.2h0.8v0.8h-0.8zM19.1 32.6h0.8v0.8h-0.8zM22.6 15.4h0.8v0.8h-0.8zM24.2 45.7h0.8v0.8h-0.8zM23.1 17.2h0.8v0.8h-0.8zM20.3 9.7h0.8v0.8h-0.8zM37.1 29.2h0.8v0.8h-0.8zM14.9 25.0h0.8v0.8h-0.8zM15.9 33.4h0.8v0.8h-0.8zM18.3 12.4h0.8v0.8h-0.8zM20.3 37.1h0.8v0.8h-0.8zM26.8 25.8h0.8v0.8h-0.8zM24.4 7.4h0.8v0.8h-0.8zM33.6 9.2h0.8v0.8h-0.8zM20.3 24.8h0.8v0.8h-0.8zM0.4 1.3h0.8v0.8h-0.8zM19.3 9.9h0.8v0.8h-0.8zM22.1 13.7h0.8v0.8h-0.8zM14.1 14.3h0.8v0.8h-0.8zM33.0 21.9h0.8v0.8h-0.8zM18.0 18.1h0.8v0.8h-0.8zM18.0 17.5h0.8v0.8h-0.8zM28.3 35.3h0.8v0.8h-0.8zM21.3 14.8h0.8v0.8h-0.8zM22.1 20.1h0.8v0.8h-0.8zM19.0 23.5h0.8v0.8h-0.8zM26.1 18.5h0.8v0.8h-0.8zM4.6 27.0h0.8v0.8h-0.8zM19.4 36.6h0.8v0.8h-0.8zM33.2 28.2h0.8v0.8h-0.8zM31.0 27.0h0.8v0.8h-0.8zM31.5 34.0h0.8v0.8h-0.8zM28.0 14.1h0.8v0.8h-0.8zM34.6 16.4h0.8v0.8h-0.8zM37.2 22.6h0.8v0.8h-0.8zM16.9 21.4h0.8v0.8h-0.8zM18.7 19.2h0.8v0.8h-0.8zM33.4 10.7h0.8v0.8h-0.8zM24.3 0.9h0.8v0.8h-0.8zM22.8 31.2h0.8v0.8h-0.8zM23.6 8.8h0.8v0.8h-0.8zM18.2 7.5h0.8v0.8h-0.8zM29.6 10.1h0.8v0.8h-0.8zM16.0 25.3h0.8v0.8h-0.8zM24.9 4.0h0.8v0.8h-0.8zM16.3 24.6h0.8v0.8h-0.8zM33.2 12.4h0.8v0.8h-0.8zM23.2 11.7h0.8v0.8h-0.8zM15.1 18.9h0.8v0.8h-0.8zM21.9 28.4h0.8v0.8h-0.8zM26.8 20.0h0.8v0.8h-0.8zM14.7 29.1h0.8v0.8h-0.8zM27.9 12.6h0.8v0.8h-0.8zM36.9 5.3h0.8v0.8h-0.8zM17.9 22.6h0.8v0.8h-0.8zM23.6 21.8h0.8v0.8h-0.8zM25.1 9.3h0.8v0.8h-0.8zM29.9 30.3h0.8v0.8h-0.8zM22.8 10.6h0.8v0.8h-0.8zM11.2 13.4h0.8v0.8h-0.8zM17.6 31.3h0.8v0.8h-0.8zM26.9 1.3h0.8v0.8h-0.8zM17.5 15.1h0.8v0.8h-0.8zM33.6 6.2h0.8v0.8h-0.8zM15.8 28.2h0.8v0.8h-0.8zM12.6 13.3h0.8v0.8h-0.8zM21.2 3.7h0.8v0.8h-0.8zM6.1 27.1h0.8v0.8h-0.8zM18.7 8.5h0.8v0.8h-0.8zM21.4 26.2h0.8v0.8h-0.8zM30.5 16.5h0.8v0.8h-0.8zM20.8 20.0h0.8v0.8h-0.8zM22.2 20.1h0.8v0.8h-0.8zM22.0 26.5h0.8v0.8h-0.8zM20.4 16.1h0.8v0.8h-0.8zM0.1 18.1h0.8v0.8h-0.8zM21.8 12.3h0.8v0.8h-0.8zM19.0 18.9h0.8v0.8h-0.8zM21.8 15.5h0.8v0.8h-0.8zM13.7 8.1h0.8v0.8h-0.8zM15.9 27.8h0.8v0.8h-0.8zM29.1 26.0h0.8v0.8h-0.8zM26.6 7.7h0.8v0.8h-0.8zM16.2 20.6h0.8v0.8h-0.8zM18.5 22.2h0.8v0.8h-0.8zM19.6 18.2h0.8v0.8h-0.8zM28.4 19.6h0.8v0.8h-0.8zM26.0 19.3h0.8v0.8h-0.8zM22.0 11.6h0.8v0.8h-0.8zM15.5 14.7h0.8v0.8h-0.8zM28.9 26.1h0.8v0.8h-0.8zM18.1 23.2h0.8v0.8h-0.8zM22.7 8.4h0.8v0.8h-0.8zM25.5 22.2h0.8v0.8h-0.8zM15.6 25.6h0.8v0.8h-0.8zM22.8 9.8h0.8v0.8h-0.8zM24.7 9.8h0.8v0.8h-0.8zM28.9 15.0h0.8v0.8h-0.8zM19.0 25.2h0.8v0.8h-0.8zM18.2 18.0h0.8v0.8h-0.8zM15.9 17.3h0.8v0.8h-0.8zM35.6 24.5h0.8v0.8h-0.8zM22.6 29.0h0.8v0.8h-0.8zM20.8 22.7h0.8v0.8h-0.8zM17.8 19.8h0.8v0.8h-0.8zM13.8 7.9h0.8v0.8h-0.8zM16.3 12.4h0.8v0.8h-0.8zM16.5 26.2h0.8v0.8h-0.8zM24.5 17.3h0.8v0.8h-0.8zM26.8 20.9h0.8v0.8h-0.8zM25.2 0.7h0.8v0.8h-0.8zM20.9 15.5h0.8v0.8h-0.8zM14.2 20.4h0.8v0.8h-0.8zM36.6 14.3h0.8v0.8h-0.8zM19.9 19.9h0.8v0.8h-0.8zM17.9 10.3h0.8v0.8h-0.8zM44.1 12.1h0.8v0.8h-0.8zM32.1 2.1h0.8v0.8h-0.8zM30.2 23.9h0.8v0.8h-0.8zM29.0 20.0h0.8v0.8h-0.8zM37.6 10.6h0.8v0.8h-0.8zM13.0 0.8h0.8v0.8h-0.8zM25.4 3.6h0.8v0.8h-0.8zM27.9 14.8h0.8v0.8h-0.8zM26.2 7.8h0.8v0.8h-0.8zM29.1 25.4h0.8v0.8h-0.8zM21.9 2.5h0.8v0.8h-0.8zM21.2 6.1h0.8v0.8h-0.8zM23.7 25.1h0.8v0.8h-0.8zM19.9 12.7h0.8v0.8h-0.8zM25.5 12.8h0.8v0.8h-0.8zM33.0 25.5h0.8v0.8h-0.8zM18.4 16.9h0.8v0.8h-0.8zM3.6 27.7h0.8v0.8h-0.8zM28.1 27.1h0.8v0.8h-0.8zM21.0 0.2h0.8v0.8h-0.8zM18.8 15.8h0.8v0.8h-0.8zM28.6 20.8h0.8v0.8h-0.8zM13.0 10.2h0.8v0.8h-0.8zM14.3 27.1h0.8v0.8h-0.8zM23.3 14.9h0.8v0.8h-0.8zM26.2 17.3h0.8v0.8h-0.8zM24.5 11.8h0.8v0.8h-0.8zM30.5 15.9h0.8v0.8h-0.8zM30.6 19.4h0.8v0.8h-0.8zM21.6 6.2h0.8v0.8h-0.8zM23.0 10.9h0.8v0.8h-0.8zM19.8 14.4h0.8v0.8h-0.8zM35.9 10.6h0.8v0.8h-0.8zM7.1 13.6h0.8v0.8h-0.8zM33.0 21.9h0.8v0.8h-0.8zM15.5 16.4h0.8v0.8h-0.8zM23.5 28.4h0.8v0.8h-0.8zM21.8 2.5h0.8v0.8h-0.8zM22.9 18.1h0.8v0.8h-0.8zM23.2 10.8h0.8v0.8h-0.8zM32.2 16.3h0.8v0.8h-0.8zM23.8 14.8h0.8v0.8h-0.8zM26.4 29.6h0.8v0.8h-0.8zM30.1 21.4h0.8v0.8h-0.8zM33.4 3.1h0.8v0.8h-0.8zM26.9 10.8h0.8v0.8h-0.8zM26.7 10.1h0.8v0.8h-0.8zM16.8 10.4h0.8v0.8h-0.8zM18.6 20.2h0.8v0.8h-0.8zM32.2 15.4h0.8v0.8h-0.8zM17.0 19.8h0.8v0.8h-0.8zM20.3 21.0h0.8v0.8h-0.8zM30.2 21.6h0.8v0.8h-0.8zM25.5 10.6h0.8v0.8h-0.8zM16.9 24.0h0.8v0.8h-0.8zM23.8 14.0h0.8v0.8h-0.8zM28.2 15.8h0.8v0.8h-0.8zM21.1 19.2h0.8v0.8h-0.8zM28.7 21.9h0.8v0.8h-0.8zM27.0 9.8h0.8v0.8h-0.8zM31.3 13.8h0.8v0.8h-0.8zM19.8 14.7h0.8v0.8h-0.8zM16.8 12.3h0.8v0.8h-0.8zM32.1 20.6h0.8v0.8h-0.8zM36.6 37.5h0.8v0.8h-0.8zM26.5 16.4h0.8v0.8h-0.8zM28.4 11.9h0.8v0.8h-0.8zM25.8 13.2h0.8v0.8h-0.8zM21.0 18.9h0.8v0.8h-0.8zM20.1 14.4h0.8v0.8h-0.8zM43.7 11.5h0.8v0.8h-0.8zM18.4 2.9h0.8v0.8h-0.8zM19.1 24.9h0.8v0.8h-0.8zM24.5 24.3h0.8v0.8h-0.8zM26.5 30.6h0.8v0.8h-0.8zM22.7 13.6h0.8v0.8h-0.8zM17.4 19.3h0.8v0.8h-0.8zM15.0 30.0h0.8v0.8h-0.8zM16.7 26.6h0.8v0.8h-0.8zM15.3 14.9h0.8v0.8h-0.8zM24.6 29.4h0.8v0.8h-0.8zM22.8 22.2h0.8v0.8h-0.8zM33.6 22.0h0.8v0.8h-0.8zM26.5 26.5h0.8v0.8h-0.8zM17.5 17.5h0.8v0.8h-0.8zM20.1 36.7h0.8v0.8h-0.8zM21.0 6.5h0.8v0.8h-0.8zM44.5 20.7h0.8v0.8h-0.8zM19.7 25.3h0.8v0.8h-0.8zM26.9 17.2h0.8v0.8h-0.8zM29.2 23.3h0.8v0.8h-0.8zM35.4 11.9h0.8v0.8h-0.8zM29.9 2.7h0.8v0.8h-0.8zM26.5 14.7h0.8v0.8h-0.8zM22.0 4.6h0.8v0.8h-0.8zM25.4 13.8h0.8v0.8h-0.8zM21.4 16.6h0.8v0.8h-0.8zM18.3 26.0h0.8v0.8h-0.8zM24.1 10.9h0.8v0.8h-0.8zM24.3 22.6h0.8v0.8h-0.8zM25.4 28.5h0.8v0.8h-0.8zM18.4 11.1h0.8v0.8h-0.8zM22.4 12.8h0.8v0.8h-0.8zM20.0 16.7h0.8v0.8h-0.8zM32.8 18.4h0.8v0.8h-0.8zM38.2 21.3h0.8v0.8h-0.8zM7.6 13.8h0.8v0.8h-0.8zM12.2 17.4h0.8v0.8h-0.8zM20.2 15.7h0.8v0.8h-0.8zM25.8 24.6h0.8v0.8h-0.8zM30.1 26.8h0.8v0.8h-0.8zM24.4 20.7h0.8v0.8h-0.8zM34.5 2.5h0.8v0.8h-0.8zM29.7 11.2h0.8v0.8h-0.8zM23.5 25.9h0.8v0.8h-0.8zM21.5 38.5h0.8v0.8h-0.8zM23.0 4.9h0.8v0.8h-0.8zM23.5 17.6h0.8v0.8h-0.8zM13.1 16.2h0.8v0.8h-0.8zM29.4 13.8h0.8v0.8h-0.8zM26.3 18.1h0.8v0.8h-0.8zM24.0 11.9h0.8v0.8h-0.8zM15.7 15.5h0.8v0.8h-0.8zM28.1 28.7h0.8v0.8h-0.8zM26.2 30.0h0.8v0.8h-0.8zM20.5 20.5h0.8v0.8h-0.8zM15.9 13.3h0.8v0.8h-0.8zM23.0 15.6h0.8v0.8h-0.8zM18.7 44.5h0.8v0.8h-0.8zM27.4 7.6h0.8v0.8h-0.8zM22.0 22.1h0.8v0.8h-0.8zM22.5 12.3h0.8v0.8h-0.8zM27.5 20.3h0.8v0.8h-0.8zM20.8 15.9h0.8v0.8h-0.8zM29.9 9.0h0.8v0.8h-0.8zM30.3 15.9h0.8v0.8h-0.8zM27.0 28.2h0.8v0.8h-0.8zM15.1 17.1h0.8v0.8h-0.8zM29.5 31.5h0.8v0.8h-0.8zM10.1 12.0h0.8v0.8h-0.8zM33.9 13.6h0.8v0.8h-0.8zM17.2 6.1h0.8v0.8h-0.8zM22.6 11.1h0.8v0.8h-0.8zM13.6 15.2h0.8v0.8h-0.8zM27.2 15.4h0.8v0.8h-0.8zM18.9 13.1h0.8v0.8h-0.8zM34.9 21.7h0.8v0.8h-0.8zM14.6 17.9h0.8v0.8h-0.8zM20.9 28.4h0.8v0.8h-0.8zM18.7 1.9h0.8v0.8h-0.8zM31.0 15.6h0.8v0.8h-0.8zM20.3 23.4h0.8v0.8h-0.8zM30.0 12.8h0.8v0.8h-0.8zM33.2 5.6h0.8v0.8h-0.8zM7.1 18.2h0.8v0.8h-0.8zM25.2 14.3h0.8v0.8h-0.8zM13.1 9.9h0.8v0.8h-0.8zM22.3 15.4h0.8v0.8h-0.8zM7.4 12.0h0.8v0.8h-0.8zM20.0 2.7h0.8v0.8h-0.8zM26.1 25.3h0.8v0.8h-0.8zM31.5 34.5h0.8v0.8h-0.8zM12.2 20.6h0.8v0.8h-0.8zM32.1 7.4h0.8v0.8h-0.8zM25.9 29.0h0.8v0.8h-0.8zM20.6 12.6h0.8v0.8h-0.8zM17.4 32.4h0.8v0.8h-0.8zM17.7 24.5h0.8v0.8h-0.8zM23.4 9.1h0.8v0.8h-0.8zM24.4 17.7h0.8v0.8h-0.8zM27.7 10.1h0.8v0.8h-0.8zM20.9 16.9h0.8v0.8h-0.8zM19.8 13.5h0.8v0.8h-0.8zM28.3 4.3h0.8v0.8h-0.8zM9.6 15.6h0.8v0.8h-0.8zM29.2 22.9h0.8v0.8h-0.8zM24.9 2.6h0.8v0.8h-0.8zM29.1 4.1h0.8v0.8h-0.8zM24.9 9.3h0.8v0.8h-0.8zM33.6 9.7h0.8v0.8h-0.8zM16.2 22.6h0.8v0.8h-0.8zM28.7 0.3h0.8v0.8h-0.8zM34.6 16.2h0.8v0.8h-0.8zM25.7 27.7h0.8v0.8h-0.8zM27.2 17.9h0.8v0.8h-0.8zM34.4 18.5h0.8v0.8h-0.8zM22.7 24.5h0.8v0.8h-0.8zM28.9 15.7h0.8v0.8h-0.8zM29.7 11.9h0.8v0.8h-0.8zM14.7 34.0h0.8v0.8h-0.8zM5.8 12.2h0.8v0.8h-0.8zM28.8 10.3h0.8v0.8h-0.8zM27.9 3.7h0.8v0.8h-0.8zM18.4 20.7h0.8v0.8h-0.8zM21.0 23.0h0.8v0.8h-0.8zM18.8 16.7h0.8v0.8h-0.8zM24.3 11.3h0.8v0.8h-0.8zM19.8 11.5h0.8v0.8h-0.8zM11.9 25.0h0.8v0.8h-0.8zM28.4 6.8h0.8v0.8h-0.8zM28.0 11.5h0.8v0.8h-0.8zM20.8 7.7h0.8v0.8h-0.8zM24.5 5.7h0.8v0.8h-0.8zM47.2 21.5h0.8v0.8h-0.8zM19.1 7.9h0.8v0.8h-0.8zM25.4 14.0h0.8v0.8h-0.8zM14.8 19.8h0.8v0.8h-0.8zM7.2 18.5h0.8v0.8h-0.8zM14.1 0.5h0.8v0.8h-0.8zM23.6 19.7h0.8v0.8h-0.8zM21.0 25.8h0.8v0.8h-0.8zM27.0 20.3h0.8v0.8h-0.8zM28.5 29.4h0.8v0.8h-0.8zM21.8 26.1h0.8v0.8h-0.8zM11.4 6.3h0.8v0.8h-0.8zM31.9 4.0h0.8v0.8h-0.8zM39.1 15.9h0.8v0.8h-0.8zM32.7 14.2h0.8v0.8h-0.8zM16.7 16.1h0.8v0.8h-0.8zM30.6 23.9h0.8v0.8h-0.8zM15.3 29.5h0.8v0.8h-0.8zM18.6 22.0h0.8v0.8h-0.8zM28.8 7.5h0.8v0.8h-0.8zM26.1 20.2h0.8v0.8h-0.8zM26.4 18.6h0.8v0.8h-0.8zM20.0 26.1h0.8v0.8h-0.8zM31.1 25.7h0.8v0.8h-0.8zM34.1 12.7h0.8v0.8h-0.8zM19.7 11.7h0.8v0.8h-0.8zM24.9 16.3h0.8v0.8h-0.8zM18.0 19.9h0.8v0.8h-0.8zM24.4 22.4h0.8v0.8h-0.8zM39.7 30.7h0.8v0.8h-0.8zM24.1 27.7h0.8v0.8h-0.8zM18.7 22.3h0.8v0.8h-0.8zM29.5 15.1h0.8v0.8h-0.8zM18.7 10.0h0.8v0.8h-0.8zM23.2 5.6h0.8v0.8h-0.8zM35.0 7.9h0.8v0.8h-0.8zM39.3 12.9h0.8v0.8h-0.8zM33.8 25.8h0.8v0.8h-0.8zM27.4 21.7h0.8v0.8h-0.8zM21.9 21.0h0.8v0.8h-0.8zM26.4 0.2h0.8v0.8h-0.8zM30.6 25.4h0.8v0.8h-0.8zM13.8 13.0h0.8v0.8h-0.8zM31.2 27.1h0.8v0.8h-0.8zM29.6 13.5h0.8v0.8h-0.8zM25.5 13.5h0.8v0.8h-0.8zM19.9 15.3h0.8v0.8h-0.8zM32.2 4.8h0.8v0.8h-0.8zM27.1 27.1h0.8v0.8h-0.8zM25.2 14.8h0.8v0.8h-0.8zM20.1 10.5h0.8v0.8h-0.8zM19.2 8.8h0.8v0.8h-0.8zM18.5 20.6h0.8v0.8h-0.8zM25.0 12.1h0.8v0.8h-0.8zM16.0 11.8h0.8v0.8h-0.8zM31.0 17.4h0.8v0.8h-0.8zM27.1 12.8h0.8v0.8h-0.8zM13.1 29.9h0.8v0.8h-0.8zM19.5 25.0h0.8v0.8h-0.8zM19.1 5.6h0.8v0.8h-0.8zM20.2 17.7h0.8v0.8h-0.8zM17.1 27.6h0.8v0.8h-0.8zM24.9 12.8h0.8v0.8h-0.8zM25.7 12.5h0.8v0.8h-0.8zM31.5 11.8h0.8v0.8h-0.8zM27.3 20.4h0.8v0.8h-0.8zM24.8 20.4h0.8v0.8h-0.8zM23.3 35.4h0.8v0.8h-0.8zM22.3 20.3h0.8v0.8h-0.8zM12.4 22.4h0.8v0.8h-0.8zM24.0 15.4h0.8v0.8h-0.8zM31.3 11.1h0.8v0.8h-0.8zM28.3 20.1h0.8v0.8h-0.8zM28.2 21.0h0.8v0.8h-0.8zM18.2 14.5h0.8v0.8h-0.8zM29.0 16.6h0.8v0.8h-0.8zM15.7 16.1h0.8v0.8h-0.8zM28.1 17.1h0.8v0.8h-0.8zM10.9 21.5h0.8v0.8h-0.8zM33.7 17.8h0.8v0.8h-0.8zM16.4 13.0h0.8v0.8h-0.8zM26.4 23.9h0.8v0.8h-0.8zM21.1 27.1h0.8v0.8h-0.8zM26.6 30.5h0.8v0.8h-0.8zM18.8 22.9h0.8v0.8h-0.8zM27.6 23.5h0.8v0.8h-0.8zM20.1 23.0h0.8v0.8h-0.8zM34.6 17.6h0.8v0.8h-0.8zM10.6 25.8h0.8v0.8h-0.8zM31.4 15.9h0.8v0.8h-0.8zM17.1 2.2h0.8v0.8h-0.8zM19.3 3.3h0.8v0.8h-0.8zM30.9 8.6h0.8v0.8h-0.8zM25.9 20.5h0.8v0.8h-0.8zM27.6 0.9h0.8v0.8h-0.8zM24.3 37.5h0.8v0.8h-0.8zM17.4 17.8h0.8v0.8h-0.8zM23.4 10.5h0.8v0.8h-0.8zM23.2 22.7h0.8v0.8h-0.8zM32.8 18.6h0.8v0.8h-0.8zM16.2 21.0h0.8v0.8h-0.8zM34.0 30.9h0.8v0.8h-0.8zM33.7 9.7h0.8v0.8h-0.8zM20.7 21.9h0.8v0.8h-0.8zM29.9 5.1h0.8v0.8h-0.8zM24.0 36.8h0.8v0.8h-0.8zM9.6 15.8h0.8v0.8h-0.8zM30.5 11.1h0.8v0.8h-0.8zM22.2 18.0h0.8v0.8h-0.8zM24.3 12.7h0.8v0.8h-0.8zM23.2 9.6h0.8v0.8h-0.8zM21.7 19.4h0.8v0.8h-0.8zM19.8 28.0h0.8v0.8h-0.8zM23.8 3.4h0.8v0.8h-0.8zM22.6 24.6h0.8v0.8h-0.8zM31.1 29.1h0.8v0.8h-0.8zM27.3 15.8h0.8v0.8h-0.8zM28.5 9.9h0.8v0.8h-0.8zM22.5 28.1h0.8v0.8h-0.8zM28.6 11.2h0.8v0.8h-0.8zM21.0 11.5h0.8v0.8h-0.8zM30.8 17.4h0.8v0.8h-0.8zM24.4 18.6h0.8v0.8h-0.8zM35.9 36.2h0.8v0.8h-0.8zM12.3 2.9h0.8v0.8h-0.8zM29.5 15.4h0.8v0.8h-0.8zM29.6 17.7h0.8v0.8h-0.8zM16.4 8.1h0.8v0.8h-0.8zM16.2 14.5h0.8v0.8h-0.8zM17.5 12.6h0.8v0.8h-0.8zM33.1 7.9h0.8v0.8h-0.8zM28.7 6.7h0.8v0.8h-0.8zM27.5 19.8h0.8v0.8h-0.8zM26.9 26.8h0.8v0.8h-0.8zM13.0 18.8h0.8v0.8h-0.8zM20.4 13.8h0.8v0.8h-0.8zM39.9 29.4h0.8v0.8h-0.8zM16.8 12.6h0.8v0.8h-0.8zM20.7 17.2h0.8v0.8h-0.8zM21.2 7.1h0.8v0.8h-0.8zM13.4 10.9h0.8v0.8h-0.8zM27.0 2.4h0.8v0.8h-0.8zM37.5 6.3h0.8v0.8h-0.8zM19.4 9.0h0.8v0.8h-0.8zM34.5 14.2h0.8v0.8h-0.8zM16.4 18.6h0.8v0.8h-0.8zM12.0 16.0h0.8v0.8h-0.8zM30.2 6.7h0.8v0.8h-0.8zM34.8 23.9h0.8v0.8h-0.8zM16.1 18.7h0.8v0.8h-0.8zM26.0 9.5h0.8v0.8h-0.8zM14.7 17.0h0.8v0.8h-0.8zM21.4 8.2h0.8v0.8h-0.8zM30.6 16.9h0.8v0.8h-0.8zM18.1 26.0h0.8v0.8h-0.8zM28.7 35.8h0.8v0.8h-0.8zM27.7 17.1h0.8v0.8h-0.8zM16.6 21.6h0.8v0.8h-0.8zM18.0 19.6h0.8v0.8h-0.8zM21.6 25.4h0.8v0.8h-0.8zM28.2 1.4h0.8v0.8h-0.8zM33.4 18.3h0.8v0.8h-0.8zM28.3 10.2h0.8v0.8h-0.8zM15.3 13.4h0.8v0.8h-0.8zM19.6 14.1h0.8v0.8h-0.8zM15.7 19.2h0.8v0.8h-0.8zM22.2 21.8h0.8v0.8h-0.8zM14.3 33.9h0.8v0.8h-0.8zM27.4 3.7h0.8v0.8h-0.8zM18.5 16.6h0.8v0.8h-0.8zM28.1 13.6h0.8v0.8h-0.8zM34.6 22.3h0.8v0.8h-0.8zM19.4 15.1h0.8v0.8h-0.8zM13.0 15.3h0.8v0.8h-0.8zM36.3 29.9h0.8v0.8h-0.8zM23.5 21.8h0.8v0.8h-0.8zM33.0 23.9h0.8v0.8h-0.8zM22.6 4.8h0.8v0.8h-0.8zM21.0 15.6h0.8v0.8h-0.8zM22.5 15.3h0.8v0.8h-0.8zM22.6 24.7h0.8v0.8h-0.8zM18.1 15.4h0.8v0.8h-0.8zM25.1 2.4h0.8v0.8h-0.8zM35.3 25.0h0.8v0.8h-0.8zM10.9 26.7h0.8v0.8h-0.8zM18.9 16.1h0.8v0.8h-0.8zM13.7 6.8h0.8v0.8h-0.8zM21.5 31.7h0.8v0.8h-0.8zM31.6 18.7h0.8v0.8h-0.8zM12.3 15.5h0.8v0.8h-0.8zM14.1 18.1h0.8v0.8h-0.8zM17.9 16.0h0.8v0.8h-0.8zM17.9 18.2h0.8v0.8h-0.8zM26.6 8.7h0.8v0.8h-0.8zM23.2 22.1h0.8v0.8h-0.8zM25.1 27.7h0.8v0.8h-0.8zM20.8 14.8h0.8v0.8h-0.8zM17.6 11.2h0.8v0.8h-0.8zM20.0 14.5h0.8v0.8h-0.8zM13.1 23.0h0.8v0.8h-0.8zM25.0 10.9h0.8v0.8h-0.8zM17.3 23.9h0.8v0.8h-0.8zM18.2 19.7h0.8v0.8h-0.8zM23.5 26.0h0.8v0.8h-0.8zM36.0 27.1h0.8v0.8h-0.8zM17.3 26.6h0.8v0.8h-0.8zM25.4 8.8h0.8v0.8h-0.8zM30.4 5.9h0.8v0.8h-0.8zM15.3 0.7h0.8v0.8h-0.8zM34.8 10.6h0.8v0.8h-0.8zM21.3 5.5h0.8v0.8h-0.8zM15.2 32.0h0.8v0.8h-0.8zM11.1 17.3h0.8v0.8h-0.8zM20.2 15.5h0.8v0.8h-0.8zM29.3 20.7h0.8v0.8h-0.8zM13.1 20.4h0.8v0.8h-0.8zM38.7 18.9h0.8v0.8h-0.8zM22.8 11.5h0.8v0.8h-0.8zM21.1 28.8h0.8v0.8h-0.8zM33.8 16.8h0.8v0.8h-0.8zM12.8 22.4h0.8v0.8h-0.8zM25.0 16.8h0.8v0.8h-0.8zM22.7 21.0h0.8v0.8h-0.8zM16.2 11.1h0.8v0.8h-0.8zM17.2 23.6h0.8v0.8h-0.8zM17.6 5.9h0.8v0.8h-0.8zM15.3 34.3h0.8v0.8h-0.8zM20.5 7.8h0.8v0.8h-0.8zM35.8 2.8h0.8v0.8h-0.8zM19.9 45.0h0.8v0.8h-0.8zM34.5 21.1h0.8v0.8h-0.8zM18.1 26.4h0.8v0.8h-0.8zM7.5 18.0h0.8v0.8h-0.8zM18.9 3.6h0.8v0.8h-0.8zM15.4 9.3h0.8v0.8h-0.8zM26.9 13.8h0.8v0.8h-0.8zM12.4 31.7h0.8v0.8h-0.8zM35.0 25.3h0.8v0.8h-0.8zM26.2 3.2h0.8v0.8h-0.8zM25.0 21.9h0.8v0.8h-0.8zM23.3 18.1h0.8v0.8h-0.8zM33.9 4.2h0.8v0.8h-0.8zM27.0 18.5h0.8v0.8h-0.8zM20.0 29.3h0.8v0.8h-0.8zM22.7 33.4h0.8v0.8h-0.8zM18.2 25.0h0.8v0.8h-0.8zM31.5 6.1h0.8v0.8h-0.8zM15.8 24.2h0.8v0.8h-0.8zM26.3 17.9h0.8v0.8h-0.8zM23.8 12.1h0.8v0.8h-0.8zM17.3 9.1h0.8v0.8h-0.8zM32.4 2.4h0.8v0.8h-0.8zM21.3 20.8h0.8v0.8h-0.8zM17.1 21.4h0.8v0.8h-0.8zM24.2 26.1h0.8v0.8h-0.8zM22.6 6.8h0.8v0.8h-0.8zM29.4 7.9h0.8v0.8h-0.8zM21.8 8.1h0.8v0.8h-0.8zM42.5 18.2h0.8v0.8h-0.8zM16.8 19.6h0.8v0.8h-0.8zM14.7 10.6h0.8v0.8h-0.8zM17.6 11.4h0.8v0.8h-0.8zM20.1 26.3h0.8v0.8h-0.8zM29.9 24.8h0.8v0.8h-0.8zM13.4 33.9h0.8v0.8h-0.8zM23.7 11.6h0.8v0.8h-0.8zM22.1 19.1h0.8v0.8h-0.8zM27.6 31.7h0.8v0.8h-0.8zM27.4 32.1h0.8v0.8h-0.8zM20.2 17.7h0.8v0.8h-0.8zM22.4 9.5h0.8v0.8h-0.8zM17.1 28.7h0.8v0.8h-0.8zM31.0 14.5h0.8v0.8h-0.8zM27.8 22.5h0.8v0.8h-0.8zM40.0 18.6h0.8v0.8h-0.8zM30.7 18.4h0.8v0.8h-0.8zM42.6 16.9h0.8v0.8h-0.8zM25.7 3.7h0.8v0.8h-0.8zM33.2 29.4h0.8v0.8h-0.8zM15.2 19.0h0.8v0.8h-0.8zM25.6 5.0h0.8v0.8h-0.8zM12.1 18.6h0.8v0.8h-0.8zM21.3 24.8h0.8v0.8h-0.8zM32.6 14.7h0.8v0.8h-0.8zM33.1 17.5h0.8v0.8h-0.8zM25.4 12.2h0.8v0.8h-0.8zM18.3 34.1h0.8v0.8h-0.8zM18.4 4.1h0.8v0.8h-0.8zM26.5 24.7h0.8v0.8h-0.8zM25.9 11.4h0.8v0.8h-0.8zM18.2 11.1h0.8v0.8h-0.8zM16.4 11.8h0.8v0.8h-0.8zM28.6 5.7h0.8v0.8h-0.8zM26.1 21.7h0.8v0.8h-0.8zM34.9 30.8h0.8v0.8h-0.8zM18.2 18.3h0.8v0.8h-0.8zM24.1 12.8h0.8v0.8h-0.8zM31.9 4.8h0.8v0.8h-0.8zM22.1 27.4h0.8v0.8h-0.8zM33.8 19.1h0.8v0.8h-0.8zM24.0 27.9h0.8v0.8h-0.8zM20.1 20.7h0.8v0.8h-0.8zM31.8 13.2h0.8v0.8h-0.8zM33.8 15.9h0.8v0.8h-0.8zM29.3 11.4h0.8v0.8h-0.8zM27.0 12.0h0.8v0.8h-0.8zM29.3 16.2h0.8v0.8h-0.8zM21.2 25.2h0.8v0.8h-0.8zM22.2 32.3h0.8v0.8h-0.8zM26.1 2.8h0.8v0.8h-0.8zM25.9 22.8h0.8v0.8h-0.8zM35.0 23.2h0.8v0.8h-0.8zM17.3 23.0h0.8v0.8h-0.8zM31.4 24.6h0.8v0.8h-0.8zM7.4 10.9h0.8v0.8h-0.8zM19.4 33.0h0.8v0.8h-0.8zM10.0 10.1h0.8v0.8h-0.8zM21.0 19.5h0.8v0.8h-0.8zM25.0 5.7h0.8v0.8h-0.8zM20.3 8.9h0.8v0.8h-0.8zM27.0 5.2h0.8v0.8h-0.8zM25.2 22.5h0.8v0.8h-0.8zM26.1 17.9h0.8v0.8h-0.8zM19.0 20.2h0.8v0.8h-0.8zM25.9 15.0h0.8v0.8h-0.8zM19.5 14.5h0.8v0.8h-0.8zM38.4 22.4h0.8v0.8h-0.8zM35.0 15.3h0.8v0.8h-0.8zM36.2 21.9h0.8v0.8h-0.8zM26.0 22.1h0.8v0.8h-0.8zM26.0 16.2h0.8v0.8h-0.8zM24.0 15.2h0.8v0.8h-0.8zM20.4 8.0h0.8v0.8h-0.8zM21.0 27.3h0.8v0.8h-0.8zM31.6 2.2h0.8v0.8h-0.8zM28.7 14.8h0.8v0.8h-0.8zM32.5 9.5h0.8v0.8h-0.8zM22.6 22.6h0.8v0.8h-0.8zM19.6 9.4h0.8v0.8h-0.8zM14.2 5.8h0.8v0.8h-0.8zM28.2 7.7h0.8v0.8h-0.8zM16.4 9.3h0.8v0.8h-0.8zM29.3 11.4h0.8v0.8h-0.8zM33.4 30.4h0.8v0.8h-0.8zM14.9 21.9h0.8v0.8h-0.8zM27.7 27.1h0.8v0.8h-0.8zM21.6 18.0h0.8v0.8h-0.8zM13.6 7.5h0.8v0.8h-0.8zM17.4 19.5h0.8v0.8h-0.8zM28.1 16.7h0.8v0.8h-0.8zM25.7 29.2h0.8v0.8h-0.8zM16.1 16.0h0.8v0.8h-0.8zM23.3 23.4h0.8v0.8h-0.8zM24.1 12.6h0.8v0.8h-0.8zM13.0 40.0h0.8v0.8h-0.8zM25.1 16.3h0.8v0.8h-0.8zM9.8 12.3h0.8v0.8h-0.8zM18.0 18.1h0.8v0.8h-0.8zM12.9 1.5h0.8v0.8h-0.8zM24.0 12.4h0.8v0.8h-0.8zM14.4 13.8h0.8v0.8h-0.8zM13.0 14.9h0.8v0.8h-0.8zM16.0 18.9h0.8v0.8h-0.8zM21.2 3.2h0.8v0.8h-0.8zM27.6 19.8h0.8v0.8h-0.8zM25.9 9.9h0.8v0.8h-0.8zM27.9 19.6h0.8v0.8h-0.8zM10.8 12.4h0.8v0.8h-0.8zM20.2 34.7h0.8v0.8h-0.8zM28.4 9.3h0.8v0.8h-0.8zM24.1 13.1h0.8v0.8h-0.8zM21.0 22.8h0.8v0.8h-0.8zM21.4 5.0h0.8v0.8h-0.8zM25.1 28.1h0.8v0.8h-0.8zM39.2 24.2h0.8v0.8h-0.8zM21.5 14.3h0.8v0.8h-0.8zM15.0 31.6h0.8v0.8h-0.8zM35.3 17.7h0.8v0.8h-0.8zM32.4 21.8h0.8v0.8h-0.8zM23.8 16.5h0.8v0.8h-0.8zM19.1 28.3h0.8v0.8h-0.8zM14.1 7.3h0.8v0.8h-0.8zM21.1 30.0h0.8v0.8h-0.8zM12.9 22.9h0.8v0.8h-0.8zM34.3 24.0h0.8v0.8h-0.8zM30.6 17.5h0.8v0.8h-0.8zM41.0 16.8h0.8v0.8h-0.8zM29.0 21.5h0.8v0.8h-0.8zM31.6 15.3h0.8v0.8h-0.8zM15.3 10.9h0.8v0.8h-0.8zM13.9 9.8h0.8v0.8h-0.8zM22.0 20.5h0.8v0.8h-0.8zM22.0 25.1h0.8v0.8h-0.8zM26.0 24.0h0.8v0.8h-0.8zM24.0 8.3h0.8v0.8h-0.8zM15.7 18.3h0.8v0.8h-0.8zM20.7 23.6h0.8v0.8h-0.8zM27.2 20.9h0.8v0.8h-0.8zM37.1 21.6h0.8v0.8h-0.8zM9.1 10.0h0.8v0.8h-0.8zM34.0 17.0h0.8v0.8h-0.8zM36.4 15.5h0.8v0.8h-0.8zM25.8 8.3h0.8v0.8h-0.8zM24.2 9.6h0.8v0.8h-0.8zM15.5 14.2h0.8v0.8h-0.8zM31.2 5.4h0.8v0.8h-0.8zM23.9 30.6h0.8v0.8h-0.8zM26.5 31.4h0.8v0.8h-0.8zM26.0 15.0h0.8v0.8h-0.8zM18.6 20.4h0.8v0.8h-0.8zM20.1 27.6h0.8v0.8h-0.8zM34.2 23.8h0.8v0.8h-0.8zM28.6 28.5h0.8v0.8h-0.8zM26.7 13.5h0.8v0.8h-0.8zM14.1 10.6h0.8v0.8h-0.8zM45.9 9.1h0.8v0.8h-0.8zM44.4 16.7h0.8v0.8h-0.8zM30.5 18.0h0.8v0.8h-0.8zM19.3 13.6h0.8v0.8h-0.8zM20.2 18.0h0.8v0.8h-0.8zM21.3 21.3h0.8v0.8h-0.8zM20.4 14.2h0.8v0.8h-0.8zM23.3 19.5h0.8v0.8h-0.8zM44.6 10.9h0.8v0.8h-0.8zM26.7 18.4h0.8v0.8h-0.8zM20.4 11.6h0.8v0.8h-0.8zM24.2 0.2h0.8v0.8h-0.8zM22.3 24.2h0.8v0.8h-0.8zM32.1 7.2h0.8v0.8h-0.8zM22.6 15.1h0.8v0.8h-0.8zM23.7 8.3h0.8v0.8h-0.8zM23.9 10.8h0.8v0.8h-0.8zM37.7 25.5h0.8v0.8h-0.8zM24.9 19.2h0.8v0.8h-0.8zM27.8 14.4h0.8v0.8h-0.8zM30.2 28.9h0.8v0.8h-0.8zM26.4 28.8h0.8v0.8h-0.8zM27.4 31.7h0.8v0.8h-0.8zM28.7 30.9h0.8v0.8h-0.8zM17.2 16.4h0.8v0.8h-0.8zM28.0 11.6h0.8v0.8h-0.8zM34.1 32.1h0.8v0.8h-0.8zM29.3 34.3h0.8v0.8h-0.8zM11.8 10.8h0.8v0.8h-0.8zM18.1 13.6h0.8v0.8h-0.8zM16.5 13.2h0.8v0.8h-0.8zM27.7 36.8h0.8v0.8h-0.8zM29.0 13.9h0.8v0.8h-0.8zM11.9 21.0h0.8v0.8h-0.8zM32.7 18.5h0.8v0.8h-0.8zM21.8 19.5h0.8v0.8h-0.8zM26.0 2.1h0.8v0.8h-0.8zM29.4 43.1h0.8v0.8h-0.8zM33.5 32.2h0.8v0.8h-0.8zM19.7 19.1h0.8v0.8h-0.8zM26.7 12.6h0.8v0.8h-0.8zM37.7 21.8h0.8v0.8h-0.8zM11.6 30.1h0.8v0.8h-0.8zM32.5 19.3h0.8v0.8h-0.8zM24.0 21.4h0.8v0.8h-0.8zM26.8 24.9h0.8v0.8h-0.8zM22.3 27.3h0.8v0.8h-0.8zM33.5 6.3h0.8v0.8h-0.8zM30.4 12.8h0.8v0.8h-0.8zM16.9 18.7h0.8v0.8h-0.8zM16.7 32.5h0.8v0.8h-0.8zM10.2 28.0h0.8v0.8h-0.8zM35.3 23.9h0.8v0.8h-0.8zM28.9 33.8h0.8v0.8h-0.8zM32.3 26.4h0.8v0.8h-0.8zM27.2 16.3h0.8v0.8h-0.8zM25.6 5.1h0.8v0.8h-0.8zM20.4 20.0h0.8v0.8h-0.8zM22.8 22.3h0.8v0.8h-0.8zM29.0 24.8h0.8v0.8h-0.8zM20.0 12.3h0.8v0.8h-0.8zM28.4 8.7h0.8v0.8h-0.8zM23.9 28.2h0.8v0.8h-0.8zM21.4 5.8h0.8v0.8h-0.8zM31.7 14.1h0.8v0.8h-0.8zM37.3 29.0h0.8v0.8h-0.8zM28.4 7.7h0.8v0.8h-0.8zM10.4 39.5h0.8v0.8h-0.8zM26.4 22.4h0.8v0.8h-0.8zM19.8 16.6h0.8v0.8h-0.8zM14.3 23.9h0.8v0.8h-0.8zM22.9 13.3h0.8v0.8h-0.8zM14.7 13.6h0.8v0.8h-0.8zM29.6 7.0h0.8v0.8h-0.8zM22.9 4.3h0.8v0.8h-0.8zM26.8 16.7h0.8v0.8h-0.8zM18.8 10.8h0.8v0.8h-0.8zM32.1 7.0h0.8v0.8h-0.8zM31.0 37.8h0.8v0.8h-0.8zM19.1 12.1h0.8v0.8h-0.8zM19.3 24.9h0.8v0.8h-0.8zM11.8 25.7h0.8v0.8h-0.8zM9.1 22.4h0.8v0.8h-0.8zM31.2 34.8h0.8v0.8h-0.8zM20.0 30.5h0.8v0.8h-0.8zM4.3 15.9h0.8v0.8h-0.8zM20.7 7.3h0.8v0.8h-0.8zM23.6 14.9h0.8v0.8h-0.8zM29.0 21.3h0.8v0.8h-0.8zM30.5 14.9h0.8v0.8h-0.8zM25.9 18.3h0.8v0.8h-0.8zM23.2 5.2h0.8v0.8h-0.8zM20.7 30.3h0.8v0.8h-0.8zM20.0 23.1h0.8v0.8h-0.8zM25.7 8.2h0.8v0.8h-0.8zM10.5 26.3h0.8v0.8h-0.8zM18.4 21.1h0.8v0.8h-0.8zM14.0 26.8h0.8v0.8h-0.8zM13.2 16.0h0.8v0.8h-0.8zM19.9 18.2h0.8v0.8h-0.8zM12.7 11.5h0.8v0.8h-0.8zM14.9 28.6h0.8v0.8h-0.8zM20.6 15.7h0.8v0.8h-0.8zM24.5 19.5h0.8v0.8h-0.8zM19.4 7.5h0.8v0.8h-0.8zM21.8 17.3h0.8v0.8h-0.8zM16.7 14.2h0.8v0.8h-0.8zM30.8 20.6h0.8v0.8h-0.8zM18.9 22.6h0.8v0.8h-0.8zM13.3 17.9h0.8v0.8h-0.8zM6.6 25.9h0.8v0.8h-0.8zM26.1 27.6h0.8v0.8h-0.8zM30.0 10.6h0.8v0.8h-0.8zM32.9 17.7h0.8v0.8h-0.8zM21.2 13.2h0.8v0.8h-0.8zM10.2 30.3h0.8v0.8h-0.8zM23.7 14.0h0.8v0.8h-0.8zM27.4 15.7h0.8v0.8h-0.8zM21.6 4.0h0.8v0.8h-0.8zM25.2 24.8h0.8v0.8h-0.8zM19.4 15.9h0.8v0.8h-0.8zM14.8 20.8h0.8v0.8h-0.8zM26.8 28.3h0.8v0.8h-0.8zM23.4 18.9h0.8v0.8h-0.8zM21.4 12.4h0.8v0.8h-0.8zM24.4 26.2h0.8v0.8h-0.8zM27.9 16.9h0.8v0.8h-0.8zM26.3 7.4h0.8v0.8h-0.8zM21.7 17.1h0.8v0.8h-0.8zM15.4 24.3h0.8v0.8h-0.8zM20.7 9.4h0.8v0.8h-0.8zM29.7 10.4h0.8v0.8h-0.8zM14.7 18.9h0.8v0.8h-0.8zM27.2 13.6h0.8v0.8h-0.8zM17.3 8.2h0.8v0.8h-0.8zM31.7 6.9h0.8v0.8h-0.8zM23.9 14.6h0.8v0.8h-0.8zM30.1 19.7h0.8v0.8h-0.8zM25.5 16.7h0.8v0.8h-0.8zM24.1 9.8h0.8v0.8h-0.8zM27.9 32.5h0.8v0.8h-0.8zM27.4 8.8h0.8v0.8h-0.8zM16.2 17.1h0.8v0.8h-0.8zM44.3 27.1h0.8v0.8h-0.8zM31.6 27.8h0.8v0.8h-0.8zM27.7 18.3h0.8v0.8h-0.8zM22.5 29.7h0.8v0.8h-0.8zM39.5 8.5h0.8v0.8h-0.8zM31.6 26.3h0.8v0.8h-0.8zM35.6 25.4h0.8v0.8h-0.8zM16.1 25.7h0.8v0.8h-0.8zM27.3 9.2h0.8v0.8h-0.8zM23.6 8.9h0.8v0.8h-0.8zM21.0 19.7h0.8v0.8h-0.8zM17.7 9.7h0.8v0.8h-0.8zM23.2 4.0h0.8v0.8h-0.8zM38.8 21.4h0.8v0.8h-0.8zM10.4 6.4h0.8v0.8h-0.8zM33.1 30.0h0.8v0.8h-0.8zM9.2 20.7h0.8v0.8h-0.8zM16.7 26.5h0.8v0.8h-0.8zM15.5 29.7h0.8v0.8h-0.8zM23.9 19.1h0.8v0.8h-0.8zM11.0 14.3h0.8v0.8h-0.8zM24.8 16.0h0.8v0.8h-0.8zM23.5 8.4h0.8v0.8h-0.8zM30.4 4.5h0.8v0.8h-0.8zM23.4 15.7h0.8v0.8h-0.8zM12.0 16.7h0.8v0.8h-0.8zM3.7 14.7h0.8v0.8h-0.8zM28.2 18.2h0.8v0.8h-0.8zM27.2 18.2h0.8v0.8h-0.8zM18.5 16.9h0.8v0.8h-0.8zM25.1 10.2h0.8v0.8h-0.8zM21.6 3.6h0.8v0.8h-0.8zM21.2 13.6h0.8v0.8h-0.8zM26.3 0.0h0.8v0.8h-0.8zM24.5 12.0h0.8v0.8h-0.8zM12.4 25.5h0.8v0.8h-0.8zM29.5 6.5h0.8v0.8h-0.8zM35.0 45.4h0.8v0.8h-0.8zM14.9 9.8h0.8v0.8h-0.8zM15.4 20.4h0.8v0.8h-0.8zM7.0 27.7h0.8v0.8h-0.8zM22.5 29.5h0.8v0.8h-0.8zM23.1 11.3h0.8v0.8h-0.8zM14.5 19.1h0.8v0.8h-0.8zM18.1 19.0h0.8v0.8h-0.8zM24.9 24.1h0.8v0.8h-0.8zM27.6 4.2h0.8v0.8h-0.8zM22.1 7.5h0.8v0.8h-0.8zM19.2 23.0h0.8v0.8h-0.8zM20.0 4.4h0.8v0.8h-0.8zM24.6 13.4h0.8v0.8h-0.8zM31.5 17.4h0.8v0.8h-0.8zM26.2 11.2h0.8v0.8h-0.8zM16.1 3.9h0.8v0.8h-0.8zM25.3 21.2h0.8v0.8h-0.8zM22.1 21.6h0.8v0.8h-0.8zM22.7 16.9h0.8v0.8h-0.8zM19.6 12.0h0.8v0.8h-0.8zM31.6 28.9h0.8v0.8h-0.8zM33.0 23.8h0.8v0.8h-0.8zM34.9 18.2h0.8v0.8h-0.8zM26.6 26.0h0.8v0.8h-0.8zM35.1 23.9h0.8v0.8h-0.8zM31.3 24.8h0.8v0.8h-0.8zM7.8 22.6h0.8v0.8h-0.8zM8.9 18.8h0.8v0.8h-0.8zM6.9 19.3h0.8v0.8h-0.8zM15.1 21.9h0.8v0.8h-0.8zM22.4 0.1h0.8v0.8h-0.8zM4.6 7.9h0.8v0.8h-0.8zM18.1 22.5h0.8v0.8h-0.8zM21.4 10.8h0.8v0.8h-0.8zM32.7 19.8h0.8v0.8h-0.8zM21.5 26.6h0.8v0.8h-0.8zM24.3 13.8h0.8v0.8h-0.8zM11.3 29.6h0.8v0.8h-0.8zM34.9 16.3h0.8v0.8h-0.8zM32.1 31.8h0.8v0.8h-0.8z" fill="#111"/>
<path d="M8.8 17.1h0.8v0.8h-0.8zM16.2 17.7h0.8v0.8h-0.8zM37.2 34.4h0.8v0.8h-0.8zM31.7 9.8h0.8v0.8h-0.8zM11.7 5.5h0.8v0.8h-0.8zM35.6 28.0h0.8v0.8h-0.8zM22.6 24.0h0.8v0.8h-0.8zM19.3 36.8h0.8v0.8h-0.8zM14.8 13.2h0.8v0.8h-0.8zM25.4 22.6h0.8v0.8h-0.8zM8.3 21.1h0.8v0.8h-0.8zM14.1 26.8h0.8v0.8h-0.8zM21.2 14.8h0.8v0.8h-0.8zM12.5 24.1h0.8v0.8h-0.8zM25.6 18.4h0.8v0.8h-0.8zM22.5 31.2h0.8v0.8h-0.8zM13.6 18.2h0.8v0.8h-0.8zM36.7 11.7h0.8v0.8h-0.8zM37.5 18.7h0.8v0.8h-0.8zM24.1 20.8h0.8v0.8h-0.8zM16.9 3.7h0.8v0.8h-0.8zM21.2 7.0h0.8v0.8h-0.8zM34.4 22.4h0.8v0.8h-0.8zM13.3 28.2h0.8v0.8h-0.8zM15.9 16.4h0.8v0.8h-0.8zM33.7 6.5h0.8v0.8h-0.8zM11.6 15.1h0.8v0.8h-0.8zM26.3 35.6h0.8v0.8h-0.8zM26.7 34.4h0.8v0.8h-0.8zM8.0 30.2h0.8v0.8h-0.8zM10.3 12.8h0.8v0.8h-0.8zM23.4 21.8h0.8v0.8h-0.8zM24.8 33.2h0.8v0.8h-0.8zM19.7 20.8h0.8v0.8h-0.8zM13.4 32.2h0.8v0.8h-0.8zM19.3 8.6h0.8v0.8h-0.8zM10.2 13.4h0.8v0.8h-0.8zM24.3 18.7h0.8v0.8h-0.8zM29.8 11.0h0.8v0.8h-0.8zM27.2 36.7h0.8v0.8h-0.8zM33.1 22.9h0.8v0.8h-0.8zM10.4 33.7h0.8v0.8h-0.8zM15.9 26.5h0.8v0.8h-0.8zM34.1 20.3h0.8v0.8h-0.8zM21.8 15.0h0.8v0.8h-0.8zM23.4 27.4h0.8v0.8h-0.8zM17.8 26.0h0.8v0.8h-0.8zM25.8 14.3h0.8v0.8h-0.8zM16.5 12.3h0.8v0.8h-0.8zM21.5 35.8h0.8v0.8h-0.8zM31.4 13.5h0.8v0.8h-0.8zM12.7 14.9h0.8v0.8h-0.8zM18.2 30.1h0.8v0.8h-0.8zM20.5 7.6h0.8v0.8h-0.8zM12.4 23.7h0.8v0.8h-0.8zM34.2 23.9h0.8v0.8h-0.8zM10.1 12.9h0.8v0.8h-0.8zM17.2 35.6h0.8v0.8h-0.8zM33.4 15.6h0.8v0.8h-0.8zM35.3 21.3h0.8v0.8h-0.8zM11.5 7.8h0.8v0.8h-0.8zM11.1 15.3h0.8v0.8h-0.8zM11.7 16.9h0.8v0.8h-0.8zM37.9 37.1h0.8v0.8h-0.8zM22.5 10.2h0.8v0.8h-0.8zM19.8 24.2h0.8v0.8h-0.8zM35.5 35.2h0.8v0.8h-0.8zM18.9 29.6h0.8v0.8h-0.8zM10.5 26.8h0.8v0.8h-0.8zM7.7 33.0h0.8v0.8h-0.8zM28.1 23.3h0.8v0.8h-0.8zM21.3 19.5h0.8v0.8h-0.8zM35.7 28.6h0.8v0.8h-0.8zM25.1 6.4h0.8v0.8h-0.8zM8.9 23.8h0.8v0.8h-0.8zM24.7 13.1h0.8v0.8h-0.8zM32.5 36.0h0.8v0.8h-0.8zM38.3 13.5h0.8v0.8h-0.8zM29.0 16.5h0.8v0.8h-0.8zM27.9 37.5h0.8v0.8h-0.8zM12.7 20.7h0.8v0.8h-0.8zM12.1 35.5h0.8v0.8h-0.8zM18.8 21.2h0.8v0.8h-0.8zM14.9 21.4h0.8v0.8h-0.8zM24.9 37.3h0.8v0.8h-0.8zM26.2 32.4h0.8v0.8h-0.8zM11.9 22.2h0.8v0.8h-0.8zM22.3 9.9h0.8v0.8h-0.8zM26.7 24.3h0.8v0.8h-0.8zM18.4 8.1h0.8v0.8h-0.8zM15.0 22.2h0.8v0.8h-0.8zM13.5 33.1h0.8v0.8h-0.8zM18.4 22.8h0.8v0.8h-0.8zM32.4 2.7h0.8v0.8h-0.8zM18.4 14.6h0.8v0.8h-0.8zM37.8 26.6h0.8v0.8h-0.8zM10.5 16.3h0.8v0.8h-0.8zM12.9 33.0h0.8v0.8h-0.8zM32.5 3.0h0.8v0.8h-0.8zM19.3 31.4h0.8v0.8h-0.8zM12.1 3.7h0.8v0.8h-0.8zM19.9 18.7h0.8v0.8h-0.8zM36.5 17.5h0.8v0.8h-0.8zM27.7 33.3h0.8v0.8h-0.8zM29.1 22.4h0.8v0.8h-0.8zM19.7 26.4h0.8v0.8h-0.8zM28.0 7.4h0.8v0.8h-0.8zM21.0 10.2h0.8v0.8h-0.8zM33.5 15.4h0.8v0.8h-0.8zM26.1 24.1h0.8v0.8h-0.8zM37.7 2.9h0.8v0.8h-0.8zM13.7 36.8h0.8v0.8h-0.8zM19.0 3.0h0.8v0.8h-0.8zM34.9 23.5h0.8v0.8h-0.8zM13.2 21.9h0.8v0.8h-0.8zM7.7 19.7h0.8v0.8h-0.8zM18.0 10.9h0.8v0.8h-0.8zM14.3 10.6h0.8v0.8h-0.8zM31.5 5.5h0.8v0.8h-0.8zM19.1 18.9h0.8v0.8h-0.8zM12.8 3.3h0.8v0.8h-0.8zM21.7 8.4h0.8v0.8h-0.8zM10.9 3.0h0.8v0.8h-0.8zM7.4 17.9h0.8v0.8h-0.8zM14.8 3.2h0.8v0.8h-0.8zM21.9 10.6h0.8v0.8h-0.8zM26.3 22.7h0.8v0.8h-0.8zM11.5 8.4h0.8v0.8h-0.8zM37.7 6.8h0.8v0.8h-0.8zM23.4 4.7h0.8v0.8h-0.8zM13.4 3.8h0.8v0.8h-0.8zM32.8 5.2h0.8v0.8h-0.8zM10.2 32.3h0.8v0.8h-0.8zM7.8 25.3h0.8v0.8h-0.8zM33.6 20.5h0.8v0.8h-0.8zM34.6 30.1h0.8v0.8h-0.8zM13.9 23.7h0.8v0.8h-0.8zM20.3 22.9h0.8v0.8h-0.8zM37.3 32.2h0.8v0.8h-0.8zM20.9 8.3h0.8v0.8h-0.8zM38.1 32.0h0.8v0.8h-0.8zM31.2 10.7h0.8v0.8h-0.8zM23.5 16.7h0.8v0.8h-0.8zM10.7 31.5h0.8v0.8h-0.8zM33.5 9.2h0.8v0.8h-0.8zM17.0 10.1h0.8v0.8h-0.8zM9.3 17.2h0.8v0.8h-0.8zM17.1 13.7h0.8v0.8h-0.8zM32.1 32.6h0.8v0.8h-0.8zM30.3 26.8h0.8v0.8h-0.8zM26.1 4.7h0.8v0.8h-0.8zM21.1 8.0h0.8v0.8h-0.8zM35.4 19.2h0.8v0.8h-0.8zM10.1 13.4h0.8v0.8h-0.8zM26.2 15.3h0.8v0.8h-0.8zM11.3 30.0h0.8v0.8h-0.8zM22.9 27.7h0.8v0.8h-0.8zM17.6 33.5h0.8v0.8h-0.8zM26.0 31.9h0.8v0.8h-0.8zM34.2 17.2h0.8v0.8h-0.8zM21.0 16.5h0.8v0.8h-0.8zM27.2 25.7h0.8v0.8h-0.8zM8.4 18.8h0.8v0.8h-0.8zM23.5 6.5h0.8v0.8h-0.8zM30.6 4.8h0.8v0.8h-0.8zM8.0 30.1h0.8v0.8h-0.8zM20.4 17.8h0.8v0.8h-0.8zM12.7 14.5h0.8v0.8h-0.8zM38.2 14.9h0.8v0.8h-0.8zM15.7 36.7h0.8v0.8h-0.8zM8.4 4.7h0.8v0.8h-0.8zM23.8 13.7h0.8v0.8h-0.8zM22.4 24.3h0.8v0.8h-0.8zM34.4 35.7h0.8v0.8h-0.8zM17.4 31.0h0.8v0.8h-0.8zM37.2 34.2h0.8v0.8h-0.8zM29.1 3.8h0.8v0.8h-0.8zM10.6 34.8h0.8v0.8h-0.8zM7.3 10.8h0.8v0.8h-0.8zM33.4 4.1h0.8v0.8h-0.8zM21.4 25.3h0.8v0.8h-0.8zM35.3 6.0h0.8v0.8h-0.8zM21.7 14.3h0.8v0.8h-0.8zM15.4 4.6h0.8v0.8h-0.8zM22.1 33.2h0.8v0.8h-0.8zM19.9 14.9h0.8v0.8h-0.8zM26.4 28.0h0.8v0.8h-0.8zM17.2 12.9h0.8v0.8h-0.8zM32.7 23.7h0.8v0.8h-0.8zM15.3 30.7h0.8v0.8h-0.8zM30.9 8.4h0.8v0.8h-0.8zM16.0 28.0h0.8v0.8h-0.8zM7.5 18.4h0.8v0.8h-0.8zM20.5 22.9h0.8v0.8h-0.8zM17.9 18.3h0.8v0.8h-0.8zM7.4 15.4h0.8v0.8h-0.8zM10.6 7.4h0.8v0.8h-0.8zM26.7 27.6h0.8v0.8h-0.8zM21.1 26.6h0.8v0.8h-0.8zM21.3 23.2h0.8v0.8h-0.8zM36.8 11.9h0.8v0.8h-0.8zM27.1 7.9h0.8v0.8h-0.8zM34.3 5.7h0.8v0.8h-0.8zM17.5 14.9h0.8v0.8h-0.8zM9.4 17.9h0.8v0.8h-0.8zM18.3 31.2h0.8v0.8h-0.8zM12.7 24.5h0.8v0.8h-0.8zM10.2 11.7h0.8v0.8h-0.8zM11.3 16.4h0.8v0.8h-0.8zM11.2 15.7h0.8v0.8h-0.8zM37.0 14.5h0.8v0.8h-0.8zM26.5 8.4h0.8v0.8h-0.8zM20.3 22.5h0.8v0.8h-0.8zM24.1 4.0h0.8v0.8h-0.8zM26.8 17.8h0.8v0.8h-0.8zM26.3 33.9h0.8v0.8h-0.8zM37.3 16.7h0.8v0.8h-0.8zM28.7 25.5h0.8v0.8h-0.8zM11.4 16.2h0.8v0.8h-0.8zM27.3 18.9h0.8v0.8h-0.8zM25.6 9.5h0.8v0.8h-0.8zM25.4 20.8h0.8v0.8h-0.8zM27.0 9.7h0.8v0.8h-0.8zM9.3 9.3h0.8v0.8h-0.8zM16.8 9.2h0.8v0.8h-0.8zM17.5 35.7h0.8v0.8h-0.8zM9.0 22.9h0.8v0.8h-0.8zM7.9 7.0h0.8v0.8h-0.8zM35.8 26.1h0.8v0.8h-0.8zM16.7 8.3h0.8v0.8h-0.8zM24.7 19.0h0.8v0.8h-0.8zM23.0 6.6h0.8v0.8h-0.8zM27.3 17.4h0.8v0.8h-0.8zM22.3 12.6h0.8v0.8h-0.8zM20.8 22.3h0.8v0.8h-0.8zM15.0 13.5h0.8v0.8h-0.8zM18.8 20.9h0.8v0.8h-0.8zM24.5 7.1h0.8v0.8h-0.8zM24.5 18.6h0.8v0.8h-0.8zM17.8 15.8h0.8v0.8h-0.8zM14.2 14.4h0.8v0.8h-0.8zM22.3 13.0h0.8v0.8h-0.8zM24.0 4.2h0.8v0.8h-0.8zM7.9 28.3h0.8v0.8h-0.8zM27.6 11.0h0.8v0.8h-0.8zM31.0 18.4h0.8v0.8h-0.8zM26.8 15.5h0.8v0.8h-0.8zM20.1 5.0h0.8v0.8h-0.8zM20.1 26.9h0.8v0.8h-0.8zM11.9 13.0h0.8v0.8h-0.8zM23.5 25.4h0.8v0.8h-0.8zM8.7 36.3h0.8v0.8h-0.8zM13.8 17.1h0.8v0.8h-0.8zM16.4 6.2h0.8v0.8h-0.8zM15.2 31.6h0.8v0.8h-0.8zM18.5 13.7h0.8v0.8h-0.8zM22.8 11.9h0.8v0.8h-0.8zM27.0 31.7h0.8v0.8h-0.8zM19.3 21.6h0.8v0.8h-0.8zM31.0 32.3h0.8v0.8h-0.8zM27.5 14.3h0.8v0.8h-0.8zM13.6 36.9h0.8v0.8h-0.8zM20.6 35.5h0.8v0.8h-0.8zM22.9 15.0h0.8v0.8h-0.8zM21.0 32.1h0.8v0.8h-0.8zM28.9 23.6h0.8v0.8h-0.8zM35.5 21.8h0.8v0.8h-0.8zM36.6 12.3h0.8v0.8h-0.8zM13.6 20.1h0.8v0.8h-0.8zM16.6 16.2h0.8v0.8h-0.8zM31.7 9.0h0.8v0.8h-0.8zM38.1 18.0h0.8v0.8h-0.8zM10.0 16.1h0.8v0.8h-0.8zM33.7 7.2h0.8v0.8h-0.8zM14.0 20.0h0.8v0.8h-0.8zM12.4 27.1h0.8v0.8h-0.8zM35.6 24.3h0.8v0.8h-0.8zM33.2 8.5h0.8v0.8h-0.8zM28.3 18.7h0.8v0.8h-0.8zM15.5 4.3h0.8v0.8h-0.8zM11.0 10.3h0.8v0.8h-0.8zM27.0 35.0h0.8v0.8h-0.8zM17.9 21.9h0.8v0.8h-0.8zM20.6 3.5h0.8v0.8h-0.8zM11.3 9.2h0.8v0.8h-0.8zM15.6 16.8h0.8v0.8h-0.8zM34.5 13.8h0.8v0.8h-0.8zM22.0 7.6h0.8v0.8h-0.8zM20.9 22.1h0.8v0.8h-0.8zM19.4 23.9h0.8v0.8h-0.8zM19.3 17.2h0.8v0.8h-0.8zM21.2 33.2h0.8v0.8h-0.8zM11.9 19.8h0.8v0.8h-0.8zM29.1 37.4h0.8v0.8h-0.8zM13.2 11.5h0.8v0.8h-0.8zM33.6 35.7h0.8v0.8h-0.8zM16.3 33.3h0.8v0.8h-0.8zM36.1 20.8h0.8v0.8h-0.8zM16.9 11.6h0.8v0.8h-0.8zM31.3 11.5h0.8v0.8h-0.8zM26.0 8.1h0.8v0.8h-0.8zM17.9 29.5h0.8v0.8h-0.8zM32.9 32.3h0.8v0.8h-0.8zM22.1 20.4h0.8v0.8h-0.8zM8.5 14.4h0.8v0.8h-0.8zM32.5 19.1h0.8v0.8h-0.8zM34.1 31.5h0.8v0.8h-0.8zM29.1 29.4h0.8v0.8h-0.8zM37.2 9.3h0.8v0.8h-0.8zM33.2 36.1h0.8v0.8h-0.8zM13.5 26.3h0.8v0.8h-0.8zM16.0 10.4h0.8v0.8h-0.8zM37.4 17.7h0.8v0.8h-0.8zM7.9 17.9h0.8v0.8h-0.8zM37.5 25.4h0.8v0.8h-0.8zM29.2 23.7h0.8v0.8h-0.8zM37.1 3.0h0.8v0.8h-0.8zM19.4 26.5h0.8v0.8h-0.8zM14.0 16.1h0.8v0.8h-0.8zM35.0 17.3h0.8v0.8h-0.8zM11.9 31.3h0.8v0.8h-0.8zM11.2 18.3h0.8v0.8h-0.8zM8.3 25.4h0.8v0.8h-0.8zM24.4 17.9h0.8v0.8h-0.8zM19.5 23.7h0.8v0.8h-0.8zM35.4 12.1h0.8v0.8h-0.8zM7.6 31.4h0.8v0.8h-0.8zM21.7 6.7h0.8v0.8h-0.8zM27.7 9.6h0.8v0.8h-0.8zM18.6 33.5h0.8v0.8h-0.8z" fill="#111"/>
<ellipse cx="20.03" cy="11.51" rx="9.42" ry="8.37" fill="url(#halo)" opacity="0.6" transform="rotate(0 20.03 11.51)"/>
<ellipse cx="11.78" cy="43.41" rx="10.60" ry="8.89" fill="url(#halo2)" opacity="0.8" transform="rotate(0 11.78 43.41)"/>
<path d="M11.3 35.3h0.8v0.8h-0.8zM7.2 36.2h0.8v0.8h-0.8zM4.0 37.8h0.8v0.8h-0.8zM3.4 48.1h0.8v0.8h-0.8zM7.4 50.8h0.8v0.8h-0.8zM2.3 45.9h0.8v0.8h-0.8zM5.9 35.7h0.8v0.8h-0.8zM8.2 51.7h0.8v0.8h-0.8zM20.6 47.1h0.8v0.8h-0.8zM17.2 36.6h0.8v0.8h-0.8zM5.7 35.8h0.8v0.8h-0.8zM5.0 49.3h0.8v0.8h-0.8zM4.3 38.2h0.8v0.8h-0.8zM0.9 42.6h0.8v0.8h-0.8zM4.2 37.8h0.8v0.8h-0.8zM22.7 42.3h0.8v0.8h-0.8zM3.4 38.4h0.8v0.8h-0.8zM19.9 49.4h0.8v0.8h-0.8zM5.8 35.6h0.8v0.8h-0.8zM22.4 42.9h0.8v0.8h-0.8zM1.1 41.5h0.8v0.8h-0.8zM16.6 51.2h0.8v0.8h-0.8zM17.8 36.3h0.8v0.8h-0.8zM5.7 35.9h0.8v0.8h-0.8zM7.8 35.9h0.8v0.8h-0.8z" fill="#111"/>
<ellipse cx="11.78" cy="43.41" rx="8.69" ry="7.29" fill="url(#light2)" transform="rotate(0 11.78 43.41)"/>
<ellipse cx="28.86" cy="44.98" rx="11.78" ry="9.41" fill="url(#halo2)" opacity="0.8" transform="rotate(0 28.86 44.98)"/>
<path d="M32.2 54.1h0.8v0.8h-0.8zM39.0 41.0h0.8v0.8h-0.8zM39.5 45.9h0.8v0.8h-0.8zM32.1 36.8h0.8v0.8h-0.8zM16.9 44.7h0.8v0.8h-0.8zM26.0 54.1h0.8v0.8h-0.8zM19.9 38.6h0.8v0.8h-0.8zM40.4 42.1h0.8v0.8h-0.8zM32.8 35.7h0.8v0.8h-0.8zM20.5 39.4h0.8v0.8h-0.8zM38.6 49.6h0.8v0.8h-0.8zM27.3 36.0h0.8v0.8h-0.8zM38.6 49.8h0.8v0.8h-0.8zM33.3 37.0h0.8v0.8h-0.8zM21.8 51.9h0.8v0.8h-0.8zM39.5 41.5h0.8v0.8h-0.8zM27.2 36.3h0.8v0.8h-0.8zM17.4 46.4h0.8v0.8h-0.8zM38.9 40.2h0.8v0.8h-0.8zM17.5 42.8h0.8v0.8h-0.8zM31.5 35.8h0.8v0.8h-0.8zM31.6 54.6h0.8v0.8h-0.8zM18.1 40.5h0.8v0.8h-0.8zM34.5 37.5h0.8v0.8h-0.8zM40.1 47.0h0.8v0.8h-0.8z" fill="#111"/>
<ellipse cx="28.86" cy="44.98" rx="9.66" ry="7.72" fill="url(#light2)" transform="rotate(0 28.86 44.98)"/>
</g></svg>
<rect x="60.7" y="311.7" width="58.9" height="52.3" fill="none" stroke="#b0b0b0" stroke-width="0.85"/>
<line x1="81.6095" y1="311.7" x2="81.6095" y2="364.0" stroke="#b0b0b0" stroke-width="0.8"/>
<line x1="60.7" y1="344.3875" x2="119.6" y2="344.3875" stroke="#b0b0b0" stroke-width="0.8"/>
<rect x="61.1" y="312.3" width="3.2" height="3.2" fill="#fff" opacity="0.85"/>
<rect x="62.3" y="316.3" width="7.0" height="3.4" fill="#fff" opacity="0.85"/>
<text x="61.5" y="315.3" font-size="3" fill="#333">B1</text>
<text x="62.7" y="319.1" font-size="3" fill="#444">5.7%</text>
<rect x="82.0" y="312.3" width="3.2" height="3.2" fill="#fff" opacity="0.85"/>
<rect x="83.2" y="316.3" width="7.0" height="3.4" fill="#fff" opacity="0.85"/>
<text x="82.4" y="315.3" font-size="3" fill="#333">B2</text>
<text x="83.6" y="319.1" font-size="3" fill="#444">3.6%</text>
<rect x="61.1" y="345.0" width="3.2" height="3.2" fill="#fff" opacity="0.85"/>
<rect x="62.3" y="349.0" width="8.6" height="3.4" fill="#fff" opacity="0.85"/>
<text x="61.5" y="348.0" font-size="3" fill="#333">B3</text>
<text x="62.7" y="351.8" font-size="3" fill="#444">60.6%</text>
<rect x="82.0" y="345.0" width="3.2" height="3.2" fill="#fff" opacity="0.85"/>
<rect x="83.2" y="349.0" width="8.6" height="3.4" fill="#fff" opacity="0.85"/>
<text x="82.4" y="348.0" font-size="3" fill="#333">B4</text>
<text x="83.6" y="351.8" font-size="3" fill="#444">30.1%</text>
<text x="131.7" y="309.59999999999997" font-size="5.8" text-anchor="start" fill="#333">29.1</text>
<text x="183.0" y="309.59999999999997" font-size="5.8" text-anchor="end" fill="#333">10.6</text>
<svg x="127.1" y="311.7" width="58.9" height="52.3" viewBox="0 0 58.9 52.3" overflow="hidden"><g filter="url(#soft)">
<path d="M18.2 44.7h0.8v0.8h-0.8zM27.4 50.9h0.8v0.8h-0.8zM19.2 45.9h0.8v0.8h-0.8zM26.7 19.1h0.8v0.8h-0.8zM33.6 21.0h0.8v0.8h-0.8zM4.2 19.6h0.8v0.8h-0.8zM9.6 18.5h0.8v0.8h-0.8zM27.9 25.8h0.8v0.8h-0.8zM37.2 23.0h0.8v0.8h-0.8zM25.3 28.3h0.8v0.8h-0.8zM23.8 45.6h0.8v0.8h-0.8zM5.9 46.6h0.8v0.8h-0.8zM32.9 14.3h0.8v0.8h-0.8zM23.6 51.0h0.8v0.8h-0.8zM0.0 37.5h0.8v0.8h-0.8zM36.3 23.6h0.8v0.8h-0.8zM26.2 0.4h0.8v0.8h-0.8zM12.5 20.8h0.8v0.8h-0.8zM28.8 24.6h0.8v0.8h-0.8zM28.3 27.9h0.8v0.8h-0.8zM11.9 31.5h0.8v0.8h-0.8zM22.4 24.3h0.8v0.8h-0.8zM28.1 14.9h0.8v0.8h-0.8zM21.8 39.5h0.8v0.8h-0.8zM12.9 28.6h0.8v0.8h-0.8zM18.9 3.4h0.8v0.8h-0.8zM36.4 22.9h0.8v0.8h-0.8zM30.8 16.8h0.8v0.8h-0.8zM5.8 21.5h0.8v0.8h-0.8zM28.0 29.0h0.8v0.8h-0.8zM29.0 37.0h0.8v0.8h-0.8zM6.4 16.4h0.8v0.8h-0.8zM22.2 17.4h0.8v0.8h-0.8zM15.9 5.5h0.8v0.8h-0.8zM28.2 31.9h0.8v0.8h-0.8zM4.5 21.5h0.8v0.8h-0.8zM30.3 23.9h0.8v0.8h-0.8zM24.0 17.6h0.8v0.8h-0.8zM12.1 27.2h0.8v0.8h-0.8zM11.0 13.5h0.8v0.8h-0.8zM18.7 18.7h0.8v0.8h-0.8zM32.3 27.8h0.8v0.8h-0.8zM10.6 3.5h0.8v0.8h-0.8zM6.6 19.6h0.8v0.8h-0.8zM25.6 22.9h0.8v0.8h-0.8zM13.4 3.8h0.8v0.8h-0.8zM16.1 8.4h0.8v0.8h-0.8zM34.9 29.0h0.8v0.8h-0.8zM34.9 24.0h0.8v0.8h-0.8zM1.5 43.9h0.8v0.8h-0.8zM11.0 35.2h0.8v0.8h-0.8zM4.5 16.3h0.8v0.8h-0.8zM12.7 7.8h0.8v0.8h-0.8zM3.8 40.2h0.8v0.8h-0.8zM11.5 45.3h0.8v0.8h-0.8zM23.0 26.4h0.8v0.8h-0.8zM22.4 18.1h0.8v0.8h-0.8zM14.8 28.9h0.8v0.8h-0.8zM18.5 12.2h0.8v0.8h-0.8zM25.3 29.9h0.8v0.8h-0.8zM32.9 15.0h0.8v0.8h-0.8zM42.5 26.9h0.8v0.8h-0.8zM28.0 34.1h0.8v0.8h-0.8zM0.6 20.3h0.8v0.8h-0.8zM29.5 48.9h0.8v0.8h-0.8zM15.2 51.5h0.8v0.8h-0.8zM29.7 16.9h0.8v0.8h-0.8zM32.5 26.4h0.8v0.8h-0.8zM2.8 36.2h0.8v0.8h-0.8zM18.7 18.8h0.8v0.8h-0.8zM4.6 16.8h0.8v0.8h-0.8zM30.0 16.5h0.8v0.8h-0.8zM4.8 8.4h0.8v0.8h-0.8zM5.2 15.3h0.8v0.8h-0.8zM24.5 41.9h0.8v0.8h-0.8zM11.9 31.9h0.8v0.8h-0.8zM35.7 15.2h0.8v0.8h-0.8zM13.8 27.7h0.8v0.8h-0.8zM22.7 25.4h0.8v0.8h-0.8zM4.8 25.3h0.8v0.8h-0.8zM26.7 8.1h0.8v0.8h-0.8zM8.1 14.7h0.8v0.8h-0.8zM36.0 22.2h0.8v0.8h-0.8zM6.6 48.1h0.8v0.8h-0.8zM28.6 20.3h0.8v0.8h-0.8zM20.9 29.1h0.8v0.8h-0.8zM24.4 24.0h0.8v0.8h-0.8zM19.9 16.5h0.8v0.8h-0.8zM18.6 35.3h0.8v0.8h-0.8zM19.4 19.8h0.8v0.8h-0.8zM16.3 25.8h0.8v0.8h-0.8zM36.5 29.2h0.8v0.8h-0.8zM16.4 32.4h0.8v0.8h-0.8zM0.4 21.8h0.8v0.8h-0.8zM15.9 34.1h0.8v0.8h-0.8zM22.1 42.5h0.8v0.8h-0.8zM18.4 19.7h0.8v0.8h-0.8zM18.7 2.5h0.8v0.8h-0.8zM8.5 20.7h0.8v0.8h-0.8zM29.3 29.8h0.8v0.8h-0.8zM4.8 38.6h0.8v0.8h-0.8zM23.2 29.8h0.8v0.8h-0.8zM29.2 28.3h0.8v0.8h-0.8zM29.2 33.2h0.8v0.8h-0.8zM9.4 31.6h0.8v0.8h-0.8zM13.1 27.0h0.8v0.8h-0.8zM2.7 13.6h0.8v0.8h-0.8zM25.7 6.0h0.8v0.8h-0.8zM27.7 28.8h0.8v0.8h-0.8zM11.6 25.5h0.8v0.8h-0.8zM2.8 26.2h0.8v0.8h-0.8zM17.5 12.9h0.8v0.8h-0.8zM8.7 14.2h0.8v0.8h-0.8zM17.9 18.2h0.8v0.8h-0.8zM24.8 48.4h0.8v0.8h-0.8zM16.5 15.0h0.8v0.8h-0.8zM10.9 12.2h0.8v0.8h-0.8zM24.5 30.1h0.8v0.8h-0.8zM19.1 29.8h0.8v0.8h-0.8zM32.7 24.8h0.8v0.8h-0.8zM21.1 42.0h0.8v0.8h-0.8zM5.9 40.1h0.8v0.8h-0.8zM7.9 46.4h0.8v0.8h-0.8zM24.6 28.2h0.8v0.8h-0.8zM18.7 35.6h0.8v0.8h-0.8zM27.1 36.2h0.8v0.8h-0.8zM25.2 26.8h0.8v0.8h-0.8zM27.1 45.1h0.8v0.8h-0.8zM27.6 0.3h0.8v0.8h-0.8zM16.1 42.1h0.8v0.8h-0.8zM19.4 49.1h0.8v0.8h-0.8zM5.2 29.8h0.8v0.8h-0.8zM33.4 0.5h0.8v0.8h-0.8zM15.9 51.3h0.8v0.8h-0.8zM17.5 28.4h0.8v0.8h-0.8zM21.5 17.9h0.8v0.8h-0.8zM14.6 50.6h0.8v0.8h-0.8zM23.5 13.6h0.8v0.8h-0.8zM15.5 10.7h0.8v0.8h-0.8zM30.3 28.4h0.8v0.8h-0.8zM20.9 35.7h0.8v0.8h-0.8zM5.6 38.5h0.8v0.8h-0.8zM19.0 37.0h0.8v0.8h-0.8zM10.4 20.8h0.8v0.8h-0.8zM3.8 17.4h0.8v0.8h-0.8zM20.4 25.2h0.8v0.8h-0.8zM22.1 29.2h0.8v0.8h-0.8zM9.2 26.9h0.8v0.8h-0.8zM10.0 29.8h0.8v0.8h-0.8zM28.7 26.1h0.8v0.8h-0.8zM17.5 11.9h0.8v0.8h-0.8zM27.4 44.8h0.8v0.8h-0.8zM9.1 40.3h0.8v0.8h-0.8zM10.9 21.3h0.8v0.8h-0.8zM34.0 29.7h0.8v0.8h-0.8zM13.5 38.7h0.8v0.8h-0.8zM10.9 15.3h0.8v0.8h-0.8zM17.3 7.2h0.8v0.8h-0.8zM22.8 33.4h0.8v0.8h-0.8zM35.5 10.3h0.8v0.8h-0.8zM20.5 39.1h0.8v0.8h-0.8zM17.8 37.4h0.8v0.8h-0.8zM20.2 34.3h0.8v0.8h-0.8zM22.6 8.7h0.8v0.8h-0.8zM31.5 22.3h0.8v0.8h-0.8zM10.7 22.8h0.8v0.8h-0.8zM8.6 35.5h0.8v0.8h-0.8zM24.4 43.0h0.8v0.8h-0.8zM19.0 12.3h0.8v0.8h-0.8zM22.2 27.3h0.8v0.8h-0.8zM13.3 34.0h0.8v0.8h-0.8zM18.7 40.7h0.8v0.8h-0.8zM12.9 20.6h0.8v0.8h-0.8zM27.6 27.4h0.8v0.8h-0.8zM18.4 23.3h0.8v0.8h-0.8zM0.6 16.3h0.8v0.8h-0.8zM23.9 23.2h0.8v0.8h-0.8zM29.8 16.8h0.8v0.8h-0.8zM17.1 14.9h0.8v0.8h-0.8zM28.6 31.6h0.8v0.8h-0.8zM25.3 24.8h0.8v0.8h-0.8zM46.0 21.2h0.8v0.8h-0.8zM6.8 29.3h0.8v0.8h-0.8zM19.8 24.9h0.8v0.8h-0.8zM12.3 21.6h0.8v0.8h-0.8zM17.2 7.9h0.8v0.8h-0.8zM10.2 15.8h0.8v0.8h-0.8zM30.7 5.1h0.8v0.8h-0.8zM30.4 29.4h0.8v0.8h-0.8zM32.8 11.6h0.8v0.8h-0.8zM17.8 39.2h0.8v0.8h-0.8zM30.0 14.1h0.8v0.8h-0.8zM16.9 24.1h0.8v0.8h-0.8zM32.8 16.3h0.8v0.8h-0.8zM17.2 19.6h0.8v0.8h-0.8zM21.7 26.8h0.8v0.8h-0.8zM17.8 21.8h0.8v0.8h-0.8zM15.6 39.7h0.8v0.8h-0.8zM10.8 33.0h0.8v0.8h-0.8zM27.6 37.1h0.8v0.8h-0.8zM26.9 32.6h0.8v0.8h-0.8zM16.7 32.7h0.8v0.8h-0.8zM31.3 40.0h0.8v0.8h-0.8zM28.2 34.5h0.8v0.8h-0.8zM1.7 2.6h0.8v0.8h-0.8zM4.2 8.6h0.8v0.8h-0.8zM21.1 20.5h0.8v0.8h-0.8zM35.0 35.3h0.8v0.8h-0.8zM16.2 43.8h0.8v0.8h-0.8zM15.2 34.5h0.8v0.8h-0.8zM8.9 37.2h0.8v0.8h-0.8zM20.9 16.2h0.8v0.8h-0.8zM28.6 38.9h0.8v0.8h-0.8zM24.5 13.8h0.8v0.8h-0.8zM19.0 22.7h0.8v0.8h-0.8zM27.9 39.7h0.8v0.8h-0.8zM8.3 36.8h0.8v0.8h-0.8zM13.4 30.3h0.8v0.8h-0.8zM11.1 17.7h0.8v0.8h-0.8zM15.0 13.9h0.8v0.8h-0.8zM28.1 39.7h0.8v0.8h-0.8zM13.2 30.3h0.8v0.8h-0.8zM14.6 23.9h0.8v0.8h-0.8zM11.0 36.7h0.8v0.8h-0.8zM21.9 24.5h0.8v0.8h-0.8zM19.5 0.9h0.8v0.8h-0.8zM22.2 22.0h0.8v0.8h-0.8zM8.4 30.8h0.8v0.8h-0.8zM23.7 26.9h0.8v0.8h-0.8zM20.1 30.8h0.8v0.8h-0.8zM13.0 2.6h0.8v0.8h-0.8zM3.5 44.8h0.8v0.8h-0.8zM27.1 0.1h0.8v0.8h-0.8zM20.3 40.3h0.8v0.8h-0.8zM19.4 30.0h0.8v0.8h-0.8zM30.5 24.6h0.8v0.8h-0.8zM11.3 9.2h0.8v0.8h-0.8zM17.4 28.9h0.8v0.8h-0.8zM14.8 41.8h0.8v0.8h-0.8zM24.9 30.5h0.8v0.8h-0.8zM20.6 22.5h0.8v0.8h-0.8zM9.2 16.7h0.8v0.8h-0.8zM14.2 5.7h0.8v0.8h-0.8zM19.6 9.7h0.8v0.8h-0.8zM27.8 4.1h0.8v0.8h-0.8zM28.3 24.4h0.8v0.8h-0.8zM21.1 43.8h0.8v0.8h-0.8zM11.5 12.1h0.8v0.8h-0.8zM27.2 36.9h0.8v0.8h-0.8zM20.8 27.7h0.8v0.8h-0.8zM14.6 15.2h0.8v0.8h-0.8zM35.6 8.0h0.8v0.8h-0.8zM17.8 18.3h0.8v0.8h-0.8zM19.3 44.4h0.8v0.8h-0.8zM7.5 19.2h0.8v0.8h-0.8zM23.8 26.2h0.8v0.8h-0.8zM26.9 18.9h0.8v0.8h-0.8zM18.8 42.1h0.8v0.8h-0.8zM13.3 16.3h0.8v0.8h-0.8zM2.7 38.8h0.8v0.8h-0.8zM22.6 1.7h0.8v0.8h-0.8zM18.1 23.7h0.8v0.8h-0.8zM29.6 35.7h0.8v0.8h-0.8zM17.4 21.0h0.8v0.8h-0.8zM6.8 36.9h0.8v0.8h-0.8zM16.5 28.8h0.8v0.8h-0.8zM5.1 20.3h0.8v0.8h-0.8zM11.9 22.3h0.8v0.8h-0.8zM16.7 29.9h0.8v0.8h-0.8zM10.9 23.8h0.8v0.8h-0.8zM9.9 28.5h0.8v0.8h-0.8zM11.3 1.8h0.8v0.8h-0.8zM16.5 45.6h0.8v0.8h-0.8zM18.0 16.9h0.8v0.8h-0.8zM15.6 13.4h0.8v0.8h-0.8zM6.7 37.1h0.8v0.8h-0.8zM25.0 24.8h0.8v0.8h-0.8zM24.0 32.1h0.8v0.8h-0.8zM13.0 9.8h0.8v0.8h-0.8zM19.3 16.4h0.8v0.8h-0.8zM20.6 13.9h0.8v0.8h-0.8zM24.9 42.8h0.8v0.8h-0.8zM17.4 41.5h0.8v0.8h-0.8zM31.3 5.3h0.8v0.8h-0.8zM12.3 7.8h0.8v0.8h-0.8zM26.8 27.6h0.8v0.8h-0.8zM28.5 26.8h0.8v0.8h-0.8zM12.8 6.7h0.8v0.8h-0.8zM9.8 30.7h0.8v0.8h-0.8zM15.1 26.5h0.8v0.8h-0.8zM20.4 23.4h0.8v0.8h-0.8zM12.9 22.5h0.8v0.8h-0.8zM18.3 43.2h0.8v0.8h-0.8zM18.6 27.3h0.8v0.8h-0.8zM21.1 27.8h0.8v0.8h-0.8zM17.0 47.5h0.8v0.8h-0.8zM22.3 42.9h0.8v0.8h-0.8zM11.2 40.6h0.8v0.8h-0.8zM9.6 27.1h0.8v0.8h-0.8zM5.3 25.7h0.8v0.8h-0.8zM9.9 37.7h0.8v0.8h-0.8zM3.0 28.1h0.8v0.8h-0.8zM18.1 19.3h0.8v0.8h-0.8zM27.8 29.2h0.8v0.8h-0.8zM20.8 42.3h0.8v0.8h-0.8zM20.2 45.7h0.8v0.8h-0.8zM11.3 30.8h0.8v0.8h-0.8zM15.3 45.0h0.8v0.8h-0.8zM17.9 29.1h0.8v0.8h-0.8zM31.1 11.5h0.8v0.8h-0.8zM14.7 27.0h0.8v0.8h-0.8zM12.4 42.0h0.8v0.8h-0.8zM11.5 21.8h0.8v0.8h-0.8zM14.9 33.4h0.8v0.8h-0.8zM20.1 35.4h0.8v0.8h-0.8zM6.8 37.0h0.8v0.8h-0.8zM19.8 17.8h0.8v0.8h-0.8zM23.1 18.2h0.8v0.8h-0.8zM31.4 30.8h0.8v0.8h-0.8zM37.0 4.0h0.8v0.8h-0.8zM27.2 16.4h0.8v0.8h-0.8zM8.9 4.4h0.8v0.8h-0.8zM19.0 20.9h0.8v0.8h-0.8zM16.1 27.9h0.8v0.8h-0.8zM28.2 30.8h0.8v0.8h-0.8zM19.5 29.1h0.8v0.8h-0.8zM22.4 25.6h0.8v0.8h-0.8zM21.9 9.9h0.8v0.8h-0.8zM6.4 34.0h0.8v0.8h-0.8zM14.1 19.7h0.8v0.8h-0.8zM38.7 11.4h0.8v0.8h-0.8zM19.4 9.5h0.8v0.8h-0.8zM15.4 23.3h0.8v0.8h-0.8zM6.6 41.0h0.8v0.8h-0.8zM4.1 4.1h0.8v0.8h-0.8zM22.7 28.5h0.8v0.8h-0.8zM18.3 23.6h0.8v0.8h-0.8zM32.8 24.9h0.8v0.8h-0.8zM16.4 42.8h0.8v0.8h-0.8zM27.0 36.4h0.8v0.8h-0.8zM28.0 46.9h0.8v0.8h-0.8zM29.5 19.8h0.8v0.8h-0.8zM1.6 39.9h0.8v0.8h-0.8zM25.1 19.7h0.8v0.8h-0.8zM14.9 19.7h0.8v0.8h-0.8zM21.7 19.9h0.8v0.8h-0.8zM12.5 35.3h0.8v0.8h-0.8zM5.1 46.0h0.8v0.8h-0.8zM23.1 40.7h0.8v0.8h-0.8zM1.0 40.0h0.8v0.8h-0.8zM8.4 32.6h0.8v0.8h-0.8zM20.0 46.1h0.8v0.8h-0.8zM19.1 14.1h0.8v0.8h-0.8zM16.6 15.0h0.8v0.8h-0.8zM19.4 32.0h0.8v0.8h-0.8zM19.2 41.2h0.8v0.8h-0.8zM15.2 43.2h0.8v0.8h-0.8zM8.9 6.3h0.8v0.8h-0.8zM24.5 26.7h0.8v0.8h-0.8zM26.7 40.7h0.8v0.8h-0.8zM34.3 23.9h0.8v0.8h-0.8zM0.9 16.3h0.8v0.8h-0.8zM22.5 15.0h0.8v0.8h-0.8zM27.7 15.5h0.8v0.8h-0.8zM19.9 31.9h0.8v0.8h-0.8zM16.8 26.4h0.8v0.8h-0.8zM18.4 12.7h0.8v0.8h-0.8zM28.3 2.5h0.8v0.8h-0.8zM11.6 33.5h0.8v0.8h-0.8zM22.0 12.9h0.8v0.8h-0.8zM22.0 43.5h0.8v0.8h-0.8zM26.9 23.8h0.8v0.8h-0.8zM22.5 10.3h0.8v0.8h-0.8zM14.0 21.9h0.8v0.8h-0.8zM7.5 15.4h0.8v0.8h-0.8zM19.1 37.6h0.8v0.8h-0.8zM19.7 32.2h0.8v0.8h-0.8zM8.7 23.2h0.8v0.8h-0.8zM0.3 15.8h0.8v0.8h-0.8zM31.9 41.4h0.8v0.8h-0.8zM35.7 52.1h0.8v0.8h-0.8zM2.8 21.4h0.8v0.8h-0.8zM6.7 30.1h0.8v0.8h-0.8zM23.4 26.5h0.8v0.8h-0.8zM26.8 14.4h0.8v0.8h-0.8zM30.1 5.7h0.8v0.8h-0.8zM11.4 36.3h0.8v0.8h-0.8zM15.2 11.3h0.8v0.8h-0.8zM15.6 18.3h0.8v0.8h-0.8zM21.9 39.4h0.8v0.8h-0.8zM24.1 18.7h0.8v0.8h-0.8zM13.8 25.2h0.8v0.8h-0.8zM13.0 21.2h0.8v0.8h-0.8zM5.9 32.3h0.8v0.8h-0.8zM20.9 0.1h0.8v0.8h-0.8zM9.2 35.5h0.8v0.8h-0.8zM28.8 4.8h0.8v0.8h-0.8zM23.6 37.7h0.8v0.8h-0.8zM15.6 28.8h0.8v0.8h-0.8zM22.7 14.8h0.8v0.8h-0.8zM0.2 29.2h0.8v0.8h-0.8zM13.1 40.3h0.8v0.8h-0.8zM22.4 46.2h0.8v0.8h-0.8zM17.1 21.7h0.8v0.8h-0.8zM24.2 27.5h0.8v0.8h-0.8zM16.9 5.1h0.8v0.8h-0.8zM15.7 6.2h0.8v0.8h-0.8zM6.0 32.9h0.8v0.8h-0.8zM16.4 11.9h0.8v0.8h-0.8zM16.3 12.3h0.8v0.8h-0.8zM6.5 22.7h0.8v0.8h-0.8zM14.5 26.5h0.8v0.8h-0.8zM29.6 38.4h0.8v0.8h-0.8zM10.8 38.0h0.8v0.8h-0.8zM19.8 13.5h0.8v0.8h-0.8zM13.9 28.9h0.8v0.8h-0.8zM37.3 49.8h0.8v0.8h-0.8zM26.5 11.8h0.8v0.8h-0.8zM18.6 7.4h0.8v0.8h-0.8zM29.8 39.1h0.8v0.8h-0.8zM2.3 31.5h0.8v0.8h-0.8zM18.9 38.2h0.8v0.8h-0.8zM29.6 48.5h0.8v0.8h-0.8zM24.0 30.2h0.8v0.8h-0.8zM2.4 47.5h0.8v0.8h-0.8zM11.6 1.5h0.8v0.8h-0.8zM15.7 42.6h0.8v0.8h-0.8zM22.5 15.8h0.8v0.8h-0.8zM12.7 36.3h0.8v0.8h-0.8zM16.8 26.9h0.8v0.8h-0.8zM21.0 29.1h0.8v0.8h-0.8zM4.1 36.0h0.8v0.8h-0.8zM20.9 43.3h0.8v0.8h-0.8zM2.0 21.6h0.8v0.8h-0.8zM15.9 10.2h0.8v0.8h-0.8zM22.5 5.2h0.8v0.8h-0.8zM20.3 19.1h0.8v0.8h-0.8zM17.5 23.6h0.8v0.8h-0.8zM8.6 29.9h0.8v0.8h-0.8zM9.2 6.6h0.8v0.8h-0.8zM15.1 35.6h0.8v0.8h-0.8zM37.5 29.8h0.8v0.8h-0.8zM21.3 13.6h0.8v0.8h-0.8zM17.4 34.4h0.8v0.8h-0.8zM23.5 12.0h0.8v0.8h-0.8zM22.9 36.2h0.8v0.8h-0.8zM13.4 22.1h0.8v0.8h-0.8zM13.2 25.7h0.8v0.8h-0.8zM27.2 38.9h0.8v0.8h-0.8zM9.9 6.6h0.8v0.8h-0.8zM22.6 20.1h0.8v0.8h-0.8zM17.4 34.5h0.8v0.8h-0.8zM17.1 17.4h0.8v0.8h-0.8zM24.9 48.5h0.8v0.8h-0.8zM16.0 14.8h0.8v0.8h-0.8zM0.9 43.7h0.8v0.8h-0.8zM3.4 27.4h0.8v0.8h-0.8zM1.1 47.4h0.8v0.8h-0.8zM0.4 15.3h0.8v0.8h-0.8zM13.3 21.7h0.8v0.8h-0.8zM32.1 26.7h0.8v0.8h-0.8zM18.2 14.8h0.8v0.8h-0.8zM22.6 4.9h0.8v0.8h-0.8zM15.3 8.2h0.8v0.8h-0.8zM12.9 23.0h0.8v0.8h-0.8zM18.8 5.0h0.8v0.8h-0.8zM11.9 22.9h0.8v0.8h-0.8zM28.5 21.5h0.8v0.8h-0.8zM17.8 21.0h0.8v0.8h-0.8zM19.8 37.4h0.8v0.8h-0.8zM11.0 18.9h0.8v0.8h-0.8zM32.2 26.1h0.8v0.8h-0.8zM17.8 22.3h0.8v0.8h-0.8zM3.6 36.5h0.8v0.8h-0.8zM10.7 43.9h0.8v0.8h-0.8zM6.1 43.2h0.8v0.8h-0.8zM6.1 3.7h0.8v0.8h-0.8zM22.9 41.7h0.8v0.8h-0.8zM1.8 42.4h0.8v0.8h-0.8zM15.8 11.8h0.8v0.8h-0.8zM12.0 4.2h0.8v0.8h-0.8zM6.2 16.8h0.8v0.8h-0.8zM25.8 30.3h0.8v0.8h-0.8zM15.0 17.4h0.8v0.8h-0.8zM32.4 15.5h0.8v0.8h-0.8zM8.2 16.2h0.8v0.8h-0.8zM23.2 17.6h0.8v0.8h-0.8zM1.9 10.3h0.8v0.8h-0.8zM35.0 30.6h0.8v0.8h-0.8zM10.4 27.1h0.8v0.8h-0.8zM20.7 43.3h0.8v0.8h-0.8zM24.1 11.6h0.8v0.8h-0.8zM20.7 7.3h0.8v0.8h-0.8zM8.6 21.5h0.8v0.8h-0.8zM36.6 26.9h0.8v0.8h-0.8zM14.0 33.4h0.8v0.8h-0.8zM17.0 43.3h0.8v0.8h-0.8zM15.1 32.9h0.8v0.8h-0.8zM30.7 27.5h0.8v0.8h-0.8zM12.5 50.7h0.8v0.8h-0.8zM17.5 46.8h0.8v0.8h-0.8zM21.2 35.9h0.8v0.8h-0.8zM13.1 18.9h0.8v0.8h-0.8zM9.3 33.5h0.8v0.8h-0.8zM6.2 49.1h0.8v0.8h-0.8zM29.3 14.0h0.8v0.8h-0.8zM13.6 20.1h0.8v0.8h-0.8zM22.5 38.3h0.8v0.8h-0.8zM27.1 18.4h0.8v0.8h-0.8zM14.7 12.1h0.8v0.8h-0.8zM28.5 1.0h0.8v0.8h-0.8zM19.2 22.5h0.8v0.8h-0.8zM14.7 22.7h0.8v0.8h-0.8zM3.0 22.4h0.8v0.8h-0.8zM21.6 20.3h0.8v0.8h-0.8zM13.8 36.9h0.8v0.8h-0.8zM19.7 29.9h0.8v0.8h-0.8zM18.6 51.4h0.8v0.8h-0.8zM19.1 50.9h0.8v0.8h-0.8zM21.0 41.6h0.8v0.8h-0.8zM14.9 39.0h0.8v0.8h-0.8zM7.5 12.3h0.8v0.8h-0.8zM12.5 21.2h0.8v0.8h-0.8zM27.0 28.8h0.8v0.8h-0.8zM22.9 36.0h0.8v0.8h-0.8zM14.8 3.7h0.8v0.8h-0.8zM22.5 30.5h0.8v0.8h-0.8zM17.4 20.2h0.8v0.8h-0.8zM3.8 3.6h0.8v0.8h-0.8zM11.1 36.7h0.8v0.8h-0.8zM31.9 13.1h0.8v0.8h-0.8zM3.8 25.4h0.8v0.8h-0.8zM5.8 26.8h0.8v0.8h-0.8zM29.6 22.8h0.8v0.8h-0.8zM23.3 39.7h0.8v0.8h-0.8zM15.9 37.1h0.8v0.8h-0.8zM13.9 51.8h0.8v0.8h-0.8zM16.6 16.0h0.8v0.8h-0.8zM19.7 29.0h0.8v0.8h-0.8zM29.6 46.4h0.8v0.8h-0.8zM38.0 35.7h0.8v0.8h-0.8zM5.1 49.6h0.8v0.8h-0.8zM18.5 26.3h0.8v0.8h-0.8zM44.6 29.9h0.8v0.8h-0.8zM33.0 19.0h0.8v0.8h-0.8zM0.7 8.0h0.8v0.8h-0.8zM19.6 10.4h0.8v0.8h-0.8zM22.7 1.4h0.8v0.8h-0.8zM20.1 28.8h0.8v0.8h-0.8zM15.0 20.9h0.8v0.8h-0.8zM14.2 46.6h0.8v0.8h-0.8zM13.7 15.7h0.8v0.8h-0.8zM16.1 25.4h0.8v0.8h-0.8zM20.8 17.8h0.8v0.8h-0.8zM40.6 46.0h0.8v0.8h-0.8zM13.4 28.9h0.8v0.8h-0.8zM28.6 31.0h0.8v0.8h-0.8zM15.2 16.1h0.8v0.8h-0.8zM19.1 22.6h0.8v0.8h-0.8zM21.5 15.6h0.8v0.8h-0.8zM23.0 30.6h0.8v0.8h-0.8zM25.1 49.3h0.8v0.8h-0.8zM8.8 10.3h0.8v0.8h-0.8zM5.7 48.8h0.8v0.8h-0.8zM4.4 44.5h0.8v0.8h-0.8zM27.1 25.0h0.8v0.8h-0.8zM41.8 11.2h0.8v0.8h-0.8zM14.6 13.7h0.8v0.8h-0.8zM24.4 6.2h0.8v0.8h-0.8zM18.5 18.8h0.8v0.8h-0.8zM24.3 47.8h0.8v0.8h-0.8zM16.9 31.6h0.8v0.8h-0.8zM14.3 2.9h0.8v0.8h-0.8zM37.0 20.0h0.8v0.8h-0.8zM3.8 14.2h0.8v0.8h-0.8zM19.6 34.9h0.8v0.8h-0.8zM18.8 36.8h0.8v0.8h-0.8zM24.4 17.5h0.8v0.8h-0.8zM8.8 6.7h0.8v0.8h-0.8zM18.1 22.7h0.8v0.8h-0.8zM23.1 16.5h0.8v0.8h-0.8zM26.8 23.6h0.8v0.8h-0.8zM38.3 30.5h0.8v0.8h-0.8zM29.1 50.9h0.8v0.8h-0.8zM20.3 37.1h0.8v0.8h-0.8zM17.5 35.3h0.8v0.8h-0.8zM42.6 9.4h0.8v0.8h-0.8zM25.1 24.2h0.8v0.8h-0.8zM10.0 14.7h0.8v0.8h-0.8zM25.3 49.8h0.8v0.8h-0.8zM4.3 36.6h0.8v0.8h-0.8zM0.2 14.6h0.8v0.8h-0.8zM13.3 29.2h0.8v0.8h-0.8zM26.9 40.6h0.8v0.8h-0.8zM6.5 14.3h0.8v0.8h-0.8zM19.6 0.7h0.8v0.8h-0.8zM19.6 35.7h0.8v0.8h-0.8zM28.9 33.6h0.8v0.8h-0.8zM20.6 11.5h0.8v0.8h-0.8zM15.2 18.7h0.8v0.8h-0.8zM16.5 30.7h0.8v0.8h-0.8zM34.3 28.9h0.8v0.8h-0.8zM12.7 5.1h0.8v0.8h-0.8zM25.8 20.2h0.8v0.8h-0.8zM5.8 37.6h0.8v0.8h-0.8zM17.0 14.8h0.8v0.8h-0.8zM11.5 16.7h0.8v0.8h-0.8zM24.6 47.3h0.8v0.8h-0.8zM13.0 16.3h0.8v0.8h-0.8zM27.5 25.1h0.8v0.8h-0.8zM11.3 37.5h0.8v0.8h-0.8zM23.3 4.1h0.8v0.8h-0.8zM12.8 20.5h0.8v0.8h-0.8zM18.4 21.3h0.8v0.8h-0.8zM16.1 22.7h0.8v0.8h-0.8zM19.9 31.1h0.8v0.8h-0.8zM32.2 21.4h0.8v0.8h-0.8zM14.5 11.9h0.8v0.8h-0.8zM29.3 15.0h0.8v0.8h-0.8zM1.2 42.8h0.8v0.8h-0.8zM19.1 52.2h0.8v0.8h-0.8zM21.3 48.5h0.8v0.8h-0.8zM19.7 3.0h0.8v0.8h-0.8zM22.1 11.1h0.8v0.8h-0.8zM27.1 46.3h0.8v0.8h-0.8zM5.5 45.4h0.8v0.8h-0.8zM12.4 14.7h0.8v0.8h-0.8zM15.7 22.6h0.8v0.8h-0.8zM1.6 22.5h0.8v0.8h-0.8zM31.7 36.8h0.8v0.8h-0.8zM34.1 23.8h0.8v0.8h-0.8zM8.7 7.1h0.8v0.8h-0.8zM14.4 4.3h0.8v0.8h-0.8zM15.0 15.8h0.8v0.8h-0.8zM20.4 42.5h0.8v0.8h-0.8zM3.0 30.2h0.8v0.8h-0.8zM29.5 34.6h0.8v0.8h-0.8zM12.1 17.1h0.8v0.8h-0.8zM25.6 16.9h0.8v0.8h-0.8zM22.7 34.1h0.8v0.8h-0.8zM19.9 27.9h0.8v0.8h-0.8zM19.3 33.0h0.8v0.8h-0.8zM26.6 33.0h0.8v0.8h-0.8zM8.9 46.7h0.8v0.8h-0.8zM28.6 22.8h0.8v0.8h-0.8zM14.1 1.2h0.8v0.8h-0.8zM27.6 30.0h0.8v0.8h-0.8zM20.7 17.0h0.8v0.8h-0.8zM5.9 22.9h0.8v0.8h-0.8zM19.2 44.8h0.8v0.8h-0.8zM15.7 7.7h0.8v0.8h-0.8zM9.8 8.3h0.8v0.8h-0.8zM27.0 42.7h0.8v0.8h-0.8zM5.2 29.1h0.8v0.8h-0.8zM25.8 8.3h0.8v0.8h-0.8zM21.9 43.6h0.8v0.8h-0.8zM7.6 31.3h0.8v0.8h-0.8zM14.6 18.3h0.8v0.8h-0.8zM21.0 12.3h0.8v0.8h-0.8zM30.6 16.4h0.8v0.8h-0.8zM11.1 49.8h0.8v0.8h-0.8zM26.6 39.6h0.8v0.8h-0.8zM16.1 35.1h0.8v0.8h-0.8zM16.3 23.2h0.8v0.8h-0.8zM20.9 38.1h0.8v0.8h-0.8zM13.7 28.9h0.8v0.8h-0.8zM33.9 8.4h0.8v0.8h-0.8zM21.9 35.8h0.8v0.8h-0.8zM12.0 48.9h0.8v0.8h-0.8zM39.5 36.5h0.8v0.8h-0.8zM16.6 22.8h0.8v0.8h-0.8zM19.0 43.5h0.8v0.8h-0.8zM12.4 17.8h0.8v0.8h-0.8zM31.5 13.7h0.8v0.8h-0.8zM28.3 4.1h0.8v0.8h-0.8zM23.6 38.0h0.8v0.8h-0.8zM19.7 13.4h0.8v0.8h-0.8zM17.9 2.2h0.8v0.8h-0.8zM20.2 37.7h0.8v0.8h-0.8zM30.0 23.2h0.8v0.8h-0.8zM11.7 36.0h0.8v0.8h-0.8zM15.4 28.3h0.8v0.8h-0.8zM15.9 19.5h0.8v0.8h-0.8zM14.2 38.0h0.8v0.8h-0.8zM24.9 20.9h0.8v0.8h-0.8zM17.4 12.6h0.8v0.8h-0.8zM16.4 21.0h0.8v0.8h-0.8zM19.6 42.1h0.8v0.8h-0.8zM4.0 27.3h0.8v0.8h-0.8zM10.3 46.3h0.8v0.8h-0.8zM26.4 36.7h0.8v0.8h-0.8zM6.8 19.4h0.8v0.8h-0.8zM23.9 23.6h0.8v0.8h-0.8zM3.5 13.3h0.8v0.8h-0.8zM23.0 30.0h0.8v0.8h-0.8zM18.8 36.1h0.8v0.8h-0.8zM24.2 8.5h0.8v0.8h-0.8zM27.8 39.4h0.8v0.8h-0.8zM0.3 21.2h0.8v0.8h-0.8zM25.5 24.3h0.8v0.8h-0.8zM21.0 16.8h0.8v0.8h-0.8zM31.3 15.4h0.8v0.8h-0.8zM19.7 5.2h0.8v0.8h-0.8zM9.0 50.5h0.8v0.8h-0.8zM38.1 2.9h0.8v0.8h-0.8zM33.0 35.5h0.8v0.8h-0.8zM22.2 32.6h0.8v0.8h-0.8zM25.4 25.0h0.8v0.8h-0.8zM16.2 14.6h0.8v0.8h-0.8zM28.8 11.1h0.8v0.8h-0.8zM18.6 15.0h0.8v0.8h-0.8zM32.2 13.3h0.8v0.8h-0.8zM29.4 11.6h0.8v0.8h-0.8zM17.0 39.5h0.8v0.8h-0.8zM24.1 36.7h0.8v0.8h-0.8zM26.8 50.1h0.8v0.8h-0.8zM6.7 22.2h0.8v0.8h-0.8zM24.4 32.7h0.8v0.8h-0.8zM22.8 18.6h0.8v0.8h-0.8zM4.9 13.0h0.8v0.8h-0.8zM26.1 30.1h0.8v0.8h-0.8zM2.3 51.0h0.8v0.8h-0.8zM15.4 4.0h0.8v0.8h-0.8zM16.2 10.8h0.8v0.8h-0.8zM13.4 38.5h0.8v0.8h-0.8zM34.3 42.6h0.8v0.8h-0.8zM12.5 22.7h0.8v0.8h-0.8zM12.1 26.1h0.8v0.8h-0.8zM18.0 41.8h0.8v0.8h-0.8zM47.0 42.1h0.8v0.8h-0.8zM29.3 29.6h0.8v0.8h-0.8zM10.1 25.9h0.8v0.8h-0.8zM32.2 15.9h0.8v0.8h-0.8zM23.8 15.6h0.8v0.8h-0.8zM18.5 29.3h0.8v0.8h-0.8zM30.0 30.7h0.8v0.8h-0.8zM27.8 36.2h0.8v0.8h-0.8zM41.8 8.5h0.8v0.8h-0.8zM10.9 4.8h0.8v0.8h-0.8zM34.6 35.8h0.8v0.8h-0.8zM17.3 33.4h0.8v0.8h-0.8zM17.5 51.0h0.8v0.8h-0.8zM24.4 17.6h0.8v0.8h-0.8zM16.2 29.1h0.8v0.8h-0.8zM23.2 12.1h0.8v0.8h-0.8zM21.1 30.5h0.8v0.8h-0.8zM8.6 27.7h0.8v0.8h-0.8zM12.5 34.7h0.8v0.8h-0.8zM3.2 1.7h0.8v0.8h-0.8zM25.7 26.6h0.8v0.8h-0.8zM19.8 22.4h0.8v0.8h-0.8zM23.4 26.9h0.8v0.8h-0.8zM4.8 28.6h0.8v0.8h-0.8zM22.0 24.7h0.8v0.8h-0.8zM21.4 49.6h0.8v0.8h-0.8zM12.6 33.4h0.8v0.8h-0.8zM13.4 29.2h0.8v0.8h-0.8zM18.9 15.8h0.8v0.8h-0.8zM18.2 5.5h0.8v0.8h-0.8zM8.9 27.0h0.8v0.8h-0.8zM10.0 33.7h0.8v0.8h-0.8zM2.5 6.6h0.8v0.8h-0.8zM34.2 30.3h0.8v0.8h-0.8zM22.0 17.8h0.8v0.8h-0.8zM26.7 26.3h0.8v0.8h-0.8zM3.5 1.3h0.8v0.8h-0.8zM16.6 7.4h0.8v0.8h-0.8zM14.5 25.3h0.8v0.8h-0.8zM7.6 8.5h0.8v0.8h-0.8zM3.6 27.1h0.8v0.8h-0.8zM54.5 13.9h0.8v0.8h-0.8zM28.6 31.5h0.8v0.8h-0.8zM20.1 34.7h0.8v0.8h-0.8zM22.5 23.3h0.8v0.8h-0.8zM19.0 31.1h0.8v0.8h-0.8zM17.3 27.2h0.8v0.8h-0.8zM5.7 42.5h0.8v0.8h-0.8zM12.2 23.8h0.8v0.8h-0.8zM6.5 29.5h0.8v0.8h-0.8zM25.7 12.0h0.8v0.8h-0.8zM30.4 22.1h0.8v0.8h-0.8zM15.7 36.8h0.8v0.8h-0.8zM25.7 4.1h0.8v0.8h-0.8zM22.0 41.6h0.8v0.8h-0.8zM12.2 36.8h0.8v0.8h-0.8zM9.8 36.1h0.8v0.8h-0.8zM24.9 8.6h0.8v0.8h-0.8zM32.9 37.9h0.8v0.8h-0.8zM18.2 30.8h0.8v0.8h-0.8zM20.8 24.6h0.8v0.8h-0.8zM4.2 17.7h0.8v0.8h-0.8zM2.1 28.7h0.8v0.8h-0.8zM3.4 24.7h0.8v0.8h-0.8zM21.2 35.6h0.8v0.8h-0.8zM15.6 22.7h0.8v0.8h-0.8zM31.8 31.7h0.8v0.8h-0.8zM30.3 9.1h0.8v0.8h-0.8zM18.2 17.1h0.8v0.8h-0.8zM10.4 30.4h0.8v0.8h-0.8zM4.6 32.2h0.8v0.8h-0.8zM4.6 7.0h0.8v0.8h-0.8zM14.5 5.7h0.8v0.8h-0.8zM12.6 13.0h0.8v0.8h-0.8zM6.9 14.2h0.8v0.8h-0.8zM37.6 33.0h0.8v0.8h-0.8zM31.1 27.2h0.8v0.8h-0.8zM40.9 32.8h0.8v0.8h-0.8zM32.2 5.7h0.8v0.8h-0.8zM5.6 25.0h0.8v0.8h-0.8zM27.8 5.0h0.8v0.8h-0.8zM31.1 28.9h0.8v0.8h-0.8zM41.2 22.1h0.8v0.8h-0.8zM3.0 41.5h0.8v0.8h-0.8zM22.9 14.4h0.8v0.8h-0.8zM39.0 6.1h0.8v0.8h-0.8zM11.3 1.4h0.8v0.8h-0.8zM23.4 14.3h0.8v0.8h-0.8zM28.5 17.6h0.8v0.8h-0.8zM18.2 35.6h0.8v0.8h-0.8zM20.2 34.8h0.8v0.8h-0.8zM20.3 0.2h0.8v0.8h-0.8zM11.0 15.5h0.8v0.8h-0.8zM17.9 8.8h0.8v0.8h-0.8zM10.3 32.4h0.8v0.8h-0.8zM12.8 0.4h0.8v0.8h-0.8zM7.5 27.2h0.8v0.8h-0.8zM6.9 43.6h0.8v0.8h-0.8zM19.1 12.2h0.8v0.8h-0.8zM3.2 7.3h0.8v0.8h-0.8zM8.8 15.9h0.8v0.8h-0.8zM3.9 14.9h0.8v0.8h-0.8zM18.8 15.0h0.8v0.8h-0.8zM15.1 44.2h0.8v0.8h-0.8zM10.2 35.8h0.8v0.8h-0.8zM23.7 25.0h0.8v0.8h-0.8zM5.4 21.5h0.8v0.8h-0.8zM20.9 46.4h0.8v0.8h-0.8zM14.5 20.4h0.8v0.8h-0.8zM18.3 28.4h0.8v0.8h-0.8zM20.8 21.6h0.8v0.8h-0.8zM8.5 19.6h0.8v0.8h-0.8zM20.7 35.9h0.8v0.8h-0.8zM19.8 5.5h0.8v0.8h-0.8zM21.5 17.8h0.8v0.8h-0.8zM18.9 44.2h0.8v0.8h-0.8zM4.1 41.2h0.8v0.8h-0.8zM3.6 27.6h0.8v0.8h-0.8zM13.4 44.6h0.8v0.8h-0.8zM0.4 4.6h0.8v0.8h-0.8zM15.5 30.6h0.8v0.8h-0.8zM24.1 7.1h0.8v0.8h-0.8zM7.4 14.1h0.8v0.8h-0.8zM34.1 30.8h0.8v0.8h-0.8zM24.8 10.7h0.8v0.8h-0.8zM20.8 20.4h0.8v0.8h-0.8zM11.7 30.5h0.8v0.8h-0.8zM27.1 18.5h0.8v0.8h-0.8zM30.0 4.8h0.8v0.8h-0.8zM16.0 41.4h0.8v0.8h-0.8zM22.3 33.7h0.8v0.8h-0.8zM28.9 26.0h0.8v0.8h-0.8zM7.3 38.1h0.8v0.8h-0.8zM23.8 18.9h0.8v0.8h-0.8zM23.2 6.9h0.8v0.8h-0.8zM15.3 35.7h0.8v0.8h-0.8zM6.2 34.7h0.8v0.8h-0.8zM15.3 25.7h0.8v0.8h-0.8zM17.9 17.9h0.8v0.8h-0.8zM38.7 42.3h0.8v0.8h-0.8zM24.7 19.5h0.8v0.8h-0.8zM19.5 38.8h0.8v0.8h-0.8zM17.8 4.1h0.8v0.8h-0.8zM10.8 17.1h0.8v0.8h-0.8zM12.3 5.8h0.8v0.8h-0.8zM29.3 21.9h0.8v0.8h-0.8zM18.8 43.3h0.8v0.8h-0.8zM11.3 33.6h0.8v0.8h-0.8zM3.2 27.3h0.8v0.8h-0.8zM21.8 28.9h0.8v0.8h-0.8zM4.3 21.4h0.8v0.8h-0.8zM26.0 24.6h0.8v0.8h-0.8zM19.0 5.8h0.8v0.8h-0.8zM11.6 45.6h0.8v0.8h-0.8zM24.0 32.7h0.8v0.8h-0.8zM20.6 13.5h0.8v0.8h-0.8zM9.4 44.7h0.8v0.8h-0.8zM20.9 20.2h0.8v0.8h-0.8zM23.7 7.1h0.8v0.8h-0.8zM8.3 24.6h0.8v0.8h-0.8zM17.2 37.1h0.8v0.8h-0.8zM21.5 3.6h0.8v0.8h-0.8zM16.2 36.4h0.8v0.8h-0.8zM28.6 14.6h0.8v0.8h-0.8zM20.8 16.3h0.8v0.8h-0.8zM22.8 29.6h0.8v0.8h-0.8zM17.7 28.6h0.8v0.8h-0.8zM28.3 16.9h0.8v0.8h-0.8zM16.8 11.6h0.8v0.8h-0.8zM19.3 21.1h0.8v0.8h-0.8zM8.1 22.1h0.8v0.8h-0.8zM14.4 31.7h0.8v0.8h-0.8zM14.0 34.0h0.8v0.8h-0.8zM24.8 17.2h0.8v0.8h-0.8zM5.6 36.7h0.8v0.8h-0.8zM13.8 43.8h0.8v0.8h-0.8zM17.0 22.0h0.8v0.8h-0.8zM21.3 11.8h0.8v0.8h-0.8zM24.0 28.9h0.8v0.8h-0.8zM25.5 40.5h0.8v0.8h-0.8zM17.8 45.6h0.8v0.8h-0.8zM16.7 19.8h0.8v0.8h-0.8zM27.5 14.6h0.8v0.8h-0.8zM14.8 17.8h0.8v0.8h-0.8zM15.4 25.5h0.8v0.8h-0.8zM28.6 16.8h0.8v0.8h-0.8zM14.7 42.9h0.8v0.8h-0.8zM32.8 32.0h0.8v0.8h-0.8zM8.2 20.5h0.8v0.8h-0.8zM28.3 34.8h0.8v0.8h-0.8zM20.0 26.8h0.8v0.8h-0.8zM19.4 7.2h0.8v0.8h-0.8zM25.8 11.3h0.8v0.8h-0.8zM45.7 39.4h0.8v0.8h-0.8zM24.8 34.7h0.8v0.8h-0.8zM32.5 22.6h0.8v0.8h-0.8zM19.7 14.9h0.8v0.8h-0.8zM8.4 29.4h0.8v0.8h-0.8zM13.6 36.7h0.8v0.8h-0.8zM19.6 32.0h0.8v0.8h-0.8zM19.6 43.2h0.8v0.8h-0.8zM1.8 21.8h0.8v0.8h-0.8zM10.0 49.1h0.8v0.8h-0.8zM6.9 29.8h0.8v0.8h-0.8zM13.1 22.7h0.8v0.8h-0.8zM15.0 20.4h0.8v0.8h-0.8zM5.3 16.1h0.8v0.8h-0.8zM32.4 23.7h0.8v0.8h-0.8zM21.9 1.0h0.8v0.8h-0.8zM20.7 23.3h0.8v0.8h-0.8zM13.8 37.4h0.8v0.8h-0.8zM19.0 8.3h0.8v0.8h-0.8zM6.9 21.4h0.8v0.8h-0.8zM22.4 8.8h0.8v0.8h-0.8zM15.2 17.3h0.8v0.8h-0.8zM22.1 24.0h0.8v0.8h-0.8zM17.2 31.3h0.8v0.8h-0.8zM18.0 15.9h0.8v0.8h-0.8zM22.0 33.8h0.8v0.8h-0.8zM20.3 19.4h0.8v0.8h-0.8zM30.4 24.9h0.8v0.8h-0.8zM25.2 43.0h0.8v0.8h-0.8zM17.4 21.5h0.8v0.8h-0.8zM12.9 29.2h0.8v0.8h-0.8zM21.0 47.4h0.8v0.8h-0.8zM16.2 37.3h0.8v0.8h-0.8zM16.2 35.4h0.8v0.8h-0.8zM14.8 20.5h0.8v0.8h-0.8zM19.7 33.8h0.8v0.8h-0.8zM22.6 15.5h0.8v0.8h-0.8zM22.7 1.5h0.8v0.8h-0.8zM14.8 33.7h0.8v0.8h-0.8zM16.4 18.9h0.8v0.8h-0.8zM5.7 24.8h0.8v0.8h-0.8zM21.4 41.3h0.8v0.8h-0.8zM9.5 41.7h0.8v0.8h-0.8zM20.8 48.9h0.8v0.8h-0.8zM12.1 6.9h0.8v0.8h-0.8zM0.5 27.2h0.8v0.8h-0.8zM32.8 48.0h0.8v0.8h-0.8zM21.8 51.0h0.8v0.8h-0.8zM28.3 16.8h0.8v0.8h-0.8zM28.8 29.4h0.8v0.8h-0.8zM17.5 47.2h0.8v0.8h-0.8zM39.2 42.1h0.8v0.8h-0.8zM14.3 26.8h0.8v0.8h-0.8zM20.1 23.3h0.8v0.8h-0.8zM38.4 33.6h0.8v0.8h-0.8zM11.5 4.9h0.8v0.8h-0.8zM16.7 21.4h0.8v0.8h-0.8zM17.2 25.4h0.8v0.8h-0.8zM23.7 13.7h0.8v0.8h-0.8zM7.8 51.0h0.8v0.8h-0.8zM11.2 25.8h0.8v0.8h-0.8zM12.0 24.2h0.8v0.8h-0.8zM23.5 30.3h0.8v0.8h-0.8zM21.3 33.5h0.8v0.8h-0.8zM18.1 31.9h0.8v0.8h-0.8zM19.4 4.8h0.8v0.8h-0.8zM22.7 17.0h0.8v0.8h-0.8zM3.0 41.4h0.8v0.8h-0.8zM30.5 24.9h0.8v0.8h-0.8zM13.7 37.9h0.8v0.8h-0.8zM34.3 17.8h0.8v0.8h-0.8zM15.7 6.8h0.8v0.8h-0.8zM3.5 42.1h0.8v0.8h-0.8zM23.3 16.5h0.8v0.8h-0.8zM3.6 12.1h0.8v0.8h-0.8zM10.0 38.2h0.8v0.8h-0.8zM12.7 24.7h0.8v0.8h-0.8zM27.1 17.4h0.8v0.8h-0.8zM14.9 45.2h0.8v0.8h-0.8zM54.0 5.6h0.8v0.8h-0.8zM5.1 19.0h0.8v0.8h-0.8zM32.0 19.0h0.8v0.8h-0.8zM16.9 38.5h0.8v0.8h-0.8zM9.0 31.7h0.8v0.8h-0.8zM20.1 32.6h0.8v0.8h-0.8zM24.8 33.0h0.8v0.8h-0.8zM4.4 30.5h0.8v0.8h-0.8zM19.4 8.0h0.8v0.8h-0.8zM6.2 24.9h0.8v0.8h-0.8zM9.3 25.8h0.8v0.8h-0.8zM23.6 28.7h0.8v0.8h-0.8zM9.1 42.6h0.8v0.8h-0.8zM6.0 30.4h0.8v0.8h-0.8zM23.7 40.8h0.8v0.8h-0.8zM11.3 22.8h0.8v0.8h-0.8zM13.6 37.1h0.8v0.8h-0.8zM13.6 24.4h0.8v0.8h-0.8zM13.3 15.2h0.8v0.8h-0.8zM20.2 28.1h0.8v0.8h-0.8zM2.4 2.3h0.8v0.8h-0.8zM15.3 23.0h0.8v0.8h-0.8zM30.5 35.2h0.8v0.8h-0.8zM17.7 12.9h0.8v0.8h-0.8zM0.2 16.2h0.8v0.8h-0.8zM14.5 19.3h0.8v0.8h-0.8zM34.7 25.3h0.8v0.8h-0.8zM17.3 4.4h0.8v0.8h-0.8zM10.3 44.0h0.8v0.8h-0.8zM20.3 17.7h0.8v0.8h-0.8zM26.4 17.6h0.8v0.8h-0.8zM17.7 25.3h0.8v0.8h-0.8zM16.1 34.5h0.8v0.8h-0.8zM8.5 2.2h0.8v0.8h-0.8zM23.0 14.2h0.8v0.8h-0.8zM14.1 33.9h0.8v0.8h-0.8zM15.4 18.9h0.8v0.8h-0.8zM26.7 20.0h0.8v0.8h-0.8zM18.4 30.2h0.8v0.8h-0.8zM21.0 44.8h0.8v0.8h-0.8zM19.5 16.3h0.8v0.8h-0.8zM16.2 43.2h0.8v0.8h-0.8zM29.0 1.2h0.8v0.8h-0.8zM11.6 29.9h0.8v0.8h-0.8zM28.5 37.2h0.8v0.8h-0.8zM37.2 27.1h0.8v0.8h-0.8zM29.2 45.8h0.8v0.8h-0.8zM24.8 37.5h0.8v0.8h-0.8zM14.0 21.1h0.8v0.8h-0.8zM28.6 25.8h0.8v0.8h-0.8zM6.8 38.4h0.8v0.8h-0.8zM1.9 23.1h0.8v0.8h-0.8zM22.8 42.2h0.8v0.8h-0.8zM27.1 14.1h0.8v0.8h-0.8zM9.7 8.1h0.8v0.8h-0.8zM31.3 41.3h0.8v0.8h-0.8zM4.2 3.8h0.8v0.8h-0.8zM23.0 5.3h0.8v0.8h-0.8zM40.4 3.4h0.8v0.8h-0.8zM19.1 40.7h0.8v0.8h-0.8zM20.1 38.5h0.8v0.8h-0.8zM27.9 30.9h0.8v0.8h-0.8zM15.5 4.9h0.8v0.8h-0.8zM10.2 1.9h0.8v0.8h-0.8zM37.6 40.7h0.8v0.8h-0.8zM25.2 37.4h0.8v0.8h-0.8zM1.3 41.6h0.8v0.8h-0.8zM10.4 16.6h0.8v0.8h-0.8zM33.7 26.9h0.8v0.8h-0.8zM41.4 34.2h0.8v0.8h-0.8zM11.9 25.0h0.8v0.8h-0.8zM3.8 2.4h0.8v0.8h-0.8zM15.8 26.3h0.8v0.8h-0.8zM11.1 36.1h0.8v0.8h-0.8zM11.8 17.8h0.8v0.8h-0.8zM30.8 16.6h0.8v0.8h-0.8zM17.7 42.5h0.8v0.8h-0.8zM26.8 8.4h0.8v0.8h-0.8zM12.1 14.7h0.8v0.8h-0.8zM18.2 16.6h0.8v0.8h-0.8zM20.6 8.9h0.8v0.8h-0.8zM31.5 39.4h0.8v0.8h-0.8zM10.9 31.7h0.8v0.8h-0.8zM3.0 45.7h0.8v0.8h-0.8zM28.7 40.2h0.8v0.8h-0.8zM17.0 8.2h0.8v0.8h-0.8zM20.7 23.2h0.8v0.8h-0.8zM12.0 24.5h0.8v0.8h-0.8zM20.2 21.9h0.8v0.8h-0.8zM24.2 31.9h0.8v0.8h-0.8zM31.2 36.5h0.8v0.8h-0.8zM23.5 24.9h0.8v0.8h-0.8zM21.6 19.5h0.8v0.8h-0.8zM36.1 26.9h0.8v0.8h-0.8zM13.1 0.5h0.8v0.8h-0.8zM2.1 10.8h0.8v0.8h-0.8zM29.6 25.8h0.8v0.8h-0.8zM42.9 28.7h0.8v0.8h-0.8zM14.1 3.1h0.8v0.8h-0.8zM7.5 33.7h0.8v0.8h-0.8zM9.3 14.1h0.8v0.8h-0.8zM15.8 28.8h0.8v0.8h-0.8zM18.0 32.1h0.8v0.8h-0.8zM11.3 12.8h0.8v0.8h-0.8zM16.9 15.1h0.8v0.8h-0.8zM15.4 36.3h0.8v0.8h-0.8zM22.1 39.2h0.8v0.8h-0.8zM17.1 22.5h0.8v0.8h-0.8zM27.0 38.4h0.8v0.8h-0.8zM18.0 34.3h0.8v0.8h-0.8zM16.2 32.9h0.8v0.8h-0.8zM15.7 16.1h0.8v0.8h-0.8zM12.3 40.4h0.8v0.8h-0.8zM23.0 30.4h0.8v0.8h-0.8zM24.7 25.6h0.8v0.8h-0.8zM16.0 3.4h0.8v0.8h-0.8zM26.4 30.9h0.8v0.8h-0.8zM8.1 28.6h0.8v0.8h-0.8zM8.3 19.4h0.8v0.8h-0.8zM17.5 46.8h0.8v0.8h-0.8zM17.1 18.9h0.8v0.8h-0.8zM18.7 37.6h0.8v0.8h-0.8zM31.1 44.8h0.8v0.8h-0.8zM11.7 32.4h0.8v0.8h-0.8zM23.3 26.6h0.8v0.8h-0.8zM13.8 16.3h0.8v0.8h-0.8zM19.9 27.6h0.8v0.8h-0.8zM19.5 25.1h0.8v0.8h-0.8zM28.0 24.1h0.8v0.8h-0.8zM10.2 35.0h0.8v0.8h-0.8zM0.2 30.1h0.8v0.8h-0.8zM28.1 30.6h0.8v0.8h-0.8zM28.5 27.8h0.8v0.8h-0.8zM1.0 0.7h0.8v0.8h-0.8zM15.6 49.6h0.8v0.8h-0.8zM26.5 19.0h0.8v0.8h-0.8zM24.8 9.2h0.8v0.8h-0.8zM11.7 37.1h0.8v0.8h-0.8zM27.0 30.8h0.8v0.8h-0.8zM0.6 23.3h0.8v0.8h-0.8zM19.1 4.4h0.8v0.8h-0.8zM13.2 15.7h0.8v0.8h-0.8zM29.3 38.6h0.8v0.8h-0.8zM12.3 37.2h0.8v0.8h-0.8zM18.8 8.4h0.8v0.8h-0.8zM17.7 38.2h0.8v0.8h-0.8zM13.0 30.1h0.8v0.8h-0.8zM19.1 17.2h0.8v0.8h-0.8zM19.8 26.4h0.8v0.8h-0.8zM24.9 36.1h0.8v0.8h-0.8zM19.5 29.1h0.8v0.8h-0.8zM25.8 31.3h0.8v0.8h-0.8zM14.4 42.6h0.8v0.8h-0.8zM4.9 31.4h0.8v0.8h-0.8zM2.4 0.7h0.8v0.8h-0.8zM29.9 12.0h0.8v0.8h-0.8zM23.6 31.6h0.8v0.8h-0.8zM13.4 20.5h0.8v0.8h-0.8zM10.7 12.6h0.8v0.8h-0.8zM15.3 34.8h0.8v0.8h-0.8zM13.2 16.2h0.8v0.8h-0.8zM17.3 21.1h0.8v0.8h-0.8zM26.7 32.9h0.8v0.8h-0.8zM0.6 34.2h0.8v0.8h-0.8zM8.4 19.9h0.8v0.8h-0.8zM48.3 33.4h0.8v0.8h-0.8zM5.8 26.2h0.8v0.8h-0.8zM14.2 9.3h0.8v0.8h-0.8zM26.3 0.1h0.8v0.8h-0.8zM18.9 35.3h0.8v0.8h-0.8zM13.2 25.0h0.8v0.8h-0.8zM25.1 44.6h0.8v0.8h-0.8zM24.4 16.2h0.8v0.8h-0.8zM12.4 24.2h0.8v0.8h-0.8zM0.3 46.9h0.8v0.8h-0.8zM13.1 48.9h0.8v0.8h-0.8zM37.9 34.2h0.8v0.8h-0.8zM21.5 2.8h0.8v0.8h-0.8zM24.5 25.9h0.8v0.8h-0.8zM28.0 35.8h0.8v0.8h-0.8zM25.3 34.0h0.8v0.8h-0.8zM14.0 33.9h0.8v0.8h-0.8zM24.3 36.5h0.8v0.8h-0.8zM9.2 34.2h0.8v0.8h-0.8zM18.4 22.8h0.8v0.8h-0.8zM15.6 20.8h0.8v0.8h-0.8zM26.6 12.1h0.8v0.8h-0.8zM24.0 32.7h0.8v0.8h-0.8zM41.2 51.4h0.8v0.8h-0.8zM17.0 27.3h0.8v0.8h-0.8zM22.1 9.8h0.8v0.8h-0.8zM22.5 46.0h0.8v0.8h-0.8zM25.1 34.6h0.8v0.8h-0.8zM24.6 42.8h0.8v0.8h-0.8zM8.8 7.1h0.8v0.8h-0.8zM52.7 6.0h0.8v0.8h-0.8zM30.0 14.2h0.8v0.8h-0.8zM14.6 17.2h0.8v0.8h-0.8zM12.0 3.0h0.8v0.8h-0.8zM16.5 23.0h0.8v0.8h-0.8zM26.0 48.5h0.8v0.8h-0.8zM21.4 14.1h0.8v0.8h-0.8zM1.0 26.6h0.8v0.8h-0.8zM30.2 26.0h0.8v0.8h-0.8zM21.1 14.1h0.8v0.8h-0.8zM26.7 9.6h0.8v0.8h-0.8zM1.2 45.2h0.8v0.8h-0.8zM20.6 18.5h0.8v0.8h-0.8zM6.8 40.1h0.8v0.8h-0.8zM30.7 8.0h0.8v0.8h-0.8zM3.2 16.9h0.8v0.8h-0.8zM13.6 32.5h0.8v0.8h-0.8zM9.8 23.4h0.8v0.8h-0.8zM34.3 6.2h0.8v0.8h-0.8zM2.2 9.6h0.8v0.8h-0.8zM0.4 24.3h0.8v0.8h-0.8zM19.6 23.9h0.8v0.8h-0.8zM10.5 45.0h0.8v0.8h-0.8zM30.8 24.5h0.8v0.8h-0.8zM13.8 0.6h0.8v0.8h-0.8zM29.8 33.0h0.8v0.8h-0.8zM25.2 3.1h0.8v0.8h-0.8zM7.0 18.7h0.8v0.8h-0.8zM24.0 30.1h0.8v0.8h-0.8zM25.4 22.6h0.8v0.8h-0.8zM12.8 26.3h0.8v0.8h-0.8zM9.5 50.6h0.8v0.8h-0.8zM11.5 35.1h0.8v0.8h-0.8zM13.2 44.2h0.8v0.8h-0.8zM7.9 46.0h0.8v0.8h-0.8zM36.0 21.1h0.8v0.8h-0.8zM12.0 27.2h0.8v0.8h-0.8zM20.6 7.6h0.8v0.8h-0.8zM17.4 5.8h0.8v0.8h-0.8zM8.4 8.1h0.8v0.8h-0.8zM15.5 8.7h0.8v0.8h-0.8zM23.4 35.9h0.8v0.8h-0.8zM8.1 26.0h0.8v0.8h-0.8zM2.9 44.8h0.8v0.8h-0.8zM25.2 35.3h0.8v0.8h-0.8zM18.0 47.9h0.8v0.8h-0.8zM7.5 34.8h0.8v0.8h-0.8zM18.0 38.4h0.8v0.8h-0.8zM18.7 7.7h0.8v0.8h-0.8zM28.4 11.5h0.8v0.8h-0.8zM22.7 28.6h0.8v0.8h-0.8zM18.1 30.5h0.8v0.8h-0.8zM12.1 32.2h0.8v0.8h-0.8zM21.5 34.2h0.8v0.8h-0.8zM9.3 10.0h0.8v0.8h-0.8zM9.8 46.1h0.8v0.8h-0.8zM4.4 10.5h0.8v0.8h-0.8zM29.9 38.5h0.8v0.8h-0.8zM21.2 35.6h0.8v0.8h-0.8zM16.8 19.1h0.8v0.8h-0.8zM17.4 40.7h0.8v0.8h-0.8zM40.7 25.3h0.8v0.8h-0.8zM22.5 6.5h0.8v0.8h-0.8zM16.0 3.7h0.8v0.8h-0.8zM2.8 19.0h0.8v0.8h-0.8zM5.1 23.4h0.8v0.8h-0.8zM12.1 36.9h0.8v0.8h-0.8zM24.0 31.9h0.8v0.8h-0.8zM33.8 50.4h0.8v0.8h-0.8zM26.6 52.0h0.8v0.8h-0.8zM10.3 42.6h0.8v0.8h-0.8zM18.6 19.9h0.8v0.8h-0.8zM27.1 30.0h0.8v0.8h-0.8zM12.0 30.9h0.8v0.8h-0.8zM30.4 45.1h0.8v0.8h-0.8zM21.7 31.2h0.8v0.8h-0.8zM12.7 27.5h0.8v0.8h-0.8zM14.8 21.8h0.8v0.8h-0.8zM17.8 28.4h0.8v0.8h-0.8zM9.9 28.7h0.8v0.8h-0.8zM4.7 35.6h0.8v0.8h-0.8zM18.6 9.8h0.8v0.8h-0.8zM20.2 8.5h0.8v0.8h-0.8zM11.2 14.1h0.8v0.8h-0.8zM26.2 27.7h0.8v0.8h-0.8zM26.2 16.6h0.8v0.8h-0.8zM6.9 30.8h0.8v0.8h-0.8zM13.9 16.5h0.8v0.8h-0.8zM23.2 47.4h0.8v0.8h-0.8zM26.0 6.4h0.8v0.8h-0.8zM5.1 25.6h0.8v0.8h-0.8zM18.8 34.8h0.8v0.8h-0.8zM6.5 20.9h0.8v0.8h-0.8zM10.5 40.7h0.8v0.8h-0.8zM12.0 37.8h0.8v0.8h-0.8zM18.4 39.6h0.8v0.8h-0.8zM26.7 35.3h0.8v0.8h-0.8zM9.0 16.4h0.8v0.8h-0.8zM33.1 27.9h0.8v0.8h-0.8zM16.8 44.1h0.8v0.8h-0.8zM35.2 28.9h0.8v0.8h-0.8zM23.2 11.1h0.8v0.8h-0.8zM17.0 3.4h0.8v0.8h-0.8zM7.0 20.9h0.8v0.8h-0.8zM24.7 31.5h0.8v0.8h-0.8zM31.2 45.8h0.8v0.8h-0.8zM14.1 36.8h0.8v0.8h-0.8zM8.8 5.4h0.8v0.8h-0.8z" fill="#111"/>
<path d="M3.4 34.3h0.8v0.8h-0.8zM10.3 34.4h0.8v0.8h-0.8zM28.8 18.2h0.8v0.8h-0.8zM29.7 2.4h0.8v0.8h-0.8zM31.0 28.4h0.8v0.8h-0.8zM10.2 35.3h0.8v0.8h-0.8zM6.3 6.9h0.8v0.8h-0.8zM35.1 18.7h0.8v0.8h-0.8zM10.3 28.4h0.8v0.8h-0.8zM16.1 45.8h0.8v0.8h-0.8zM12.7 1.7h0.8v0.8h-0.8zM34.6 14.2h0.8v0.8h-0.8zM19.7 9.0h0.8v0.8h-0.8zM19.5 36.0h0.8v0.8h-0.8zM16.7 4.0h0.8v0.8h-0.8zM27.4 42.2h0.8v0.8h-0.8zM12.8 2.3h0.8v0.8h-0.8zM16.4 7.0h0.8v0.8h-0.8zM34.6 9.6h0.8v0.8h-0.8zM35.1 37.5h0.8v0.8h-0.8zM5.4 10.4h0.8v0.8h-0.8zM34.4 6.2h0.8v0.8h-0.8zM25.2 32.3h0.8v0.8h-0.8zM35.1 21.5h0.8v0.8h-0.8zM2.4 14.0h0.8v0.8h-0.8zM24.3 9.0h0.8v0.8h-0.8zM19.4 46.1h0.8v0.8h-0.8zM31.6 19.7h0.8v0.8h-0.8zM33.5 5.5h0.8v0.8h-0.8zM10.9 50.0h0.8v0.8h-0.8zM20.7 38.6h0.8v0.8h-0.8zM15.5 32.8h0.8v0.8h-0.8zM24.0 23.0h0.8v0.8h-0.8zM22.0 12.3h0.8v0.8h-0.8zM12.6 13.9h0.8v0.8h-0.8zM9.8 19.2h0.8v0.8h-0.8zM35.0 18.5h0.8v0.8h-0.8zM9.6 11.7h0.8v0.8h-0.8zM6.3 14.0h0.8v0.8h-0.8zM29.9 24.7h0.8v0.8h-0.8zM1.6 37.2h0.8v0.8h-0.8zM18.4 29.6h0.8v0.8h-0.8zM30.5 22.7h0.8v0.8h-0.8zM11.6 43.0h0.8v0.8h-0.8zM2.9 32.6h0.8v0.8h-0.8zM1.6 9.2h0.8v0.8h-0.8zM6.8 9.9h0.8v0.8h-0.8zM5.1 19.9h0.8v0.8h-0.8zM30.9 2.6h0.8v0.8h-0.8zM11.2 25.0h0.8v0.8h-0.8zM25.3 49.9h0.8v0.8h-0.8zM34.1 18.4h0.8v0.8h-0.8zM18.2 24.3h0.8v0.8h-0.8zM14.0 35.5h0.8v0.8h-0.8zM25.2 42.2h0.8v0.8h-0.8zM25.0 18.2h0.8v0.8h-0.8zM28.1 27.2h0.8v0.8h-0.8zM2.2 43.0h0.8v0.8h-0.8zM31.4 45.7h0.8v0.8h-0.8zM21.1 13.1h0.8v0.8h-0.8zM27.0 17.5h0.8v0.8h-0.8zM15.3 36.7h0.8v0.8h-0.8zM22.7 2.5h0.8v0.8h-0.8zM20.3 9.5h0.8v0.8h-0.8zM7.9 14.5h0.8v0.8h-0.8zM23.2 40.5h0.8v0.8h-0.8zM34.7 43.8h0.8v0.8h-0.8zM15.3 47.2h0.8v0.8h-0.8zM4.0 19.6h0.8v0.8h-0.8zM4.5 44.8h0.8v0.8h-0.8zM23.1 1.9h0.8v0.8h-0.8zM16.4 7.9h0.8v0.8h-0.8zM21.2 15.7h0.8v0.8h-0.8zM31.1 45.8h0.8v0.8h-0.8zM32.4 38.0h0.8v0.8h-0.8zM5.6 15.1h0.8v0.8h-0.8zM4.8 41.6h0.8v0.8h-0.8zM9.3 39.9h0.8v0.8h-0.8zM28.0 40.7h0.8v0.8h-0.8zM9.6 11.3h0.8v0.8h-0.8zM16.7 12.4h0.8v0.8h-0.8zM14.5 45.9h0.8v0.8h-0.8zM6.5 7.7h0.8v0.8h-0.8zM29.6 48.2h0.8v0.8h-0.8zM33.1 16.6h0.8v0.8h-0.8zM9.6 31.3h0.8v0.8h-0.8zM34.0 46.1h0.8v0.8h-0.8zM4.5 25.4h0.8v0.8h-0.8zM8.1 17.1h0.8v0.8h-0.8zM30.3 37.3h0.8v0.8h-0.8zM21.9 13.5h0.8v0.8h-0.8zM27.8 5.0h0.8v0.8h-0.8zM6.4 51.0h0.8v0.8h-0.8zM5.8 30.3h0.8v0.8h-0.8zM13.9 38.0h0.8v0.8h-0.8zM4.7 1.3h0.8v0.8h-0.8zM16.6 50.8h0.8v0.8h-0.8zM9.2 21.3h0.8v0.8h-0.8zM32.2 1.7h0.8v0.8h-0.8zM23.2 48.2h0.8v0.8h-0.8zM1.4 48.3h0.8v0.8h-0.8zM8.9 2.5h0.8v0.8h-0.8zM11.3 44.9h0.8v0.8h-0.8zM9.4 27.5h0.8v0.8h-0.8zM8.5 10.1h0.8v0.8h-0.8zM19.9 2.0h0.8v0.8h-0.8zM18.9 35.1h0.8v0.8h-0.8zM24.7 1.2h0.8v0.8h-0.8zM28.5 25.8h0.8v0.8h-0.8zM18.7 24.7h0.8v0.8h-0.8zM32.5 29.5h0.8v0.8h-0.8zM25.1 47.6h0.8v0.8h-0.8zM11.6 43.3h0.8v0.8h-0.8zM20.1 49.9h0.8v0.8h-0.8zM11.6 29.7h0.8v0.8h-0.8zM15.3 36.4h0.8v0.8h-0.8zM14.1 9.2h0.8v0.8h-0.8zM34.5 10.8h0.8v0.8h-0.8zM5.3 2.7h0.8v0.8h-0.8zM9.2 43.5h0.8v0.8h-0.8zM12.0 42.5h0.8v0.8h-0.8zM21.8 19.1h0.8v0.8h-0.8zM1.2 19.4h0.8v0.8h-0.8zM12.2 10.6h0.8v0.8h-0.8zM10.5 28.5h0.8v0.8h-0.8zM24.2 34.5h0.8v0.8h-0.8zM18.9 3.4h0.8v0.8h-0.8zM8.3 34.8h0.8v0.8h-0.8zM34.6 41.8h0.8v0.8h-0.8zM9.7 22.0h0.8v0.8h-0.8zM26.1 14.5h0.8v0.8h-0.8zM21.8 26.9h0.8v0.8h-0.8zM29.6 12.4h0.8v0.8h-0.8zM33.2 16.2h0.8v0.8h-0.8zM27.1 35.4h0.8v0.8h-0.8zM27.6 17.3h0.8v0.8h-0.8zM30.1 39.7h0.8v0.8h-0.8zM24.0 46.8h0.8v0.8h-0.8zM14.7 32.0h0.8v0.8h-0.8zM16.7 51.2h0.8v0.8h-0.8zM20.6 13.3h0.8v0.8h-0.8zM26.9 47.3h0.8v0.8h-0.8zM12.1 42.4h0.8v0.8h-0.8zM32.7 29.2h0.8v0.8h-0.8zM31.5 6.2h0.8v0.8h-0.8zM18.7 21.1h0.8v0.8h-0.8zM17.7 29.8h0.8v0.8h-0.8zM16.2 50.5h0.8v0.8h-0.8zM32.6 6.3h0.8v0.8h-0.8zM18.6 20.5h0.8v0.8h-0.8zM20.6 5.5h0.8v0.8h-0.8zM25.0 24.3h0.8v0.8h-0.8zM11.6 46.8h0.8v0.8h-0.8zM25.3 43.6h0.8v0.8h-0.8zM5.3 14.6h0.8v0.8h-0.8zM20.3 48.0h0.8v0.8h-0.8zM27.4 45.6h0.8v0.8h-0.8zM9.1 39.1h0.8v0.8h-0.8zM1.7 4.0h0.8v0.8h-0.8zM25.8 11.4h0.8v0.8h-0.8zM30.8 33.4h0.8v0.8h-0.8zM11.5 5.0h0.8v0.8h-0.8zM5.5 5.1h0.8v0.8h-0.8zM4.0 34.7h0.8v0.8h-0.8zM21.0 44.2h0.8v0.8h-0.8zM20.2 51.4h0.8v0.8h-0.8zM18.4 6.3h0.8v0.8h-0.8zM12.0 32.9h0.8v0.8h-0.8zM19.1 49.5h0.8v0.8h-0.8zM4.3 41.9h0.8v0.8h-0.8zM30.7 34.0h0.8v0.8h-0.8zM31.8 7.1h0.8v0.8h-0.8zM32.3 45.5h0.8v0.8h-0.8zM29.6 46.5h0.8v0.8h-0.8zM19.0 46.5h0.8v0.8h-0.8zM25.5 13.3h0.8v0.8h-0.8zM22.6 44.9h0.8v0.8h-0.8zM24.5 32.2h0.8v0.8h-0.8zM6.1 1.4h0.8v0.8h-0.8zM33.9 14.5h0.8v0.8h-0.8zM6.0 23.3h0.8v0.8h-0.8zM13.3 20.8h0.8v0.8h-0.8zM6.6 4.0h0.8v0.8h-0.8zM8.6 23.5h0.8v0.8h-0.8zM13.4 3.4h0.8v0.8h-0.8zM23.3 51.0h0.8v0.8h-0.8zM32.9 37.3h0.8v0.8h-0.8zM10.3 29.3h0.8v0.8h-0.8zM5.1 39.4h0.8v0.8h-0.8zM21.0 48.3h0.8v0.8h-0.8zM3.7 17.9h0.8v0.8h-0.8zM13.3 11.7h0.8v0.8h-0.8zM10.1 36.5h0.8v0.8h-0.8zM16.8 43.2h0.8v0.8h-0.8zM22.1 39.1h0.8v0.8h-0.8zM3.5 50.2h0.8v0.8h-0.8zM28.6 22.8h0.8v0.8h-0.8zM27.0 12.8h0.8v0.8h-0.8zM34.4 1.7h0.8v0.8h-0.8zM26.7 5.1h0.8v0.8h-0.8zM26.6 43.0h0.8v0.8h-0.8zM13.1 32.6h0.8v0.8h-0.8zM10.5 39.2h0.8v0.8h-0.8zM19.4 18.0h0.8v0.8h-0.8zM27.9 23.8h0.8v0.8h-0.8zM1.7 11.3h0.8v0.8h-0.8zM28.8 17.4h0.8v0.8h-0.8zM14.2 42.2h0.8v0.8h-0.8zM31.4 18.8h0.8v0.8h-0.8zM31.1 51.5h0.8v0.8h-0.8zM8.6 15.6h0.8v0.8h-0.8zM1.7 8.2h0.8v0.8h-0.8zM20.1 21.4h0.8v0.8h-0.8zM33.5 51.0h0.8v0.8h-0.8zM9.0 1.3h0.8v0.8h-0.8zM13.0 47.5h0.8v0.8h-0.8zM18.8 16.4h0.8v0.8h-0.8zM10.7 25.0h0.8v0.8h-0.8zM27.7 47.3h0.8v0.8h-0.8zM11.8 3.0h0.8v0.8h-0.8zM5.3 12.0h0.8v0.8h-0.8zM19.3 30.6h0.8v0.8h-0.8zM17.8 24.3h0.8v0.8h-0.8zM25.9 48.8h0.8v0.8h-0.8zM22.5 25.9h0.8v0.8h-0.8zM3.0 3.3h0.8v0.8h-0.8zM29.7 29.1h0.8v0.8h-0.8zM23.2 12.7h0.8v0.8h-0.8zM11.8 19.9h0.8v0.8h-0.8zM26.2 16.9h0.8v0.8h-0.8zM31.5 2.1h0.8v0.8h-0.8zM25.9 47.0h0.8v0.8h-0.8zM23.9 39.7h0.8v0.8h-0.8zM1.9 15.2h0.8v0.8h-0.8zM3.1 42.5h0.8v0.8h-0.8zM10.3 25.4h0.8v0.8h-0.8zM18.0 34.7h0.8v0.8h-0.8zM4.4 12.7h0.8v0.8h-0.8zM14.5 3.8h0.8v0.8h-0.8zM13.9 19.9h0.8v0.8h-0.8zM22.4 43.2h0.8v0.8h-0.8zM4.4 37.9h0.8v0.8h-0.8zM13.8 23.2h0.8v0.8h-0.8zM2.8 15.0h0.8v0.8h-0.8zM5.0 35.5h0.8v0.8h-0.8zM5.3 45.3h0.8v0.8h-0.8zM26.3 40.6h0.8v0.8h-0.8zM31.9 26.2h0.8v0.8h-0.8zM18.2 8.0h0.8v0.8h-0.8zM8.1 40.3h0.8v0.8h-0.8zM32.2 30.3h0.8v0.8h-0.8zM24.4 26.2h0.8v0.8h-0.8zM25.6 26.5h0.8v0.8h-0.8zM33.3 16.3h0.8v0.8h-0.8zM13.8 24.3h0.8v0.8h-0.8zM2.1 33.2h0.8v0.8h-0.8zM19.7 36.4h0.8v0.8h-0.8zM32.1 38.0h0.8v0.8h-0.8zM25.8 17.2h0.8v0.8h-0.8zM29.8 42.5h0.8v0.8h-0.8zM24.3 17.4h0.8v0.8h-0.8zM26.1 17.7h0.8v0.8h-0.8zM27.3 28.0h0.8v0.8h-0.8zM9.3 7.6h0.8v0.8h-0.8zM13.4 45.5h0.8v0.8h-0.8zM20.8 48.0h0.8v0.8h-0.8zM6.0 18.2h0.8v0.8h-0.8zM1.8 49.2h0.8v0.8h-0.8zM28.6 36.7h0.8v0.8h-0.8zM11.1 19.1h0.8v0.8h-0.8zM34.7 44.0h0.8v0.8h-0.8zM32.1 35.8h0.8v0.8h-0.8zM19.6 45.9h0.8v0.8h-0.8zM26.3 50.3h0.8v0.8h-0.8zM28.2 12.0h0.8v0.8h-0.8zM26.2 50.2h0.8v0.8h-0.8zM23.7 38.0h0.8v0.8h-0.8zM32.7 32.7h0.8v0.8h-0.8zM22.0 15.3h0.8v0.8h-0.8zM27.9 1.5h0.8v0.8h-0.8zM15.0 17.4h0.8v0.8h-0.8zM17.9 34.7h0.8v0.8h-0.8zM32.1 19.5h0.8v0.8h-0.8zM8.2 28.6h0.8v0.8h-0.8zM18.1 33.4h0.8v0.8h-0.8zM29.1 43.6h0.8v0.8h-0.8zM29.9 39.1h0.8v0.8h-0.8zM31.1 25.6h0.8v0.8h-0.8zM25.8 46.4h0.8v0.8h-0.8zM34.6 45.2h0.8v0.8h-0.8zM8.3 49.7h0.8v0.8h-0.8zM5.5 48.1h0.8v0.8h-0.8zM23.3 9.6h0.8v0.8h-0.8zM9.9 36.0h0.8v0.8h-0.8zM15.0 44.8h0.8v0.8h-0.8zM13.9 41.3h0.8v0.8h-0.8zM19.4 14.0h0.8v0.8h-0.8zM21.5 34.5h0.8v0.8h-0.8zM32.0 18.9h0.8v0.8h-0.8zM19.1 21.1h0.8v0.8h-0.8zM29.0 22.3h0.8v0.8h-0.8zM10.9 27.9h0.8v0.8h-0.8zM31.1 40.0h0.8v0.8h-0.8zM11.3 35.0h0.8v0.8h-0.8zM10.7 31.3h0.8v0.8h-0.8zM21.8 21.9h0.8v0.8h-0.8zM15.0 9.6h0.8v0.8h-0.8zM23.8 51.2h0.8v0.8h-0.8zM33.8 48.3h0.8v0.8h-0.8zM4.6 32.4h0.8v0.8h-0.8zM17.8 43.0h0.8v0.8h-0.8zM17.0 18.3h0.8v0.8h-0.8zM20.3 23.0h0.8v0.8h-0.8zM24.1 11.2h0.8v0.8h-0.8zM11.5 24.4h0.8v0.8h-0.8zM33.0 25.9h0.8v0.8h-0.8zM19.0 28.7h0.8v0.8h-0.8zM12.3 10.0h0.8v0.8h-0.8zM10.4 17.2h0.8v0.8h-0.8zM29.9 5.8h0.8v0.8h-0.8zM28.2 38.2h0.8v0.8h-0.8zM17.7 5.7h0.8v0.8h-0.8zM28.0 16.9h0.8v0.8h-0.8zM19.8 29.2h0.8v0.8h-0.8zM22.8 3.8h0.8v0.8h-0.8zM2.8 22.9h0.8v0.8h-0.8zM34.1 15.2h0.8v0.8h-0.8zM24.0 9.4h0.8v0.8h-0.8zM4.7 20.6h0.8v0.8h-0.8zM18.3 19.7h0.8v0.8h-0.8zM28.3 14.2h0.8v0.8h-0.8zM17.6 51.9h0.8v0.8h-0.8zM31.5 36.4h0.8v0.8h-0.8zM25.2 30.3h0.8v0.8h-0.8zM9.1 3.5h0.8v0.8h-0.8zM2.0 17.4h0.8v0.8h-0.8zM29.3 5.0h0.8v0.8h-0.8zM32.6 15.4h0.8v0.8h-0.8zM30.2 18.3h0.8v0.8h-0.8zM5.3 1.8h0.8v0.8h-0.8zM2.7 27.1h0.8v0.8h-0.8zM31.0 33.6h0.8v0.8h-0.8zM35.2 37.5h0.8v0.8h-0.8zM21.8 2.3h0.8v0.8h-0.8zM13.9 15.3h0.8v0.8h-0.8zM33.5 48.0h0.8v0.8h-0.8zM12.4 40.4h0.8v0.8h-0.8zM19.9 49.1h0.8v0.8h-0.8zM25.2 45.2h0.8v0.8h-0.8zM27.3 5.7h0.8v0.8h-0.8zM29.3 17.8h0.8v0.8h-0.8zM12.4 29.1h0.8v0.8h-0.8zM4.7 49.4h0.8v0.8h-0.8zM27.3 6.0h0.8v0.8h-0.8zM21.9 50.1h0.8v0.8h-0.8zM8.4 15.6h0.8v0.8h-0.8zM2.8 24.9h0.8v0.8h-0.8zM9.8 50.9h0.8v0.8h-0.8zM26.0 45.1h0.8v0.8h-0.8zM30.1 21.3h0.8v0.8h-0.8zM10.4 32.5h0.8v0.8h-0.8zM28.2 32.9h0.8v0.8h-0.8zM20.9 3.9h0.8v0.8h-0.8zM9.1 28.9h0.8v0.8h-0.8zM23.0 26.2h0.8v0.8h-0.8zM27.3 10.2h0.8v0.8h-0.8zM22.9 33.5h0.8v0.8h-0.8zM28.1 26.3h0.8v0.8h-0.8zM20.3 36.3h0.8v0.8h-0.8zM6.0 14.6h0.8v0.8h-0.8zM21.9 23.1h0.8v0.8h-0.8zM14.0 42.2h0.8v0.8h-0.8zM18.4 33.2h0.8v0.8h-0.8zM21.5 46.0h0.8v0.8h-0.8zM28.4 6.5h0.8v0.8h-0.8zM30.8 5.5h0.8v0.8h-0.8zM20.9 30.4h0.8v0.8h-0.8zM33.3 1.4h0.8v0.8h-0.8zM19.8 7.1h0.8v0.8h-0.8zM31.0 1.1h0.8v0.8h-0.8zM30.3 29.3h0.8v0.8h-0.8zM13.5 33.4h0.8v0.8h-0.8zM27.4 13.9h0.8v0.8h-0.8zM29.0 23.4h0.8v0.8h-0.8zM26.3 35.8h0.8v0.8h-0.8zM25.7 14.9h0.8v0.8h-0.8zM24.1 13.0h0.8v0.8h-0.8zM20.8 30.2h0.8v0.8h-0.8zM6.3 12.8h0.8v0.8h-0.8zM34.9 14.6h0.8v0.8h-0.8zM13.5 39.8h0.8v0.8h-0.8zM30.1 26.5h0.8v0.8h-0.8zM26.0 25.3h0.8v0.8h-0.8zM15.3 28.6h0.8v0.8h-0.8zM26.3 34.2h0.8v0.8h-0.8zM16.9 6.5h0.8v0.8h-0.8zM27.3 10.0h0.8v0.8h-0.8zM18.1 25.3h0.8v0.8h-0.8zM33.0 17.6h0.8v0.8h-0.8zM15.0 46.9h0.8v0.8h-0.8zM16.1 21.6h0.8v0.8h-0.8zM29.1 44.5h0.8v0.8h-0.8zM35.1 17.4h0.8v0.8h-0.8zM3.8 13.0h0.8v0.8h-0.8zM22.1 30.1h0.8v0.8h-0.8zM27.6 8.3h0.8v0.8h-0.8zM21.7 6.5h0.8v0.8h-0.8zM12.7 26.4h0.8v0.8h-0.8zM5.8 14.4h0.8v0.8h-0.8zM31.2 15.1h0.8v0.8h-0.8zM20.3 16.7h0.8v0.8h-0.8zM8.8 39.3h0.8v0.8h-0.8zM9.0 1.8h0.8v0.8h-0.8zM17.1 11.8h0.8v0.8h-0.8zM2.0 42.9h0.8v0.8h-0.8zM22.7 16.2h0.8v0.8h-0.8zM3.6 6.3h0.8v0.8h-0.8zM14.7 17.3h0.8v0.8h-0.8zM11.3 37.0h0.8v0.8h-0.8zM23.4 28.4h0.8v0.8h-0.8zM19.3 5.7h0.8v0.8h-0.8zM9.4 22.8h0.8v0.8h-0.8zM2.3 29.5h0.8v0.8h-0.8zM27.5 41.6h0.8v0.8h-0.8zM21.1 29.6h0.8v0.8h-0.8zM25.8 14.3h0.8v0.8h-0.8zM16.9 47.2h0.8v0.8h-0.8zM15.2 39.0h0.8v0.8h-0.8zM21.0 7.9h0.8v0.8h-0.8zM17.1 20.0h0.8v0.8h-0.8zM12.2 24.4h0.8v0.8h-0.8zM31.9 17.8h0.8v0.8h-0.8zM11.3 1.1h0.8v0.8h-0.8zM13.0 13.4h0.8v0.8h-0.8zM16.9 10.5h0.8v0.8h-0.8zM27.7 18.6h0.8v0.8h-0.8zM6.7 28.9h0.8v0.8h-0.8zM21.4 46.8h0.8v0.8h-0.8zM34.9 14.8h0.8v0.8h-0.8zM7.0 32.9h0.8v0.8h-0.8zM3.3 31.9h0.8v0.8h-0.8zM7.6 16.7h0.8v0.8h-0.8zM7.3 30.7h0.8v0.8h-0.8zM4.2 12.0h0.8v0.8h-0.8zM33.5 26.2h0.8v0.8h-0.8zM32.7 42.0h0.8v0.8h-0.8zM28.9 17.5h0.8v0.8h-0.8zM31.5 20.0h0.8v0.8h-0.8zM11.6 31.7h0.8v0.8h-0.8zM14.8 27.2h0.8v0.8h-0.8zM13.6 26.3h0.8v0.8h-0.8zM5.4 48.2h0.8v0.8h-0.8zM19.2 10.8h0.8v0.8h-0.8zM6.0 7.0h0.8v0.8h-0.8zM31.4 12.3h0.8v0.8h-0.8zM4.7 21.2h0.8v0.8h-0.8zM30.8 39.8h0.8v0.8h-0.8zM4.8 15.5h0.8v0.8h-0.8zM11.9 38.3h0.8v0.8h-0.8zM7.2 33.0h0.8v0.8h-0.8zM6.2 48.1h0.8v0.8h-0.8zM7.0 24.5h0.8v0.8h-0.8zM14.9 12.6h0.8v0.8h-0.8zM26.9 16.8h0.8v0.8h-0.8zM15.6 46.6h0.8v0.8h-0.8zM29.0 13.4h0.8v0.8h-0.8zM20.1 7.3h0.8v0.8h-0.8zM21.8 25.8h0.8v0.8h-0.8zM4.0 25.0h0.8v0.8h-0.8zM28.6 1.3h0.8v0.8h-0.8zM16.6 30.3h0.8v0.8h-0.8zM10.0 13.0h0.8v0.8h-0.8zM21.1 7.2h0.8v0.8h-0.8zM25.9 41.2h0.8v0.8h-0.8zM24.1 11.5h0.8v0.8h-0.8zM5.7 37.4h0.8v0.8h-0.8zM5.2 17.2h0.8v0.8h-0.8zM5.8 51.2h0.8v0.8h-0.8zM14.7 47.6h0.8v0.8h-0.8zM2.4 31.7h0.8v0.8h-0.8zM27.7 1.7h0.8v0.8h-0.8zM34.9 37.3h0.8v0.8h-0.8zM32.7 22.8h0.8v0.8h-0.8zM31.0 45.9h0.8v0.8h-0.8zM18.5 10.5h0.8v0.8h-0.8zM35.2 21.5h0.8v0.8h-0.8zM5.2 10.6h0.8v0.8h-0.8zM1.4 50.4h0.8v0.8h-0.8zM19.9 47.8h0.8v0.8h-0.8zM12.8 19.3h0.8v0.8h-0.8zM14.9 33.5h0.8v0.8h-0.8zM35.2 26.6h0.8v0.8h-0.8zM4.8 37.9h0.8v0.8h-0.8zM23.2 43.1h0.8v0.8h-0.8zM4.5 48.8h0.8v0.8h-0.8zM34.7 33.8h0.8v0.8h-0.8zM32.2 29.5h0.8v0.8h-0.8zM8.5 40.5h0.8v0.8h-0.8zM11.4 35.8h0.8v0.8h-0.8zM29.9 39.1h0.8v0.8h-0.8zM30.1 47.8h0.8v0.8h-0.8zM5.7 43.9h0.8v0.8h-0.8zM21.6 8.5h0.8v0.8h-0.8zM8.9 17.5h0.8v0.8h-0.8zM32.1 1.2h0.8v0.8h-0.8zM14.2 19.7h0.8v0.8h-0.8zM5.4 9.6h0.8v0.8h-0.8zM31.6 33.7h0.8v0.8h-0.8zM28.0 24.9h0.8v0.8h-0.8zM18.0 52.1h0.8v0.8h-0.8zM24.8 26.7h0.8v0.8h-0.8zM27.5 45.1h0.8v0.8h-0.8zM17.7 48.0h0.8v0.8h-0.8zM30.1 20.7h0.8v0.8h-0.8zM30.1 3.7h0.8v0.8h-0.8zM3.9 35.6h0.8v0.8h-0.8zM29.6 46.4h0.8v0.8h-0.8zM27.0 9.2h0.8v0.8h-0.8zM29.6 27.8h0.8v0.8h-0.8zM9.3 21.5h0.8v0.8h-0.8zM4.4 36.5h0.8v0.8h-0.8zM18.2 3.6h0.8v0.8h-0.8zM3.8 43.8h0.8v0.8h-0.8zM28.9 8.9h0.8v0.8h-0.8zM7.9 14.2h0.8v0.8h-0.8zM15.3 41.4h0.8v0.8h-0.8zM30.1 49.5h0.8v0.8h-0.8zM19.1 12.5h0.8v0.8h-0.8zM10.9 38.9h0.8v0.8h-0.8zM17.7 15.6h0.8v0.8h-0.8zM8.3 29.9h0.8v0.8h-0.8zM33.6 24.2h0.8v0.8h-0.8zM14.0 2.9h0.8v0.8h-0.8zM18.3 15.8h0.8v0.8h-0.8zM29.3 28.5h0.8v0.8h-0.8zM22.0 38.7h0.8v0.8h-0.8zM2.9 4.6h0.8v0.8h-0.8zM22.7 1.6h0.8v0.8h-0.8zM1.3 46.1h0.8v0.8h-0.8zM1.4 51.8h0.8v0.8h-0.8zM19.9 16.8h0.8v0.8h-0.8zM14.7 42.4h0.8v0.8h-0.8zM13.8 47.7h0.8v0.8h-0.8zM3.3 16.7h0.8v0.8h-0.8zM26.1 48.2h0.8v0.8h-0.8zM2.5 37.5h0.8v0.8h-0.8zM30.7 46.7h0.8v0.8h-0.8zM17.0 34.0h0.8v0.8h-0.8zM4.3 37.2h0.8v0.8h-0.8zM25.3 38.7h0.8v0.8h-0.8zM19.5 31.9h0.8v0.8h-0.8zM24.7 22.8h0.8v0.8h-0.8zM12.9 45.3h0.8v0.8h-0.8zM16.4 41.7h0.8v0.8h-0.8zM15.2 33.7h0.8v0.8h-0.8zM33.7 47.7h0.8v0.8h-0.8zM24.7 37.1h0.8v0.8h-0.8zM27.5 49.9h0.8v0.8h-0.8zM32.0 36.3h0.8v0.8h-0.8zM20.3 9.3h0.8v0.8h-0.8zM17.8 3.4h0.8v0.8h-0.8zM23.7 34.4h0.8v0.8h-0.8zM18.9 29.9h0.8v0.8h-0.8zM25.1 2.0h0.8v0.8h-0.8zM9.0 4.5h0.8v0.8h-0.8zM5.5 25.7h0.8v0.8h-0.8zM9.1 46.9h0.8v0.8h-0.8zM10.6 36.2h0.8v0.8h-0.8zM27.2 25.8h0.8v0.8h-0.8zM29.4 4.5h0.8v0.8h-0.8zM14.4 9.8h0.8v0.8h-0.8zM25.5 3.1h0.8v0.8h-0.8zM10.8 25.4h0.8v0.8h-0.8zM9.9 31.0h0.8v0.8h-0.8zM7.2 43.5h0.8v0.8h-0.8zM18.0 43.5h0.8v0.8h-0.8zM4.2 24.9h0.8v0.8h-0.8zM5.4 35.9h0.8v0.8h-0.8zM21.7 31.9h0.8v0.8h-0.8zM30.8 45.2h0.8v0.8h-0.8zM24.5 27.7h0.8v0.8h-0.8zM35.2 46.2h0.8v0.8h-0.8zM30.7 47.1h0.8v0.8h-0.8zM28.9 3.2h0.8v0.8h-0.8zM8.0 33.9h0.8v0.8h-0.8zM11.5 35.6h0.8v0.8h-0.8zM22.8 16.4h0.8v0.8h-0.8zM25.4 40.8h0.8v0.8h-0.8zM26.4 10.9h0.8v0.8h-0.8zM26.1 21.5h0.8v0.8h-0.8zM23.0 32.4h0.8v0.8h-0.8zM9.3 43.4h0.8v0.8h-0.8zM25.1 19.1h0.8v0.8h-0.8zM18.1 25.2h0.8v0.8h-0.8zM28.1 16.9h0.8v0.8h-0.8zM5.6 36.1h0.8v0.8h-0.8zM3.4 4.1h0.8v0.8h-0.8zM18.9 22.2h0.8v0.8h-0.8zM4.8 40.1h0.8v0.8h-0.8zM31.9 9.1h0.8v0.8h-0.8zM13.4 32.7h0.8v0.8h-0.8zM7.5 48.4h0.8v0.8h-0.8zM1.9 33.0h0.8v0.8h-0.8zM20.1 36.4h0.8v0.8h-0.8zM28.1 45.1h0.8v0.8h-0.8zM32.4 12.3h0.8v0.8h-0.8zM25.2 28.4h0.8v0.8h-0.8zM20.9 6.8h0.8v0.8h-0.8zM1.4 36.7h0.8v0.8h-0.8zM4.3 38.4h0.8v0.8h-0.8zM2.9 45.6h0.8v0.8h-0.8zM28.3 16.5h0.8v0.8h-0.8zM14.6 44.7h0.8v0.8h-0.8zM17.4 9.1h0.8v0.8h-0.8zM22.9 39.1h0.8v0.8h-0.8zM21.8 50.7h0.8v0.8h-0.8zM11.9 28.8h0.8v0.8h-0.8zM31.2 50.1h0.8v0.8h-0.8zM23.1 7.0h0.8v0.8h-0.8zM3.8 34.1h0.8v0.8h-0.8zM3.3 49.6h0.8v0.8h-0.8zM30.6 10.4h0.8v0.8h-0.8zM2.8 50.7h0.8v0.8h-0.8zM28.9 34.9h0.8v0.8h-0.8zM28.6 44.1h0.8v0.8h-0.8zM13.9 47.7h0.8v0.8h-0.8zM26.0 7.4h0.8v0.8h-0.8zM28.6 11.0h0.8v0.8h-0.8zM30.1 4.1h0.8v0.8h-0.8zM11.1 25.8h0.8v0.8h-0.8zM13.9 49.0h0.8v0.8h-0.8zM9.6 19.1h0.8v0.8h-0.8zM3.2 46.2h0.8v0.8h-0.8zM9.1 4.6h0.8v0.8h-0.8zM12.1 45.9h0.8v0.8h-0.8zM17.7 51.4h0.8v0.8h-0.8zM31.0 48.1h0.8v0.8h-0.8zM21.3 27.4h0.8v0.8h-0.8zM22.2 42.4h0.8v0.8h-0.8zM29.9 5.2h0.8v0.8h-0.8zM19.8 21.4h0.8v0.8h-0.8zM30.9 2.1h0.8v0.8h-0.8zM33.5 38.8h0.8v0.8h-0.8zM33.7 33.3h0.8v0.8h-0.8zM24.8 26.5h0.8v0.8h-0.8zM28.8 18.3h0.8v0.8h-0.8zM19.7 5.4h0.8v0.8h-0.8zM21.2 48.3h0.8v0.8h-0.8zM20.2 15.7h0.8v0.8h-0.8zM28.9 48.4h0.8v0.8h-0.8zM27.7 23.7h0.8v0.8h-0.8zM5.8 50.5h0.8v0.8h-0.8zM20.2 32.3h0.8v0.8h-0.8zM2.7 16.0h0.8v0.8h-0.8zM9.9 46.9h0.8v0.8h-0.8zM19.2 29.1h0.8v0.8h-0.8zM2.3 39.3h0.8v0.8h-0.8zM33.1 21.1h0.8v0.8h-0.8zM3.0 40.8h0.8v0.8h-0.8zM24.0 50.7h0.8v0.8h-0.8zM24.0 12.8h0.8v0.8h-0.8zM28.0 12.3h0.8v0.8h-0.8zM16.7 44.7h0.8v0.8h-0.8zM18.8 7.7h0.8v0.8h-0.8zM19.3 31.9h0.8v0.8h-0.8zM32.5 25.9h0.8v0.8h-0.8zM18.8 32.4h0.8v0.8h-0.8zM26.0 13.7h0.8v0.8h-0.8zM27.2 48.0h0.8v0.8h-0.8zM11.8 9.6h0.8v0.8h-0.8zM35.1 13.7h0.8v0.8h-0.8zM21.4 39.6h0.8v0.8h-0.8zM8.7 29.1h0.8v0.8h-0.8zM2.9 2.2h0.8v0.8h-0.8zM22.0 12.5h0.8v0.8h-0.8zM18.8 35.7h0.8v0.8h-0.8zM20.9 4.4h0.8v0.8h-0.8zM13.8 13.2h0.8v0.8h-0.8zM3.8 3.9h0.8v0.8h-0.8zM9.0 38.0h0.8v0.8h-0.8zM1.7 45.8h0.8v0.8h-0.8zM27.4 41.7h0.8v0.8h-0.8zM34.7 36.1h0.8v0.8h-0.8zM23.8 17.5h0.8v0.8h-0.8zM14.8 48.4h0.8v0.8h-0.8zM31.9 15.0h0.8v0.8h-0.8zM33.0 16.8h0.8v0.8h-0.8zM24.0 27.5h0.8v0.8h-0.8zM27.1 31.8h0.8v0.8h-0.8zM9.9 47.9h0.8v0.8h-0.8zM23.8 15.9h0.8v0.8h-0.8zM3.8 45.2h0.8v0.8h-0.8zM26.1 44.6h0.8v0.8h-0.8zM31.1 10.9h0.8v0.8h-0.8zM19.9 46.7h0.8v0.8h-0.8zM17.4 30.1h0.8v0.8h-0.8zM21.1 10.1h0.8v0.8h-0.8zM24.8 47.6h0.8v0.8h-0.8zM31.5 12.6h0.8v0.8h-0.8zM18.6 10.8h0.8v0.8h-0.8zM19.5 25.8h0.8v0.8h-0.8zM31.0 31.5h0.8v0.8h-0.8zM19.2 8.0h0.8v0.8h-0.8zM1.3 12.4h0.8v0.8h-0.8zM7.0 7.5h0.8v0.8h-0.8zM23.0 3.4h0.8v0.8h-0.8zM29.3 19.4h0.8v0.8h-0.8zM25.2 13.8h0.8v0.8h-0.8zM17.0 1.8h0.8v0.8h-0.8zM21.3 11.3h0.8v0.8h-0.8zM34.4 10.2h0.8v0.8h-0.8zM3.1 17.0h0.8v0.8h-0.8zM24.9 19.1h0.8v0.8h-0.8zM11.3 48.6h0.8v0.8h-0.8zM13.0 36.4h0.8v0.8h-0.8zM4.5 44.5h0.8v0.8h-0.8zM35.3 5.6h0.8v0.8h-0.8zM12.3 5.7h0.8v0.8h-0.8zM6.6 13.4h0.8v0.8h-0.8zM32.5 42.4h0.8v0.8h-0.8zM15.9 1.7h0.8v0.8h-0.8zM21.7 28.9h0.8v0.8h-0.8zM17.7 24.4h0.8v0.8h-0.8zM22.4 8.8h0.8v0.8h-0.8zM24.3 24.5h0.8v0.8h-0.8zM9.9 15.8h0.8v0.8h-0.8zM16.1 4.5h0.8v0.8h-0.8zM10.5 38.8h0.8v0.8h-0.8zM26.9 17.2h0.8v0.8h-0.8zM18.7 37.3h0.8v0.8h-0.8zM34.9 8.6h0.8v0.8h-0.8zM31.7 19.2h0.8v0.8h-0.8zM31.6 34.5h0.8v0.8h-0.8zM31.7 17.7h0.8v0.8h-0.8zM29.2 38.2h0.8v0.8h-0.8zM13.1 43.3h0.8v0.8h-0.8zM25.5 3.1h0.8v0.8h-0.8zM10.0 5.3h0.8v0.8h-0.8zM18.4 6.2h0.8v0.8h-0.8zM4.0 11.7h0.8v0.8h-0.8zM8.7 37.5h0.8v0.8h-0.8zM24.9 13.9h0.8v0.8h-0.8zM9.8 34.6h0.8v0.8h-0.8zM8.2 5.6h0.8v0.8h-0.8zM18.9 6.6h0.8v0.8h-0.8zM12.1 18.7h0.8v0.8h-0.8zM10.7 9.2h0.8v0.8h-0.8zM32.8 44.3h0.8v0.8h-0.8zM7.1 43.2h0.8v0.8h-0.8zM17.5 25.5h0.8v0.8h-0.8zM26.0 46.8h0.8v0.8h-0.8zM31.1 13.5h0.8v0.8h-0.8zM8.0 44.0h0.8v0.8h-0.8zM14.0 28.1h0.8v0.8h-0.8zM29.3 12.9h0.8v0.8h-0.8zM5.9 28.5h0.8v0.8h-0.8zM29.3 17.9h0.8v0.8h-0.8zM32.8 39.0h0.8v0.8h-0.8zM23.8 47.6h0.8v0.8h-0.8zM13.5 25.4h0.8v0.8h-0.8zM2.6 19.6h0.8v0.8h-0.8zM5.5 40.4h0.8v0.8h-0.8zM17.9 33.4h0.8v0.8h-0.8zM11.3 47.5h0.8v0.8h-0.8zM20.1 5.8h0.8v0.8h-0.8zM5.7 19.5h0.8v0.8h-0.8zM13.7 37.1h0.8v0.8h-0.8zM9.2 48.9h0.8v0.8h-0.8zM3.7 40.7h0.8v0.8h-0.8zM10.5 15.2h0.8v0.8h-0.8zM8.3 25.9h0.8v0.8h-0.8zM15.5 6.1h0.8v0.8h-0.8zM21.0 1.9h0.8v0.8h-0.8zM20.6 23.7h0.8v0.8h-0.8zM29.6 29.6h0.8v0.8h-0.8zM27.7 31.5h0.8v0.8h-0.8zM14.1 42.6h0.8v0.8h-0.8zM20.4 18.7h0.8v0.8h-0.8zM27.3 16.7h0.8v0.8h-0.8zM31.3 31.2h0.8v0.8h-0.8zM35.2 32.5h0.8v0.8h-0.8zM31.0 51.8h0.8v0.8h-0.8zM33.5 19.8h0.8v0.8h-0.8zM16.0 11.0h0.8v0.8h-0.8zM16.1 40.0h0.8v0.8h-0.8zM4.7 50.8h0.8v0.8h-0.8zM32.1 12.5h0.8v0.8h-0.8zM3.2 10.1h0.8v0.8h-0.8zM32.4 51.8h0.8v0.8h-0.8zM33.5 51.4h0.8v0.8h-0.8zM26.9 3.3h0.8v0.8h-0.8zM20.1 11.3h0.8v0.8h-0.8zM31.7 44.6h0.8v0.8h-0.8zM19.6 44.6h0.8v0.8h-0.8zM9.1 15.1h0.8v0.8h-0.8zM32.8 37.4h0.8v0.8h-0.8zM13.4 40.1h0.8v0.8h-0.8zM26.5 46.6h0.8v0.8h-0.8zM4.3 14.7h0.8v0.8h-0.8zM18.0 33.6h0.8v0.8h-0.8z" fill="#111"/>
<path d="M34.5 3.3h0.8v0.8h-0.8zM39.4 5.4h0.8v0.8h-0.8zM39.9 13.5h0.8v0.8h-0.8zM44.9 30.7h0.8v0.8h-0.8zM39.1 29.5h0.8v0.8h-0.8zM43.9 26.9h0.8v0.8h-0.8zM41.1 6.2h0.8v0.8h-0.8zM42.2 21.8h0.8v0.8h-0.8zM46.0 7.1h0.8v0.8h-0.8zM41.6 28.9h0.8v0.8h-0.8zM44.1 16.9h0.8v0.8h-0.8zM43.5 30.8h0.8v0.8h-0.8zM41.3 11.6h0.8v0.8h-0.8zM33.0 19.3h0.8v0.8h-0.8zM37.9 21.8h0.8v0.8h-0.8zM44.0 18.6h0.8v0.8h-0.8zM44.8 16.0h0.8v0.8h-0.8zM43.1 25.6h0.8v0.8h-0.8zM42.4 12.9h0.8v0.8h-0.8zM46.4 2.8h0.8v0.8h-0.8zM33.5 17.4h0.8v0.8h-0.8zM40.8 3.9h0.8v0.8h-0.8zM40.0 28.2h0.8v0.8h-0.8zM44.6 21.8h0.8v0.8h-0.8zM38.7 25.8h0.8v0.8h-0.8zM32.7 11.7h0.8v0.8h-0.8zM38.7 24.5h0.8v0.8h-0.8zM43.7 22.7h0.8v0.8h-0.8zM37.6 6.3h0.8v0.8h-0.8zM41.1 9.6h0.8v0.8h-0.8zM34.9 19.8h0.8v0.8h-0.8zM44.0 19.8h0.8v0.8h-0.8zM45.1 4.7h0.8v0.8h-0.8zM40.0 26.3h0.8v0.8h-0.8zM39.3 3.1h0.8v0.8h-0.8zM40.3 28.9h0.8v0.8h-0.8zM46.2 19.0h0.8v0.8h-0.8zM41.5 26.9h0.8v0.8h-0.8zM36.1 28.7h0.8v0.8h-0.8zM37.1 8.8h0.8v0.8h-0.8z" fill="#111"/>
<ellipse cx="20.61" cy="26.15" rx="11.78" ry="23.54" fill="url(#halo)" opacity="0.35" transform="rotate(0 20.61 26.15)"/>
<ellipse cx="14.72" cy="14.64" rx="9.42" ry="13.60" fill="url(#halo2)" opacity="0.8" transform="rotate(-12 14.72 14.64)"/>
<path d="M22.5 9.3h0.8v0.8h-0.8zM5.6 18.4h0.8v0.8h-0.8zM24.4 13.2h0.8v0.8h-0.8zM18.0 28.1h0.8v0.8h-0.8zM17.3 28.7h0.8v0.8h-0.8zM15.1 2.1h0.8v0.8h-0.8zM5.9 6.5h0.8v0.8h-0.8zM7.5 4.5h0.8v0.8h-0.8zM6.9 20.1h0.8v0.8h-0.8zM5.4 14.3h0.8v0.8h-0.8zM15.5 28.1h0.8v0.8h-0.8zM6.5 7.6h0.8v0.8h-0.8zM17.7 28.1h0.8v0.8h-0.8zM7.4 6.2h0.8v0.8h-0.8zM24.6 17.6h0.8v0.8h-0.8zM13.3 26.7h0.8v0.8h-0.8zM23.6 17.9h0.8v0.8h-0.8zM5.5 7.9h0.8v0.8h-0.8zM5.5 11.3h0.8v0.8h-0.8zM21.3 25.7h0.8v0.8h-0.8zM24.6 18.5h0.8v0.8h-0.8zM22.5 10.2h0.8v0.8h-0.8zM7.1 6.4h0.8v0.8h-0.8zM5.3 8.8h0.8v0.8h-0.8zM24.2 15.4h0.8v0.8h-0.8z" fill="#111"/>
<ellipse cx="14.72" cy="14.64" rx="7.54" ry="10.88" fill="url(#light2)" transform="rotate(-12 14.72 14.64)"/>
<ellipse cx="12.96" cy="39.22" rx="9.42" ry="8.37" fill="url(#halo2)" opacity="0.8" transform="rotate(0 12.96 39.22)"/>
<path d="M17.6 46.9h0.8v0.8h-0.8zM4.8 34.5h0.8v0.8h-0.8zM7.5 45.1h0.8v0.8h-0.8zM22.7 40.0h0.8v0.8h-0.8zM21.3 35.2h0.8v0.8h-0.8zM5.1 44.3h0.8v0.8h-0.8zM10.1 47.3h0.8v0.8h-0.8zM12.5 47.1h0.8v0.8h-0.8zM15.3 47.4h0.8v0.8h-0.8zM11.1 30.9h0.8v0.8h-0.8zM17.7 32.5h0.8v0.8h-0.8zM22.1 36.8h0.8v0.8h-0.8zM4.6 41.4h0.8v0.8h-0.8zM3.4 38.9h0.8v0.8h-0.8zM15.4 31.8h0.8v0.8h-0.8zM15.0 31.1h0.8v0.8h-0.8zM5.4 34.9h0.8v0.8h-0.8zM22.2 39.6h0.8v0.8h-0.8zM8.1 45.5h0.8v0.8h-0.8zM3.8 40.3h0.8v0.8h-0.8zM5.5 34.5h0.8v0.8h-0.8zM8.4 31.7h0.8v0.8h-0.8zM17.0 32.0h0.8v0.8h-0.8zM20.0 44.6h0.8v0.8h-0.8zM21.5 40.1h0.8v0.8h-0.8z" fill="#111"/>
<ellipse cx="12.96" cy="39.22" rx="7.54" ry="6.69" fill="url(#light2)" transform="rotate(0 12.96 39.22)"/>
<ellipse cx="28.27" cy="40.27" rx="10.01" ry="8.89" fill="url(#halo2)" opacity="0.8" transform="rotate(0 28.27 40.27)"/>
<path d="M23.3 33.2h0.8v0.8h-0.8zM21.4 46.7h0.8v0.8h-0.8zM20.2 44.5h0.8v0.8h-0.8zM37.8 39.2h0.8v0.8h-0.8zM34.7 33.1h0.8v0.8h-0.8zM21.2 46.7h0.8v0.8h-0.8zM29.5 48.3h0.8v0.8h-0.8zM37.4 37.8h0.8v0.8h-0.8zM19.2 37.8h0.8v0.8h-0.8zM36.6 45.0h0.8v0.8h-0.8zM37.0 35.1h0.8v0.8h-0.8zM21.6 34.5h0.8v0.8h-0.8zM30.5 48.6h0.8v0.8h-0.8zM26.5 32.1h0.8v0.8h-0.8zM35.4 34.4h0.8v0.8h-0.8zM37.7 39.9h0.8v0.8h-0.8zM35.8 34.6h0.8v0.8h-0.8zM26.7 31.6h0.8v0.8h-0.8zM19.3 43.1h0.8v0.8h-0.8zM27.4 49.0h0.8v0.8h-0.8zM19.1 43.7h0.8v0.8h-0.8zM28.0 31.5h0.8v0.8h-0.8zM28.3 49.0h0.8v0.8h-0.8zM18.5 43.0h0.8v0.8h-0.8zM28.7 31.3h0.8v0.8h-0.8z" fill="#111"/>
<ellipse cx="28.27" cy="40.27" rx="8.01" ry="7.11" fill="url(#light2)" transform="rotate(0 28.27 40.27)"/>
</g></svg>
<rect x="127.1" y="311.7" width="58.9" height="52.3" fill="none" stroke="#b0b0b0" stroke-width="0.85"/>
<line x1="148.0095" y1="311.7" x2="148.0095" y2="364.0" stroke="#b0b0b0" stroke-width="0.8"/>
<line x1="127.1" y1="344.3875" x2="186.0" y2="344.3875" stroke="#b0b0b0" stroke-width="0.8"/>
<rect x="127.5" y="312.3" width="3.2" height="3.2" fill="#fff" opacity="0.85"/>
<rect x="128.7" y="316.3" width="8.6" height="3.4" fill="#fff" opacity="0.85"/>
<text x="127.9" y="315.3" font-size="3" fill="#333">B1</text>
<text x="129.1" y="319.1" font-size="3" fill="#444">29.1%</text>
<rect x="148.4" y="312.3" width="3.2" height="3.2" fill="#fff" opacity="0.85"/>
<rect x="149.6" y="316.3" width="8.6" height="3.4" fill="#fff" opacity="0.85"/>
<text x="148.8" y="315.3" font-size="3" fill="#333">B2</text>
<text x="150.0" y="319.1" font-size="3" fill="#444">10.6%</text>
<rect x="127.5" y="345.0" width="3.2" height="3.2" fill="#fff" opacity="0.85"/>
<rect x="128.7" y="349.0" width="8.6" height="3.4" fill="#fff" opacity="0.85"/>
<text x="127.9" y="348.0" font-size="3" fill="#333">B3</text>
<text x="129.1" y="351.8" font-size="3" fill="#444">60.6%</text>
<rect x="148.4" y="345.0" width="3.2" height="3.2" fill="#fff" opacity="0.85"/>
<rect x="149.6" y="349.0" width="8.6" height="3.4" fill="#fff" opacity="0.85"/>
<text x="148.8" y="348.0" font-size="3" fill="#333">B4</text>
<text x="150.0" y="351.8" font-size="3" fill="#444">30.1%</text>
<text x="199.6" y="309.59999999999997" font-size="5.8" text-anchor="start" fill="#333">2.0</text>
<text x="248.4" y="309.59999999999997" font-size="5.8" text-anchor="end" fill="#333">1.2</text>
<svg x="195.1" y="311.7" width="58.9" height="52.3" viewBox="0 0 58.9 52.3" overflow="hidden"><g filter="url(#soft)">
<path d="M23.9 19.5h0.8v0.8h-0.8zM20.7 10.4h0.8v0.8h-0.8zM28.0 16.8h0.8v0.8h-0.8zM25.1 17.5h0.8v0.8h-0.8zM28.5 19.6h0.8v0.8h-0.8zM24.2 26.9h0.8v0.8h-0.8zM20.6 18.3h0.8v0.8h-0.8zM21.1 20.7h0.8v0.8h-0.8zM25.4 22.0h0.8v0.8h-0.8zM22.4 26.5h0.8v0.8h-0.8zM23.0 11.3h0.8v0.8h-0.8zM30.5 5.9h0.8v0.8h-0.8zM34.2 7.4h0.8v0.8h-0.8zM13.2 14.1h0.8v0.8h-0.8zM27.8 12.8h0.8v0.8h-0.8zM26.7 27.8h0.8v0.8h-0.8zM17.8 18.9h0.8v0.8h-0.8zM25.2 22.8h0.8v0.8h-0.8zM17.9 5.4h0.8v0.8h-0.8zM18.0 12.5h0.8v0.8h-0.8zM22.4 20.0h0.8v0.8h-0.8zM17.3 11.4h0.8v0.8h-0.8zM18.0 21.3h0.8v0.8h-0.8zM24.7 23.6h0.8v0.8h-0.8zM27.9 28.1h0.8v0.8h-0.8zM18.9 29.8h0.8v0.8h-0.8zM14.4 24.4h0.8v0.8h-0.8zM21.4 5.3h0.8v0.8h-0.8zM31.5 37.0h0.8v0.8h-0.8zM29.0 7.5h0.8v0.8h-0.8zM6.5 25.9h0.8v0.8h-0.8zM23.6 14.2h0.8v0.8h-0.8zM16.9 4.9h0.8v0.8h-0.8zM22.0 1.9h0.8v0.8h-0.8zM12.3 17.6h0.8v0.8h-0.8zM30.3 25.6h0.8v0.8h-0.8zM28.1 30.6h0.8v0.8h-0.8zM26.9 15.2h0.8v0.8h-0.8zM23.5 20.9h0.8v0.8h-0.8zM18.0 19.4h0.8v0.8h-0.8zM21.2 8.4h0.8v0.8h-0.8zM12.1 19.9h0.8v0.8h-0.8zM26.0 27.4h0.8v0.8h-0.8zM29.6 22.9h0.8v0.8h-0.8zM22.8 15.2h0.8v0.8h-0.8zM19.8 25.0h0.8v0.8h-0.8zM21.6 35.7h0.8v0.8h-0.8zM31.6 26.9h0.8v0.8h-0.8zM21.0 33.9h0.8v0.8h-0.8zM31.3 9.3h0.8v0.8h-0.8zM24.7 29.7h0.8v0.8h-0.8zM16.4 35.5h0.8v0.8h-0.8zM20.7 24.8h0.8v0.8h-0.8zM19.5 21.9h0.8v0.8h-0.8zM23.5 32.7h0.8v0.8h-0.8zM19.9 24.6h0.8v0.8h-0.8zM26.4 17.3h0.8v0.8h-0.8zM24.6 7.7h0.8v0.8h-0.8zM13.0 15.7h0.8v0.8h-0.8zM10.9 12.1h0.8v0.8h-0.8zM20.0 13.7h0.8v0.8h-0.8zM17.5 11.6h0.8v0.8h-0.8zM24.6 17.9h0.8v0.8h-0.8zM5.6 26.4h0.8v0.8h-0.8zM31.3 25.4h0.8v0.8h-0.8zM29.0 13.1h0.8v0.8h-0.8zM32.3 25.0h0.8v0.8h-0.8zM21.1 30.0h0.8v0.8h-0.8zM24.1 13.3h0.8v0.8h-0.8zM21.9 24.0h0.8v0.8h-0.8zM20.1 23.1h0.8v0.8h-0.8zM17.6 5.1h0.8v0.8h-0.8zM29.2 23.4h0.8v0.8h-0.8zM24.7 5.9h0.8v0.8h-0.8zM21.0 30.1h0.8v0.8h-0.8zM18.6 10.6h0.8v0.8h-0.8zM36.0 19.8h0.8v0.8h-0.8zM25.1 19.0h0.8v0.8h-0.8zM30.3 21.6h0.8v0.8h-0.8zM17.3 16.7h0.8v0.8h-0.8zM22.3 34.6h0.8v0.8h-0.8zM22.1 18.6h0.8v0.8h-0.8zM29.2 29.2h0.8v0.8h-0.8zM18.5 22.1h0.8v0.8h-0.8zM27.3 17.5h0.8v0.8h-0.8zM27.7 23.9h0.8v0.8h-0.8zM14.0 26.6h0.8v0.8h-0.8zM22.1 16.4h0.8v0.8h-0.8zM8.0 23.1h0.8v0.8h-0.8zM8.3 21.4h0.8v0.8h-0.8zM31.3 11.0h0.8v0.8h-0.8zM20.0 16.6h0.8v0.8h-0.8zM27.2 19.1h0.8v0.8h-0.8zM19.1 29.2h0.8v0.8h-0.8zM10.9 16.7h0.8v0.8h-0.8zM7.6 15.2h0.8v0.8h-0.8zM23.9 8.1h0.8v0.8h-0.8zM20.4 31.6h0.8v0.8h-0.8zM10.9 19.8h0.8v0.8h-0.8zM20.0 34.5h0.8v0.8h-0.8zM20.9 14.8h0.8v0.8h-0.8zM28.7 16.2h0.8v0.8h-0.8zM16.3 22.6h0.8v0.8h-0.8zM13.0 29.7h0.8v0.8h-0.8zM28.2 15.5h0.8v0.8h-0.8zM14.7 18.0h0.8v0.8h-0.8zM31.6 32.1h0.8v0.8h-0.8zM20.5 20.8h0.8v0.8h-0.8zM22.4 26.9h0.8v0.8h-0.8zM22.7 14.8h0.8v0.8h-0.8zM29.5 35.0h0.8v0.8h-0.8zM16.7 38.1h0.8v0.8h-0.8zM24.6 20.1h0.8v0.8h-0.8zM23.4 27.9h0.8v0.8h-0.8zM16.2 18.1h0.8v0.8h-0.8zM37.0 15.3h0.8v0.8h-0.8zM4.6 9.8h0.8v0.8h-0.8zM33.2 2.5h0.8v0.8h-0.8zM19.2 17.8h0.8v0.8h-0.8zM19.9 18.8h0.8v0.8h-0.8zM4.2 34.4h0.8v0.8h-0.8zM14.0 27.7h0.8v0.8h-0.8zM31.5 15.9h0.8v0.8h-0.8zM16.0 26.6h0.8v0.8h-0.8zM29.9 30.1h0.8v0.8h-0.8zM18.4 13.9h0.8v0.8h-0.8zM10.2 26.6h0.8v0.8h-0.8zM26.1 21.7h0.8v0.8h-0.8zM13.8 9.3h0.8v0.8h-0.8zM13.0 16.8h0.8v0.8h-0.8zM30.2 20.6h0.8v0.8h-0.8zM19.4 18.8h0.8v0.8h-0.8zM16.9 18.7h0.8v0.8h-0.8zM15.3 32.1h0.8v0.8h-0.8zM22.3 18.7h0.8v0.8h-0.8zM29.7 26.0h0.8v0.8h-0.8zM29.9 14.4h0.8v0.8h-0.8zM16.0 31.5h0.8v0.8h-0.8zM23.8 18.2h0.8v0.8h-0.8zM28.6 21.9h0.8v0.8h-0.8zM20.0 10.0h0.8v0.8h-0.8zM18.0 20.6h0.8v0.8h-0.8zM22.8 22.0h0.8v0.8h-0.8zM16.8 21.3h0.8v0.8h-0.8zM15.4 15.3h0.8v0.8h-0.8zM17.1 32.7h0.8v0.8h-0.8zM18.0 27.8h0.8v0.8h-0.8zM12.1 23.4h0.8v0.8h-0.8zM32.4 18.2h0.8v0.8h-0.8zM32.6 19.9h0.8v0.8h-0.8zM12.6 18.1h0.8v0.8h-0.8zM22.9 20.2h0.8v0.8h-0.8zM25.0 20.3h0.8v0.8h-0.8zM29.5 28.5h0.8v0.8h-0.8zM22.4 11.3h0.8v0.8h-0.8zM23.3 28.7h0.8v0.8h-0.8zM25.4 24.0h0.8v0.8h-0.8zM8.8 25.9h0.8v0.8h-0.8zM21.3 15.8h0.8v0.8h-0.8zM24.8 16.6h0.8v0.8h-0.8zM8.4 9.4h0.8v0.8h-0.8zM21.6 30.8h0.8v0.8h-0.8zM10.6 4.3h0.8v0.8h-0.8zM25.1 11.5h0.8v0.8h-0.8zM18.1 16.8h0.8v0.8h-0.8zM23.9 14.2h0.8v0.8h-0.8zM19.9 15.9h0.8v0.8h-0.8zM20.0 4.9h0.8v0.8h-0.8zM26.9 25.3h0.8v0.8h-0.8zM26.0 28.5h0.8v0.8h-0.8zM23.2 39.3h0.8v0.8h-0.8zM23.0 17.3h0.8v0.8h-0.8zM22.0 26.4h0.8v0.8h-0.8zM27.1 28.0h0.8v0.8h-0.8zM20.4 10.3h0.8v0.8h-0.8zM17.8 19.6h0.8v0.8h-0.8zM9.8 24.2h0.8v0.8h-0.8zM25.9 22.7h0.8v0.8h-0.8zM14.2 18.5h0.8v0.8h-0.8zM25.5 33.1h0.8v0.8h-0.8zM29.2 18.9h0.8v0.8h-0.8zM37.1 18.5h0.8v0.8h-0.8zM21.8 12.8h0.8v0.8h-0.8zM7.5 12.7h0.8v0.8h-0.8zM26.0 12.1h0.8v0.8h-0.8zM21.9 26.3h0.8v0.8h-0.8zM12.8 29.1h0.8v0.8h-0.8zM15.1 25.2h0.8v0.8h-0.8zM24.1 28.4h0.8v0.8h-0.8zM22.9 22.1h0.8v0.8h-0.8zM23.9 30.0h0.8v0.8h-0.8zM15.6 8.4h0.8v0.8h-0.8zM14.1 27.6h0.8v0.8h-0.8zM23.4 18.8h0.8v0.8h-0.8zM17.4 17.9h0.8v0.8h-0.8zM25.3 18.7h0.8v0.8h-0.8zM19.0 26.9h0.8v0.8h-0.8zM22.1 7.3h0.8v0.8h-0.8zM28.8 22.7h0.8v0.8h-0.8zM19.7 23.7h0.8v0.8h-0.8zM29.0 21.5h0.8v0.8h-0.8zM22.8 26.7h0.8v0.8h-0.8zM16.1 11.7h0.8v0.8h-0.8zM19.2 23.4h0.8v0.8h-0.8zM24.9 12.8h0.8v0.8h-0.8zM19.8 29.6h0.8v0.8h-0.8zM28.1 25.1h0.8v0.8h-0.8zM26.2 24.7h0.8v0.8h-0.8zM14.9 9.7h0.8v0.8h-0.8zM31.6 18.1h0.8v0.8h-0.8zM29.4 26.4h0.8v0.8h-0.8zM21.1 25.8h0.8v0.8h-0.8zM18.6 13.5h0.8v0.8h-0.8zM27.7 13.2h0.8v0.8h-0.8zM23.6 23.7h0.8v0.8h-0.8zM36.1 25.6h0.8v0.8h-0.8zM28.2 15.7h0.8v0.8h-0.8zM30.8 13.0h0.8v0.8h-0.8zM20.3 7.8h0.8v0.8h-0.8zM21.6 16.5h0.8v0.8h-0.8zM17.3 12.6h0.8v0.8h-0.8zM18.5 23.3h0.8v0.8h-0.8zM14.7 8.7h0.8v0.8h-0.8zM20.7 17.4h0.8v0.8h-0.8zM30.8 23.6h0.8v0.8h-0.8zM20.2 17.0h0.8v0.8h-0.8zM34.6 24.7h0.8v0.8h-0.8zM35.1 19.0h0.8v0.8h-0.8zM20.0 17.8h0.8v0.8h-0.8zM19.7 26.3h0.8v0.8h-0.8zM8.5 27.0h0.8v0.8h-0.8zM25.4 17.8h0.8v0.8h-0.8zM8.9 15.4h0.8v0.8h-0.8zM29.8 19.6h0.8v0.8h-0.8zM25.1 32.1h0.8v0.8h-0.8zM30.8 27.7h0.8v0.8h-0.8zM30.0 6.5h0.8v0.8h-0.8zM21.9 14.4h0.8v0.8h-0.8zM17.1 19.1h0.8v0.8h-0.8zM33.3 23.8h0.8v0.8h-0.8zM29.8 24.4h0.8v0.8h-0.8zM18.5 30.5h0.8v0.8h-0.8zM16.7 29.9h0.8v0.8h-0.8zM24.9 18.2h0.8v0.8h-0.8zM19.0 10.7h0.8v0.8h-0.8zM26.7 16.3h0.8v0.8h-0.8zM30.0 16.2h0.8v0.8h-0.8zM25.5 20.7h0.8v0.8h-0.8zM13.2 18.3h0.8v0.8h-0.8zM28.3 14.7h0.8v0.8h-0.8zM27.2 11.5h0.8v0.8h-0.8zM10.1 28.7h0.8v0.8h-0.8zM18.5 15.8h0.8v0.8h-0.8zM19.0 22.2h0.8v0.8h-0.8zM29.8 3.4h0.8v0.8h-0.8zM29.6 18.9h0.8v0.8h-0.8zM21.6 32.4h0.8v0.8h-0.8zM8.5 4.7h0.8v0.8h-0.8zM12.7 31.8h0.8v0.8h-0.8zM13.8 22.8h0.8v0.8h-0.8zM21.0 10.1h0.8v0.8h-0.8zM25.8 20.9h0.8v0.8h-0.8zM17.4 8.7h0.8v0.8h-0.8zM17.7 25.9h0.8v0.8h-0.8zM23.6 13.6h0.8v0.8h-0.8zM24.1 24.4h0.8v0.8h-0.8zM15.4 15.4h0.8v0.8h-0.8zM3.2 29.5h0.8v0.8h-0.8zM32.3 22.6h0.8v0.8h-0.8zM19.9 27.3h0.8v0.8h-0.8zM22.3 26.8h0.8v0.8h-0.8zM24.7 20.7h0.8v0.8h-0.8zM6.8 28.2h0.8v0.8h-0.8zM30.6 24.4h0.8v0.8h-0.8zM20.8 28.3h0.8v0.8h-0.8zM23.2 31.1h0.8v0.8h-0.8zM20.2 26.6h0.8v0.8h-0.8z" fill="#111"/>
<path d="M14.7 28.9h0.8v0.8h-0.8zM16.5 29.4h0.8v0.8h-0.8zM17.5 35.9h0.8v0.8h-0.8zM17.8 27.4h0.8v0.8h-0.8zM17.3 38.2h0.8v0.8h-0.8zM15.9 30.8h0.8v0.8h-0.8zM17.0 35.1h0.8v0.8h-0.8zM18.9 32.8h0.8v0.8h-0.8zM17.9 38.7h0.8v0.8h-0.8zM15.6 36.2h0.8v0.8h-0.8zM16.6 23.0h0.8v0.8h-0.8zM18.6 39.6h0.8v0.8h-0.8zM16.4 34.6h0.8v0.8h-0.8zM19.5 27.8h0.8v0.8h-0.8zM16.2 28.9h0.8v0.8h-0.8zM16.8 40.9h0.8v0.8h-0.8zM15.7 34.3h0.8v0.8h-0.8zM22.0 41.3h0.8v0.8h-0.8zM15.3 30.5h0.8v0.8h-0.8zM18.4 34.5h0.8v0.8h-0.8zM17.1 33.1h0.8v0.8h-0.8zM17.4 32.1h0.8v0.8h-0.8zM16.4 29.2h0.8v0.8h-0.8zM16.5 31.6h0.8v0.8h-0.8zM20.2 34.9h0.8v0.8h-0.8zM18.9 29.8h0.8v0.8h-0.8zM17.0 29.2h0.8v0.8h-0.8zM17.6 34.9h0.8v0.8h-0.8zM18.4 38.9h0.8v0.8h-0.8zM18.1 34.3h0.8v0.8h-0.8zM14.7 43.6h0.8v0.8h-0.8zM15.4 30.6h0.8v0.8h-0.8zM18.2 31.6h0.8v0.8h-0.8zM18.5 34.5h0.8v0.8h-0.8zM18.0 34.5h0.8v0.8h-0.8zM20.9 40.7h0.8v0.8h-0.8zM21.6 41.8h0.8v0.8h-0.8zM17.6 31.8h0.8v0.8h-0.8zM16.5 31.4h0.8v0.8h-0.8zM18.4 30.9h0.8v0.8h-0.8zM19.5 37.4h0.8v0.8h-0.8zM20.1 28.9h0.8v0.8h-0.8zM18.6 36.7h0.8v0.8h-0.8zM20.3 39.7h0.8v0.8h-0.8zM19.2 35.5h0.8v0.8h-0.8zM19.8 41.9h0.8v0.8h-0.8zM16.9 32.1h0.8v0.8h-0.8zM20.2 32.6h0.8v0.8h-0.8zM18.2 35.0h0.8v0.8h-0.8zM15.1 27.2h0.8v0.8h-0.8zM17.1 39.0h0.8v0.8h-0.8zM17.8 29.8h0.8v0.8h-0.8zM20.5 25.3h0.8v0.8h-0.8zM17.7 27.5h0.8v0.8h-0.8zM20.0 40.1h0.8v0.8h-0.8zM17.0 35.5h0.8v0.8h-0.8zM17.2 30.2h0.8v0.8h-0.8zM18.9 29.2h0.8v0.8h-0.8zM20.4 40.5h0.8v0.8h-0.8zM18.3 24.2h0.8v0.8h-0.8z" fill="#111"/>
<path d="M13.0 10.2h0.8v0.8h-0.8zM13.8 31.9h0.8v0.8h-0.8zM14.8 23.0h0.8v0.8h-0.8zM10.0 12.6h0.8v0.8h-0.8zM33.4 24.2h0.8v0.8h-0.8zM19.3 34.0h0.8v0.8h-0.8zM19.6 30.7h0.8v0.8h-0.8zM10.8 6.1h0.8v0.8h-0.8zM28.3 15.3h0.8v0.8h-0.8zM21.2 29.4h0.8v0.8h-0.8zM13.2 31.7h0.8v0.8h-0.8zM28.7 12.8h0.8v0.8h-0.8zM34.3 18.7h0.8v0.8h-0.8zM10.0 6.4h0.8v0.8h-0.8zM18.0 34.0h0.8v0.8h-0.8zM33.3 14.6h0.8v0.8h-0.8zM29.2 32.1h0.8v0.8h-0.8zM28.2 6.5h0.8v0.8h-0.8zM33.9 19.3h0.8v0.8h-0.8zM13.3 5.4h0.8v0.8h-0.8zM28.8 9.7h0.8v0.8h-0.8zM15.8 10.4h0.8v0.8h-0.8zM33.9 10.1h0.8v0.8h-0.8zM25.1 6.3h0.8v0.8h-0.8zM22.0 18.9h0.8v0.8h-0.8zM33.9 25.5h0.8v0.8h-0.8zM23.1 12.0h0.8v0.8h-0.8zM13.0 18.8h0.8v0.8h-0.8zM18.3 12.9h0.8v0.8h-0.8zM14.9 15.5h0.8v0.8h-0.8zM13.9 5.4h0.8v0.8h-0.8zM13.8 32.7h0.8v0.8h-0.8zM33.2 15.9h0.8v0.8h-0.8zM11.0 17.2h0.8v0.8h-0.8zM23.2 6.7h0.8v0.8h-0.8zM18.9 16.7h0.8v0.8h-0.8zM14.6 17.9h0.8v0.8h-0.8zM14.2 7.1h0.8v0.8h-0.8zM11.5 8.2h0.8v0.8h-0.8zM12.0 11.1h0.8v0.8h-0.8zM18.8 26.9h0.8v0.8h-0.8zM18.5 13.8h0.8v0.8h-0.8zM23.0 18.9h0.8v0.8h-0.8zM16.7 19.4h0.8v0.8h-0.8zM19.2 21.1h0.8v0.8h-0.8zM23.8 6.7h0.8v0.8h-0.8zM33.9 11.5h0.8v0.8h-0.8zM32.6 12.9h0.8v0.8h-0.8zM23.4 20.9h0.8v0.8h-0.8zM34.7 21.9h0.8v0.8h-0.8zM9.2 26.4h0.8v0.8h-0.8zM19.5 6.6h0.8v0.8h-0.8zM11.1 30.8h0.8v0.8h-0.8zM22.2 7.4h0.8v0.8h-0.8zM29.7 20.7h0.8v0.8h-0.8zM23.7 26.5h0.8v0.8h-0.8zM33.5 28.3h0.8v0.8h-0.8zM34.7 13.6h0.8v0.8h-0.8zM27.6 9.7h0.8v0.8h-0.8zM16.4 27.0h0.8v0.8h-0.8zM18.6 6.3h0.8v0.8h-0.8zM34.0 33.0h0.8v0.8h-0.8zM29.3 19.0h0.8v0.8h-0.8zM32.0 29.0h0.8v0.8h-0.8zM35.2 8.3h0.8v0.8h-0.8zM20.0 9.0h0.8v0.8h-0.8zM18.5 14.6h0.8v0.8h-0.8zM17.6 9.3h0.8v0.8h-0.8zM31.3 6.0h0.8v0.8h-0.8zM14.2 9.4h0.8v0.8h-0.8zM33.4 11.8h0.8v0.8h-0.8zM18.9 18.1h0.8v0.8h-0.8zM22.4 32.7h0.8v0.8h-0.8zM30.1 5.7h0.8v0.8h-0.8zM33.0 16.9h0.8v0.8h-0.8zM34.9 18.6h0.8v0.8h-0.8zM31.4 32.9h0.8v0.8h-0.8zM19.2 12.4h0.8v0.8h-0.8zM32.6 11.8h0.8v0.8h-0.8zM17.6 11.9h0.8v0.8h-0.8zM15.2 13.8h0.8v0.8h-0.8zM12.5 24.3h0.8v0.8h-0.8zM35.3 31.7h0.8v0.8h-0.8zM28.4 5.7h0.8v0.8h-0.8zM10.0 30.0h0.8v0.8h-0.8zM9.9 19.3h0.8v0.8h-0.8zM24.8 32.2h0.8v0.8h-0.8zM16.7 21.9h0.8v0.8h-0.8zM11.1 31.7h0.8v0.8h-0.8zM22.9 29.4h0.8v0.8h-0.8zM12.9 32.7h0.8v0.8h-0.8zM22.1 20.1h0.8v0.8h-0.8zM31.6 8.8h0.8v0.8h-0.8zM31.3 21.3h0.8v0.8h-0.8zM21.9 18.2h0.8v0.8h-0.8zM22.6 17.4h0.8v0.8h-0.8zM12.9 9.1h0.8v0.8h-0.8zM9.3 21.6h0.8v0.8h-0.8zM20.3 24.1h0.8v0.8h-0.8zM26.1 32.8h0.8v0.8h-0.8zM14.9 22.7h0.8v0.8h-0.8zM11.6 18.3h0.8v0.8h-0.8zM28.5 17.7h0.8v0.8h-0.8zM18.2 34.0h0.8v0.8h-0.8zM22.0 30.7h0.8v0.8h-0.8zM12.6 29.4h0.8v0.8h-0.8zM19.4 12.1h0.8v0.8h-0.8zM30.7 12.3h0.8v0.8h-0.8zM21.5 9.9h0.8v0.8h-0.8zM29.2 8.5h0.8v0.8h-0.8zM28.5 15.1h0.8v0.8h-0.8zM9.3 10.5h0.8v0.8h-0.8zM10.5 28.6h0.8v0.8h-0.8zM28.3 19.8h0.8v0.8h-0.8zM22.5 21.3h0.8v0.8h-0.8zM29.7 25.9h0.8v0.8h-0.8zM23.4 5.7h0.8v0.8h-0.8zM17.7 18.7h0.8v0.8h-0.8zM25.8 19.1h0.8v0.8h-0.8zM16.5 12.1h0.8v0.8h-0.8z" fill="#111"/>
<ellipse cx="12.96" cy="46.55" rx="12.37" ry="6.28" fill="url(#halo2)" opacity="1.0" transform="rotate(0 12.96 46.55)"/>
<path d="M24.2 49.2h0.8v0.8h-0.8zM5.6 51.9h0.8v0.8h-0.8zM23.9 44.6h0.8v0.8h-0.8zM11.9 41.1h0.8v0.8h-0.8zM16.9 52.7h0.8v0.8h-0.8zM1.6 49.5h0.8v0.8h-0.8zM21.7 41.9h0.8v0.8h-0.8zM24.2 46.8h0.8v0.8h-0.8zM11.5 40.8h0.8v0.8h-0.8zM0.6 44.9h0.8v0.8h-0.8zM2.9 44.9h0.8v0.8h-0.8zM1.6 43.9h0.8v0.8h-0.8zM0.5 46.5h0.8v0.8h-0.8zM23.9 46.5h0.8v0.8h-0.8zM3.0 50.6h0.8v0.8h-0.8zM5.5 42.6h0.8v0.8h-0.8zM16.9 41.2h0.8v0.8h-0.8zM7.2 51.1h0.8v0.8h-0.8zM24.6 46.0h0.8v0.8h-0.8zM24.7 47.7h0.8v0.8h-0.8zM14.0 52.5h0.8v0.8h-0.8zM21.0 50.8h0.8v0.8h-0.8zM19.5 41.2h0.8v0.8h-0.8zM9.7 51.9h0.8v0.8h-0.8zM12.5 40.7h0.8v0.8h-0.8zM23.9 48.5h0.8v0.8h-0.8zM11.2 52.9h0.8v0.8h-0.8zM22.1 50.7h0.8v0.8h-0.8zM11.8 41.1h0.8v0.8h-0.8zM2.0 45.3h0.8v0.8h-0.8zM22.9 44.7h0.8v0.8h-0.8zM23.6 49.9h0.8v0.8h-0.8zM2.3 43.9h0.8v0.8h-0.8zM9.9 51.7h0.8v0.8h-0.8zM1.2 45.0h0.8v0.8h-0.8zM3.3 43.7h0.8v0.8h-0.8zM7.3 51.7h0.8v0.8h-0.8zM25.1 44.5h0.8v0.8h-0.8zM22.0 49.7h0.8v0.8h-0.8zM7.2 41.9h0.8v0.8h-0.8z" fill="#111"/>
<ellipse cx="12.96" cy="46.55" rx="9.28" ry="4.71" fill="url(#light2)" transform="rotate(0 12.96 46.55)"/>
<ellipse cx="27.68" cy="46.55" rx="12.37" ry="6.28" fill="url(#halo2)" opacity="1.0" transform="rotate(0 27.68 46.55)"/>
<path d="M26.0 40.9h0.8v0.8h-0.8zM29.3 40.4h0.8v0.8h-0.8zM15.5 46.3h0.8v0.8h-0.8zM19.0 42.1h0.8v0.8h-0.8zM38.5 48.0h0.8v0.8h-0.8zM31.4 41.4h0.8v0.8h-0.8zM26.3 52.4h0.8v0.8h-0.8zM21.2 51.7h0.8v0.8h-0.8zM15.0 45.7h0.8v0.8h-0.8zM35.0 42.4h0.8v0.8h-0.8zM14.8 46.4h0.8v0.8h-0.8zM30.4 53.0h0.8v0.8h-0.8zM17.1 43.7h0.8v0.8h-0.8zM22.5 41.0h0.8v0.8h-0.8zM40.0 45.3h0.8v0.8h-0.8zM37.1 50.4h0.8v0.8h-0.8zM23.6 51.5h0.8v0.8h-0.8zM40.0 45.5h0.8v0.8h-0.8zM38.3 47.4h0.8v0.8h-0.8zM15.3 47.0h0.8v0.8h-0.8zM36.9 43.4h0.8v0.8h-0.8zM34.0 51.0h0.8v0.8h-0.8zM32.7 51.5h0.8v0.8h-0.8zM14.8 46.4h0.8v0.8h-0.8zM22.7 41.7h0.8v0.8h-0.8zM30.8 52.2h0.8v0.8h-0.8zM34.4 41.3h0.8v0.8h-0.8zM33.0 51.8h0.8v0.8h-0.8zM27.8 40.9h0.8v0.8h-0.8zM33.3 41.9h0.8v0.8h-0.8zM18.8 43.0h0.8v0.8h-0.8zM25.8 40.5h0.8v0.8h-0.8zM38.1 43.1h0.8v0.8h-0.8zM17.3 47.7h0.8v0.8h-0.8zM15.5 45.3h0.8v0.8h-0.8zM22.5 52.4h0.8v0.8h-0.8zM17.8 44.4h0.8v0.8h-0.8zM16.5 49.0h0.8v0.8h-0.8zM27.1 53.0h0.8v0.8h-0.8zM38.2 46.7h0.8v0.8h-0.8z" fill="#111"/>
<ellipse cx="27.68" cy="46.55" rx="9.28" ry="4.71" fill="url(#light2)" transform="rotate(0 27.68 46.55)"/>
</g></svg>
<rect x="195.1" y="311.7" width="58.9" height="52.3" fill="none" stroke="#b0b0b0" stroke-width="0.85"/>
<line x1="216.0095" y1="311.7" x2="216.0095" y2="364.0" stroke="#b0b0b0" stroke-width="0.8"/>
<line x1="195.1" y1="344.3875" x2="254.0" y2="344.3875" stroke="#b0b0b0" stroke-width="0.8"/>
<rect x="195.5" y="312.3" width="3.2" height="3.2" fill="#fff" opacity="0.85"/>
<rect x="196.7" y="316.3" width="7.0" height="3.4" fill="#fff" opacity="0.85"/>
<text x="195.9" y="315.3" font-size="3" fill="#333">B1</text>
<text x="197.1" y="319.1" font-size="3" fill="#444">2.0%</text>
<rect x="216.4" y="312.3" width="3.2" height="3.2" fill="#fff" opacity="0.85"/>
<rect x="217.6" y="316.3" width="7.0" height="3.4" fill="#fff" opacity="0.85"/>
<text x="216.8" y="315.3" font-size="3" fill="#333">B2</text>
<text x="218.0" y="319.1" font-size="3" fill="#444">1.2%</text>
<rect x="195.5" y="345.0" width="3.2" height="3.2" fill="#fff" opacity="0.85"/>
<rect x="196.7" y="349.0" width="8.6" height="3.4" fill="#fff" opacity="0.85"/>
<text x="195.9" y="348.0" font-size="3" fill="#333">B3</text>
<text x="197.1" y="351.8" font-size="3" fill="#444">60.6%</text>
<rect x="216.4" y="345.0" width="3.2" height="3.2" fill="#fff" opacity="0.85"/>
<rect x="217.6" y="349.0" width="8.6" height="3.4" fill="#fff" opacity="0.85"/>
<text x="216.8" y="348.0" font-size="3" fill="#333">B4</text>
<text x="218.0" y="351.8" font-size="3" fill="#444">30.1%</text>
<text x="65.10000000000001" y="379.5" font-size="5.8" text-anchor="start" fill="#333">0.4</text>
<text x="114.1" y="379.5" font-size="5.8" text-anchor="end" fill="#333">0.0</text>
<svg x="60.7" y="381.7" width="58.9" height="52.3" viewBox="0 0 58.9 52.3" overflow="hidden"><g filter="url(#soft)">
<path d="M14.4 20.2h0.8v0.8h-0.8zM14.2 33.1h0.8v0.8h-0.8zM16.0 32.9h0.8v0.8h-0.8zM15.8 30.5h0.8v0.8h-0.8zM15.4 18.8h0.8v0.8h-0.8zM15.9 33.4h0.8v0.8h-0.8zM14.6 27.3h0.8v0.8h-0.8zM13.8 25.9h0.8v0.8h-0.8zM15.2 16.0h0.8v0.8h-0.8zM15.0 27.8h0.8v0.8h-0.8zM15.9 19.6h0.8v0.8h-0.8zM16.0 34.8h0.8v0.8h-0.8zM15.9 35.0h0.8v0.8h-0.8zM14.7 17.3h0.8v0.8h-0.8zM16.2 20.9h0.8v0.8h-0.8zM14.8 13.7h0.8v0.8h-0.8zM14.4 18.0h0.8v0.8h-0.8zM17.6 26.5h0.8v0.8h-0.8zM15.7 25.9h0.8v0.8h-0.8zM18.4 30.2h0.8v0.8h-0.8zM14.2 25.0h0.8v0.8h-0.8zM16.0 23.8h0.8v0.8h-0.8zM15.6 35.6h0.8v0.8h-0.8zM16.7 26.9h0.8v0.8h-0.8zM18.2 12.5h0.8v0.8h-0.8zM15.6 25.5h0.8v0.8h-0.8zM16.5 18.6h0.8v0.8h-0.8zM13.4 23.5h0.8v0.8h-0.8zM15.2 31.8h0.8v0.8h-0.8zM13.4 19.6h0.8v0.8h-0.8zM15.1 12.2h0.8v0.8h-0.8zM16.0 20.7h0.8v0.8h-0.8zM13.5 18.2h0.8v0.8h-0.8zM14.3 17.1h0.8v0.8h-0.8zM17.7 32.8h0.8v0.8h-0.8zM15.6 26.0h0.8v0.8h-0.8zM14.7 30.8h0.8v0.8h-0.8zM16.8 17.3h0.8v0.8h-0.8zM17.3 31.4h0.8v0.8h-0.8zM15.8 26.0h0.8v0.8h-0.8zM12.8 16.7h0.8v0.8h-0.8zM14.0 24.7h0.8v0.8h-0.8zM15.8 14.5h0.8v0.8h-0.8zM13.5 32.6h0.8v0.8h-0.8zM13.9 22.2h0.8v0.8h-0.8zM14.2 13.6h0.8v0.8h-0.8zM14.7 30.5h0.8v0.8h-0.8zM13.6 13.8h0.8v0.8h-0.8zM15.5 32.5h0.8v0.8h-0.8zM16.8 16.0h0.8v0.8h-0.8zM15.5 13.8h0.8v0.8h-0.8zM15.9 35.8h0.8v0.8h-0.8zM15.2 23.5h0.8v0.8h-0.8zM16.8 34.2h0.8v0.8h-0.8zM17.1 28.5h0.8v0.8h-0.8zM16.4 28.1h0.8v0.8h-0.8zM15.6 17.6h0.8v0.8h-0.8zM16.0 15.6h0.8v0.8h-0.8zM13.8 15.7h0.8v0.8h-0.8zM13.7 30.4h0.8v0.8h-0.8zM16.7 27.4h0.8v0.8h-0.8zM15.6 27.0h0.8v0.8h-0.8zM14.9 36.7h0.8v0.8h-0.8zM12.8 14.8h0.8v0.8h-0.8zM14.4 16.2h0.8v0.8h-0.8zM14.7 25.2h0.8v0.8h-0.8zM16.3 21.4h0.8v0.8h-0.8zM17.8 26.0h0.8v0.8h-0.8zM17.6 24.1h0.8v0.8h-0.8zM14.9 31.2h0.8v0.8h-0.8zM14.5 37.4h0.8v0.8h-0.8zM18.4 21.1h0.8v0.8h-0.8zM14.6 26.6h0.8v0.8h-0.8zM17.2 35.8h0.8v0.8h-0.8zM13.7 32.1h0.8v0.8h-0.8zM12.5 29.0h0.8v0.8h-0.8zM15.5 34.4h0.8v0.8h-0.8zM14.7 30.0h0.8v0.8h-0.8zM15.6 14.0h0.8v0.8h-0.8zM13.9 28.7h0.8v0.8h-0.8zM16.7 36.1h0.8v0.8h-0.8zM16.1 25.8h0.8v0.8h-0.8zM15.6 17.3h0.8v0.8h-0.8zM14.5 32.4h0.8v0.8h-0.8zM15.1 21.7h0.8v0.8h-0.8zM15.6 16.9h0.8v0.8h-0.8zM13.9 31.4h0.8v0.8h-0.8zM13.9 13.4h0.8v0.8h-0.8zM15.1 28.0h0.8v0.8h-0.8zM12.4 37.0h0.8v0.8h-0.8zM14.0 22.6h0.8v0.8h-0.8zM15.9 13.4h0.8v0.8h-0.8zM14.8 26.3h0.8v0.8h-0.8zM13.5 34.8h0.8v0.8h-0.8zM17.1 28.0h0.8v0.8h-0.8zM14.7 11.1h0.8v0.8h-0.8zM13.6 20.4h0.8v0.8h-0.8zM16.1 30.0h0.8v0.8h-0.8zM15.4 34.6h0.8v0.8h-0.8zM14.6 26.8h0.8v0.8h-0.8zM16.6 15.0h0.8v0.8h-0.8zM14.6 27.4h0.8v0.8h-0.8zM13.0 22.4h0.8v0.8h-0.8zM13.4 17.4h0.8v0.8h-0.8zM15.8 16.3h0.8v0.8h-0.8zM14.8 22.7h0.8v0.8h-0.8zM14.4 33.9h0.8v0.8h-0.8zM17.4 19.3h0.8v0.8h-0.8zM15.1 20.1h0.8v0.8h-0.8zM14.9 27.8h0.8v0.8h-0.8zM17.3 15.0h0.8v0.8h-0.8zM16.7 34.9h0.8v0.8h-0.8zM12.7 17.1h0.8v0.8h-0.8zM17.9 36.8h0.8v0.8h-0.8zM15.0 15.8h0.8v0.8h-0.8zM15.8 21.7h0.8v0.8h-0.8zM15.2 25.3h0.8v0.8h-0.8zM15.2 22.3h0.8v0.8h-0.8zM17.4 37.0h0.8v0.8h-0.8zM15.0 30.2h0.8v0.8h-0.8zM13.8 22.8h0.8v0.8h-0.8zM14.1 33.8h0.8v0.8h-0.8zM14.1 21.2h0.8v0.8h-0.8zM14.0 17.6h0.8v0.8h-0.8zM16.5 12.4h0.8v0.8h-0.8zM15.2 25.4h0.8v0.8h-0.8zM13.6 16.0h0.8v0.8h-0.8zM14.8 16.8h0.8v0.8h-0.8zM16.2 28.3h0.8v0.8h-0.8zM12.7 22.0h0.8v0.8h-0.8z" fill="#111"/>
<path d="M31.5 43.2h0.8v0.8h-0.8zM30.7 49.1h0.8v0.8h-0.8zM32.9 47.5h0.8v0.8h-0.8zM31.3 47.2h0.8v0.8h-0.8zM33.0 42.7h0.8v0.8h-0.8zM35.3 49.6h0.8v0.8h-0.8zM28.9 50.1h0.8v0.8h-0.8zM31.6 45.1h0.8v0.8h-0.8zM36.3 46.6h0.8v0.8h-0.8zM30.2 45.0h0.8v0.8h-0.8zM35.1 43.3h0.8v0.8h-0.8zM29.3 42.0h0.8v0.8h-0.8zM30.0 46.9h0.8v0.8h-0.8zM33.1 46.2h0.8v0.8h-0.8zM33.2 44.2h0.8v0.8h-0.8zM28.7 44.2h0.8v0.8h-0.8zM35.1 47.0h0.8v0.8h-0.8zM31.3 42.7h0.8v0.8h-0.8zM34.6 47.5h0.8v0.8h-0.8zM34.4 49.9h0.8v0.8h-0.8zM34.0 42.0h0.8v0.8h-0.8zM31.0 47.8h0.8v0.8h-0.8zM33.0 47.0h0.8v0.8h-0.8zM29.6 47.0h0.8v0.8h-0.8zM31.9 48.9h0.8v0.8h-0.8zM27.6 48.1h0.8v0.8h-0.8zM36.8 42.6h0.8v0.8h-0.8zM36.5 42.3h0.8v0.8h-0.8zM31.9 48.2h0.8v0.8h-0.8zM32.9 44.1h0.8v0.8h-0.8zM27.0 45.4h0.8v0.8h-0.8zM30.0 42.8h0.8v0.8h-0.8zM33.6 45.5h0.8v0.8h-0.8zM25.8 44.7h0.8v0.8h-0.8zM29.9 41.4h0.8v0.8h-0.8zM31.0 46.5h0.8v0.8h-0.8zM25.8 43.7h0.8v0.8h-0.8zM32.9 43.9h0.8v0.8h-0.8zM31.2 43.3h0.8v0.8h-0.8zM33.0 48.4h0.8v0.8h-0.8zM31.5 49.9h0.8v0.8h-0.8zM34.1 44.5h0.8v0.8h-0.8zM25.1 45.4h0.8v0.8h-0.8zM27.7 43.8h0.8v0.8h-0.8zM36.5 45.7h0.8v0.8h-0.8zM32.1 47.5h0.8v0.8h-0.8zM32.4 47.7h0.8v0.8h-0.8zM34.0 50.2h0.8v0.8h-0.8zM30.4 43.7h0.8v0.8h-0.8zM29.2 41.9h0.8v0.8h-0.8z" fill="#111"/>
<ellipse cx="17.67" cy="44.98" rx="17.67" ry="8.89" fill="url(#halo4)" opacity="1.0" transform="rotate(-5 17.67 44.98)"/>
<path d="M7.6 51.2h0.8v0.8h-0.8zM-0.6 47.6h0.8v0.8h-0.8zM21.1 52.3h0.8v0.8h-0.8zM-0.7 45.5h0.8v0.8h-0.8zM10.0 54.2h0.8v0.8h-0.8zM10.3 38.4h0.8v0.8h-0.8zM1.8 45.0h0.8v0.8h-0.8zM0.5 44.4h0.8v0.8h-0.8zM30.6 37.8h0.8v0.8h-0.8zM17.2 36.4h0.8v0.8h-0.8zM1.5 43.4h0.8v0.8h-0.8zM16.9 52.8h0.8v0.8h-0.8zM1.3 41.5h0.8v0.8h-0.8zM24.9 37.0h0.8v0.8h-0.8zM13.6 36.3h0.8v0.8h-0.8zM20.1 53.9h0.8v0.8h-0.8zM1.9 48.2h0.8v0.8h-0.8zM12.8 36.9h0.8v0.8h-0.8zM4.6 50.5h0.8v0.8h-0.8zM7.2 38.9h0.8v0.8h-0.8zM31.9 47.8h0.8v0.8h-0.8zM28.6 50.9h0.8v0.8h-0.8zM11.0 38.1h0.8v0.8h-0.8zM-0.5 45.6h0.8v0.8h-0.8zM32.5 49.4h0.8v0.8h-0.8zM5.7 50.9h0.8v0.8h-0.8zM4.3 42.4h0.8v0.8h-0.8zM3.2 48.6h0.8v0.8h-0.8zM1.0 42.8h0.8v0.8h-0.8zM24.5 52.8h0.8v0.8h-0.8zM24.2 52.5h0.8v0.8h-0.8zM18.4 53.3h0.8v0.8h-0.8zM33.6 40.2h0.8v0.8h-0.8zM29.6 36.8h0.8v0.8h-0.8zM29.1 37.3h0.8v0.8h-0.8zM3.1 50.6h0.8v0.8h-0.8zM20.9 53.6h0.8v0.8h-0.8zM27.4 51.5h0.8v0.8h-0.8zM15.9 37.0h0.8v0.8h-0.8zM1.8 50.4h0.8v0.8h-0.8zM6.6 51.3h0.8v0.8h-0.8zM20.1 36.5h0.8v0.8h-0.8zM32.5 46.5h0.8v0.8h-0.8zM4.2 41.7h0.8v0.8h-0.8zM11.1 53.1h0.8v0.8h-0.8zM36.4 42.7h0.8v0.8h-0.8zM8.2 53.4h0.8v0.8h-0.8zM28.0 37.2h0.8v0.8h-0.8zM30.8 40.3h0.8v0.8h-0.8zM17.6 37.0h0.8v0.8h-0.8zM3.5 48.9h0.8v0.8h-0.8zM18.1 37.3h0.8v0.8h-0.8zM30.7 50.8h0.8v0.8h-0.8zM25.8 51.5h0.8v0.8h-0.8zM28.2 37.8h0.8v0.8h-0.8zM30.4 38.1h0.8v0.8h-0.8zM8.7 53.3h0.8v0.8h-0.8zM33.8 45.7h0.8v0.8h-0.8zM1.8 44.4h0.8v0.8h-0.8zM21.7 52.9h0.8v0.8h-0.8zM21.7 53.0h0.8v0.8h-0.8zM5.7 53.2h0.8v0.8h-0.8zM3.9 49.8h0.8v0.8h-0.8zM25.1 36.5h0.8v0.8h-0.8zM24.0 37.6h0.8v0.8h-0.8zM2.1 46.9h0.8v0.8h-0.8zM22.9 51.8h0.8v0.8h-0.8zM23.4 53.5h0.8v0.8h-0.8zM27.5 51.8h0.8v0.8h-0.8zM30.5 37.5h0.8v0.8h-0.8z" fill="#111"/>
<ellipse cx="15.31" cy="46.02" rx="12.72" ry="6.40" fill="url(#light2)" transform="rotate(-5 15.31 46.02)"/>
</g></svg>
<rect x="60.7" y="381.7" width="58.9" height="52.3" fill="none" stroke="#b0b0b0" stroke-width="0.85"/>
<line x1="81.2561" y1="381.7" x2="81.2561" y2="434.0" stroke="#b0b0b0" stroke-width="0.8"/>
<line x1="60.7" y1="414.649" x2="119.6" y2="414.649" stroke="#b0b0b0" stroke-width="0.8"/>
<rect x="61.1" y="382.3" width="3.2" height="3.2" fill="#fff" opacity="0.85"/>
<rect x="62.3" y="386.3" width="7.0" height="3.4" fill="#fff" opacity="0.85"/>
<text x="61.5" y="385.3" font-size="3" fill="#333">B1</text>
<text x="62.7" y="389.1" font-size="3" fill="#444">0.4%</text>
<rect x="81.7" y="382.3" width="3.2" height="3.2" fill="#fff" opacity="0.85"/>
<rect x="82.9" y="386.3" width="7.0" height="3.4" fill="#fff" opacity="0.85"/>
<text x="82.1" y="385.3" font-size="3" fill="#333">B2</text>
<text x="83.3" y="389.1" font-size="3" fill="#444">0.0%</text>
<rect x="61.1" y="415.2" width="3.2" height="3.2" fill="#fff" opacity="0.85"/>
<rect x="62.3" y="419.2" width="8.6" height="3.4" fill="#fff" opacity="0.85"/>
<text x="61.5" y="418.2" font-size="3" fill="#333">B3</text>
<text x="62.7" y="422.0" font-size="3" fill="#444">88.2%</text>
<rect x="81.7" y="415.2" width="3.2" height="3.2" fill="#fff" opacity="0.85"/>
<rect x="82.9" y="419.2" width="7.0" height="3.4" fill="#fff" opacity="0.85"/>
<text x="82.1" y="418.2" font-size="3" fill="#333">B4</text>
<text x="83.3" y="422.0" font-size="3" fill="#444">7.0%</text>
<text x="132.5" y="379.5" font-size="5.8" text-anchor="start" fill="#333">3.0</text>
<text x="180.6" y="379.5" font-size="5.8" text-anchor="end" fill="#333">0.1</text>
<svg x="127.1" y="381.7" width="58.9" height="52.3" viewBox="0 0 58.9 52.3" overflow="hidden"><g filter="url(#soft)">
<path d="M10.3 19.9h0.8v0.8h-0.8zM13.4 19.0h0.8v0.8h-0.8zM13.4 23.3h0.8v0.8h-0.8zM17.4 19.0h0.8v0.8h-0.8zM13.7 32.1h0.8v0.8h-0.8zM13.8 16.6h0.8v0.8h-0.8zM14.6 31.8h0.8v0.8h-0.8zM10.9 44.7h0.8v0.8h-0.8zM15.6 22.2h0.8v0.8h-0.8zM14.8 8.5h0.8v0.8h-0.8zM16.0 19.1h0.8v0.8h-0.8zM18.2 17.3h0.8v0.8h-0.8zM18.4 33.9h0.8v0.8h-0.8zM14.7 8.7h0.8v0.8h-0.8zM12.4 9.3h0.8v0.8h-0.8zM12.2 5.5h0.8v0.8h-0.8zM17.3 20.1h0.8v0.8h-0.8zM13.6 4.3h0.8v0.8h-0.8zM9.1 29.8h0.8v0.8h-0.8zM16.1 19.5h0.8v0.8h-0.8zM18.1 39.9h0.8v0.8h-0.8zM17.3 34.7h0.8v0.8h-0.8zM18.5 17.0h0.8v0.8h-0.8zM17.1 35.7h0.8v0.8h-0.8zM15.5 31.8h0.8v0.8h-0.8zM12.6 32.5h0.8v0.8h-0.8zM15.2 23.2h0.8v0.8h-0.8zM14.0 8.8h0.8v0.8h-0.8zM19.1 34.7h0.8v0.8h-0.8zM13.9 6.5h0.8v0.8h-0.8zM17.7 19.4h0.8v0.8h-0.8zM14.9 8.7h0.8v0.8h-0.8zM18.8 19.1h0.8v0.8h-0.8zM14.8 28.4h0.8v0.8h-0.8zM16.8 7.1h0.8v0.8h-0.8zM11.7 27.4h0.8v0.8h-0.8zM18.2 13.9h0.8v0.8h-0.8zM17.9 26.2h0.8v0.8h-0.8zM17.6 15.7h0.8v0.8h-0.8zM8.5 33.4h0.8v0.8h-0.8zM14.9 22.1h0.8v0.8h-0.8zM12.9 30.4h0.8v0.8h-0.8zM13.6 36.8h0.8v0.8h-0.8zM17.0 27.8h0.8v0.8h-0.8zM14.1 37.9h0.8v0.8h-0.8zM16.0 19.0h0.8v0.8h-0.8zM15.5 12.4h0.8v0.8h-0.8zM12.7 30.5h0.8v0.8h-0.8zM14.9 23.7h0.8v0.8h-0.8zM13.0 33.5h0.8v0.8h-0.8zM15.5 23.8h0.8v0.8h-0.8zM18.2 23.9h0.8v0.8h-0.8zM17.2 2.9h0.8v0.8h-0.8zM13.0 21.8h0.8v0.8h-0.8zM16.6 22.2h0.8v0.8h-0.8zM13.3 23.6h0.8v0.8h-0.8zM16.4 21.4h0.8v0.8h-0.8zM13.5 4.3h0.8v0.8h-0.8zM12.6 31.5h0.8v0.8h-0.8zM13.3 25.4h0.8v0.8h-0.8zM16.1 36.5h0.8v0.8h-0.8zM17.1 16.4h0.8v0.8h-0.8zM9.3 30.2h0.8v0.8h-0.8zM23.0 12.9h0.8v0.8h-0.8zM15.7 22.4h0.8v0.8h-0.8zM12.8 37.7h0.8v0.8h-0.8zM14.3 37.1h0.8v0.8h-0.8zM15.9 3.6h0.8v0.8h-0.8zM19.9 29.0h0.8v0.8h-0.8zM11.8 41.6h0.8v0.8h-0.8zM15.7 38.6h0.8v0.8h-0.8zM18.9 38.2h0.8v0.8h-0.8zM20.8 24.1h0.8v0.8h-0.8zM13.3 36.6h0.8v0.8h-0.8zM12.3 5.6h0.8v0.8h-0.8zM15.7 24.5h0.8v0.8h-0.8zM17.3 5.8h0.8v0.8h-0.8zM15.4 7.7h0.8v0.8h-0.8zM13.4 32.4h0.8v0.8h-0.8zM20.2 28.4h0.8v0.8h-0.8zM15.6 10.8h0.8v0.8h-0.8zM14.4 34.3h0.8v0.8h-0.8zM14.9 19.5h0.8v0.8h-0.8zM15.3 31.4h0.8v0.8h-0.8zM16.8 27.6h0.8v0.8h-0.8zM13.2 33.7h0.8v0.8h-0.8zM20.4 16.4h0.8v0.8h-0.8zM13.8 7.7h0.8v0.8h-0.8zM11.9 17.0h0.8v0.8h-0.8zM13.3 8.0h0.8v0.8h-0.8zM11.1 17.5h0.8v0.8h-0.8zM19.0 22.1h0.8v0.8h-0.8zM16.4 32.8h0.8v0.8h-0.8zM16.2 24.9h0.8v0.8h-0.8zM10.4 21.9h0.8v0.8h-0.8zM16.1 34.6h0.8v0.8h-0.8zM10.9 22.2h0.8v0.8h-0.8zM14.5 26.7h0.8v0.8h-0.8zM13.4 6.1h0.8v0.8h-0.8zM16.3 15.7h0.8v0.8h-0.8zM19.3 18.9h0.8v0.8h-0.8zM17.2 12.5h0.8v0.8h-0.8zM22.0 30.7h0.8v0.8h-0.8zM16.8 33.9h0.8v0.8h-0.8zM8.6 20.2h0.8v0.8h-0.8zM15.4 30.3h0.8v0.8h-0.8zM14.4 12.8h0.8v0.8h-0.8zM19.2 34.7h0.8v0.8h-0.8zM18.2 20.0h0.8v0.8h-0.8zM22.8 16.4h0.8v0.8h-0.8zM18.8 19.5h0.8v0.8h-0.8zM16.9 43.6h0.8v0.8h-0.8zM15.9 40.8h0.8v0.8h-0.8zM15.4 9.3h0.8v0.8h-0.8zM16.3 9.2h0.8v0.8h-0.8zM14.2 17.6h0.8v0.8h-0.8zM15.3 34.6h0.8v0.8h-0.8zM15.2 13.3h0.8v0.8h-0.8zM14.1 18.4h0.8v0.8h-0.8zM13.1 36.7h0.8v0.8h-0.8zM23.1 12.7h0.8v0.8h-0.8zM22.1 13.0h0.8v0.8h-0.8zM19.5 19.3h0.8v0.8h-0.8zM20.6 15.1h0.8v0.8h-0.8zM14.5 25.2h0.8v0.8h-0.8zM17.3 35.5h0.8v0.8h-0.8zM18.6 7.2h0.8v0.8h-0.8zM17.5 20.5h0.8v0.8h-0.8zM12.5 18.5h0.8v0.8h-0.8zM15.6 37.3h0.8v0.8h-0.8zM16.9 10.3h0.8v0.8h-0.8zM15.3 41.6h0.8v0.8h-0.8zM16.5 10.3h0.8v0.8h-0.8zM14.1 7.0h0.8v0.8h-0.8zM9.3 19.4h0.8v0.8h-0.8zM13.4 8.8h0.8v0.8h-0.8zM13.0 23.4h0.8v0.8h-0.8zM17.3 15.3h0.8v0.8h-0.8zM14.2 30.8h0.8v0.8h-0.8zM15.0 6.3h0.8v0.8h-0.8zM14.3 37.0h0.8v0.8h-0.8zM9.1 10.0h0.8v0.8h-0.8zM15.8 39.9h0.8v0.8h-0.8zM16.7 23.2h0.8v0.8h-0.8zM12.3 20.8h0.8v0.8h-0.8zM17.1 20.9h0.8v0.8h-0.8zM12.7 43.9h0.8v0.8h-0.8zM21.1 4.7h0.8v0.8h-0.8zM15.4 14.5h0.8v0.8h-0.8zM16.5 23.7h0.8v0.8h-0.8zM14.5 29.3h0.8v0.8h-0.8zM16.4 19.6h0.8v0.8h-0.8zM15.7 21.0h0.8v0.8h-0.8zM13.1 8.2h0.8v0.8h-0.8zM11.9 20.7h0.8v0.8h-0.8zM12.8 33.2h0.8v0.8h-0.8zM10.6 12.6h0.8v0.8h-0.8zM15.6 27.8h0.8v0.8h-0.8zM16.4 5.2h0.8v0.8h-0.8zM13.7 12.5h0.8v0.8h-0.8zM10.6 32.5h0.8v0.8h-0.8zM16.1 20.6h0.8v0.8h-0.8zM18.1 36.1h0.8v0.8h-0.8zM10.2 15.6h0.8v0.8h-0.8zM12.4 14.0h0.8v0.8h-0.8zM12.8 7.6h0.8v0.8h-0.8zM18.3 36.7h0.8v0.8h-0.8zM15.8 37.1h0.8v0.8h-0.8zM20.4 15.1h0.8v0.8h-0.8zM16.4 36.2h0.8v0.8h-0.8zM15.4 28.1h0.8v0.8h-0.8zM15.2 31.2h0.8v0.8h-0.8zM16.1 10.7h0.8v0.8h-0.8zM13.3 22.6h0.8v0.8h-0.8zM15.3 12.0h0.8v0.8h-0.8zM15.4 38.5h0.8v0.8h-0.8zM17.8 28.7h0.8v0.8h-0.8zM16.7 33.2h0.8v0.8h-0.8zM16.0 36.2h0.8v0.8h-0.8zM14.2 36.9h0.8v0.8h-0.8zM14.3 14.8h0.8v0.8h-0.8zM16.1 35.9h0.8v0.8h-0.8zM17.7 10.2h0.8v0.8h-0.8zM15.5 26.7h0.8v0.8h-0.8zM15.7 14.9h0.8v0.8h-0.8zM15.5 30.6h0.8v0.8h-0.8zM16.3 27.2h0.8v0.8h-0.8zM20.1 20.9h0.8v0.8h-0.8zM13.9 17.3h0.8v0.8h-0.8zM17.2 30.4h0.8v0.8h-0.8zM17.5 17.2h0.8v0.8h-0.8zM16.5 12.4h0.8v0.8h-0.8zM22.9 28.3h0.8v0.8h-0.8zM16.8 25.7h0.8v0.8h-0.8zM10.9 6.4h0.8v0.8h-0.8zM15.5 19.5h0.8v0.8h-0.8zM11.1 21.7h0.8v0.8h-0.8zM18.3 26.3h0.8v0.8h-0.8zM12.2 14.6h0.8v0.8h-0.8zM13.9 28.0h0.8v0.8h-0.8zM17.3 28.0h0.8v0.8h-0.8zM16.8 4.7h0.8v0.8h-0.8zM17.8 13.5h0.8v0.8h-0.8zM18.5 26.0h0.8v0.8h-0.8zM12.7 23.7h0.8v0.8h-0.8zM16.8 6.4h0.8v0.8h-0.8zM10.2 33.9h0.8v0.8h-0.8zM11.1 30.7h0.8v0.8h-0.8zM16.1 28.8h0.8v0.8h-0.8zM19.3 21.9h0.8v0.8h-0.8zM15.9 19.7h0.8v0.8h-0.8zM16.1 34.6h0.8v0.8h-0.8zM14.9 14.7h0.8v0.8h-0.8zM19.5 32.9h0.8v0.8h-0.8zM13.4 22.9h0.8v0.8h-0.8zM10.5 19.9h0.8v0.8h-0.8zM11.1 20.5h0.8v0.8h-0.8zM18.3 30.4h0.8v0.8h-0.8zM15.2 19.3h0.8v0.8h-0.8zM13.6 12.0h0.8v0.8h-0.8zM16.8 17.4h0.8v0.8h-0.8zM16.4 10.1h0.8v0.8h-0.8zM20.1 10.7h0.8v0.8h-0.8zM14.1 24.4h0.8v0.8h-0.8zM17.1 33.7h0.8v0.8h-0.8zM13.1 27.1h0.8v0.8h-0.8zM12.8 32.4h0.8v0.8h-0.8zM13.5 21.3h0.8v0.8h-0.8zM14.7 25.8h0.8v0.8h-0.8zM13.2 33.5h0.8v0.8h-0.8zM17.4 38.3h0.8v0.8h-0.8zM18.5 37.0h0.8v0.8h-0.8zM17.8 35.2h0.8v0.8h-0.8zM20.7 11.8h0.8v0.8h-0.8zM12.4 4.6h0.8v0.8h-0.8zM15.1 10.4h0.8v0.8h-0.8zM13.9 12.5h0.8v0.8h-0.8zM18.0 23.1h0.8v0.8h-0.8zM15.9 21.0h0.8v0.8h-0.8zM16.7 8.1h0.8v0.8h-0.8zM15.0 20.2h0.8v0.8h-0.8zM21.4 3.9h0.8v0.8h-0.8zM10.3 10.4h0.8v0.8h-0.8zM14.2 13.5h0.8v0.8h-0.8zM16.7 17.9h0.8v0.8h-0.8zM15.1 32.4h0.8v0.8h-0.8zM14.2 10.7h0.8v0.8h-0.8zM18.9 35.9h0.8v0.8h-0.8zM18.8 34.1h0.8v0.8h-0.8zM15.9 6.0h0.8v0.8h-0.8zM14.9 12.4h0.8v0.8h-0.8zM13.2 8.7h0.8v0.8h-0.8zM15.2 35.6h0.8v0.8h-0.8zM18.7 11.2h0.8v0.8h-0.8zM15.0 29.8h0.8v0.8h-0.8zM15.3 25.7h0.8v0.8h-0.8zM14.5 20.0h0.8v0.8h-0.8zM10.0 23.4h0.8v0.8h-0.8zM14.7 9.6h0.8v0.8h-0.8zM10.0 30.5h0.8v0.8h-0.8zM17.3 40.0h0.8v0.8h-0.8zM12.9 29.2h0.8v0.8h-0.8zM16.2 14.9h0.8v0.8h-0.8zM18.2 41.2h0.8v0.8h-0.8zM18.4 24.5h0.8v0.8h-0.8zM15.5 28.8h0.8v0.8h-0.8zM19.3 12.4h0.8v0.8h-0.8zM8.1 31.5h0.8v0.8h-0.8zM15.0 7.5h0.8v0.8h-0.8zM12.3 25.9h0.8v0.8h-0.8zM16.2 26.9h0.8v0.8h-0.8zM16.5 10.9h0.8v0.8h-0.8zM12.4 7.5h0.8v0.8h-0.8zM18.8 27.8h0.8v0.8h-0.8zM12.0 8.0h0.8v0.8h-0.8zM13.6 16.5h0.8v0.8h-0.8zM13.8 9.7h0.8v0.8h-0.8zM12.5 31.4h0.8v0.8h-0.8zM11.9 33.6h0.8v0.8h-0.8zM17.0 29.3h0.8v0.8h-0.8zM12.7 8.2h0.8v0.8h-0.8zM13.3 5.9h0.8v0.8h-0.8zM12.9 8.5h0.8v0.8h-0.8zM17.8 13.9h0.8v0.8h-0.8zM20.6 23.2h0.8v0.8h-0.8zM15.9 17.6h0.8v0.8h-0.8zM18.2 34.5h0.8v0.8h-0.8zM20.8 32.2h0.8v0.8h-0.8zM16.7 28.8h0.8v0.8h-0.8zM14.5 25.2h0.8v0.8h-0.8zM17.0 30.7h0.8v0.8h-0.8zM14.6 23.2h0.8v0.8h-0.8zM14.5 33.2h0.8v0.8h-0.8zM15.3 23.7h0.8v0.8h-0.8zM20.3 27.3h0.8v0.8h-0.8zM11.7 35.3h0.8v0.8h-0.8zM8.8 24.7h0.8v0.8h-0.8zM16.3 28.2h0.8v0.8h-0.8zM15.0 9.5h0.8v0.8h-0.8zM11.7 24.7h0.8v0.8h-0.8zM13.7 33.0h0.8v0.8h-0.8zM17.0 13.2h0.8v0.8h-0.8zM12.2 9.0h0.8v0.8h-0.8zM16.1 34.9h0.8v0.8h-0.8zM17.0 37.6h0.8v0.8h-0.8zM15.3 17.8h0.8v0.8h-0.8zM14.6 15.5h0.8v0.8h-0.8zM13.5 34.1h0.8v0.8h-0.8zM17.2 11.3h0.8v0.8h-0.8zM19.3 37.7h0.8v0.8h-0.8zM12.1 13.4h0.8v0.8h-0.8zM12.7 8.2h0.8v0.8h-0.8zM12.5 11.1h0.8v0.8h-0.8zM15.5 18.7h0.8v0.8h-0.8zM11.1 28.8h0.8v0.8h-0.8zM15.3 12.4h0.8v0.8h-0.8zM11.7 19.4h0.8v0.8h-0.8zM12.8 16.7h0.8v0.8h-0.8zM17.5 5.9h0.8v0.8h-0.8zM13.6 33.5h0.8v0.8h-0.8zM16.4 25.7h0.8v0.8h-0.8zM18.1 5.1h0.8v0.8h-0.8zM8.5 2.7h0.8v0.8h-0.8zM14.2 20.5h0.8v0.8h-0.8zM11.0 26.7h0.8v0.8h-0.8zM17.5 7.6h0.8v0.8h-0.8zM14.9 20.8h0.8v0.8h-0.8zM20.3 15.7h0.8v0.8h-0.8zM14.1 13.1h0.8v0.8h-0.8zM12.8 19.1h0.8v0.8h-0.8zM14.1 32.3h0.8v0.8h-0.8zM20.6 2.7h0.8v0.8h-0.8zM16.2 38.2h0.8v0.8h-0.8zM15.8 17.8h0.8v0.8h-0.8zM19.2 8.0h0.8v0.8h-0.8zM15.3 25.8h0.8v0.8h-0.8zM19.2 16.1h0.8v0.8h-0.8zM16.7 35.6h0.8v0.8h-0.8zM13.2 13.8h0.8v0.8h-0.8zM16.5 32.3h0.8v0.8h-0.8zM17.9 30.2h0.8v0.8h-0.8zM15.1 34.3h0.8v0.8h-0.8zM12.0 8.9h0.8v0.8h-0.8zM11.2 11.8h0.8v0.8h-0.8zM17.8 35.6h0.8v0.8h-0.8zM19.9 19.6h0.8v0.8h-0.8zM13.1 21.7h0.8v0.8h-0.8zM9.7 8.7h0.8v0.8h-0.8zM15.7 6.1h0.8v0.8h-0.8zM18.1 10.9h0.8v0.8h-0.8zM14.9 6.5h0.8v0.8h-0.8zM14.2 9.4h0.8v0.8h-0.8zM16.9 29.6h0.8v0.8h-0.8zM13.6 9.3h0.8v0.8h-0.8zM15.1 5.5h0.8v0.8h-0.8zM14.7 9.8h0.8v0.8h-0.8zM19.0 22.5h0.8v0.8h-0.8zM15.3 24.4h0.8v0.8h-0.8zM15.2 20.5h0.8v0.8h-0.8zM15.9 23.7h0.8v0.8h-0.8zM13.3 37.4h0.8v0.8h-0.8zM16.5 37.9h0.8v0.8h-0.8zM15.0 12.2h0.8v0.8h-0.8zM13.5 24.5h0.8v0.8h-0.8zM10.3 36.3h0.8v0.8h-0.8zM17.6 15.8h0.8v0.8h-0.8zM17.5 31.4h0.8v0.8h-0.8zM14.6 30.4h0.8v0.8h-0.8zM14.7 14.1h0.8v0.8h-0.8zM16.0 19.4h0.8v0.8h-0.8zM14.1 11.8h0.8v0.8h-0.8zM16.6 32.5h0.8v0.8h-0.8zM15.4 2.8h0.8v0.8h-0.8zM19.7 39.6h0.8v0.8h-0.8zM12.8 31.0h0.8v0.8h-0.8zM15.7 33.9h0.8v0.8h-0.8zM16.1 17.3h0.8v0.8h-0.8zM14.2 21.4h0.8v0.8h-0.8zM17.3 37.7h0.8v0.8h-0.8zM18.6 21.1h0.8v0.8h-0.8zM13.5 38.4h0.8v0.8h-0.8zM15.6 38.3h0.8v0.8h-0.8zM17.2 11.1h0.8v0.8h-0.8zM14.2 34.7h0.8v0.8h-0.8zM14.2 30.1h0.8v0.8h-0.8zM12.4 29.3h0.8v0.8h-0.8zM19.7 26.5h0.8v0.8h-0.8zM14.8 20.8h0.8v0.8h-0.8zM17.3 31.1h0.8v0.8h-0.8zM7.4 35.6h0.8v0.8h-0.8zM19.2 29.9h0.8v0.8h-0.8zM11.1 6.9h0.8v0.8h-0.8zM17.5 26.9h0.8v0.8h-0.8zM18.3 15.0h0.8v0.8h-0.8zM17.3 34.0h0.8v0.8h-0.8zM16.0 25.1h0.8v0.8h-0.8zM22.2 41.6h0.8v0.8h-0.8zM13.0 6.7h0.8v0.8h-0.8zM14.7 20.4h0.8v0.8h-0.8zM18.1 34.5h0.8v0.8h-0.8zM16.9 23.5h0.8v0.8h-0.8zM17.9 20.3h0.8v0.8h-0.8zM12.7 18.8h0.8v0.8h-0.8zM11.6 25.8h0.8v0.8h-0.8zM13.4 28.3h0.8v0.8h-0.8zM16.8 20.8h0.8v0.8h-0.8zM17.1 28.4h0.8v0.8h-0.8zM10.2 20.3h0.8v0.8h-0.8zM17.2 24.7h0.8v0.8h-0.8zM15.5 22.3h0.8v0.8h-0.8zM20.1 6.6h0.8v0.8h-0.8zM15.3 22.1h0.8v0.8h-0.8zM14.4 35.5h0.8v0.8h-0.8zM11.6 27.8h0.8v0.8h-0.8zM17.9 35.0h0.8v0.8h-0.8zM14.3 14.7h0.8v0.8h-0.8zM12.5 24.6h0.8v0.8h-0.8zM14.5 9.6h0.8v0.8h-0.8zM12.7 28.8h0.8v0.8h-0.8zM15.3 12.2h0.8v0.8h-0.8zM17.5 11.1h0.8v0.8h-0.8zM17.3 7.2h0.8v0.8h-0.8zM17.9 40.9h0.8v0.8h-0.8zM10.8 11.7h0.8v0.8h-0.8zM15.3 16.3h0.8v0.8h-0.8zM17.2 10.8h0.8v0.8h-0.8zM16.0 21.1h0.8v0.8h-0.8zM13.7 13.4h0.8v0.8h-0.8zM10.5 12.5h0.8v0.8h-0.8zM17.6 24.6h0.8v0.8h-0.8zM15.0 25.3h0.8v0.8h-0.8zM14.0 39.1h0.8v0.8h-0.8zM15.7 17.0h0.8v0.8h-0.8zM14.7 16.4h0.8v0.8h-0.8zM12.6 24.3h0.8v0.8h-0.8zM9.6 31.8h0.8v0.8h-0.8zM9.3 11.0h0.8v0.8h-0.8zM18.7 37.1h0.8v0.8h-0.8zM11.9 17.7h0.8v0.8h-0.8zM15.2 12.7h0.8v0.8h-0.8zM11.8 13.3h0.8v0.8h-0.8zM19.0 26.8h0.8v0.8h-0.8zM11.1 22.6h0.8v0.8h-0.8zM15.5 31.5h0.8v0.8h-0.8zM19.4 30.2h0.8v0.8h-0.8zM17.6 37.0h0.8v0.8h-0.8zM16.6 23.6h0.8v0.8h-0.8zM18.7 14.0h0.8v0.8h-0.8zM15.5 29.1h0.8v0.8h-0.8zM15.1 8.2h0.8v0.8h-0.8zM16.2 17.4h0.8v0.8h-0.8zM14.2 5.7h0.8v0.8h-0.8zM19.5 20.4h0.8v0.8h-0.8zM18.1 33.8h0.8v0.8h-0.8zM15.1 43.7h0.8v0.8h-0.8zM16.3 13.0h0.8v0.8h-0.8zM16.3 24.5h0.8v0.8h-0.8zM14.2 20.9h0.8v0.8h-0.8zM13.3 9.2h0.8v0.8h-0.8zM16.2 23.3h0.8v0.8h-0.8zM15.2 19.7h0.8v0.8h-0.8zM10.0 3.3h0.8v0.8h-0.8zM15.8 6.5h0.8v0.8h-0.8zM14.4 36.9h0.8v0.8h-0.8zM13.2 27.7h0.8v0.8h-0.8zM14.8 8.3h0.8v0.8h-0.8zM15.6 23.7h0.8v0.8h-0.8zM17.9 6.3h0.8v0.8h-0.8zM14.2 25.6h0.8v0.8h-0.8zM19.2 32.8h0.8v0.8h-0.8zM12.8 32.4h0.8v0.8h-0.8zM10.9 16.8h0.8v0.8h-0.8zM17.2 8.2h0.8v0.8h-0.8zM11.0 12.9h0.8v0.8h-0.8zM15.4 17.8h0.8v0.8h-0.8zM13.7 35.4h0.8v0.8h-0.8zM19.9 25.8h0.8v0.8h-0.8zM16.0 7.8h0.8v0.8h-0.8zM16.1 37.2h0.8v0.8h-0.8zM19.6 34.9h0.8v0.8h-0.8zM11.8 34.0h0.8v0.8h-0.8zM12.7 22.7h0.8v0.8h-0.8zM12.7 2.5h0.8v0.8h-0.8zM14.2 23.4h0.8v0.8h-0.8zM20.9 28.4h0.8v0.8h-0.8zM17.5 20.2h0.8v0.8h-0.8zM18.1 6.7h0.8v0.8h-0.8zM19.1 15.6h0.8v0.8h-0.8zM19.2 10.1h0.8v0.8h-0.8zM10.7 39.6h0.8v0.8h-0.8zM15.1 9.4h0.8v0.8h-0.8zM18.5 22.8h0.8v0.8h-0.8zM17.1 23.5h0.8v0.8h-0.8zM17.5 9.2h0.8v0.8h-0.8zM11.6 17.2h0.8v0.8h-0.8zM17.2 19.7h0.8v0.8h-0.8zM23.8 9.5h0.8v0.8h-0.8zM9.9 36.0h0.8v0.8h-0.8zM20.4 11.6h0.8v0.8h-0.8zM9.5 23.8h0.8v0.8h-0.8zM16.2 16.7h0.8v0.8h-0.8zM12.5 27.0h0.8v0.8h-0.8zM16.5 17.2h0.8v0.8h-0.8zM14.3 11.7h0.8v0.8h-0.8zM13.8 1.2h0.8v0.8h-0.8zM20.1 21.4h0.8v0.8h-0.8zM18.2 13.6h0.8v0.8h-0.8zM13.4 25.5h0.8v0.8h-0.8zM18.0 12.8h0.8v0.8h-0.8zM17.4 22.3h0.8v0.8h-0.8zM17.4 4.6h0.8v0.8h-0.8zM12.5 25.0h0.8v0.8h-0.8zM20.0 21.7h0.8v0.8h-0.8zM7.2 15.8h0.8v0.8h-0.8zM16.2 15.4h0.8v0.8h-0.8zM11.1 6.6h0.8v0.8h-0.8zM16.9 26.8h0.8v0.8h-0.8zM16.8 36.1h0.8v0.8h-0.8zM9.5 34.3h0.8v0.8h-0.8zM16.7 28.8h0.8v0.8h-0.8zM15.3 26.3h0.8v0.8h-0.8zM14.8 5.1h0.8v0.8h-0.8zM13.7 36.4h0.8v0.8h-0.8zM10.6 26.8h0.8v0.8h-0.8zM20.3 19.8h0.8v0.8h-0.8zM17.3 33.6h0.8v0.8h-0.8zM13.6 24.8h0.8v0.8h-0.8zM16.8 22.7h0.8v0.8h-0.8zM16.7 36.4h0.8v0.8h-0.8zM17.4 11.0h0.8v0.8h-0.8zM18.2 16.6h0.8v0.8h-0.8zM17.0 30.3h0.8v0.8h-0.8zM19.0 10.5h0.8v0.8h-0.8zM19.0 37.1h0.8v0.8h-0.8zM14.4 31.1h0.8v0.8h-0.8zM13.5 20.7h0.8v0.8h-0.8zM16.8 14.5h0.8v0.8h-0.8zM14.8 15.7h0.8v0.8h-0.8zM10.0 14.2h0.8v0.8h-0.8zM16.2 4.9h0.8v0.8h-0.8zM15.5 31.6h0.8v0.8h-0.8zM17.2 17.6h0.8v0.8h-0.8zM10.3 12.6h0.8v0.8h-0.8zM16.5 33.8h0.8v0.8h-0.8zM19.1 19.4h0.8v0.8h-0.8zM13.5 9.6h0.8v0.8h-0.8zM16.3 37.7h0.8v0.8h-0.8zM13.7 8.1h0.8v0.8h-0.8zM19.5 4.7h0.8v0.8h-0.8zM14.9 30.1h0.8v0.8h-0.8z" fill="#111"/>
<path d="M29.6 49.2h0.8v0.8h-0.8zM26.6 50.1h0.8v0.8h-0.8zM33.4 43.1h0.8v0.8h-0.8zM38.4 46.5h0.8v0.8h-0.8zM29.1 43.6h0.8v0.8h-0.8zM30.6 45.3h0.8v0.8h-0.8zM32.5 46.6h0.8v0.8h-0.8zM34.9 42.7h0.8v0.8h-0.8zM34.5 51.0h0.8v0.8h-0.8zM35.0 45.7h0.8v0.8h-0.8zM28.4 47.3h0.8v0.8h-0.8zM29.2 45.3h0.8v0.8h-0.8zM33.5 43.6h0.8v0.8h-0.8zM31.3 43.5h0.8v0.8h-0.8zM29.3 40.8h0.8v0.8h-0.8zM30.4 43.7h0.8v0.8h-0.8zM34.5 41.9h0.8v0.8h-0.8zM33.6 45.4h0.8v0.8h-0.8zM35.5 45.1h0.8v0.8h-0.8zM32.5 46.8h0.8v0.8h-0.8zM29.5 47.4h0.8v0.8h-0.8zM27.6 47.1h0.8v0.8h-0.8zM31.9 45.0h0.8v0.8h-0.8zM31.9 48.1h0.8v0.8h-0.8zM33.6 48.5h0.8v0.8h-0.8zM36.0 43.3h0.8v0.8h-0.8zM31.8 47.4h0.8v0.8h-0.8zM33.2 46.8h0.8v0.8h-0.8zM28.9 44.4h0.8v0.8h-0.8zM31.9 47.8h0.8v0.8h-0.8zM39.5 47.1h0.8v0.8h-0.8zM35.0 45.8h0.8v0.8h-0.8zM33.5 48.4h0.8v0.8h-0.8zM31.5 47.2h0.8v0.8h-0.8zM31.5 47.5h0.8v0.8h-0.8zM36.9 43.5h0.8v0.8h-0.8zM33.5 47.4h0.8v0.8h-0.8zM34.7 45.4h0.8v0.8h-0.8zM34.4 45.9h0.8v0.8h-0.8zM34.2 50.5h0.8v0.8h-0.8zM30.2 45.3h0.8v0.8h-0.8zM40.3 45.2h0.8v0.8h-0.8zM33.1 45.3h0.8v0.8h-0.8zM29.7 46.7h0.8v0.8h-0.8zM30.3 46.1h0.8v0.8h-0.8zM34.7 46.7h0.8v0.8h-0.8zM34.4 48.7h0.8v0.8h-0.8zM36.5 44.3h0.8v0.8h-0.8zM31.9 43.5h0.8v0.8h-0.8zM34.6 49.3h0.8v0.8h-0.8zM38.1 45.1h0.8v0.8h-0.8zM32.9 49.8h0.8v0.8h-0.8zM26.4 41.6h0.8v0.8h-0.8zM31.1 47.7h0.8v0.8h-0.8zM28.4 45.3h0.8v0.8h-0.8zM32.2 47.7h0.8v0.8h-0.8zM34.1 44.8h0.8v0.8h-0.8zM33.0 46.6h0.8v0.8h-0.8zM31.6 41.6h0.8v0.8h-0.8zM26.0 41.2h0.8v0.8h-0.8z" fill="#111"/>
<ellipse cx="17.67" cy="44.98" rx="17.67" ry="8.89" fill="url(#halo4)" opacity="1.0" transform="rotate(-5 17.67 44.98)"/>
<path d="M1.4 41.4h0.8v0.8h-0.8zM3.0 43.6h0.8v0.8h-0.8zM8.0 51.5h0.8v0.8h-0.8zM5.8 52.0h0.8v0.8h-0.8zM4.0 50.0h0.8v0.8h-0.8zM7.9 39.8h0.8v0.8h-0.8zM7.3 51.8h0.8v0.8h-0.8zM-0.2 48.2h0.8v0.8h-0.8zM23.7 53.3h0.8v0.8h-0.8zM0.6 49.4h0.8v0.8h-0.8zM27.1 37.5h0.8v0.8h-0.8zM35.0 41.2h0.8v0.8h-0.8zM26.6 37.5h0.8v0.8h-0.8zM21.5 37.1h0.8v0.8h-0.8zM7.1 51.4h0.8v0.8h-0.8zM8.3 38.0h0.8v0.8h-0.8zM32.1 47.5h0.8v0.8h-0.8zM2.3 42.5h0.8v0.8h-0.8zM-0.5 48.4h0.8v0.8h-0.8zM22.3 37.0h0.8v0.8h-0.8zM7.9 37.7h0.8v0.8h-0.8zM31.4 49.4h0.8v0.8h-0.8zM28.5 36.4h0.8v0.8h-0.8zM28.3 51.0h0.8v0.8h-0.8zM4.2 50.0h0.8v0.8h-0.8zM4.7 51.5h0.8v0.8h-0.8zM3.0 50.4h0.8v0.8h-0.8zM33.7 40.0h0.8v0.8h-0.8zM-0.5 43.6h0.8v0.8h-0.8zM0.3 49.3h0.8v0.8h-0.8zM18.7 53.0h0.8v0.8h-0.8zM21.7 53.4h0.8v0.8h-0.8zM32.3 47.4h0.8v0.8h-0.8zM34.3 45.7h0.8v0.8h-0.8zM23.0 37.1h0.8v0.8h-0.8zM32.9 48.0h0.8v0.8h-0.8zM29.9 50.4h0.8v0.8h-0.8zM36.6 43.4h0.8v0.8h-0.8zM27.4 38.5h0.8v0.8h-0.8zM35.4 41.2h0.8v0.8h-0.8zM5.8 40.3h0.8v0.8h-0.8zM8.5 39.2h0.8v0.8h-0.8zM3.6 39.6h0.8v0.8h-0.8zM4.0 40.5h0.8v0.8h-0.8zM19.6 53.2h0.8v0.8h-0.8zM22.2 53.1h0.8v0.8h-0.8zM34.9 46.9h0.8v0.8h-0.8zM12.6 36.4h0.8v0.8h-0.8zM27.3 36.7h0.8v0.8h-0.8zM33.0 44.9h0.8v0.8h-0.8zM20.0 54.3h0.8v0.8h-0.8zM14.0 37.1h0.8v0.8h-0.8zM19.6 53.1h0.8v0.8h-0.8zM22.5 36.3h0.8v0.8h-0.8zM0.9 42.5h0.8v0.8h-0.8zM28.6 37.9h0.8v0.8h-0.8zM2.5 49.9h0.8v0.8h-0.8zM3.6 42.9h0.8v0.8h-0.8zM12.6 53.3h0.8v0.8h-0.8zM13.4 52.9h0.8v0.8h-0.8zM31.6 47.4h0.8v0.8h-0.8zM21.8 36.3h0.8v0.8h-0.8zM26.3 38.0h0.8v0.8h-0.8zM15.1 52.8h0.8v0.8h-0.8zM31.7 46.8h0.8v0.8h-0.8zM1.5 49.5h0.8v0.8h-0.8zM9.2 53.1h0.8v0.8h-0.8zM33.4 44.4h0.8v0.8h-0.8zM18.4 54.3h0.8v0.8h-0.8zM3.8 50.8h0.8v0.8h-0.8z" fill="#111"/>
<ellipse cx="15.31" cy="46.02" rx="12.72" ry="6.40" fill="url(#light2)" transform="rotate(-5 15.31 46.02)"/>
</g></svg>
<rect x="127.1" y="381.7" width="58.9" height="52.3" fill="none" stroke="#b0b0b0" stroke-width="0.85"/>
<line x1="147.65609999999998" y1="381.7" x2="147.65609999999998" y2="434.0" stroke="#b0b0b0" stroke-width="0.8"/>
<line x1="127.1" y1="414.649" x2="186.0" y2="414.649" stroke="#b0b0b0" stroke-width="0.8"/>
<rect x="127.5" y="382.3" width="3.2" height="3.2" fill="#fff" opacity="0.85"/>
<rect x="128.7" y="386.3" width="7.0" height="3.4" fill="#fff" opacity="0.85"/>
<text x="127.9" y="385.3" font-size="3" fill="#333">B1</text>
<text x="129.1" y="389.1" font-size="3" fill="#444">3.0%</text>
<rect x="148.1" y="382.3" width="3.2" height="3.2" fill="#fff" opacity="0.85"/>
<rect x="149.3" y="386.3" width="7.0" height="3.4" fill="#fff" opacity="0.85"/>
<text x="148.5" y="385.3" font-size="3" fill="#333">B2</text>
<text x="149.7" y="389.1" font-size="3" fill="#444">0.1%</text>
<rect x="127.5" y="415.2" width="3.2" height="3.2" fill="#fff" opacity="0.85"/>
<rect x="128.7" y="419.2" width="8.6" height="3.4" fill="#fff" opacity="0.85"/>
<text x="127.9" y="418.2" font-size="3" fill="#333">B3</text>
<text x="129.1" y="422.0" font-size="3" fill="#444">88.2%</text>
<rect x="148.1" y="415.2" width="3.2" height="3.2" fill="#fff" opacity="0.85"/>
<rect x="149.3" y="419.2" width="7.0" height="3.4" fill="#fff" opacity="0.85"/>
<text x="148.5" y="418.2" font-size="3" fill="#333">B4</text>
<text x="149.7" y="422.0" font-size="3" fill="#444">7.0%</text>
<text x="200.5" y="379.5" font-size="5.8" text-anchor="start" fill="#333">0.3</text>
<text x="249.7" y="379.5" font-size="5.8" text-anchor="end" fill="#333">0.0</text>
<svg x="195.1" y="381.7" width="58.9" height="52.3" viewBox="0 0 58.9 52.3" overflow="hidden"><g filter="url(#soft)">
<path d="M28.2 19.8h0.8v0.8h-0.8zM28.9 21.3h0.8v0.8h-0.8zM20.0 36.8h0.8v0.8h-0.8zM18.1 27.6h0.8v0.8h-0.8zM14.6 38.3h0.8v0.8h-0.8zM29.2 19.7h0.8v0.8h-0.8zM13.9 26.8h0.8v0.8h-0.8zM20.9 33.9h0.8v0.8h-0.8zM17.8 29.6h0.8v0.8h-0.8zM14.6 20.7h0.8v0.8h-0.8zM13.2 28.5h0.8v0.8h-0.8zM21.7 30.2h0.8v0.8h-0.8zM28.3 22.9h0.8v0.8h-0.8zM17.8 26.6h0.8v0.8h-0.8zM28.5 22.9h0.8v0.8h-0.8zM16.9 25.7h0.8v0.8h-0.8zM24.0 22.3h0.8v0.8h-0.8zM14.8 32.9h0.8v0.8h-0.8zM21.9 29.3h0.8v0.8h-0.8zM12.0 21.6h0.8v0.8h-0.8zM13.6 24.3h0.8v0.8h-0.8zM27.8 39.0h0.8v0.8h-0.8zM26.7 24.4h0.8v0.8h-0.8zM21.8 36.8h0.8v0.8h-0.8zM17.8 25.1h0.8v0.8h-0.8zM24.4 23.8h0.8v0.8h-0.8zM20.2 24.2h0.8v0.8h-0.8zM26.3 27.9h0.8v0.8h-0.8zM13.5 16.1h0.8v0.8h-0.8zM23.1 18.4h0.8v0.8h-0.8zM23.6 20.9h0.8v0.8h-0.8zM21.2 23.8h0.8v0.8h-0.8zM23.3 18.8h0.8v0.8h-0.8zM19.0 31.2h0.8v0.8h-0.8zM16.4 39.0h0.8v0.8h-0.8zM29.3 38.5h0.8v0.8h-0.8zM28.2 37.8h0.8v0.8h-0.8zM21.9 35.4h0.8v0.8h-0.8zM19.0 17.2h0.8v0.8h-0.8zM28.1 37.3h0.8v0.8h-0.8zM16.3 24.5h0.8v0.8h-0.8zM15.9 32.5h0.8v0.8h-0.8zM14.8 34.8h0.8v0.8h-0.8zM12.4 25.2h0.8v0.8h-0.8zM25.6 27.1h0.8v0.8h-0.8zM14.2 16.4h0.8v0.8h-0.8zM23.8 17.5h0.8v0.8h-0.8zM16.8 29.9h0.8v0.8h-0.8zM17.2 16.6h0.8v0.8h-0.8zM25.8 32.7h0.8v0.8h-0.8zM22.6 18.0h0.8v0.8h-0.8zM20.3 38.4h0.8v0.8h-0.8zM20.8 21.7h0.8v0.8h-0.8zM28.3 23.9h0.8v0.8h-0.8zM21.0 19.6h0.8v0.8h-0.8zM27.0 31.8h0.8v0.8h-0.8zM21.2 27.3h0.8v0.8h-0.8zM17.8 26.5h0.8v0.8h-0.8zM20.8 16.2h0.8v0.8h-0.8zM24.4 33.4h0.8v0.8h-0.8z" fill="#111"/>
<path d="M20.1 21.4h0.8v0.8h-0.8zM20.0 28.1h0.8v0.8h-0.8zM15.8 41.1h0.8v0.8h-0.8zM14.7 28.8h0.8v0.8h-0.8zM20.9 34.1h0.8v0.8h-0.8zM18.0 29.2h0.8v0.8h-0.8zM16.1 30.6h0.8v0.8h-0.8zM19.3 22.2h0.8v0.8h-0.8zM18.1 30.1h0.8v0.8h-0.8zM17.8 20.7h0.8v0.8h-0.8zM15.2 42.4h0.8v0.8h-0.8zM17.9 24.1h0.8v0.8h-0.8zM14.7 32.1h0.8v0.8h-0.8zM16.6 32.8h0.8v0.8h-0.8zM17.7 30.2h0.8v0.8h-0.8zM9.0 30.7h0.8v0.8h-0.8zM23.1 37.3h0.8v0.8h-0.8zM19.7 29.3h0.8v0.8h-0.8zM17.1 26.6h0.8v0.8h-0.8zM16.6 28.4h0.8v0.8h-0.8zM12.8 29.6h0.8v0.8h-0.8zM17.8 25.2h0.8v0.8h-0.8zM16.6 20.1h0.8v0.8h-0.8zM16.7 20.2h0.8v0.8h-0.8zM20.7 33.9h0.8v0.8h-0.8zM18.2 23.1h0.8v0.8h-0.8zM20.0 19.3h0.8v0.8h-0.8zM15.7 38.3h0.8v0.8h-0.8zM15.8 30.7h0.8v0.8h-0.8zM20.8 18.9h0.8v0.8h-0.8zM15.8 27.3h0.8v0.8h-0.8zM19.3 38.0h0.8v0.8h-0.8zM15.7 17.1h0.8v0.8h-0.8zM18.6 33.3h0.8v0.8h-0.8zM17.0 38.0h0.8v0.8h-0.8zM18.2 21.3h0.8v0.8h-0.8zM14.4 30.6h0.8v0.8h-0.8zM15.8 24.6h0.8v0.8h-0.8zM18.7 29.2h0.8v0.8h-0.8zM16.6 20.6h0.8v0.8h-0.8z" fill="#111"/>
<path d="M33.1 46.7h0.8v0.8h-0.8zM32.7 41.5h0.8v0.8h-0.8zM28.9 45.8h0.8v0.8h-0.8zM32.4 46.2h0.8v0.8h-0.8zM34.2 43.1h0.8v0.8h-0.8zM36.3 45.8h0.8v0.8h-0.8zM34.0 44.6h0.8v0.8h-0.8zM33.3 44.0h0.8v0.8h-0.8zM29.5 47.7h0.8v0.8h-0.8zM28.4 45.3h0.8v0.8h-0.8zM31.3 46.6h0.8v0.8h-0.8zM30.1 48.7h0.8v0.8h-0.8zM34.2 42.5h0.8v0.8h-0.8zM28.2 45.3h0.8v0.8h-0.8zM33.7 48.9h0.8v0.8h-0.8zM32.0 43.2h0.8v0.8h-0.8zM31.2 40.5h0.8v0.8h-0.8zM31.0 45.7h0.8v0.8h-0.8zM33.0 42.8h0.8v0.8h-0.8zM34.8 47.1h0.8v0.8h-0.8zM28.4 42.9h0.8v0.8h-0.8zM29.0 42.8h0.8v0.8h-0.8zM37.2 46.9h0.8v0.8h-0.8zM28.1 41.1h0.8v0.8h-0.8zM26.8 45.1h0.8v0.8h-0.8zM26.4 46.2h0.8v0.8h-0.8zM33.4 46.7h0.8v0.8h-0.8zM31.6 43.1h0.8v0.8h-0.8zM28.5 45.1h0.8v0.8h-0.8zM31.4 44.2h0.8v0.8h-0.8zM30.9 46.4h0.8v0.8h-0.8zM33.9 46.6h0.8v0.8h-0.8zM32.9 44.9h0.8v0.8h-0.8zM27.6 42.6h0.8v0.8h-0.8zM31.0 44.8h0.8v0.8h-0.8zM35.9 46.2h0.8v0.8h-0.8zM32.0 50.0h0.8v0.8h-0.8zM26.7 39.8h0.8v0.8h-0.8zM27.1 48.4h0.8v0.8h-0.8zM32.5 47.2h0.8v0.8h-0.8zM29.2 47.2h0.8v0.8h-0.8zM28.9 44.9h0.8v0.8h-0.8zM33.6 47.6h0.8v0.8h-0.8zM25.8 45.7h0.8v0.8h-0.8zM28.3 44.2h0.8v0.8h-0.8zM32.1 49.7h0.8v0.8h-0.8zM32.0 44.9h0.8v0.8h-0.8zM30.2 49.7h0.8v0.8h-0.8zM31.2 46.5h0.8v0.8h-0.8z" fill="#111"/>
<ellipse cx="16.49" cy="44.98" rx="17.08" ry="8.89" fill="url(#halo4)" opacity="1.0" transform="rotate(-5 16.49 44.98)"/>
<path d="M25.9 50.4h0.8v0.8h-0.8zM9.6 38.4h0.8v0.8h-0.8zM22.5 37.1h0.8v0.8h-0.8zM0.4 47.7h0.8v0.8h-0.8zM30.6 38.1h0.8v0.8h-0.8zM20.3 52.7h0.8v0.8h-0.8zM29.4 48.3h0.8v0.8h-0.8zM25.4 37.8h0.8v0.8h-0.8zM-0.0 44.8h0.8v0.8h-0.8zM13.3 52.7h0.8v0.8h-0.8zM32.0 43.8h0.8v0.8h-0.8zM26.5 38.2h0.8v0.8h-0.8zM13.5 54.5h0.8v0.8h-0.8zM28.7 39.9h0.8v0.8h-0.8zM17.1 36.5h0.8v0.8h-0.8zM0.6 50.0h0.8v0.8h-0.8zM33.0 44.0h0.8v0.8h-0.8zM28.9 37.2h0.8v0.8h-0.8zM20.1 36.4h0.8v0.8h-0.8zM14.1 54.6h0.8v0.8h-0.8zM31.4 43.8h0.8v0.8h-0.8zM13.3 54.6h0.8v0.8h-0.8zM2.8 51.9h0.8v0.8h-0.8zM30.6 47.6h0.8v0.8h-0.8zM15.0 52.6h0.8v0.8h-0.8zM18.9 35.7h0.8v0.8h-0.8zM4.5 40.4h0.8v0.8h-0.8zM5.8 38.5h0.8v0.8h-0.8zM12.6 53.5h0.8v0.8h-0.8zM34.6 43.6h0.8v0.8h-0.8zM31.5 45.2h0.8v0.8h-0.8zM27.4 39.2h0.8v0.8h-0.8zM23.9 52.0h0.8v0.8h-0.8zM34.4 43.3h0.8v0.8h-0.8zM21.3 53.3h0.8v0.8h-0.8zM18.6 53.2h0.8v0.8h-0.8zM25.9 38.1h0.8v0.8h-0.8zM16.3 54.4h0.8v0.8h-0.8zM20.3 52.2h0.8v0.8h-0.8zM0.8 44.9h0.8v0.8h-0.8zM7.3 52.0h0.8v0.8h-0.8zM8.8 36.8h0.8v0.8h-0.8zM23.6 51.5h0.8v0.8h-0.8zM31.7 47.4h0.8v0.8h-0.8zM30.3 47.3h0.8v0.8h-0.8zM21.4 35.6h0.8v0.8h-0.8zM-1.6 46.5h0.8v0.8h-0.8zM17.7 53.8h0.8v0.8h-0.8zM12.3 36.7h0.8v0.8h-0.8zM8.9 52.3h0.8v0.8h-0.8zM24.8 52.5h0.8v0.8h-0.8zM11.2 37.1h0.8v0.8h-0.8zM17.6 37.2h0.8v0.8h-0.8zM23.7 36.5h0.8v0.8h-0.8zM9.7 38.2h0.8v0.8h-0.8zM30.7 40.7h0.8v0.8h-0.8zM7.3 53.9h0.8v0.8h-0.8zM-0.3 44.0h0.8v0.8h-0.8zM22.0 35.8h0.8v0.8h-0.8zM1.3 46.1h0.8v0.8h-0.8zM1.9 43.6h0.8v0.8h-0.8zM1.5 45.8h0.8v0.8h-0.8zM32.5 43.1h0.8v0.8h-0.8zM13.3 36.5h0.8v0.8h-0.8zM3.7 50.8h0.8v0.8h-0.8zM34.3 43.7h0.8v0.8h-0.8zM31.0 46.6h0.8v0.8h-0.8zM1.1 45.6h0.8v0.8h-0.8zM13.2 36.0h0.8v0.8h-0.8zM-1.8 46.9h0.8v0.8h-0.8z" fill="#111"/>
<ellipse cx="14.14" cy="46.02" rx="12.30" ry="6.40" fill="url(#light2)" transform="rotate(-5 14.14 46.02)"/>
</g></svg>
<rect x="195.1" y="381.7" width="58.9" height="52.3" fill="none" stroke="#b0b0b0" stroke-width="0.85"/>
<line x1="215.65609999999998" y1="381.7" x2="215.65609999999998" y2="434.0" stroke="#b0b0b0" stroke-width="0.8"/>
<line x1="195.1" y1="414.649" x2="254.0" y2="414.649" stroke="#b0b0b0" stroke-width="0.8"/>
<rect x="195.5" y="382.3" width="3.2" height="3.2" fill="#fff" opacity="0.85"/>
<rect x="196.7" y="386.3" width="7.0" height="3.4" fill="#fff" opacity="0.85"/>
<text x="195.9" y="385.3" font-size="3" fill="#333">B1</text>
<text x="197.1" y="389.1" font-size="3" fill="#444">0.3%</text>
<rect x="216.1" y="382.3" width="3.2" height="3.2" fill="#fff" opacity="0.85"/>
<rect x="217.3" y="386.3" width="7.0" height="3.4" fill="#fff" opacity="0.85"/>
<text x="216.5" y="385.3" font-size="3" fill="#333">B2</text>
<text x="217.7" y="389.1" font-size="3" fill="#444">0.0%</text>
<rect x="195.5" y="415.2" width="3.2" height="3.2" fill="#fff" opacity="0.85"/>
<rect x="196.7" y="419.2" width="8.6" height="3.4" fill="#fff" opacity="0.85"/>
<text x="195.9" y="418.2" font-size="3" fill="#333">B3</text>
<text x="197.1" y="422.0" font-size="3" fill="#444">88.2%</text>
<rect x="216.1" y="415.2" width="3.2" height="3.2" fill="#fff" opacity="0.85"/>
<rect x="217.3" y="419.2" width="7.0" height="3.4" fill="#fff" opacity="0.85"/>
<text x="216.5" y="418.2" font-size="3" fill="#333">B4</text>
<text x="217.7" y="422.0" font-size="3" fill="#444">7.0%</text>
<text x="0.9" y="464.9" font-size="11.6" font-weight="bold" stroke="#111" stroke-width="0.22" text-anchor="start" fill="#111">C</text>
<text x="75.8" y="470.6" font-size="6.5" font-weight="bold" stroke="#111" stroke-width="0.2" text-anchor="start" fill="#111">CD25<tspan font-size="4.03" dy="-2.73" stroke-width="0.1">high</tspan><tspan dy="2.73"> CD27</tspan><tspan font-size="4.03" dy="-2.73" stroke-width="0.1">pos</tspan></text>
<text x="159.6" y="470.9" font-size="6.5" font-weight="bold" stroke="#111" stroke-width="0.2" text-anchor="start" fill="#111">CD25<tspan font-size="4.03" dy="-2.73" stroke-width="0.1">neg</tspan><tspan dy="2.73"> CD27</tspan><tspan font-size="4.03" dy="-2.73" stroke-width="0.1">pos</tspan></text>
<line x1="75.2" y1="479.0" x2="75.2" y2="586.3" stroke="#888" stroke-width="1.0"/>
<line x1="75.2" y1="586.3" x2="147.6" y2="586.3" stroke="#888" stroke-width="1.0"/>
<line x1="73.2" y1="586.3" x2="75.2" y2="586.3" stroke="#888" stroke-width="0.8"/>
<line x1="73.2" y1="565.0" x2="75.2" y2="565.0" stroke="#888" stroke-width="0.8"/>
<line x1="73.2" y1="543.6999999999999" x2="75.2" y2="543.6999999999999" stroke="#888" stroke-width="0.8"/>
<line x1="73.2" y1="522.4" x2="75.2" y2="522.4" stroke="#888" stroke-width="0.8"/>
<line x1="73.2" y1="501.09999999999997" x2="75.2" y2="501.09999999999997" stroke="#888" stroke-width="0.8"/>
<line x1="73.2" y1="479.79999999999995" x2="75.2" y2="479.79999999999995" stroke="#888" stroke-width="0.8"/>
<line x1="155.4" y1="479.0" x2="155.4" y2="586.3" stroke="#888" stroke-width="1.0"/>
<line x1="155.4" y1="586.3" x2="227.5" y2="586.3" stroke="#888" stroke-width="1.0"/>
<line x1="153.4" y1="586.3" x2="155.4" y2="586.3" stroke="#888" stroke-width="0.8"/>
<line x1="153.4" y1="565.0" x2="155.4" y2="565.0" stroke="#888" stroke-width="0.8"/>
<line x1="153.4" y1="543.6999999999999" x2="155.4" y2="543.6999999999999" stroke="#888" stroke-width="0.8"/>
<line x1="153.4" y1="522.4" x2="155.4" y2="522.4" stroke="#888" stroke-width="0.8"/>
<line x1="153.4" y1="501.09999999999997" x2="155.4" y2="501.09999999999997" stroke="#888" stroke-width="0.8"/>
<line x1="153.4" y1="479.79999999999995" x2="155.4" y2="479.79999999999995" stroke="#888" stroke-width="0.8"/>
<text x="72.0" y="588.3" font-size="5.6" font-weight="bold" stroke="#222" stroke-width="0.22" text-anchor="end" fill="#222">0</text>
<text x="72.0" y="567.0" font-size="5.6" font-weight="bold" stroke="#222" stroke-width="0.22" text-anchor="end" fill="#222">10</text>
<text x="72.0" y="545.6999999999999" font-size="5.6" font-weight="bold" stroke="#222" stroke-width="0.22" text-anchor="end" fill="#222">20</text>
<text x="72.0" y="524.4" font-size="5.6" font-weight="bold" stroke="#222" stroke-width="0.22" text-anchor="end" fill="#222">30</text>
<text x="72.0" y="503.09999999999997" font-size="5.6" font-weight="bold" stroke="#222" stroke-width="0.22" text-anchor="end" fill="#222">40</text>
<text x="72.0" y="481.79999999999995" font-size="5.6" font-weight="bold" stroke="#222" stroke-width="0.22" text-anchor="end" fill="#222">50</text>
<text x="54.7" y="566.0" font-size="6.5" font-weight="bold" stroke="#111" stroke-width="0.22" text-anchor="start" fill="#111" transform="rotate(-90 54.7 566.0)">% IL-17 producing cells</text>
<text x="87.8" y="597.6" font-size="5.6" font-weight="bold" stroke="#111" stroke-width="0.22" text-anchor="middle" fill="#111">IL-2</text>
<text x="110.5" y="593.4" font-size="5.0" font-weight="bold" stroke="#111" stroke-width="0.22" text-anchor="middle" fill="#111">+</text>
<text x="110.5" y="600.6" font-size="5.6" font-weight="bold" stroke="#111" stroke-width="0.22" text-anchor="middle" fill="#111">IL-1&#946;</text>
<text x="132.0" y="593.4" font-size="5.0" font-weight="bold" stroke="#111" stroke-width="0.22" text-anchor="middle" fill="#111">+</text>
<text x="132.0" y="600.6" font-size="5.6" font-weight="bold" stroke="#111" stroke-width="0.22" text-anchor="middle" fill="#111">IL-1Ra</text>
<text x="169.4" y="597.6" font-size="5.6" font-weight="bold" stroke="#111" stroke-width="0.22" text-anchor="middle" fill="#111">IL-2</text>
<text x="191.0" y="593.4" font-size="5.0" font-weight="bold" stroke="#111" stroke-width="0.22" text-anchor="middle" fill="#111">+</text>
<text x="191.0" y="600.6" font-size="5.6" font-weight="bold" stroke="#111" stroke-width="0.22" text-anchor="middle" fill="#111">IL-1&#946;</text>
<text x="213.0" y="593.4" font-size="5.0" font-weight="bold" stroke="#111" stroke-width="0.22" text-anchor="middle" fill="#111">+</text>
<text x="213.0" y="600.6" font-size="5.6" font-weight="bold" stroke="#111" stroke-width="0.22" text-anchor="middle" fill="#111">IL-1Ra</text>
<circle cx="87.0" cy="564.8" r="0.95" fill="#111"/>
<circle cx="89.8" cy="566.3" r="0.95" fill="#111"/>
<circle cx="89.4" cy="577.0" r="0.95" fill="#111"/>
<circle cx="110.8" cy="502.0" r="0.95" fill="#111"/>
<circle cx="110.8" cy="520.6" r="0.95" fill="#111"/>
<circle cx="110.8" cy="542.2" r="0.95" fill="#111"/>
<circle cx="132.7" cy="575.4" r="0.95" fill="#111"/>
<circle cx="132.7" cy="580.6" r="0.95" fill="#111"/>
<circle cx="132.7" cy="584.6" r="0.95" fill="#111"/>
<line x1="82" y1="569.2" x2="96.5" y2="569.2" stroke="#777" stroke-width="0.9"/>
<line x1="102.5" y1="520.8" x2="118.0" y2="520.8" stroke="#777" stroke-width="0.9"/>
<line x1="125.4" y1="580.2" x2="139.2" y2="580.2" stroke="#777" stroke-width="0.9"/>
<circle cx="167.9" cy="583.8" r="0.95" fill="#111"/>
<circle cx="170.2" cy="585.3" r="0.95" fill="#111"/>
<circle cx="172.3" cy="585.0" r="0.95" fill="#111"/>
<circle cx="188.0" cy="580.4" r="0.95" fill="#111"/>
<circle cx="191.0" cy="582.4" r="0.95" fill="#111"/>
<circle cx="195.4" cy="581.5" r="0.95" fill="#111"/>
<circle cx="208.8" cy="583.6" r="0.95" fill="#111"/>
<circle cx="212.1" cy="585.8" r="0.95" fill="#111"/>
<circle cx="216.5" cy="585.0" r="0.95" fill="#111"/>
<line x1="163" y1="584.6" x2="177.5" y2="584.6" stroke="#777" stroke-width="0.9"/>
<line x1="183.8" y1="581.3" x2="198.7" y2="581.3" stroke="#777" stroke-width="0.9"/>
<line x1="205.4" y1="584.2" x2="220.8" y2="584.2" stroke="#777" stroke-width="0.9"/>
<path d="M88.8 483.5V479.6H106.94999999999999M113.94999999999999 479.6H132.1V483.5" fill="none" stroke="#888" stroke-width="0.7"/>
<text x="110.44999999999999" y="483.3" font-size="6.5" font-weight="bold" stroke="#333" stroke-width="0.22" text-anchor="middle" fill="#333">*</text>
<path d="M88.8 490.8V486.0H96.6M102.6 486.0H110.4V490.8" fill="none" stroke="#888" stroke-width="0.7"/>
<text x="99.6" y="489.7" font-size="6.5" font-weight="bold" stroke="#333" stroke-width="0.22" text-anchor="middle" fill="#333">*</text>
<path d="M113.5 490.8V486.0H119.8M125.8 486.0H132.1V490.8" fill="none" stroke="#888" stroke-width="0.7"/>
<text x="122.8" y="489.7" font-size="6.5" font-weight="bold" stroke="#333" stroke-width="0.22" text-anchor="middle" fill="#333">*</text>
<path d="M169.2 487.0V483.3H185.95M195.95 483.3H212.7V487.0" fill="none" stroke="#888" stroke-width="0.7"/>
<text x="190.95" y="484.90000000000003" font-size="4.5" font-weight="bold" stroke="#333" stroke-width="0.22" text-anchor="middle" fill="#333">NS</text>
<path d="M169.2 493.6V489.6H175.0M185.0 489.6H190.8V493.6" fill="none" stroke="#888" stroke-width="0.7"/>
<text x="180.0" y="491.20000000000005" font-size="4.5" font-weight="bold" stroke="#333" stroke-width="0.22" text-anchor="middle" fill="#333">NS</text>
<path d="M193.2 493.6V489.6H197.95M207.95 489.6H212.7V493.6" fill="none" stroke="#888" stroke-width="0.7"/>
<text x="202.95" y="491.20000000000005" font-size="4.5" font-weight="bold" stroke="#333" stroke-width="0.22" text-anchor="middle" fill="#333">NS</text>
<text x="267.3" y="8.5" font-size="12" font-weight="bold" stroke="#111" stroke-width="0.22" text-anchor="start" fill="#111">D</text>
<text x="275.2" y="109.7" font-size="5.75" font-weight="bold" stroke="#111" stroke-width="0.22" text-anchor="start" fill="#111" transform="rotate(-90 275.2 109.7)">% IL-17 produing cells</text>
<line x1="292.4" y1="30.0" x2="292.4" y2="120.4" stroke="#aaa" stroke-width="0.9"/>
<line x1="292.4" y1="120.4" x2="352.0" y2="120.4" stroke="#aaa" stroke-width="0.9"/>
<line x1="290.4" y1="120.4" x2="292.4" y2="120.4" stroke="#aaa" stroke-width="0.8"/>
<text x="287.09999999999997" y="122.5" font-size="6" text-anchor="end" fill="#333">0</text>
<line x1="290.4" y1="97.85000000000001" x2="292.4" y2="97.85000000000001" stroke="#aaa" stroke-width="0.8"/>
<text x="287.09999999999997" y="99.95" font-size="6" text-anchor="end" fill="#333">5</text>
<line x1="290.4" y1="75.30000000000001" x2="292.4" y2="75.30000000000001" stroke="#aaa" stroke-width="0.8"/>
<text x="287.09999999999997" y="77.4" font-size="6" text-anchor="end" fill="#333">10</text>
<line x1="290.4" y1="52.750000000000014" x2="292.4" y2="52.750000000000014" stroke="#aaa" stroke-width="0.8"/>
<text x="287.09999999999997" y="54.850000000000016" font-size="6" text-anchor="end" fill="#333">15</text>
<line x1="290.4" y1="30.200000000000017" x2="292.4" y2="30.200000000000017" stroke="#aaa" stroke-width="0.8"/>
<text x="287.09999999999997" y="32.30000000000002" font-size="6" text-anchor="end" fill="#333">20</text>
<line x1="322.0" y1="120.4" x2="322.0" y2="122.4" stroke="#aaa" stroke-width="0.8"/>
<line x1="352.0" y1="120.4" x2="352.0" y2="122.4" stroke="#aaa" stroke-width="0.8"/>
<line x1="307.0" y1="43.730000000000004" x2="337.5" y2="61.77000000000001" stroke="#000" stroke-width="1.6" stroke-linecap="round"/>
<line x1="307.0" y1="105.066" x2="337.5" y2="87.477" stroke="#000" stroke-width="1.6" stroke-linecap="round"/>
<line x1="307.0" y1="101.458" x2="337.5" y2="105.066" stroke="#000" stroke-width="1.6" stroke-linecap="round"/>
<line x1="307.0" y1="113.635" x2="337.5" y2="110.027" stroke="#000" stroke-width="1.6" stroke-linecap="round"/>
<line x1="307.0" y1="116.34100000000001" x2="337.5" y2="116.792" stroke="#000" stroke-width="1.6" stroke-linecap="round"/>
<text x="297.90" y="135.10" font-size="5.75" text-anchor="middle" dominant-baseline="central" fill="#222" stroke="#222" stroke-width="0.18" transform="rotate(-51.5 297.90 135.10)">IL-2 + IL-15</text>
<text x="327.30" y="135.10" font-size="5.75" text-anchor="middle" dominant-baseline="central" fill="#222" stroke="#222" stroke-width="0.18" transform="rotate(-51.5 327.30 135.10)">IL-2 + IL-15</text>
<text x="333.70" y="138.60" font-size="5.75" text-anchor="middle" dominant-baseline="central" fill="#222" stroke="#222" stroke-width="0.18" transform="rotate(-51.5 333.70 138.60)">+ anti IL-23</text>
<line x1="374.6" y1="30.0" x2="374.6" y2="120.4" stroke="#aaa" stroke-width="0.9"/>
<line x1="374.6" y1="120.4" x2="436.5" y2="120.4" stroke="#aaa" stroke-width="0.9"/>
<line x1="372.6" y1="120.4" x2="374.6" y2="120.4" stroke="#aaa" stroke-width="0.8"/>
<text x="369.3" y="122.5" font-size="6" text-anchor="end" fill="#333">0</text>
<line x1="372.6" y1="94.7" x2="374.6" y2="94.7" stroke="#aaa" stroke-width="0.8"/>
<text x="369.3" y="96.8" font-size="6" text-anchor="end" fill="#333">10</text>
<line x1="372.6" y1="69.0" x2="374.6" y2="69.0" stroke="#aaa" stroke-width="0.8"/>
<text x="369.3" y="71.1" font-size="6" text-anchor="end" fill="#333">20</text>
<line x1="372.6" y1="43.30000000000001" x2="374.6" y2="43.30000000000001" stroke="#aaa" stroke-width="0.8"/>
<text x="369.3" y="45.40000000000001" font-size="6" text-anchor="end" fill="#333">30</text>
<line x1="405.8" y1="120.4" x2="405.8" y2="122.4" stroke="#aaa" stroke-width="0.8"/>
<line x1="436.5" y1="120.4" x2="436.5" y2="122.4" stroke="#aaa" stroke-width="0.8"/>
<line x1="389.3" y1="64.37400000000001" x2="420.9" y2="40.730000000000004" stroke="#000" stroke-width="1.6" stroke-linecap="round"/>
<line x1="389.3" y1="97.527" x2="420.9" y2="105.494" stroke="#000" stroke-width="1.6" stroke-linecap="round"/>
<line x1="389.3" y1="102.41000000000001" x2="420.9" y2="104.98" stroke="#000" stroke-width="1.6" stroke-linecap="round"/>
<text x="380.00" y="135.10" font-size="5.75" text-anchor="middle" dominant-baseline="central" fill="#222" stroke="#222" stroke-width="0.18" transform="rotate(-51.5 380.00 135.10)">IL-2 + IL-15</text>
<text x="386.40" y="138.60" font-size="5.75" text-anchor="middle" dominant-baseline="central" fill="#222" stroke="#222" stroke-width="0.18" transform="rotate(-51.5 386.40 138.60)">+ IL-1&#946;</text>
<text x="409.30" y="135.10" font-size="5.75" text-anchor="middle" dominant-baseline="central" fill="#222" stroke="#222" stroke-width="0.18" transform="rotate(-51.5 409.30 135.10)">IL-2 + IL-15</text>
<text x="415.70" y="138.60" font-size="5.75" text-anchor="middle" dominant-baseline="central" fill="#222" stroke="#222" stroke-width="0.18" transform="rotate(-51.5 415.70 138.60)">+ IL-1&#946;</text>
<text x="422.10" y="142.10" font-size="5.75" text-anchor="middle" dominant-baseline="central" fill="#222" stroke="#222" stroke-width="0.18" transform="rotate(-51.5 422.10 142.10)">+ anti IL-23</text>
<line x1="460.3" y1="30.5" x2="460.3" y2="120.4" stroke="#aaa" stroke-width="0.9"/>
<line x1="460.3" y1="120.4" x2="520.0" y2="120.4" stroke="#aaa" stroke-width="0.9"/>
<line x1="458.3" y1="120.4" x2="460.3" y2="120.4" stroke="#aaa" stroke-width="0.8"/>
<text x="455.0" y="122.5" font-size="6" text-anchor="end" fill="#333">0</text>
<line x1="458.3" y1="97.9" x2="460.3" y2="97.9" stroke="#aaa" stroke-width="0.8"/>
<text x="455.0" y="100.0" font-size="6" text-anchor="end" fill="#333">5</text>
<line x1="458.3" y1="75.4" x2="460.3" y2="75.4" stroke="#aaa" stroke-width="0.8"/>
<text x="455.0" y="77.5" font-size="6" text-anchor="end" fill="#333">10</text>
<line x1="458.3" y1="52.900000000000006" x2="460.3" y2="52.900000000000006" stroke="#aaa" stroke-width="0.8"/>
<text x="455.0" y="55.00000000000001" font-size="6" text-anchor="end" fill="#333">15</text>
<line x1="458.3" y1="30.400000000000006" x2="460.3" y2="30.400000000000006" stroke="#aaa" stroke-width="0.8"/>
<text x="455.0" y="32.50000000000001" font-size="6" text-anchor="end" fill="#333">20</text>
<line x1="489.8" y1="120.4" x2="489.8" y2="122.4" stroke="#aaa" stroke-width="0.8"/>
<line x1="475.1" y1="75.4" x2="504.9" y2="102.85000000000001" stroke="#000" stroke-width="1.6" stroke-linecap="round"/>
<line x1="475.1" y1="79.9" x2="504.9" y2="112.75" stroke="#000" stroke-width="1.6" stroke-linecap="round"/>
<line x1="475.1" y1="80.80000000000001" x2="504.9" y2="115.9" stroke="#000" stroke-width="1.6" stroke-linecap="round"/>
<text x="464.95" y="135.20" font-size="5.75" text-anchor="middle" dominant-baseline="central" fill="#222" stroke="#222" stroke-width="0.18" transform="rotate(-51.5 464.95 135.20)">IL-2 + IL-15</text>
<text x="471.35" y="138.70" font-size="5.75" text-anchor="middle" dominant-baseline="central" fill="#222" stroke="#222" stroke-width="0.18" transform="rotate(-51.5 471.35 138.70)">+ IL-23</text>
<text x="495.10" y="135.20" font-size="5.75" text-anchor="middle" dominant-baseline="central" fill="#222" stroke="#222" stroke-width="0.18" transform="rotate(-51.5 495.10 135.20)">IL-2 + IL-15</text>
<text x="501.50" y="138.70" font-size="5.75" text-anchor="middle" dominant-baseline="central" fill="#222" stroke="#222" stroke-width="0.18" transform="rotate(-51.5 501.50 138.70)">+IL-23</text>
<text x="507.90" y="142.20" font-size="5.75" text-anchor="middle" dominant-baseline="central" fill="#222" stroke="#222" stroke-width="0.18" transform="rotate(-51.5 507.90 142.20)">+ anti IL-23</text>
<text x="268.0" y="170.7" font-size="12.2" font-weight="bold" stroke="#111" stroke-width="0.22" text-anchor="start" fill="#111">E</text>
<text x="320.2" y="252.5" font-size="5.75" font-weight="bold" stroke="#111" stroke-width="0.22" text-anchor="start" fill="#111" transform="rotate(-90 320.2 252.5)">% IL-17 produing cells</text>
<line x1="337.2" y1="168.6" x2="337.2" y2="258.3" stroke="#aaa" stroke-width="0.9"/>
<line x1="337.2" y1="258.3" x2="397.0" y2="258.3" stroke="#aaa" stroke-width="0.9"/>
<line x1="335.2" y1="258.3" x2="337.2" y2="258.3" stroke="#aaa" stroke-width="0.8"/>
<text x="331.9" y="260.40000000000003" font-size="6" text-anchor="end" fill="#333">0</text>
<line x1="335.2" y1="232.70000000000002" x2="337.2" y2="232.70000000000002" stroke="#aaa" stroke-width="0.8"/>
<text x="331.9" y="234.8" font-size="6" text-anchor="end" fill="#333">10</text>
<line x1="335.2" y1="207.10000000000002" x2="337.2" y2="207.10000000000002" stroke="#aaa" stroke-width="0.8"/>
<text x="331.9" y="209.20000000000002" font-size="6" text-anchor="end" fill="#333">20</text>
<line x1="335.2" y1="181.5" x2="337.2" y2="181.5" stroke="#aaa" stroke-width="0.8"/>
<text x="331.9" y="183.6" font-size="6" text-anchor="end" fill="#333">30</text>
<line x1="367.0" y1="258.3" x2="367.0" y2="260.3" stroke="#aaa" stroke-width="0.8"/>
<line x1="397.0" y1="258.3" x2="397.0" y2="260.3" stroke="#aaa" stroke-width="0.8"/>
<line x1="352.0" y1="214.78" x2="382.5" y2="184.06" stroke="#000" stroke-width="1.6" stroke-linecap="round"/>
<line x1="352.0" y1="249.084" x2="382.5" y2="221.692" stroke="#000" stroke-width="1.6" stroke-linecap="round"/>
<line x1="352.0" y1="248.06" x2="382.5" y2="232.70000000000002" stroke="#000" stroke-width="1.6" stroke-linecap="round"/>
<line x1="352.0" y1="254.716" x2="382.5" y2="235.26000000000002" stroke="#000" stroke-width="1.6" stroke-linecap="round"/>
<line x1="352.0" y1="255.228" x2="382.5" y2="233.21200000000002" stroke="#000" stroke-width="1.6" stroke-linecap="round"/>
<text x="346.15" y="274.75" font-size="5.75" text-anchor="middle" dominant-baseline="central" fill="#222" stroke="#222" stroke-width="0.18" transform="rotate(-51.5 346.15 274.75)">IL-2 + IL-15</text>
<text x="373.75" y="274.75" font-size="5.75" text-anchor="middle" dominant-baseline="central" fill="#222" stroke="#222" stroke-width="0.18" transform="rotate(-51.5 373.75 274.75)">IL-2 + IL-15</text>
<text x="380.15" y="278.25" font-size="5.75" text-anchor="middle" dominant-baseline="central" fill="#222" stroke="#222" stroke-width="0.18" transform="rotate(-51.5 380.15 278.25)">+ IL-23</text>
<line x1="419.1" y1="168.6" x2="419.1" y2="258.3" stroke="#aaa" stroke-width="0.9"/>
<line x1="419.1" y1="258.3" x2="480.0" y2="258.3" stroke="#aaa" stroke-width="0.9"/>
<line x1="417.1" y1="258.3" x2="419.1" y2="258.3" stroke="#aaa" stroke-width="0.8"/>
<text x="413.8" y="260.40000000000003" font-size="6" text-anchor="end" fill="#333">0</text>
<line x1="417.1" y1="232.70000000000002" x2="419.1" y2="232.70000000000002" stroke="#aaa" stroke-width="0.8"/>
<text x="413.8" y="234.8" font-size="6" text-anchor="end" fill="#333">10</text>
<line x1="417.1" y1="207.10000000000002" x2="419.1" y2="207.10000000000002" stroke="#aaa" stroke-width="0.8"/>
<text x="413.8" y="209.20000000000002" font-size="6" text-anchor="end" fill="#333">20</text>
<line x1="417.1" y1="181.5" x2="419.1" y2="181.5" stroke="#aaa" stroke-width="0.8"/>
<text x="413.8" y="183.6" font-size="6" text-anchor="end" fill="#333">30</text>
<line x1="450.0" y1="258.3" x2="450.0" y2="260.3" stroke="#aaa" stroke-width="0.8"/>
<line x1="480.0" y1="258.3" x2="480.0" y2="260.3" stroke="#aaa" stroke-width="0.8"/>
<line x1="434.5" y1="235.77200000000002" x2="465.0" y2="172.02800000000002" stroke="#000" stroke-width="1.6" stroke-linecap="round"/>
<line x1="434.5" y1="235.77200000000002" x2="465.0" y2="219.9" stroke="#000" stroke-width="1.6" stroke-linecap="round"/>
<line x1="434.5" y1="247.292" x2="465.0" y2="247.292" stroke="#000" stroke-width="1.6" stroke-linecap="round"/>
<line x1="434.5" y1="253.948" x2="465.0" y2="239.868" stroke="#000" stroke-width="1.6" stroke-linecap="round"/>
<line x1="434.5" y1="254.716" x2="465.0" y2="252.412" stroke="#000" stroke-width="1.6" stroke-linecap="round"/>
<line x1="434.5" y1="255.74" x2="465.0" y2="255.74" stroke="#000" stroke-width="1.6" stroke-linecap="round"/>
<text x="428.05" y="274.75" font-size="5.75" text-anchor="middle" dominant-baseline="central" fill="#222" stroke="#222" stroke-width="0.18" transform="rotate(-51.5 428.05 274.75)">IL-2 + IL-15</text>
<text x="455.50" y="274.75" font-size="5.75" text-anchor="middle" dominant-baseline="central" fill="#222" stroke="#222" stroke-width="0.18" transform="rotate(-51.5 455.50 274.75)">IL-2 + IL-15</text>
<text x="461.90" y="278.25" font-size="5.75" text-anchor="middle" dominant-baseline="central" fill="#222" stroke="#222" stroke-width="0.18" transform="rotate(-51.5 461.90 278.25)">+ IL-21</text>
<text x="268.2" y="309.5" font-size="11.8" font-weight="bold" stroke="#111" stroke-width="0.22" text-anchor="start" fill="#111">F</text>
<line x1="295.0" y1="320.5" x2="295.0" y2="435.3" stroke="#aaa" stroke-width="1"/>
<line x1="295.0" y1="435.3" x2="385.0" y2="435.3" stroke="#aaa" stroke-width="1"/>
<line x1="293.0" y1="435.3" x2="295.0" y2="435.3" stroke="#aaa" stroke-width="0.9"/>
<text x="290.0" y="437.90000000000003" font-size="7.3" text-anchor="end" fill="#222">0</text>
<line x1="293.0" y1="416.25" x2="295.0" y2="416.25" stroke="#aaa" stroke-width="0.9"/>
<text x="290.0" y="418.85" font-size="7.3" text-anchor="end" fill="#222">5</text>
<line x1="293.0" y1="397.2" x2="295.0" y2="397.2" stroke="#aaa" stroke-width="0.9"/>
<text x="290.0" y="399.8" font-size="7.3" text-anchor="end" fill="#222">10</text>
<line x1="293.0" y1="378.15000000000003" x2="295.0" y2="378.15000000000003" stroke="#aaa" stroke-width="0.9"/>
<text x="290.0" y="380.75000000000006" font-size="7.3" text-anchor="end" fill="#222">15</text>
<line x1="293.0" y1="359.1" x2="295.0" y2="359.1" stroke="#aaa" stroke-width="0.9"/>
<text x="290.0" y="361.70000000000005" font-size="7.3" text-anchor="end" fill="#222">20</text>
<line x1="293.0" y1="340.05" x2="295.0" y2="340.05" stroke="#aaa" stroke-width="0.9"/>
<text x="290.0" y="342.65000000000003" font-size="7.3" text-anchor="end" fill="#222">25</text>
<line x1="293.0" y1="321.0" x2="295.0" y2="321.0" stroke="#aaa" stroke-width="0.9"/>
<text x="290.0" y="323.6" font-size="7.3" text-anchor="end" fill="#222">30</text>
<line x1="341.3" y1="435.3" x2="341.3" y2="437.8" stroke="#aaa" stroke-width="0.9"/>
<line x1="385.0" y1="435.3" x2="385.0" y2="437.8" stroke="#aaa" stroke-width="0.9"/>
<line x1="318.0" y1="352.62300000000005" x2="362.5" y2="431.49" stroke="#000" stroke-width="1.6"/>
<circle cx="318.0" cy="352.62300000000005" r="2.1" fill="#000"/>
<circle cx="362.5" cy="431.49" r="2.1" fill="#000"/>
<line x1="318.0" y1="401.391" x2="362.5" y2="431.10900000000004" stroke="#000" stroke-width="1.6"/>
<path d="M318.0 398.976L320.31 401.391L318.0 403.80600000000004L315.69 401.391Z" fill="#000"/>
<path d="M362.5 428.694L364.81 431.10900000000004L362.5 433.52400000000006L360.19 431.10900000000004Z" fill="#000"/>
<line x1="318.0" y1="408.249" x2="362.5" y2="433.776" stroke="#000" stroke-width="1.6"/>
<path d="M318.0 405.624L320.625 410.139L315.375 410.139Z" fill="#000"/>
<path d="M362.5 431.151L365.125 435.666L359.875 435.666Z" fill="#000"/>
<text x="273.4" y="378.75" font-size="7.5" font-weight="bold" stroke="#111" stroke-width="0.22" text-anchor="middle" fill="#111" transform="rotate(-90 273.4 378.75)">%-IL17 producing cells</text>
<text x="314.5" y="446.0" font-size="7.5" text-anchor="middle" fill="#222">IL-2 + IL-15</text>
<text x="314.5" y="454.7" font-size="7.5" text-anchor="middle" fill="#222">+IL-1&#946;</text>
<text x="362.5" y="446.0" font-size="7.5" text-anchor="middle" fill="#222">IL-2 + IL-15</text>
<text x="362.5" y="454.7" font-size="7.5" text-anchor="middle" fill="#222">+IL-1&#946;</text>
<text x="362.5" y="463.4" font-size="7.5" text-anchor="middle" fill="#222">+TSA</text>
<line x1="422.0" y1="320.5" x2="422.0" y2="435.0" stroke="#aaa" stroke-width="1"/>
<line x1="422.0" y1="435.0" x2="511.3" y2="435.0" stroke="#aaa" stroke-width="1"/>
<line x1="420.0" y1="435.0" x2="422.0" y2="435.0" stroke="#aaa" stroke-width="0.9"/>
<text x="415.4" y="437.6" font-size="7.3" text-anchor="end" fill="#222">50</text>
<line x1="420.0" y1="378.25" x2="422.0" y2="378.25" stroke="#aaa" stroke-width="0.9"/>
<text x="415.4" y="380.85" font-size="7.3" text-anchor="end" fill="#222">70</text>
<line x1="420.0" y1="321.5" x2="422.0" y2="321.5" stroke="#aaa" stroke-width="0.9"/>
<text x="415.4" y="324.1" font-size="7.3" text-anchor="end" fill="#222">90</text>
<line x1="466.3" y1="435.0" x2="466.3" y2="437.5" stroke="#aaa" stroke-width="0.9"/>
<line x1="511.3" y1="435.0" x2="511.3" y2="437.5" stroke="#aaa" stroke-width="0.9"/>
<line x1="443.8" y1="371.44" x2="488.8" y2="342.78125" stroke="#000" stroke-width="1.6"/>
<path d="M443.8 368.815L446.425 373.33L441.175 373.33Z" fill="#000"/>
<path d="M488.8 340.15625L491.425 344.67125L486.175 344.67125Z" fill="#000"/>
<line x1="443.8" y1="398.39625" x2="488.8" y2="330.29625" stroke="#000" stroke-width="1.6"/>
<path d="M443.8 395.98125L446.11 398.39625L443.8 400.81125000000003L441.49 398.39625Z" fill="#000"/>
<path d="M488.8 327.88124999999997L491.11 330.29625L488.8 332.71125L486.49 330.29625Z" fill="#000"/>
<line x1="443.8" y1="416.55625" x2="488.8" y2="361.225" stroke="#000" stroke-width="1.6"/>
<circle cx="443.8" cy="416.55625" r="2.1" fill="#000"/>
<circle cx="488.8" cy="361.225" r="2.1" fill="#000"/>
<text x="399.3" y="378.1" font-size="7.4" font-weight="bold" stroke="#111" stroke-width="0.22" text-anchor="middle" fill="#111" transform="rotate(-90 399.3 378.1)">%-Foxp3+ cells</text>
<text x="442.5" y="444.3" font-size="7.5" text-anchor="middle" fill="#222">IL-2 + IL-15</text>
<text x="442.5" y="453.8" font-size="7.5" text-anchor="middle" fill="#222">+IL-1&#946;</text>
<text x="490.0" y="444.3" font-size="7.5" text-anchor="middle" fill="#222">IL-2 + IL-15</text>
<text x="490.0" y="453.8" font-size="7.5" text-anchor="middle" fill="#222">+IL-1&#946;</text>
<text x="490.0" y="463.3" font-size="7.5" text-anchor="middle" fill="#222">+TSA</text>
</svg></body></html>
